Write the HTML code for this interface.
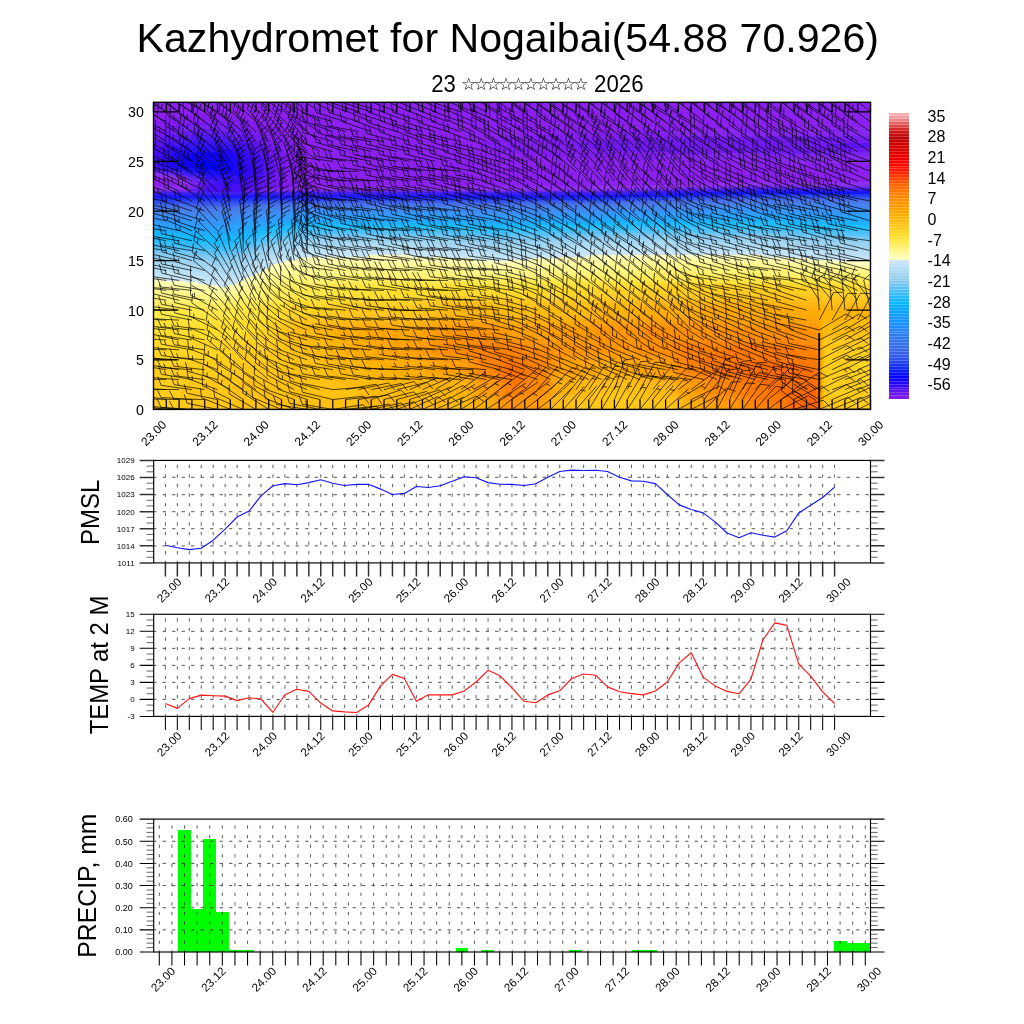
<!DOCTYPE html>
<html lang="en"><head><meta charset="utf-8"><title>Kazhydromet for Nogaibai(54.88 70.926)</title>
<style>html,body{margin:0;padding:0;background:#fff;overflow:hidden}svg{display:block}text{font-family:"Liberation Sans", "DejaVu Sans", sans-serif;fill:#000}</style>
</head><body>
<svg width="1024" height="1024" viewBox="0 0 1024 1024">
<rect width="1024" height="1024" fill="#fff"/>
<text x="136.6" y="52.4" font-size="41" textLength="742.4" lengthAdjust="spacingAndGlyphs">Kazhydromet for Nogaibai(54.88 70.926)</text>
<text x="431.3" y="91.8" font-size="23" textLength="24.6" lengthAdjust="spacingAndGlyphs">23</text>
<text x="460.9" y="89.9" font-size="17.2" textLength="127.8" lengthAdjust="spacing" style="font-family:'Liberation Sans','DejaVu Sans',sans-serif">☆☆☆☆☆☆☆☆☆☆</text>
<text x="594.1" y="91.8" font-size="23" textLength="49.5" lengthAdjust="spacingAndGlyphs">2026</text>
<clipPath id="mc"><rect x="153.5" y="102.3" width="717.0" height="307.1"/></clipPath>
<g clip-path="url(#mc)">
<rect x="153.5" y="102.3" width="717.0" height="307.1" fill="#9121f0"/>
<!--FIELD-->
<g shape-rendering="crispEdges">
<path fill="#8c20f0" d="M153.5 102.3h717v1.8h-717zM153.5 103.8h717v1.8h-717zM153.5 105.3h717v1.8h-717zM153.5 106.8h717v1.8h-717zM153.5 108.3h717v1.8h-717zM153.5 109.8h717v1.8h-717zM153.5 111.3h717v1.8h-717zM153.5 112.8h717v1.8h-717zM153.5 114.3h42v1.8h-42zM215.5 114.3h655v1.8h-655zM153.5 115.8h28v1.8h-28zM229.5 115.8h641v1.8h-641zM153.5 117.3h18v1.8h-18zM237.5 117.3h633v1.8h-633zM153.5 118.8h12v1.8h-12zM245.5 118.8h625v1.8h-625zM153.5 120.3h6v1.8h-6zM249.5 120.3h621v1.8h-621zM153.5 121.8h2v1.8h-2zM255.5 121.8h615v1.8h-615zM259.5 123.3h611v1.8h-611zM263.5 124.8h607v1.8h-607zM267.5 126.3h603v1.8h-603zM269.5 127.8h506v1.8h-506zM273.5 129.3h426v1.8h-426zM275.5 130.8h344v1.8h-344zM279.5 132.3h290v1.8h-290zM281.5 133.8h260v1.8h-260zM283.5 135.3h238v1.8h-238zM285.5 136.8h222v1.8h-222zM287.5 138.3h210v1.8h-210zM289.5 139.8h202v1.8h-202zM291.5 141.3h194v1.8h-194zM291.5 142.8h192v1.8h-192zM293.5 144.3h188v1.8h-188zM295.5 145.8h188v1.8h-188zM295.5 147.3h190v1.8h-190zM297.5 148.8h194v1.8h-194zM297.5 150.3h200v1.8h-200zM299.5 151.8h210v1.8h-210zM299.5 153.3h224v1.8h-224zM299.5 154.8h244v1.8h-244zM299.5 156.3h272v1.8h-272zM301.5 157.8h322v1.8h-322zM301.5 159.3h402v1.8h-402zM301.5 160.8h480v1.8h-480zM301.5 162.3h569v1.8h-569zM301.5 163.8h569v1.8h-569zM301.5 165.3h569v1.8h-569zM301.5 166.8h569v1.8h-569zM301.5 168.3h569v1.8h-569zM301.5 169.8h569v1.8h-569zM301.5 171.3h569v1.8h-569zM299.5 172.8h571v1.8h-571zM299.5 174.3h571v1.8h-571zM153.5 175.8h2v1.8h-2zM299.5 175.8h571v1.8h-571zM153.5 177.3h12v1.8h-12zM299.5 177.3h571v1.8h-571zM153.5 178.8h20v1.8h-20zM297.5 178.8h573v1.8h-573zM153.5 180.3h24v1.8h-24zM297.5 180.3h573v1.8h-573zM153.5 181.8h28v1.8h-28zM297.5 181.8h452v1.8h-452zM153.5 183.3h34v1.8h-34zM295.5 183.3h394v1.8h-394zM153.5 184.8h28v1.8h-28zM295.5 184.8h334v1.8h-334zM293.5 186.3h14v1.8h-14z"/>
<path fill="#811df0" d="M195.5 114.3h20v1.8h-20zM181.5 115.8h48v1.8h-48zM171.5 117.3h66v1.8h-66zM165.5 118.8h80v1.8h-80zM159.5 120.3h90v1.8h-90zM155.5 121.8h100v1.8h-100zM153.5 123.3h34v1.8h-34zM221.5 123.3h38v1.8h-38zM153.5 124.8h26v1.8h-26zM231.5 124.8h32v1.8h-32zM153.5 126.3h18v1.8h-18zM237.5 126.3h30v1.8h-30zM153.5 127.8h12v1.8h-12zM243.5 127.8h26v1.8h-26zM153.5 129.3h8v1.8h-8zM249.5 129.3h24v1.8h-24zM153.5 130.8h4v1.8h-4zM253.5 130.8h22v1.8h-22zM619.5 130.8h46v1.8h-46zM255.5 132.3h24v1.8h-24zM569.5 132.3h86v1.8h-86zM259.5 133.8h22v1.8h-22zM541.5 133.8h126v1.8h-126zM263.5 135.3h20v1.8h-20zM521.5 135.3h196v1.8h-196zM265.5 136.8h20v1.8h-20zM507.5 136.8h160v1.8h-160zM267.5 138.3h20v1.8h-20zM497.5 138.3h126v1.8h-126zM269.5 139.8h20v1.8h-20zM491.5 139.8h108v1.8h-108zM271.5 141.3h20v1.8h-20zM485.5 141.3h100v1.8h-100zM273.5 142.8h18v1.8h-18zM483.5 142.8h94v1.8h-94zM275.5 144.3h18v1.8h-18zM481.5 144.3h94v1.8h-94zM277.5 145.8h18v1.8h-18zM483.5 145.8h94v1.8h-94zM279.5 147.3h16v1.8h-16zM485.5 147.3h100v1.8h-100zM279.5 148.8h18v1.8h-18zM491.5 148.8h108v1.8h-108zM281.5 150.3h16v1.8h-16zM497.5 150.3h128v1.8h-128zM281.5 151.8h18v1.8h-18zM509.5 151.8h162v1.8h-162zM283.5 153.3h16v1.8h-16zM523.5 153.3h188v1.8h-188zM283.5 154.8h16v1.8h-16zM543.5 154.8h122v1.8h-122zM283.5 156.3h16v1.8h-16zM571.5 156.3h84v1.8h-84zM285.5 157.8h16v1.8h-16zM623.5 157.8h42v1.8h-42zM285.5 159.3h16v1.8h-16zM285.5 160.8h16v1.8h-16zM285.5 162.3h16v1.8h-16zM285.5 163.8h16v1.8h-16zM285.5 165.3h16v1.8h-16zM285.5 166.8h16v1.8h-16zM285.5 168.3h16v1.8h-16zM285.5 169.8h16v1.8h-16zM285.5 171.3h16v1.8h-16zM285.5 172.8h14v1.8h-14zM285.5 174.3h14v1.8h-14zM283.5 175.8h16v1.8h-16zM283.5 177.3h16v1.8h-16zM283.5 178.8h14v1.8h-14zM281.5 180.3h16v1.8h-16zM281.5 181.8h16v1.8h-16zM187.5 183.3h6v1.8h-6zM279.5 183.3h16v1.8h-16zM189.5 184.8h4v1.8h-4zM279.5 184.8h16v1.8h-16zM277.5 186.3h16v1.8h-16zM275.5 187.8h6v1.8h-6z"/>
<path fill="#7119f0" d="M187.5 123.3h34v1.8h-34zM179.5 124.8h16v1.8h-16zM213.5 124.8h18v1.8h-18zM171.5 126.3h16v1.8h-16zM223.5 126.3h14v1.8h-14zM165.5 127.8h18v1.8h-18zM227.5 127.8h16v1.8h-16zM161.5 129.3h18v1.8h-18zM231.5 129.3h18v1.8h-18zM157.5 130.8h18v1.8h-18zM233.5 130.8h20v1.8h-20zM153.5 132.3h20v1.8h-20zM237.5 132.3h18v1.8h-18zM153.5 133.8h18v1.8h-18zM239.5 133.8h20v1.8h-20zM153.5 135.3h12v1.8h-12zM243.5 135.3h20v1.8h-20zM153.5 136.8h10v1.8h-10zM247.5 136.8h18v1.8h-18zM667.5 136.8h178v1.8h-178zM153.5 138.3h6v1.8h-6zM251.5 138.3h16v1.8h-16zM623.5 138.3h247v1.8h-247zM153.5 139.8h2v1.8h-2zM253.5 139.8h16v1.8h-16zM599.5 139.8h271v1.8h-271zM257.5 141.3h14v1.8h-14zM585.5 141.3h285v1.8h-285zM259.5 142.8h14v1.8h-14zM577.5 142.8h262v1.8h-262zM261.5 144.3h14v1.8h-14zM575.5 144.3h254v1.8h-254zM263.5 145.8h14v1.8h-14zM577.5 145.8h264v1.8h-264zM265.5 147.3h14v1.8h-14zM585.5 147.3h285v1.8h-285zM265.5 148.8h14v1.8h-14zM599.5 148.8h271v1.8h-271zM267.5 150.3h14v1.8h-14zM625.5 150.3h245v1.8h-245zM269.5 151.8h12v1.8h-12zM671.5 151.8h162v1.8h-162zM269.5 153.3h14v1.8h-14zM271.5 154.8h12v1.8h-12zM271.5 156.3h12v1.8h-12zM271.5 157.8h14v1.8h-14zM273.5 159.3h12v1.8h-12zM273.5 160.8h12v1.8h-12zM273.5 162.3h12v1.8h-12zM273.5 163.8h12v1.8h-12zM273.5 165.3h12v1.8h-12zM273.5 166.8h12v1.8h-12zM273.5 168.3h12v1.8h-12zM273.5 169.8h12v1.8h-12zM273.5 171.3h12v1.8h-12zM273.5 172.8h12v1.8h-12zM273.5 174.3h12v1.8h-12zM271.5 175.8h12v1.8h-12zM271.5 177.3h12v1.8h-12zM269.5 178.8h14v1.8h-14zM269.5 180.3h12v1.8h-12zM267.5 181.8h14v1.8h-14zM193.5 183.3h6v1.8h-6zM267.5 183.3h12v1.8h-12zM193.5 184.8h6v1.8h-6zM265.5 184.8h14v1.8h-14zM263.5 186.3h14v1.8h-14zM261.5 187.8h14v1.8h-14zM259.5 189.3h2v1.8h-2z"/>
<path fill="#7722f1" d="M195.5 124.8h18v1.8h-18zM187.5 126.3h36v1.8h-36zM183.5 127.8h44v1.8h-44zM179.5 129.3h14v1.8h-14zM217.5 129.3h14v1.8h-14zM175.5 130.8h8v1.8h-8zM227.5 130.8h6v1.8h-6zM173.5 132.3h2v1.8h-2zM233.5 132.3h4v1.8h-4zM749.5 135.3h121v1.8h-121zM845.5 136.8h25v1.8h-25zM833.5 151.8h37v1.8h-37zM757.5 153.3h113v1.8h-113zM189.5 180.3h6v1.8h-6zM191.5 181.8h6v1.8h-6zM191.5 186.3h6v1.8h-6zM187.5 187.8h8v1.8h-8zM189.5 189.3h2v1.8h-2zM261.5 189.3h8v1.8h-8z"/>
<path fill="#9029f1" d="M775.5 127.8h95v1.8h-95zM699.5 129.3h34v1.8h-34zM703.5 159.3h42v1.8h-42zM781.5 160.8h89v1.8h-89zM155.5 175.8h4v1.8h-4zM165.5 177.3h4v1.8h-4zM173.5 178.8h2v1.8h-2zM177.5 180.3h4v1.8h-4zM181.5 181.8h6v1.8h-6zM749.5 181.8h121v1.8h-121zM689.5 183.3h22v1.8h-22zM181.5 184.8h6v1.8h-6zM629.5 184.8h22v1.8h-22zM153.5 186.3h30v1.8h-30zM307.5 186.3h284v1.8h-284z"/>
<path fill="#621cf1" d="M193.5 129.3h24v1.8h-24zM183.5 130.8h44v1.8h-44zM175.5 132.3h58v1.8h-58zM173.5 133.8h64v1.8h-64zM171.5 135.3h20v1.8h-20zM219.5 135.3h20v1.8h-20zM171.5 136.8h12v1.8h-12zM227.5 136.8h12v1.8h-12zM169.5 138.3h8v1.8h-8zM233.5 138.3h6v1.8h-6zM169.5 139.8h4v1.8h-4zM237.5 139.8h2v1.8h-2zM195.5 180.3h8v1.8h-8zM197.5 181.8h8v1.8h-8zM197.5 186.3h2v1.8h-2zM195.5 187.8h8v1.8h-8zM191.5 189.3h10v1.8h-10zM197.5 190.8h2v1.8h-2zM243.5 190.8h4v1.8h-4z"/>
<path fill="#8626f1" d="M733.5 129.3h137v1.8h-137zM665.5 130.8h205v1.8h-205zM655.5 132.3h215v1.8h-215zM667.5 133.8h203v1.8h-203zM717.5 135.3h32v1.8h-32zM711.5 153.3h46v1.8h-46zM665.5 154.8h205v1.8h-205zM655.5 156.3h215v1.8h-215zM665.5 157.8h205v1.8h-205zM745.5 159.3h125v1.8h-125zM183.5 180.3h6v1.8h-6zM187.5 181.8h4v1.8h-4zM187.5 184.8h2v1.8h-2zM183.5 186.3h8v1.8h-8zM185.5 187.8h2v1.8h-2zM281.5 187.8h8v1.8h-8z"/>
<path fill="#5b13f0" d="M171.5 133.8h2v1.8h-2zM237.5 133.8h2v1.8h-2zM165.5 135.3h6v1.8h-6zM239.5 135.3h4v1.8h-4zM163.5 136.8h8v1.8h-8zM239.5 136.8h8v1.8h-8zM159.5 138.3h10v1.8h-10zM239.5 138.3h12v1.8h-12zM155.5 139.8h14v1.8h-14zM239.5 139.8h14v1.8h-14zM153.5 141.3h16v1.8h-16zM241.5 141.3h16v1.8h-16zM153.5 142.8h12v1.8h-12zM245.5 142.8h14v1.8h-14zM839.5 142.8h31v1.8h-31zM153.5 144.3h10v1.8h-10zM247.5 144.3h14v1.8h-14zM829.5 144.3h41v1.8h-41zM153.5 145.8h6v1.8h-6zM249.5 145.8h14v1.8h-14zM841.5 145.8h29v1.8h-29zM153.5 147.3h4v1.8h-4zM251.5 147.3h14v1.8h-14zM153.5 148.8h2v1.8h-2zM253.5 148.8h12v1.8h-12zM255.5 150.3h12v1.8h-12zM257.5 151.8h12v1.8h-12zM259.5 153.3h10v1.8h-10zM259.5 154.8h12v1.8h-12zM261.5 156.3h10v1.8h-10zM261.5 157.8h10v1.8h-10zM263.5 159.3h10v1.8h-10zM263.5 160.8h10v1.8h-10zM263.5 162.3h10v1.8h-10zM263.5 163.8h10v1.8h-10zM263.5 165.3h10v1.8h-10zM263.5 166.8h10v1.8h-10zM263.5 168.3h10v1.8h-10zM263.5 169.8h10v1.8h-10zM263.5 171.3h10v1.8h-10zM263.5 172.8h10v1.8h-10zM261.5 174.3h12v1.8h-12zM261.5 175.8h10v1.8h-10zM259.5 177.3h12v1.8h-12zM259.5 178.8h10v1.8h-10zM257.5 180.3h12v1.8h-12zM255.5 181.8h12v1.8h-12zM199.5 183.3h8v1.8h-8zM253.5 183.3h14v1.8h-14zM199.5 184.8h8v1.8h-8zM251.5 184.8h14v1.8h-14zM199.5 186.3h8v1.8h-8zM249.5 186.3h14v1.8h-14zM203.5 187.8h2v1.8h-2zM247.5 187.8h14v1.8h-14zM245.5 189.3h14v1.8h-14z"/>
<path fill="#4d18f3" d="M191.5 135.3h28v1.8h-28zM183.5 136.8h44v1.8h-44zM177.5 138.3h56v1.8h-56zM173.5 139.8h28v1.8h-28zM209.5 139.8h28v1.8h-28zM171.5 141.3h18v1.8h-18zM221.5 141.3h18v1.8h-18zM171.5 142.8h10v1.8h-10zM227.5 142.8h10v1.8h-10zM173.5 144.3h4v1.8h-4zM233.5 144.3h2v1.8h-2zM153.5 166.8h6v1.8h-6zM153.5 168.3h10v1.8h-10zM165.5 169.8h2v1.8h-2zM199.5 178.8h8v1.8h-8zM203.5 180.3h10v1.8h-10zM205.5 181.8h12v1.8h-12zM201.5 189.3h2v1.8h-2zM199.5 190.8h6v1.8h-6zM239.5 190.8h4v1.8h-4z"/>
<path fill="#3a14f6" d="M201.5 139.8h8v1.8h-8zM189.5 141.3h32v1.8h-32zM181.5 142.8h46v1.8h-46zM177.5 144.3h56v1.8h-56zM175.5 145.8h20v1.8h-20zM215.5 145.8h18v1.8h-18zM179.5 147.3h8v1.8h-8zM223.5 147.3h8v1.8h-8zM159.5 166.8h10v1.8h-10zM163.5 168.3h10v1.8h-10zM167.5 169.8h10v1.8h-10zM205.5 177.3h10v1.8h-10zM231.5 177.3h6v1.8h-6zM207.5 178.8h30v1.8h-30zM213.5 180.3h20v1.8h-20zM217.5 181.8h4v1.8h-4z"/>
<path fill="#460ef2" d="M169.5 141.3h2v1.8h-2zM239.5 141.3h2v1.8h-2zM165.5 142.8h6v1.8h-6zM237.5 142.8h8v1.8h-8zM163.5 144.3h10v1.8h-10zM235.5 144.3h12v1.8h-12zM159.5 145.8h14v1.8h-14zM235.5 145.8h14v1.8h-14zM157.5 147.3h14v1.8h-14zM239.5 147.3h12v1.8h-12zM155.5 148.8h12v1.8h-12zM241.5 148.8h12v1.8h-12zM153.5 150.3h12v1.8h-12zM243.5 150.3h12v1.8h-12zM153.5 151.8h10v1.8h-10zM245.5 151.8h12v1.8h-12zM153.5 153.3h8v1.8h-8zM247.5 153.3h12v1.8h-12zM153.5 154.8h8v1.8h-8zM249.5 154.8h10v1.8h-10zM153.5 156.3h6v1.8h-6zM251.5 156.3h10v1.8h-10zM153.5 157.8h6v1.8h-6zM251.5 157.8h10v1.8h-10zM153.5 159.3h4v1.8h-4zM251.5 159.3h12v1.8h-12zM153.5 160.8h4v1.8h-4zM253.5 160.8h10v1.8h-10zM153.5 162.3h4v1.8h-4zM253.5 162.3h10v1.8h-10zM153.5 163.8h4v1.8h-4zM253.5 163.8h10v1.8h-10zM153.5 165.3h4v1.8h-4zM253.5 165.3h10v1.8h-10zM253.5 166.8h10v1.8h-10zM253.5 168.3h10v1.8h-10zM253.5 169.8h10v1.8h-10zM253.5 171.3h10v1.8h-10zM251.5 172.8h12v1.8h-12zM251.5 174.3h10v1.8h-10zM249.5 175.8h12v1.8h-12zM247.5 177.3h12v1.8h-12zM245.5 178.8h14v1.8h-14zM243.5 180.3h14v1.8h-14zM239.5 181.8h16v1.8h-16zM207.5 183.3h16v1.8h-16zM233.5 183.3h20v1.8h-20zM207.5 184.8h44v1.8h-44zM207.5 186.3h42v1.8h-42zM205.5 187.8h42v1.8h-42zM203.5 189.3h42v1.8h-42zM205.5 190.8h34v1.8h-34z"/>
<path fill="#320af6" d="M173.5 145.8h2v1.8h-2zM233.5 145.8h2v1.8h-2zM171.5 147.3h8v1.8h-8zM231.5 147.3h8v1.8h-8zM167.5 148.8h16v1.8h-16zM227.5 148.8h14v1.8h-14zM165.5 150.3h14v1.8h-14zM231.5 150.3h12v1.8h-12zM163.5 151.8h14v1.8h-14zM233.5 151.8h12v1.8h-12zM161.5 153.3h12v1.8h-12zM235.5 153.3h12v1.8h-12zM161.5 154.8h10v1.8h-10zM237.5 154.8h12v1.8h-12zM159.5 156.3h12v1.8h-12zM239.5 156.3h12v1.8h-12zM159.5 157.8h10v1.8h-10zM241.5 157.8h10v1.8h-10zM157.5 159.3h10v1.8h-10zM241.5 159.3h10v1.8h-10zM157.5 160.8h10v1.8h-10zM243.5 160.8h10v1.8h-10zM157.5 162.3h10v1.8h-10zM243.5 162.3h10v1.8h-10zM157.5 163.8h10v1.8h-10zM243.5 163.8h10v1.8h-10zM157.5 165.3h10v1.8h-10zM243.5 165.3h10v1.8h-10zM243.5 166.8h10v1.8h-10zM243.5 168.3h10v1.8h-10zM243.5 169.8h10v1.8h-10zM243.5 171.3h10v1.8h-10zM241.5 172.8h10v1.8h-10zM239.5 174.3h12v1.8h-12zM235.5 175.8h14v1.8h-14zM237.5 177.3h10v1.8h-10zM237.5 178.8h8v1.8h-8zM233.5 180.3h10v1.8h-10zM221.5 181.8h18v1.8h-18zM223.5 183.3h10v1.8h-10z"/>
<path fill="#2910fa" d="M195.5 145.8h20v1.8h-20zM187.5 147.3h36v1.8h-36zM183.5 148.8h42v1.8h-42zM191.5 150.3h26v1.8h-26zM169.5 166.8h4v1.8h-4zM173.5 168.3h10v1.8h-10zM177.5 169.8h10v1.8h-10zM185.5 171.3h10v1.8h-10zM195.5 172.8h8v1.8h-8zM225.5 172.8h2v1.8h-2zM201.5 174.3h32v1.8h-32zM205.5 175.8h30v1.8h-30zM215.5 177.3h16v1.8h-16z"/>
<path fill="#2006f9" d="M225.5 148.8h2v1.8h-2zM179.5 150.3h12v1.8h-12zM217.5 150.3h14v1.8h-14zM177.5 151.8h20v1.8h-20zM213.5 151.8h20v1.8h-20zM173.5 153.3h18v1.8h-18zM219.5 153.3h16v1.8h-16zM171.5 154.8h16v1.8h-16zM223.5 154.8h14v1.8h-14zM171.5 156.3h12v1.8h-12zM225.5 156.3h14v1.8h-14zM169.5 157.8h12v1.8h-12zM229.5 157.8h12v1.8h-12zM167.5 159.3h12v1.8h-12zM229.5 159.3h12v1.8h-12zM167.5 160.8h12v1.8h-12zM231.5 160.8h12v1.8h-12zM167.5 162.3h10v1.8h-10zM231.5 162.3h12v1.8h-12zM167.5 163.8h10v1.8h-10zM233.5 163.8h10v1.8h-10zM167.5 165.3h12v1.8h-12zM233.5 165.3h10v1.8h-10zM173.5 166.8h8v1.8h-8zM233.5 166.8h10v1.8h-10zM233.5 168.3h10v1.8h-10zM231.5 169.8h12v1.8h-12zM229.5 171.3h14v1.8h-14zM227.5 172.8h14v1.8h-14zM233.5 174.3h6v1.8h-6z"/>
<path fill="#1003fc" d="M197.5 151.8h16v1.8h-16zM191.5 153.3h28v1.8h-28zM187.5 154.8h36v1.8h-36zM183.5 156.3h42v1.8h-42zM181.5 157.8h48v1.8h-48zM179.5 159.3h50v1.8h-50zM179.5 160.8h20v1.8h-20zM211.5 160.8h20v1.8h-20zM177.5 162.3h18v1.8h-18zM215.5 162.3h16v1.8h-16zM177.5 163.8h18v1.8h-18zM215.5 163.8h18v1.8h-18zM179.5 165.3h16v1.8h-16zM217.5 165.3h16v1.8h-16zM181.5 166.8h16v1.8h-16zM215.5 166.8h18v1.8h-18zM197.5 168.3h8v1.8h-8zM211.5 168.3h22v1.8h-22zM211.5 169.8h20v1.8h-20zM219.5 171.3h10v1.8h-10z"/>
<path fill="#0000ff" d="M199.5 160.8h12v1.8h-12zM195.5 162.3h20v1.8h-20zM195.5 163.8h20v1.8h-20zM195.5 165.3h22v1.8h-22zM197.5 166.8h18v1.8h-18zM205.5 168.3h6v1.8h-6z"/>
<path fill="#1a0dfc" d="M183.5 168.3h14v1.8h-14zM187.5 169.8h24v1.8h-24zM195.5 171.3h24v1.8h-24zM203.5 172.8h22v1.8h-22z"/>
<path fill="#6927f1" d="M153.5 169.8h6v1.8h-6zM155.5 171.3h10v1.8h-10zM163.5 172.8h8v1.8h-8zM173.5 174.3h6v1.8h-6zM179.5 175.8h8v1.8h-8zM187.5 177.3h6v1.8h-6zM191.5 178.8h8v1.8h-8zM735.5 186.3h135v1.8h-135zM675.5 187.8h46v1.8h-46zM615.5 189.3h46v1.8h-46zM153.5 190.8h44v1.8h-44zM247.5 190.8h354v1.8h-354z"/>
<path fill="#5622f3" d="M159.5 169.8h6v1.8h-6zM165.5 171.3h8v1.8h-8zM171.5 172.8h10v1.8h-10zM179.5 174.3h8v1.8h-8zM187.5 175.8h8v1.8h-8zM193.5 177.3h8v1.8h-8zM721.5 187.8h149v1.8h-149zM661.5 189.3h46v1.8h-46zM601.5 190.8h46v1.8h-46z"/>
<path fill="#7d2df1" d="M153.5 171.3h2v1.8h-2zM155.5 172.8h8v1.8h-8zM165.5 174.3h8v1.8h-8zM173.5 175.8h6v1.8h-6zM181.5 177.3h6v1.8h-6zM185.5 178.8h6v1.8h-6zM747.5 184.8h123v1.8h-123zM687.5 186.3h48v1.8h-48zM627.5 187.8h48v1.8h-48zM153.5 189.3h36v1.8h-36zM269.5 189.3h346v1.8h-346z"/>
<path fill="#431ff7" d="M173.5 171.3h10v1.8h-10zM181.5 172.8h8v1.8h-8zM187.5 174.3h10v1.8h-10zM195.5 175.8h10v1.8h-10zM201.5 177.3h4v1.8h-4zM707.5 189.3h48v1.8h-48zM647.5 190.8h48v1.8h-48zM153.5 192.3h482v1.8h-482z"/>
<path fill="#331cfa" d="M183.5 171.3h2v1.8h-2zM189.5 172.8h6v1.8h-6zM197.5 174.3h4v1.8h-4zM755.5 189.3h115v1.8h-115zM695.5 190.8h46v1.8h-46zM635.5 192.3h46v1.8h-46zM153.5 193.8h468v1.8h-468z"/>
<path fill="#8c30f1" d="M153.5 172.8h2v1.8h-2zM157.5 174.3h8v1.8h-8zM167.5 175.8h6v1.8h-6zM175.5 177.3h6v1.8h-6zM181.5 178.8h4v1.8h-4zM761.5 183.3h109v1.8h-109zM701.5 184.8h46v1.8h-46zM641.5 186.3h46v1.8h-46zM153.5 187.8h32v1.8h-32zM289.5 187.8h338v1.8h-338z"/>
<path fill="#9633f1" d="M153.5 174.3h4v1.8h-4zM159.5 175.8h8v1.8h-8zM169.5 177.3h6v1.8h-6zM175.5 178.8h6v1.8h-6zM181.5 180.3h2v1.8h-2zM711.5 183.3h50v1.8h-50zM651.5 184.8h50v1.8h-50zM591.5 186.3h50v1.8h-50z"/>
<path fill="#2419fc" d="M741.5 190.8h129v1.8h-129zM681.5 192.3h46v1.8h-46zM621.5 193.8h46v1.8h-46zM153.5 195.3h454v1.8h-454z"/>
<path fill="#1616ff" d="M727.5 192.3h143v1.8h-143zM667.5 193.8h42v1.8h-42zM607.5 195.3h42v1.8h-42zM153.5 196.8h150v1.8h-150zM453.5 196.8h98v1.8h-98z"/>
<path fill="#1b24fb" d="M709.5 193.8h36v1.8h-36zM649.5 195.3h34v1.8h-34zM303.5 196.8h150v1.8h-150zM551.5 196.8h70v1.8h-70z"/>
<path fill="#2132f7" d="M745.5 193.8h125v1.8h-125zM683.5 195.3h36v1.8h-36zM621.5 196.8h36v1.8h-36zM153.5 198.3h442v1.8h-442z"/>
<path fill="#283ef5" d="M719.5 195.3h40v1.8h-40zM827.5 195.3h43v1.8h-43zM657.5 196.8h36v1.8h-36zM595.5 198.3h34v1.8h-34zM153.5 199.8h118v1.8h-118z"/>
<path fill="#2f4af2" d="M759.5 195.3h68v1.8h-68zM693.5 196.8h38v1.8h-38zM629.5 198.3h38v1.8h-38zM271.5 199.8h332v1.8h-332zM153.5 201.3h104v1.8h-104z"/>
<path fill="#3755f0" d="M731.5 196.8h139v1.8h-139zM667.5 198.3h38v1.8h-38zM603.5 199.8h34v1.8h-34zM257.5 201.3h36v1.8h-36zM477.5 201.3h44v1.8h-44zM153.5 202.8h94v1.8h-94z"/>
<path fill="#3e5fee" d="M705.5 198.3h40v1.8h-40zM847.5 198.3h23v1.8h-23zM637.5 199.8h40v1.8h-40zM293.5 201.3h184v1.8h-184zM521.5 201.3h88v1.8h-88zM247.5 202.8h22v1.8h-22zM189.5 204.3h50v1.8h-50z"/>
<path fill="#4569eb" d="M745.5 198.3h102v1.8h-102zM677.5 199.8h40v1.8h-40zM609.5 201.3h38v1.8h-38zM269.5 202.8h54v1.8h-54zM433.5 202.8h142v1.8h-142zM153.5 204.3h36v1.8h-36zM239.5 204.3h22v1.8h-22zM207.5 205.8h26v1.8h-26z"/>
<path fill="#4970ea" d="M717.5 199.8h44v1.8h-44zM781.5 199.8h89v1.8h-89zM647.5 201.3h40v1.8h-40zM323.5 202.8h110v1.8h-110zM575.5 202.8h42v1.8h-42zM261.5 204.3h22v1.8h-22zM153.5 205.8h54v1.8h-54zM233.5 205.8h22v1.8h-22z"/>
<path fill="#4975ea" d="M761.5 199.8h20v1.8h-20zM687.5 201.3h42v1.8h-42zM855.5 201.3h15v1.8h-15zM617.5 202.8h40v1.8h-40zM283.5 204.3h310v1.8h-310zM255.5 205.8h14v1.8h-14zM153.5 207.3h96v1.8h-96z"/>
<path fill="#497aea" d="M729.5 201.3h126v1.8h-126zM657.5 202.8h42v1.8h-42zM593.5 204.3h32v1.8h-32zM269.5 205.8h24v1.8h-24zM479.5 205.8h40v1.8h-40zM249.5 207.3h14v1.8h-14zM153.5 208.8h92v1.8h-92z"/>
<path fill="#487eeb" d="M699.5 202.8h46v1.8h-46zM801.5 202.8h69v1.8h-69zM625.5 204.3h42v1.8h-42zM293.5 205.8h186v1.8h-186zM519.5 205.8h80v1.8h-80zM263.5 207.3h14v1.8h-14zM245.5 208.8h14v1.8h-14zM183.5 210.3h58v1.8h-58z"/>
<path fill="#4582ed" d="M745.5 202.8h56v1.8h-56zM667.5 204.3h46v1.8h-46zM859.5 204.3h11v1.8h-11zM599.5 205.8h36v1.8h-36zM277.5 207.3h26v1.8h-26zM453.5 207.3h98v1.8h-98zM259.5 208.8h10v1.8h-10zM153.5 210.3h30v1.8h-30zM241.5 210.3h14v1.8h-14zM195.5 211.8h42v1.8h-42z"/>
<path fill="#4385ef" d="M713.5 204.3h146v1.8h-146zM635.5 205.8h76v1.8h-76zM841.5 205.8h29v1.8h-29zM303.5 207.3h150v1.8h-150zM551.5 207.3h80v1.8h-80zM269.5 208.8h34v1.8h-34zM455.5 208.8h94v1.8h-94zM255.5 210.3h16v1.8h-16zM153.5 211.8h42v1.8h-42zM237.5 211.8h20v1.8h-20zM163.5 213.3h80v1.8h-80z"/>
<path fill="#4189f0" d="M711.5 205.8h130v1.8h-130zM631.5 207.3h80v1.8h-80zM827.5 207.3h43v1.8h-43zM303.5 208.8h152v1.8h-152zM549.5 208.8h76v1.8h-76zM271.5 210.3h30v1.8h-30zM457.5 210.3h90v1.8h-90zM257.5 211.8h16v1.8h-16zM153.5 213.3h10v1.8h-10zM243.5 213.3h18v1.8h-18zM153.5 214.8h94v1.8h-94zM205.5 216.3h28v1.8h-28z"/>
<path fill="#3d8df4" d="M711.5 207.3h116v1.8h-116zM625.5 208.8h84v1.8h-84zM817.5 208.8h53v1.8h-53zM301.5 210.3h156v1.8h-156zM547.5 210.3h74v1.8h-74zM273.5 211.8h28v1.8h-28zM459.5 211.8h86v1.8h-86zM261.5 213.3h12v1.8h-12zM247.5 214.8h16v1.8h-16zM153.5 216.3h52v1.8h-52zM233.5 216.3h18v1.8h-18zM189.5 217.8h50v1.8h-50z"/>
<path fill="#3892f8" d="M709.5 208.8h108v1.8h-108zM621.5 210.3h88v1.8h-88zM811.5 210.3h59v1.8h-59zM301.5 211.8h158v1.8h-158zM545.5 211.8h70v1.8h-70zM273.5 213.3h28v1.8h-28zM461.5 213.3h82v1.8h-82zM263.5 214.8h12v1.8h-12zM251.5 216.3h14v1.8h-14zM153.5 217.8h36v1.8h-36zM239.5 217.8h16v1.8h-16zM163.5 219.3h80v1.8h-80zM213.5 220.8h18v1.8h-18z"/>
<path fill="#3497fd" d="M709.5 210.3h102v1.8h-102zM615.5 211.8h92v1.8h-92zM805.5 211.8h65v1.8h-65zM301.5 213.3h160v1.8h-160zM543.5 213.3h70v1.8h-70zM275.5 214.8h24v1.8h-24zM461.5 214.8h80v1.8h-80zM265.5 216.3h12v1.8h-12zM255.5 217.8h10v1.8h-10zM153.5 219.3h10v1.8h-10zM243.5 219.3h14v1.8h-14zM153.5 220.8h60v1.8h-60zM231.5 220.8h16v1.8h-16zM199.5 222.3h36v1.8h-36z"/>
<path fill="#2f9bff" d="M707.5 211.8h98v1.8h-98zM613.5 213.3h92v1.8h-92zM801.5 213.3h69v1.8h-69zM299.5 214.8h162v1.8h-162zM541.5 214.8h68v1.8h-68zM277.5 216.3h22v1.8h-22zM463.5 216.3h78v1.8h-78zM265.5 217.8h14v1.8h-14zM257.5 219.3h10v1.8h-10zM247.5 220.8h12v1.8h-12zM153.5 222.3h46v1.8h-46zM235.5 222.3h14v1.8h-14zM185.5 223.8h54v1.8h-54zM217.5 225.3h8v1.8h-8z"/>
<path fill="#2c9fff" d="M705.5 213.3h96v1.8h-96zM609.5 214.8h94v1.8h-94zM797.5 214.8h73v1.8h-73zM299.5 216.3h164v1.8h-164zM541.5 216.3h66v1.8h-66zM279.5 217.8h20v1.8h-20zM463.5 217.8h76v1.8h-76zM267.5 219.3h12v1.8h-12zM259.5 220.8h8v1.8h-8zM249.5 222.3h12v1.8h-12zM153.5 223.8h32v1.8h-32zM239.5 223.8h12v1.8h-12zM161.5 225.3h56v1.8h-56zM225.5 225.3h18v1.8h-18zM205.5 226.8h28v1.8h-28z"/>
<path fill="#28a3ff" d="M703.5 214.8h94v1.8h-94zM607.5 216.3h94v1.8h-94zM793.5 216.3h77v1.8h-77zM299.5 217.8h164v1.8h-164zM539.5 217.8h66v1.8h-66zM869.5 217.8h1v1.8h-1zM279.5 219.3h20v1.8h-20zM465.5 219.3h74v1.8h-74zM267.5 220.8h14v1.8h-14zM261.5 222.3h8v1.8h-8zM251.5 223.8h10v1.8h-10zM153.5 225.3h8v1.8h-8zM243.5 225.3h12v1.8h-12zM153.5 226.8h52v1.8h-52zM233.5 226.8h12v1.8h-12zM193.5 228.3h44v1.8h-44z"/>
<path fill="#24a6ff" d="M701.5 216.3h92v1.8h-92zM605.5 217.8h94v1.8h-94zM789.5 217.8h80v1.8h-80zM299.5 219.3h166v1.8h-166zM539.5 219.3h62v1.8h-62zM859.5 219.3h11v1.8h-11zM281.5 220.8h18v1.8h-18zM465.5 220.8h72v1.8h-72zM269.5 222.3h12v1.8h-12zM261.5 223.8h8v1.8h-8zM255.5 225.3h8v1.8h-8zM245.5 226.8h10v1.8h-10zM153.5 228.3h40v1.8h-40zM237.5 228.3h12v1.8h-12zM181.5 229.8h60v1.8h-60zM209.5 231.3h24v1.8h-24z"/>
<path fill="#20abff" d="M699.5 217.8h90v1.8h-90zM601.5 219.3h96v1.8h-96zM787.5 219.3h72v1.8h-72zM299.5 220.8h166v1.8h-166zM537.5 220.8h62v1.8h-62zM851.5 220.8h19v1.8h-19zM281.5 222.3h18v1.8h-18zM465.5 222.3h72v1.8h-72zM269.5 223.8h12v1.8h-12zM263.5 225.3h8v1.8h-8zM255.5 226.8h8v1.8h-8zM249.5 228.3h8v1.8h-8zM153.5 229.8h28v1.8h-28zM241.5 229.8h10v1.8h-10zM161.5 231.3h48v1.8h-48zM233.5 231.3h10v1.8h-10zM199.5 232.8h36v1.8h-36z"/>
<path fill="#1cb1ff" d="M697.5 219.3h90v1.8h-90zM599.5 220.8h96v1.8h-96zM785.5 220.8h66v1.8h-66zM299.5 222.3h166v1.8h-166zM537.5 222.3h60v1.8h-60zM843.5 222.3h27v1.8h-27zM281.5 223.8h18v1.8h-18zM465.5 223.8h72v1.8h-72zM271.5 225.3h12v1.8h-12zM263.5 226.8h8v1.8h-8zM257.5 228.3h8v1.8h-8zM251.5 229.8h8v1.8h-8zM153.5 231.3h8v1.8h-8zM243.5 231.3h10v1.8h-10zM153.5 232.8h46v1.8h-46zM235.5 232.8h10v1.8h-10zM191.5 234.3h48v1.8h-48zM213.5 235.8h18v1.8h-18z"/>
<path fill="#18b7ff" d="M695.5 220.8h90v1.8h-90zM597.5 222.3h94v1.8h-94zM783.5 222.3h60v1.8h-60zM299.5 223.8h166v1.8h-166zM537.5 223.8h58v1.8h-58zM835.5 223.8h35v1.8h-35zM283.5 225.3h16v1.8h-16zM467.5 225.3h68v1.8h-68zM271.5 226.8h12v1.8h-12zM265.5 228.3h6v1.8h-6zM259.5 229.8h6v1.8h-6zM253.5 231.3h6v1.8h-6zM245.5 232.8h10v1.8h-10zM153.5 234.3h38v1.8h-38zM239.5 234.3h8v1.8h-8zM179.5 235.8h34v1.8h-34zM231.5 235.8h10v1.8h-10zM205.5 237.3h28v1.8h-28z"/>
<path fill="#1cbcff" d="M691.5 222.3h92v1.8h-92zM595.5 223.8h140v1.8h-140zM765.5 223.8h70v1.8h-70zM299.5 225.3h168v1.8h-168zM535.5 225.3h68v1.8h-68zM813.5 225.3h57v1.8h-57zM283.5 226.8h20v1.8h-20zM453.5 226.8h98v1.8h-98zM271.5 228.3h16v1.8h-16zM497.5 228.3h6v1.8h-6zM265.5 229.8h10v1.8h-10zM259.5 231.3h10v1.8h-10zM255.5 232.8h8v1.8h-8zM247.5 234.3h10v1.8h-10zM153.5 235.8h26v1.8h-26zM241.5 235.8h4v1.8h-4zM249.5 235.8h2v1.8h-2zM197.5 237.3h8v1.8h-8zM233.5 237.3h4v1.8h-4z"/>
<path fill="#2abffe" d="M735.5 223.8h30v1.8h-30zM603.5 225.3h210v1.8h-210zM303.5 226.8h150v1.8h-150zM551.5 226.8h60v1.8h-60zM797.5 226.8h73v1.8h-73zM287.5 228.3h20v1.8h-20zM439.5 228.3h58v1.8h-58zM503.5 228.3h64v1.8h-64zM847.5 228.3h23v1.8h-23zM275.5 229.8h16v1.8h-16zM485.5 229.8h26v1.8h-26zM269.5 231.3h10v1.8h-10zM263.5 232.8h8v1.8h-8zM257.5 234.3h8v1.8h-8zM251.5 235.8h10v1.8h-10zM249.5 237.3h6v1.8h-6z"/>
<path fill="#39c0fc" d="M611.5 226.8h186v1.8h-186zM307.5 228.3h132v1.8h-132zM567.5 228.3h74v1.8h-74zM781.5 228.3h66v1.8h-66zM291.5 229.8h46v1.8h-46zM425.5 229.8h60v1.8h-60zM511.5 229.8h68v1.8h-68zM823.5 229.8h47v1.8h-47zM279.5 231.3h16v1.8h-16zM473.5 231.3h54v1.8h-54zM271.5 232.8h12v1.8h-12zM265.5 234.3h8v1.8h-8zM261.5 235.8h6v1.8h-6zM255.5 237.3h8v1.8h-8zM249.5 238.8h10v1.8h-10zM249.5 240.3h4v1.8h-4z"/>
<path fill="#49c1fa" d="M641.5 228.3h140v1.8h-140zM337.5 229.8h88v1.8h-88zM579.5 229.8h120v1.8h-120zM767.5 229.8h56v1.8h-56zM295.5 231.3h84v1.8h-84zM405.5 231.3h68v1.8h-68zM527.5 231.3h64v1.8h-64zM807.5 231.3h63v1.8h-63zM283.5 232.8h16v1.8h-16zM461.5 232.8h80v1.8h-80zM855.5 232.8h15v1.8h-15zM273.5 234.3h14v1.8h-14zM499.5 234.3h4v1.8h-4zM267.5 235.8h10v1.8h-10zM263.5 237.3h6v1.8h-6zM259.5 238.8h6v1.8h-6zM253.5 240.3h8v1.8h-8zM249.5 241.8h8v1.8h-8zM249.5 243.3h2v1.8h-2z"/>
<path fill="#59c3f7" d="M699.5 229.8h68v1.8h-68zM379.5 231.3h26v1.8h-26zM591.5 231.3h216v1.8h-216zM299.5 232.8h162v1.8h-162zM541.5 232.8h58v1.8h-58zM793.5 232.8h62v1.8h-62zM287.5 234.3h16v1.8h-16zM451.5 234.3h48v1.8h-48zM503.5 234.3h50v1.8h-50zM833.5 234.3h37v1.8h-37zM277.5 235.8h12v1.8h-12zM487.5 235.8h22v1.8h-22zM269.5 237.3h12v1.8h-12zM265.5 238.8h6v1.8h-6zM261.5 240.3h6v1.8h-6zM257.5 241.8h6v1.8h-6zM251.5 243.3h8v1.8h-8zM249.5 244.8h6v1.8h-6z"/>
<path fill="#6cc6f5" d="M599.5 232.8h194v1.8h-194zM303.5 234.3h148v1.8h-148zM553.5 234.3h52v1.8h-52zM781.5 234.3h52v1.8h-52zM289.5 235.8h18v1.8h-18zM441.5 235.8h46v1.8h-46zM509.5 235.8h56v1.8h-56zM817.5 235.8h53v1.8h-53zM281.5 237.3h12v1.8h-12zM477.5 237.3h44v1.8h-44zM863.5 237.3h7v1.8h-7zM271.5 238.8h12v1.8h-12zM267.5 240.3h8v1.8h-8zM263.5 241.8h6v1.8h-6zM259.5 243.3h6v1.8h-6zM255.5 244.8h6v1.8h-6zM249.5 246.3h8v1.8h-8zM249.5 247.8h4v1.8h-4z"/>
<path fill="#7ec9f2" d="M605.5 234.3h176v1.8h-176zM307.5 235.8h134v1.8h-134zM565.5 235.8h48v1.8h-48zM769.5 235.8h48v1.8h-48zM293.5 237.3h32v1.8h-32zM431.5 237.3h46v1.8h-46zM521.5 237.3h54v1.8h-54zM803.5 237.3h60v1.8h-60zM283.5 238.8h14v1.8h-14zM469.5 238.8h64v1.8h-64zM843.5 238.8h27v1.8h-27zM275.5 240.3h12v1.8h-12zM499.5 240.3h4v1.8h-4zM269.5 241.8h8v1.8h-8zM265.5 243.3h6v1.8h-6zM261.5 244.8h6v1.8h-6zM257.5 246.3h6v1.8h-6zM253.5 247.8h6v1.8h-6zM249.5 249.3h6v1.8h-6zM249.5 250.8h2v1.8h-2z"/>
<path fill="#11b9ff" d="M245.5 235.8h4v1.8h-4zM153.5 237.3h44v1.8h-44zM237.5 237.3h8v1.8h-8zM187.5 238.8h52v1.8h-52zM209.5 240.3h24v1.8h-24z"/>
<path fill="#8dcdf1" d="M613.5 235.8h156v1.8h-156zM325.5 237.3h106v1.8h-106zM575.5 237.3h162v1.8h-162zM757.5 237.3h46v1.8h-46zM297.5 238.8h62v1.8h-62zM413.5 238.8h56v1.8h-56zM533.5 238.8h52v1.8h-52zM791.5 238.8h52v1.8h-52zM287.5 240.3h14v1.8h-14zM459.5 240.3h40v1.8h-40zM503.5 240.3h42v1.8h-42zM823.5 240.3h47v1.8h-47zM277.5 241.8h12v1.8h-12zM491.5 241.8h16v1.8h-16zM869.5 241.8h1v1.8h-1zM271.5 243.3h10v1.8h-10zM267.5 244.8h6v1.8h-6zM263.5 246.3h6v1.8h-6zM259.5 247.8h6v1.8h-6zM255.5 249.3h6v1.8h-6zM251.5 250.8h6v1.8h-6zM249.5 252.3h4v1.8h-4z"/>
<path fill="#20bbfe" d="M245.5 237.3h4v1.8h-4zM153.5 238.8h34v1.8h-34zM239.5 238.8h10v1.8h-10zM157.5 240.3h52v1.8h-52zM233.5 240.3h10v1.8h-10zM193.5 241.8h44v1.8h-44zM211.5 243.3h20v1.8h-20z"/>
<path fill="#99d2f1" d="M737.5 237.3h20v1.8h-20zM359.5 238.8h54v1.8h-54zM585.5 238.8h206v1.8h-206zM301.5 240.3h90v1.8h-90zM397.5 240.3h62v1.8h-62zM545.5 240.3h48v1.8h-48zM779.5 240.3h44v1.8h-44zM289.5 241.8h16v1.8h-16zM449.5 241.8h42v1.8h-42zM507.5 241.8h48v1.8h-48zM811.5 241.8h58v1.8h-58zM281.5 243.3h12v1.8h-12zM481.5 243.3h34v1.8h-34zM849.5 243.3h21v1.8h-21zM273.5 244.8h10v1.8h-10zM269.5 246.3h6v1.8h-6zM265.5 247.8h6v1.8h-6zM261.5 249.3h6v1.8h-6zM257.5 250.8h6v1.8h-6zM253.5 252.3h6v1.8h-6zM249.5 253.8h6v1.8h-6z"/>
<path fill="#30bdfc" d="M153.5 240.3h4v1.8h-4zM243.5 240.3h6v1.8h-6zM153.5 241.8h40v1.8h-40zM237.5 241.8h10v1.8h-10zM169.5 243.3h42v1.8h-42zM231.5 243.3h10v1.8h-10zM197.5 244.8h40v1.8h-40zM215.5 246.3h16v1.8h-16z"/>
<path fill="#a3d6f2" d="M391.5 240.3h6v1.8h-6zM593.5 240.3h78v1.8h-78zM767.5 240.3h12v1.8h-12zM305.5 241.8h144v1.8h-144zM555.5 241.8h60v1.8h-60zM803.5 241.8h8v1.8h-8zM293.5 243.3h6v1.8h-6zM309.5 243.3h32v1.8h-32zM423.5 243.3h16v1.8h-16zM465.5 243.3h16v1.8h-16zM515.5 243.3h24v1.8h-24zM567.5 243.3h14v1.8h-14zM845.5 243.3h4v1.8h-4zM283.5 244.8h4v1.8h-4zM497.5 244.8h6v1.8h-6zM275.5 246.3h2v1.8h-2z"/>
<path fill="#9fd4f1" d="M671.5 240.3h96v1.8h-96zM685.5 241.8h118v1.8h-118zM299.5 243.3h10v1.8h-10zM439.5 243.3h26v1.8h-26zM539.5 243.3h28v1.8h-28zM787.5 243.3h58v1.8h-58zM287.5 244.8h14v1.8h-14zM459.5 244.8h38v1.8h-38zM503.5 244.8h40v1.8h-40zM815.5 244.8h55v1.8h-55zM277.5 246.3h12v1.8h-12zM489.5 246.3h20v1.8h-20zM855.5 246.3h15v1.8h-15zM271.5 247.8h12v1.8h-12zM267.5 249.3h8v1.8h-8zM263.5 250.8h6v1.8h-6zM259.5 252.3h8v1.8h-8zM255.5 253.8h8v1.8h-8zM251.5 255.3h8v1.8h-8zM247.5 256.8h10v1.8h-10zM153.5 258.3h4v1.8h-4zM243.5 258.3h10v1.8h-10zM153.5 259.8h34v1.8h-34zM239.5 259.8h10v1.8h-10zM153.5 261.3h48v1.8h-48zM235.5 261.3h10v1.8h-10zM179.5 262.8h36v1.8h-36zM231.5 262.8h10v1.8h-10zM195.5 264.3h42v1.8h-42zM209.5 265.8h24v1.8h-24z"/>
<path fill="#40bef9" d="M247.5 241.8h2v1.8h-2zM153.5 243.3h16v1.8h-16zM241.5 243.3h8v1.8h-8zM153.5 244.8h44v1.8h-44zM237.5 244.8h8v1.8h-8zM179.5 246.3h36v1.8h-36zM231.5 246.3h10v1.8h-10zM201.5 247.8h34v1.8h-34zM217.5 249.3h8v1.8h-8z"/>
<path fill="#acdaf3" d="M615.5 241.8h56v1.8h-56zM341.5 243.3h82v1.8h-82zM581.5 243.3h90v1.8h-90zM309.5 244.8h130v1.8h-130zM567.5 244.8h36v1.8h-36zM309.5 246.3h2v1.8h-2zM437.5 246.3h2v1.8h-2zM567.5 246.3h2v1.8h-2z"/>
<path fill="#a8d8f3" d="M671.5 241.8h14v1.8h-14zM671.5 243.3h116v1.8h-116zM301.5 244.8h8v1.8h-8zM439.5 244.8h20v1.8h-20zM543.5 244.8h24v1.8h-24zM763.5 244.8h52v1.8h-52zM289.5 246.3h20v1.8h-20zM439.5 246.3h50v1.8h-50zM509.5 246.3h58v1.8h-58zM791.5 246.3h64v1.8h-64zM283.5 247.8h14v1.8h-14zM469.5 247.8h64v1.8h-64zM819.5 247.8h51v1.8h-51zM275.5 249.3h12v1.8h-12zM495.5 249.3h10v1.8h-10zM857.5 249.3h13v1.8h-13zM269.5 250.8h12v1.8h-12zM267.5 252.3h6v1.8h-6zM263.5 253.8h6v1.8h-6zM259.5 255.3h8v1.8h-8zM257.5 256.8h6v1.8h-6zM253.5 258.3h8v1.8h-8zM249.5 259.8h8v1.8h-8zM245.5 261.3h8v1.8h-8zM153.5 262.8h26v1.8h-26zM241.5 262.8h8v1.8h-8zM153.5 264.3h42v1.8h-42zM237.5 264.3h8v1.8h-8zM169.5 265.8h40v1.8h-40zM233.5 265.8h8v1.8h-8zM191.5 267.3h48v1.8h-48zM203.5 268.8h32v1.8h-32zM215.5 270.3h16v1.8h-16z"/>
<path fill="#51c0f7" d="M245.5 244.8h4v1.8h-4zM153.5 246.3h26v1.8h-26zM241.5 246.3h8v1.8h-8zM153.5 247.8h48v1.8h-48zM235.5 247.8h10v1.8h-10zM187.5 249.3h30v1.8h-30zM225.5 249.3h14v1.8h-14zM203.5 250.8h32v1.8h-32z"/>
<path fill="#b4def4" d="M603.5 244.8h68v1.8h-68zM311.5 246.3h126v1.8h-126zM569.5 246.3h102v1.8h-102zM309.5 247.8h68v1.8h-68zM405.5 247.8h34v1.8h-34zM567.5 247.8h24v1.8h-24z"/>
<path fill="#b1dcf4" d="M671.5 244.8h92v1.8h-92zM671.5 246.3h120v1.8h-120zM297.5 247.8h12v1.8h-12zM439.5 247.8h30v1.8h-30zM533.5 247.8h34v1.8h-34zM769.5 247.8h50v1.8h-50zM287.5 249.3h18v1.8h-18zM447.5 249.3h48v1.8h-48zM505.5 249.3h52v1.8h-52zM797.5 249.3h60v1.8h-60zM281.5 250.8h14v1.8h-14zM475.5 250.8h48v1.8h-48zM823.5 250.8h47v1.8h-47zM273.5 252.3h14v1.8h-14zM861.5 252.3h9v1.8h-9zM269.5 253.8h10v1.8h-10zM267.5 255.3h6v1.8h-6zM263.5 256.8h6v1.8h-6zM261.5 258.3h6v1.8h-6zM257.5 259.8h6v1.8h-6zM253.5 261.3h8v1.8h-8zM249.5 262.8h8v1.8h-8zM245.5 264.3h8v1.8h-8zM153.5 265.8h16v1.8h-16zM241.5 265.8h10v1.8h-10zM153.5 267.3h38v1.8h-38zM239.5 267.3h8v1.8h-8zM161.5 268.8h42v1.8h-42zM235.5 268.8h8v1.8h-8zM187.5 270.3h28v1.8h-28zM231.5 270.3h8v1.8h-8zM199.5 271.8h36v1.8h-36zM211.5 273.3h22v1.8h-22z"/>
<path fill="#64c3f4" d="M245.5 247.8h4v1.8h-4zM153.5 249.3h34v1.8h-34zM239.5 249.3h8v1.8h-8zM163.5 250.8h40v1.8h-40zM235.5 250.8h8v1.8h-8zM191.5 252.3h46v1.8h-46zM207.5 253.8h26v1.8h-26z"/>
<path fill="#bde2f6" d="M377.5 247.8h28v1.8h-28zM591.5 247.8h80v1.8h-80zM309.5 249.3h130v1.8h-130zM567.5 249.3h42v1.8h-42zM309.5 250.8h26v1.8h-26zM425.5 250.8h14v1.8h-14zM567.5 250.8h12v1.8h-12z"/>
<path fill="#b9e0f5" d="M671.5 247.8h98v1.8h-98zM305.5 249.3h4v1.8h-4zM439.5 249.3h8v1.8h-8zM557.5 249.3h10v1.8h-10zM673.5 249.3h124v1.8h-124zM295.5 250.8h14v1.8h-14zM439.5 250.8h36v1.8h-36zM523.5 250.8h44v1.8h-44zM775.5 250.8h48v1.8h-48zM287.5 252.3h14v1.8h-14zM457.5 252.3h90v1.8h-90zM801.5 252.3h60v1.8h-60zM279.5 253.8h12v1.8h-12zM483.5 253.8h32v1.8h-32zM827.5 253.8h43v1.8h-43zM273.5 255.3h12v1.8h-12zM863.5 255.3h7v1.8h-7zM269.5 256.8h10v1.8h-10zM267.5 258.3h6v1.8h-6zM263.5 259.8h6v1.8h-6zM261.5 261.3h6v1.8h-6zM257.5 262.8h6v1.8h-6zM253.5 264.3h8v1.8h-8zM251.5 265.8h6v1.8h-6zM247.5 267.3h8v1.8h-8zM153.5 268.8h8v1.8h-8zM243.5 268.8h8v1.8h-8zM153.5 270.3h34v1.8h-34zM239.5 270.3h8v1.8h-8zM153.5 271.8h46v1.8h-46zM235.5 271.8h10v1.8h-10zM179.5 273.3h32v1.8h-32zM233.5 273.3h8v1.8h-8zM193.5 274.8h44v1.8h-44zM205.5 276.3h28v1.8h-28zM217.5 277.8h12v1.8h-12z"/>
<path fill="#78c7f2" d="M247.5 249.3h2v1.8h-2zM153.5 250.8h10v1.8h-10zM243.5 250.8h6v1.8h-6zM153.5 252.3h38v1.8h-38zM237.5 252.3h10v1.8h-10zM171.5 253.8h36v1.8h-36zM233.5 253.8h8v1.8h-8zM195.5 255.3h42v1.8h-42zM209.5 256.8h24v1.8h-24z"/>
<path fill="#c4e5f7" d="M609.5 249.3h62v1.8h-62zM335.5 250.8h90v1.8h-90zM579.5 250.8h92v1.8h-92zM309.5 252.3h130v1.8h-130zM567.5 252.3h32v1.8h-32zM309.5 253.8h2v1.8h-2zM437.5 253.8h2v1.8h-2z"/>
<path fill="#c2e4f6" d="M671.5 249.3h2v1.8h-2zM671.5 250.8h104v1.8h-104zM301.5 252.3h8v1.8h-8zM439.5 252.3h18v1.8h-18zM547.5 252.3h20v1.8h-20zM757.5 252.3h44v1.8h-44zM291.5 253.8h18v1.8h-18zM439.5 253.8h44v1.8h-44zM515.5 253.8h52v1.8h-52zM781.5 253.8h46v1.8h-46zM285.5 255.3h14v1.8h-14zM465.5 255.3h72v1.8h-72zM805.5 255.3h58v1.8h-58zM279.5 256.8h10v1.8h-10zM487.5 256.8h22v1.8h-22zM833.5 256.8h37v1.8h-37zM273.5 258.3h10v1.8h-10zM867.5 258.3h3v1.8h-3zM269.5 259.8h8v1.8h-8zM267.5 261.3h4v1.8h-4zM263.5 262.8h6v1.8h-6zM261.5 264.3h6v1.8h-6zM257.5 265.8h6v1.8h-6zM255.5 267.3h6v1.8h-6zM251.5 268.8h6v1.8h-6zM247.5 270.3h8v1.8h-8zM245.5 271.8h6v1.8h-6zM153.5 273.3h26v1.8h-26zM241.5 273.3h8v1.8h-8zM153.5 274.8h40v1.8h-40zM237.5 274.8h8v1.8h-8zM171.5 276.3h34v1.8h-34zM233.5 276.3h8v1.8h-8zM189.5 277.8h28v1.8h-28zM229.5 277.8h10v1.8h-10zM201.5 279.3h34v1.8h-34zM211.5 280.8h20v1.8h-20z"/>
<path fill="#87cbf1" d="M247.5 252.3h2v1.8h-2zM153.5 253.8h18v1.8h-18zM241.5 253.8h8v1.8h-8zM153.5 255.3h42v1.8h-42zM237.5 255.3h8v1.8h-8zM181.5 256.8h28v1.8h-28zM233.5 256.8h8v1.8h-8zM197.5 258.3h38v1.8h-38zM213.5 259.8h18v1.8h-18z"/>
<path fill="#cce8f8" d="M599.5 252.3h72v1.8h-72zM311.5 253.8h126v1.8h-126zM567.5 253.8h36v1.8h-36zM309.5 255.3h2v1.8h-2zM437.5 255.3h2v1.8h-2zM567.5 255.3h2v1.8h-2z"/>
<path fill="#cae7f8" d="M671.5 252.3h86v1.8h-86zM603.5 253.8h178v1.8h-178zM299.5 255.3h10v1.8h-10zM311.5 255.3h56v1.8h-56zM411.5 255.3h26v1.8h-26zM439.5 255.3h26v1.8h-26zM537.5 255.3h30v1.8h-30zM569.5 255.3h18v1.8h-18zM763.5 255.3h42v1.8h-42zM289.5 256.8h16v1.8h-16zM447.5 256.8h40v1.8h-40zM509.5 256.8h48v1.8h-48zM785.5 256.8h48v1.8h-48zM283.5 258.3h14v1.8h-14zM471.5 258.3h58v1.8h-58zM809.5 258.3h58v1.8h-58zM277.5 259.8h12v1.8h-12zM493.5 259.8h12v1.8h-12zM835.5 259.8h35v1.8h-35zM271.5 261.3h12v1.8h-12zM869.5 261.3h1v1.8h-1zM269.5 262.8h8v1.8h-8zM267.5 264.3h4v1.8h-4zM263.5 265.8h6v1.8h-6zM261.5 267.3h6v1.8h-6zM257.5 268.8h6v1.8h-6zM255.5 270.3h6v1.8h-6zM251.5 271.8h8v1.8h-8zM249.5 273.3h6v1.8h-6zM245.5 274.8h8v1.8h-8zM153.5 276.3h18v1.8h-18zM241.5 276.3h8v1.8h-8zM153.5 277.8h36v1.8h-36zM239.5 277.8h6v1.8h-6zM163.5 279.3h38v1.8h-38zM235.5 279.3h8v1.8h-8zM185.5 280.8h26v1.8h-26zM231.5 280.8h8v1.8h-8zM197.5 282.3h40v1.8h-40zM207.5 283.8h26v1.8h-26zM217.5 285.3h10v1.8h-10z"/>
<path fill="#94cff1" d="M245.5 255.3h6v1.8h-6zM153.5 256.8h28v1.8h-28zM241.5 256.8h6v1.8h-6zM157.5 258.3h40v1.8h-40zM235.5 258.3h8v1.8h-8zM187.5 259.8h26v1.8h-26zM231.5 259.8h8v1.8h-8zM201.5 261.3h34v1.8h-34zM215.5 262.8h16v1.8h-16z"/>
<path fill="#fffebe" d="M367.5 255.3h44v1.8h-44zM587.5 255.3h176v1.8h-176zM305.5 256.8h142v1.8h-142zM557.5 256.8h228v1.8h-228zM297.5 258.3h76v1.8h-76zM407.5 258.3h64v1.8h-64zM529.5 258.3h60v1.8h-60zM765.5 258.3h44v1.8h-44zM289.5 259.8h18v1.8h-18zM447.5 259.8h46v1.8h-46zM505.5 259.8h52v1.8h-52zM791.5 259.8h44v1.8h-44zM283.5 261.3h16v1.8h-16zM473.5 261.3h54v1.8h-54zM817.5 261.3h16v1.8h-16zM861.5 261.3h8v1.8h-8zM277.5 262.8h12v1.8h-12zM495.5 262.8h10v1.8h-10zM849.5 262.8h2v1.8h-2zM271.5 264.3h12v1.8h-12zM269.5 265.8h8v1.8h-8zM267.5 267.3h6v1.8h-6zM263.5 268.8h6v1.8h-6zM261.5 270.3h6v1.8h-6zM259.5 271.8h6v1.8h-6zM255.5 273.3h6v1.8h-6zM253.5 274.8h6v1.8h-6zM249.5 276.3h6v1.8h-6zM245.5 277.8h8v1.8h-8zM153.5 279.3h10v1.8h-10zM243.5 279.3h6v1.8h-6zM153.5 280.8h32v1.8h-32zM239.5 280.8h6v1.8h-6zM165.5 282.3h32v1.8h-32zM237.5 282.3h6v1.8h-6zM187.5 283.8h20v1.8h-20zM233.5 283.8h6v1.8h-6zM199.5 285.3h18v1.8h-18zM227.5 285.3h8v1.8h-8zM209.5 286.8h24v1.8h-24z"/>
<path fill="#fffcac" d="M373.5 258.3h34v1.8h-34zM589.5 258.3h176v1.8h-176zM307.5 259.8h140v1.8h-140zM557.5 259.8h234v1.8h-234zM299.5 261.3h174v1.8h-174zM527.5 261.3h76v1.8h-76zM767.5 261.3h50v1.8h-50zM289.5 262.8h48v1.8h-48zM437.5 262.8h58v1.8h-58zM505.5 262.8h64v1.8h-64zM793.5 262.8h56v1.8h-56zM283.5 264.3h32v1.8h-32zM467.5 264.3h70v1.8h-70zM821.5 264.3h49v1.8h-49zM277.5 265.8h24v1.8h-24zM489.5 265.8h18v1.8h-18zM857.5 265.8h13v1.8h-13zM273.5 267.3h18v1.8h-18zM269.5 268.8h16v1.8h-16zM267.5 270.3h12v1.8h-12zM265.5 271.8h8v1.8h-8zM261.5 273.3h8v1.8h-8zM259.5 274.8h8v1.8h-8zM255.5 276.3h8v1.8h-8zM253.5 277.8h8v1.8h-8zM249.5 279.3h8v1.8h-8zM245.5 280.8h8v1.8h-8zM153.5 282.3h12v1.8h-12zM243.5 282.3h8v1.8h-8zM153.5 283.8h34v1.8h-34zM239.5 283.8h8v1.8h-8zM159.5 285.3h40v1.8h-40zM235.5 285.3h8v1.8h-8zM183.5 286.8h26v1.8h-26zM233.5 286.8h6v1.8h-6zM195.5 288.3h42v1.8h-42zM207.5 289.8h26v1.8h-26zM217.5 291.3h10v1.8h-10z"/>
<path fill="#fff99a" d="M603.5 261.3h164v1.8h-164zM337.5 262.8h100v1.8h-100zM569.5 262.8h224v1.8h-224zM315.5 264.3h152v1.8h-152zM537.5 264.3h102v1.8h-102zM761.5 264.3h60v1.8h-60zM301.5 265.8h188v1.8h-188zM507.5 265.8h96v1.8h-96zM791.5 265.8h66v1.8h-66zM291.5 267.3h8v1.8h-8zM329.5 267.3h16v1.8h-16zM437.5 267.3h132v1.8h-132zM817.5 267.3h53v1.8h-53zM285.5 268.8h6v1.8h-6zM465.5 268.8h72v1.8h-72zM851.5 268.8h19v1.8h-19zM279.5 270.3h10v1.8h-10zM487.5 270.3h22v1.8h-22zM273.5 271.8h28v1.8h-28zM269.5 273.3h26v1.8h-26zM267.5 274.8h18v1.8h-18zM263.5 276.3h14v1.8h-14zM261.5 277.8h10v1.8h-10zM257.5 279.3h10v1.8h-10zM253.5 280.8h12v1.8h-12zM251.5 282.3h10v1.8h-10zM247.5 283.8h10v1.8h-10zM153.5 285.3h6v1.8h-6zM243.5 285.3h10v1.8h-10zM153.5 286.8h30v1.8h-30zM239.5 286.8h12v1.8h-12zM153.5 288.3h42v1.8h-42zM237.5 288.3h10v1.8h-10zM157.5 289.8h50v1.8h-50zM233.5 289.8h10v1.8h-10zM183.5 291.3h34v1.8h-34zM227.5 291.3h12v1.8h-12zM197.5 292.8h40v1.8h-40zM211.5 294.3h20v1.8h-20z"/>
<path fill="#fffec1" d="M833.5 261.3h28v1.8h-28zM851.5 262.8h19v1.8h-19z"/>
<path fill="#fff687" d="M639.5 264.3h122v1.8h-122zM603.5 265.8h188v1.8h-188zM345.5 267.3h92v1.8h-92zM569.5 267.3h248v1.8h-248zM429.5 268.8h36v1.8h-36zM537.5 268.8h40v1.8h-40zM641.5 268.8h4v1.8h-4zM767.5 268.8h84v1.8h-84zM431.5 270.3h56v1.8h-56zM509.5 270.3h78v1.8h-78zM793.5 270.3h77v1.8h-77zM325.5 271.8h290v1.8h-290zM825.5 271.8h45v1.8h-45zM295.5 273.3h54v1.8h-54zM451.5 273.3h102v1.8h-102zM285.5 274.8h50v1.8h-50zM501.5 274.8h2v1.8h-2zM277.5 276.3h46v1.8h-46zM271.5 277.8h30v1.8h-30zM267.5 279.3h22v1.8h-22zM265.5 280.8h16v1.8h-16zM261.5 282.3h14v1.8h-14zM257.5 283.8h14v1.8h-14zM253.5 285.3h10v1.8h-10zM251.5 286.8h6v1.8h-6zM247.5 288.3h4v1.8h-4zM153.5 289.8h4v1.8h-4zM243.5 289.8h6v1.8h-6zM153.5 291.3h30v1.8h-30zM239.5 291.3h14v1.8h-14zM153.5 292.8h44v1.8h-44zM237.5 292.8h14v1.8h-14zM153.5 294.3h58v1.8h-58zM231.5 294.3h14v1.8h-14zM165.5 295.8h74v1.8h-74zM199.5 297.3h36v1.8h-36zM219.5 298.8h4v1.8h-4z"/>
<path fill="#fff995" d="M299.5 267.3h30v1.8h-30zM291.5 268.8h42v1.8h-42zM289.5 270.3h36v1.8h-36zM301.5 271.8h12v1.8h-12z"/>
<path fill="#fff682" d="M333.5 268.8h96v1.8h-96zM577.5 268.8h64v1.8h-64zM325.5 270.3h106v1.8h-106zM587.5 270.3h48v1.8h-48zM313.5 271.8h12v1.8h-12zM263.5 285.3h4v1.8h-4zM257.5 286.8h8v1.8h-8zM251.5 288.3h10v1.8h-10zM249.5 289.8h10v1.8h-10zM253.5 291.3h4v1.8h-4z"/>
<path fill="#fff274" d="M645.5 268.8h122v1.8h-122zM637.5 270.3h156v1.8h-156zM615.5 271.8h210v1.8h-210zM349.5 273.3h102v1.8h-102zM553.5 273.3h98v1.8h-98zM767.5 273.3h103v1.8h-103zM335.5 274.8h166v1.8h-166zM503.5 274.8h128v1.8h-128zM821.5 274.8h49v1.8h-49zM323.5 276.3h244v1.8h-244zM301.5 277.8h44v1.8h-44zM289.5 279.3h44v1.8h-44zM281.5 280.8h40v1.8h-40zM275.5 282.3h26v1.8h-26zM271.5 283.8h20v1.8h-20zM251.5 292.8h12v1.8h-12zM245.5 294.3h22v1.8h-22zM153.5 295.8h12v1.8h-12zM239.5 295.8h22v1.8h-22zM153.5 297.3h46v1.8h-46zM235.5 297.3h18v1.8h-18zM153.5 298.8h66v1.8h-66zM223.5 298.8h22v1.8h-22zM153.5 300.3h84v1.8h-84zM203.5 301.8h28v1.8h-28z"/>
<path fill="#fff16e" d="M635.5 270.3h2v1.8h-2zM267.5 285.3h18v1.8h-18zM265.5 286.8h16v1.8h-16zM261.5 288.3h18v1.8h-18zM259.5 289.8h18v1.8h-18zM257.5 291.3h18v1.8h-18zM263.5 292.8h8v1.8h-8z"/>
<path fill="#ffed61" d="M651.5 273.3h116v1.8h-116zM631.5 274.8h190v1.8h-190zM567.5 276.3h86v1.8h-86zM823.5 276.3h47v1.8h-47zM345.5 277.8h282v1.8h-282zM847.5 277.8h23v1.8h-23zM333.5 279.3h216v1.8h-216zM321.5 280.8h50v1.8h-50zM301.5 282.3h40v1.8h-40zM291.5 283.8h40v1.8h-40zM289.5 285.3h34v1.8h-34zM281.5 292.8h10v1.8h-10zM267.5 294.3h18v1.8h-18zM261.5 295.8h18v1.8h-18zM253.5 297.3h20v1.8h-20zM245.5 298.8h24v1.8h-24zM237.5 300.3h26v1.8h-26zM153.5 301.8h50v1.8h-50zM231.5 301.8h22v1.8h-22zM153.5 303.3h90v1.8h-90zM177.5 304.8h60v1.8h-60zM201.5 306.3h32v1.8h-32z"/>
<path fill="#ffe84e" d="M653.5 276.3h56v1.8h-56zM627.5 277.8h22v1.8h-22zM549.5 279.3h50v1.8h-50zM851.5 279.3h19v1.8h-19zM371.5 280.8h230v1.8h-230zM851.5 280.8h19v1.8h-19zM341.5 282.3h100v1.8h-100zM477.5 282.3h54v1.8h-54zM331.5 283.8h62v1.8h-62zM323.5 285.3h32v1.8h-32zM291.5 292.8h38v1.8h-38zM285.5 294.3h36v1.8h-36zM279.5 295.8h24v1.8h-24zM273.5 297.3h18v1.8h-18zM269.5 298.8h16v1.8h-16zM263.5 300.3h16v1.8h-16zM253.5 301.8h20v1.8h-20zM243.5 303.3h26v1.8h-26zM237.5 304.8h28v1.8h-28zM233.5 306.3h10v1.8h-10z"/>
<path fill="#ffe957" d="M709.5 276.3h72v1.8h-72zM649.5 277.8h190v1.8h-190zM599.5 279.3h44v1.8h-44zM817.5 279.3h34v1.8h-34z"/>
<path fill="#ffee68" d="M781.5 276.3h42v1.8h-42zM839.5 277.8h8v1.8h-8z"/>
<path fill="#ffe546" d="M643.5 279.3h174v1.8h-174zM603.5 280.8h96v1.8h-96zM783.5 280.8h66v1.8h-66zM833.5 282.3h8v1.8h-8z"/>
<path fill="#ffe43d" d="M601.5 280.8h2v1.8h-2zM849.5 280.8h2v1.8h-2zM441.5 282.3h36v1.8h-36zM531.5 282.3h104v1.8h-104zM841.5 282.3h29v1.8h-29zM393.5 283.8h198v1.8h-198zM857.5 283.8h13v1.8h-13zM355.5 285.3h92v1.8h-92zM477.5 285.3h54v1.8h-54zM367.5 286.8h62v1.8h-62zM501.5 286.8h16v1.8h-16zM329.5 292.8h46v1.8h-46zM321.5 294.3h26v1.8h-26zM303.5 295.8h34v1.8h-34zM291.5 297.3h38v1.8h-38zM285.5 298.8h32v1.8h-32zM279.5 300.3h18v1.8h-18zM273.5 301.8h16v1.8h-16zM269.5 303.3h14v1.8h-14zM265.5 304.8h14v1.8h-14z"/>
<path fill="#ffdf3b" d="M699.5 280.8h84v1.8h-84zM697.5 282.3h136v1.8h-136zM817.5 283.8h2v1.8h-2z"/>
<path fill="#ffdd31" d="M635.5 282.3h62v1.8h-62zM591.5 283.8h62v1.8h-62zM819.5 283.8h38v1.8h-38zM447.5 285.3h30v1.8h-30zM531.5 285.3h102v1.8h-102zM839.5 285.3h31v1.8h-31zM429.5 286.8h72v1.8h-72zM517.5 286.8h84v1.8h-84zM853.5 286.8h17v1.8h-17zM863.5 288.3h7v1.8h-7zM449.5 291.3h4v1.8h-4zM473.5 291.3h36v1.8h-36zM375.5 292.8h20v1.8h-20zM413.5 292.8h26v1.8h-26zM497.5 292.8h26v1.8h-26zM347.5 294.3h82v1.8h-82zM337.5 295.8h82v1.8h-82zM329.5 297.3h48v1.8h-48zM317.5 298.8h26v1.8h-26zM297.5 300.3h36v1.8h-36zM289.5 301.8h34v1.8h-34zM283.5 303.3h22v1.8h-22zM279.5 304.8h16v1.8h-16zM275.5 315.3h4v1.8h-4zM271.5 316.8h4v1.8h-4zM269.5 318.3h4v1.8h-4zM269.5 319.8h2v1.8h-2z"/>
<path fill="#ffd62a" d="M653.5 283.8h142v1.8h-142zM633.5 285.3h80v1.8h-80zM739.5 285.3h100v1.8h-100zM601.5 286.8h58v1.8h-58zM819.5 286.8h34v1.8h-34zM823.5 288.3h40v1.8h-40zM453.5 291.3h20v1.8h-20zM841.5 291.3h29v1.8h-29zM439.5 292.8h58v1.8h-58zM523.5 292.8h98v1.8h-98zM851.5 292.8h19v1.8h-19zM429.5 294.3h160v1.8h-160zM419.5 295.8h28v1.8h-28zM493.5 295.8h46v1.8h-46zM377.5 297.3h58v1.8h-58zM343.5 298.8h82v1.8h-82zM333.5 300.3h82v1.8h-82zM323.5 301.8h26v1.8h-26zM305.5 303.3h32v1.8h-32zM295.5 304.8h36v1.8h-36zM301.5 306.3h22v1.8h-22zM299.5 312.3h2v1.8h-2zM281.5 313.8h14v1.8h-14zM279.5 315.3h12v1.8h-12zM275.5 316.8h12v1.8h-12zM273.5 318.3h10v1.8h-10zM271.5 319.8h8v1.8h-8zM269.5 321.3h8v1.8h-8zM273.5 322.8h2v1.8h-2z"/>
<path fill="#ffd834" d="M795.5 283.8h22v1.8h-22z"/>
<path fill="#ffec5a" d="M285.5 285.3h4v1.8h-4zM281.5 286.8h36v1.8h-36zM279.5 288.3h26v1.8h-26zM277.5 289.8h22v1.8h-22zM275.5 291.3h20v1.8h-20zM271.5 292.8h10v1.8h-10zM153.5 304.8h24v1.8h-24zM153.5 306.3h48v1.8h-48zM153.5 307.8h20v1.8h-20zM211.5 307.8h10v1.8h-10zM155.5 309.3h2v1.8h-2z"/>
<path fill="#ffcf25" d="M713.5 285.3h26v1.8h-26zM659.5 286.8h160v1.8h-160zM711.5 288.3h112v1.8h-112zM635.5 291.3h76v1.8h-76zM775.5 291.3h66v1.8h-66zM621.5 292.8h78v1.8h-78zM819.5 292.8h32v1.8h-32zM589.5 294.3h56v1.8h-56zM823.5 294.3h47v1.8h-47zM447.5 295.8h46v1.8h-46zM539.5 295.8h88v1.8h-88zM845.5 295.8h25v1.8h-25zM435.5 297.3h156v1.8h-156zM425.5 298.8h20v1.8h-20zM497.5 298.8h72v1.8h-72zM415.5 300.3h20v1.8h-20zM349.5 301.8h80v1.8h-80zM337.5 303.3h84v1.8h-84zM331.5 304.8h84v1.8h-84zM323.5 306.3h26v1.8h-26zM301.5 312.3h34v1.8h-34zM295.5 313.8h34v1.8h-34zM291.5 315.3h28v1.8h-28zM287.5 316.8h12v1.8h-12zM283.5 318.3h10v1.8h-10zM279.5 319.8h10v1.8h-10zM277.5 321.3h8v1.8h-8zM275.5 322.8h8v1.8h-8zM279.5 324.3h2v1.8h-2z"/>
<path fill="#ffe847" d="M317.5 286.8h26v1.8h-26zM305.5 288.3h34v1.8h-34zM299.5 289.8h38v1.8h-38zM295.5 291.3h38v1.8h-38zM243.5 306.3h16v1.8h-16zM173.5 307.8h38v1.8h-38zM221.5 307.8h32v1.8h-32zM153.5 309.3h2v1.8h-2zM157.5 309.3h92v1.8h-92zM153.5 310.8h92v1.8h-92zM153.5 312.3h88v1.8h-88zM153.5 313.8h84v1.8h-84zM153.5 315.3h78v1.8h-78zM153.5 316.8h38v1.8h-38zM207.5 316.8h8v1.8h-8zM153.5 318.3h20v1.8h-20z"/>
<path fill="#ffe235" d="M343.5 286.8h24v1.8h-24zM339.5 288.3h80v1.8h-80zM337.5 289.8h62v1.8h-62zM333.5 291.3h56v1.8h-56zM259.5 306.3h18v1.8h-18zM253.5 307.8h22v1.8h-22zM249.5 309.3h24v1.8h-24zM245.5 310.8h28v1.8h-28zM241.5 312.3h30v1.8h-30zM237.5 313.8h32v1.8h-32zM231.5 315.3h34v1.8h-34zM191.5 316.8h16v1.8h-16zM215.5 316.8h48v1.8h-48zM173.5 318.3h86v1.8h-86zM153.5 319.8h92v1.8h-92zM153.5 321.3h84v1.8h-84zM153.5 322.8h76v1.8h-76zM153.5 324.3h48v1.8h-48zM203.5 324.3h10v1.8h-10zM153.5 325.8h30v1.8h-30zM153.5 327.3h22v1.8h-22zM153.5 328.8h18v1.8h-18zM153.5 330.3h16v1.8h-16zM153.5 331.8h10v1.8h-10z"/>
<path fill="#ffdc28" d="M419.5 288.3h164v1.8h-164zM399.5 289.8h174v1.8h-174zM389.5 291.3h60v1.8h-60zM509.5 291.3h28v1.8h-28zM395.5 292.8h18v1.8h-18zM277.5 306.3h14v1.8h-14zM275.5 307.8h12v1.8h-12zM273.5 309.3h14v1.8h-14zM273.5 310.8h12v1.8h-12zM271.5 312.3h12v1.8h-12zM269.5 313.8h12v1.8h-12zM265.5 315.3h10v1.8h-10zM263.5 316.8h8v1.8h-8zM259.5 318.3h10v1.8h-10zM245.5 319.8h24v1.8h-24zM237.5 321.3h32v1.8h-32zM229.5 322.8h36v1.8h-36zM201.5 324.3h2v1.8h-2zM213.5 324.3h50v1.8h-50zM183.5 325.8h78v1.8h-78zM175.5 327.3h86v1.8h-86zM171.5 328.8h88v1.8h-88zM169.5 330.3h90v1.8h-90zM163.5 331.8h92v1.8h-92zM153.5 333.3h92v1.8h-92zM153.5 334.8h84v1.8h-84zM153.5 336.3h78v1.8h-78zM153.5 337.8h70v1.8h-70zM153.5 339.3h62v1.8h-62zM153.5 340.8h40v1.8h-40zM153.5 342.3h30v1.8h-30zM153.5 343.8h24v1.8h-24zM153.5 345.3h18v1.8h-18zM153.5 346.8h12v1.8h-12zM153.5 348.3h8v1.8h-8zM153.5 349.8h6v1.8h-6z"/>
<path fill="#ffd422" d="M583.5 288.3h62v1.8h-62zM573.5 289.8h68v1.8h-68zM835.5 289.8h35v1.8h-35zM537.5 291.3h98v1.8h-98zM291.5 306.3h10v1.8h-10zM287.5 307.8h32v1.8h-32zM287.5 309.3h28v1.8h-28zM285.5 310.8h28v1.8h-28zM283.5 312.3h16v1.8h-16zM265.5 322.8h8v1.8h-8zM263.5 324.3h10v1.8h-10zM261.5 325.8h10v1.8h-10zM261.5 327.3h10v1.8h-10zM259.5 328.8h12v1.8h-12zM259.5 330.3h12v1.8h-12zM255.5 331.8h16v1.8h-16zM245.5 333.3h24v1.8h-24zM237.5 334.8h32v1.8h-32zM231.5 336.3h36v1.8h-36zM223.5 337.8h42v1.8h-42zM215.5 339.3h48v1.8h-48zM193.5 340.8h68v1.8h-68zM183.5 342.3h66v1.8h-66zM177.5 343.8h64v1.8h-64zM171.5 345.3h66v1.8h-66zM165.5 346.8h68v1.8h-68zM161.5 348.3h70v1.8h-70zM159.5 349.8h72v1.8h-72zM153.5 351.3h78v1.8h-78zM153.5 352.8h74v1.8h-74zM153.5 354.3h72v1.8h-72zM153.5 355.8h68v1.8h-68zM153.5 357.3h64v1.8h-64zM153.5 358.8h58v1.8h-58zM153.5 360.3h38v1.8h-38zM861.5 360.3h9v1.8h-9zM153.5 361.8h30v1.8h-30zM855.5 361.8h15v1.8h-15zM153.5 363.3h22v1.8h-22zM853.5 363.3h17v1.8h-17zM153.5 364.8h16v1.8h-16zM851.5 364.8h19v1.8h-19zM153.5 366.3h10v1.8h-10zM849.5 366.3h21v1.8h-21zM153.5 367.8h6v1.8h-6zM847.5 367.8h23v1.8h-23zM153.5 369.3h2v1.8h-2zM847.5 369.3h23v1.8h-23zM847.5 370.8h23v1.8h-23zM849.5 372.3h21v1.8h-21zM849.5 373.8h21v1.8h-21zM851.5 375.3h19v1.8h-19zM853.5 376.8h17v1.8h-17zM855.5 378.3h15v1.8h-15zM857.5 379.8h13v1.8h-13zM859.5 381.3h11v1.8h-11zM861.5 382.8h9v1.8h-9zM863.5 384.3h7v1.8h-7zM865.5 385.8h5v1.8h-5zM867.5 387.3h3v1.8h-3zM869.5 388.8h1v1.8h-1z"/>
<path fill="#ffcd1c" d="M645.5 288.3h66v1.8h-66zM641.5 289.8h194v1.8h-194zM319.5 307.8h24v1.8h-24zM315.5 309.3h26v1.8h-26zM313.5 310.8h26v1.8h-26zM273.5 324.3h6v1.8h-6zM271.5 325.8h8v1.8h-8zM271.5 327.3h8v1.8h-8zM271.5 328.8h6v1.8h-6zM271.5 330.3h6v1.8h-6zM271.5 331.8h6v1.8h-6zM269.5 333.3h8v1.8h-8zM269.5 334.8h8v1.8h-8zM267.5 336.3h10v1.8h-10zM265.5 337.8h12v1.8h-12zM263.5 339.3h12v1.8h-12zM261.5 340.8h14v1.8h-14zM249.5 342.3h24v1.8h-24zM241.5 343.8h32v1.8h-32zM859.5 343.8h11v1.8h-11zM237.5 345.3h34v1.8h-34zM847.5 345.3h23v1.8h-23zM233.5 346.8h38v1.8h-38zM837.5 346.8h33v1.8h-33zM231.5 348.3h40v1.8h-40zM827.5 348.3h43v1.8h-43zM231.5 349.8h40v1.8h-40zM825.5 349.8h45v1.8h-45zM231.5 351.3h38v1.8h-38zM825.5 351.3h45v1.8h-45zM227.5 352.8h42v1.8h-42zM825.5 352.8h45v1.8h-45zM225.5 354.3h42v1.8h-42zM825.5 354.3h45v1.8h-45zM221.5 355.8h46v1.8h-46zM825.5 355.8h45v1.8h-45zM217.5 357.3h46v1.8h-46zM825.5 357.3h45v1.8h-45zM211.5 358.8h48v1.8h-48zM825.5 358.8h45v1.8h-45zM191.5 360.3h56v1.8h-56zM823.5 360.3h38v1.8h-38zM183.5 361.8h58v1.8h-58zM823.5 361.8h32v1.8h-32zM175.5 363.3h62v1.8h-62zM823.5 363.3h30v1.8h-30zM169.5 364.8h66v1.8h-66zM823.5 364.8h28v1.8h-28zM163.5 366.3h68v1.8h-68zM823.5 366.3h26v1.8h-26zM159.5 367.8h72v1.8h-72zM823.5 367.8h24v1.8h-24zM155.5 369.3h76v1.8h-76zM823.5 369.3h24v1.8h-24zM153.5 370.8h76v1.8h-76zM823.5 370.8h24v1.8h-24zM153.5 372.3h74v1.8h-74zM823.5 372.3h26v1.8h-26zM153.5 373.8h72v1.8h-72zM823.5 373.8h26v1.8h-26zM153.5 375.3h68v1.8h-68zM823.5 375.3h28v1.8h-28zM153.5 376.8h64v1.8h-64zM823.5 376.8h30v1.8h-30zM153.5 378.3h58v1.8h-58zM825.5 378.3h30v1.8h-30zM153.5 379.8h42v1.8h-42zM825.5 379.8h32v1.8h-32zM153.5 381.3h36v1.8h-36zM825.5 381.3h34v1.8h-34zM153.5 382.8h32v1.8h-32zM825.5 382.8h36v1.8h-36zM153.5 384.3h30v1.8h-30zM825.5 384.3h38v1.8h-38zM153.5 385.8h28v1.8h-28zM825.5 385.8h40v1.8h-40zM153.5 387.3h26v1.8h-26zM825.5 387.3h42v1.8h-42zM153.5 388.8h26v1.8h-26zM825.5 388.8h44v1.8h-44zM153.5 390.3h26v1.8h-26zM827.5 390.3h43v1.8h-43zM153.5 391.8h26v1.8h-26zM829.5 391.8h41v1.8h-41zM153.5 393.3h26v1.8h-26zM831.5 393.3h39v1.8h-39zM153.5 394.8h26v1.8h-26zM835.5 394.8h35v1.8h-35zM153.5 396.3h26v1.8h-26zM837.5 396.3h33v1.8h-33zM153.5 397.8h26v1.8h-26zM839.5 397.8h31v1.8h-31zM153.5 399.3h26v1.8h-26zM841.5 399.3h29v1.8h-29zM153.5 400.8h26v1.8h-26zM843.5 400.8h27v1.8h-27zM153.5 402.3h26v1.8h-26zM843.5 402.3h27v1.8h-27zM153.5 403.8h26v1.8h-26zM845.5 403.8h25v1.8h-25zM153.5 405.3h26v1.8h-26zM847.5 405.3h23v1.8h-23zM153.5 406.8h26v1.8h-26zM847.5 406.8h23v1.8h-23zM153.5 408.3h26v1.4h-26zM847.5 408.3h23v1.4h-23z"/>
<path fill="#ffc920" d="M711.5 291.3h64v1.8h-64zM699.5 292.8h120v1.8h-120zM645.5 294.3h178v1.8h-178zM627.5 295.8h76v1.8h-76zM811.5 295.8h34v1.8h-34zM591.5 297.3h54v1.8h-54zM821.5 297.3h49v1.8h-49zM445.5 298.8h52v1.8h-52zM569.5 298.8h52v1.8h-52zM847.5 298.8h18v1.8h-18zM435.5 300.3h154v1.8h-154zM429.5 301.8h14v1.8h-14zM499.5 301.8h72v1.8h-72zM421.5 303.3h16v1.8h-16zM415.5 304.8h16v1.8h-16zM349.5 306.3h18v1.8h-18zM425.5 306.3h2v1.8h-2zM335.5 312.3h84v1.8h-84zM329.5 313.8h56v1.8h-56zM319.5 315.3h24v1.8h-24zM299.5 316.8h34v1.8h-34zM293.5 318.3h30v1.8h-30zM289.5 319.8h14v1.8h-14zM285.5 321.3h10v1.8h-10zM283.5 322.8h8v1.8h-8zM281.5 324.3h8v1.8h-8zM867.5 337.8h3v1.8h-3zM845.5 339.3h25v1.8h-25zM825.5 340.8h45v1.8h-45zM823.5 342.3h47v1.8h-47z"/>
<path fill="#ffc31c" d="M703.5 295.8h108v1.8h-108zM645.5 297.3h176v1.8h-176zM621.5 298.8h76v1.8h-76zM817.5 298.8h30v1.8h-30zM589.5 300.3h50v1.8h-50zM821.5 300.3h46v1.8h-46zM443.5 301.8h56v1.8h-56zM571.5 301.8h34v1.8h-34zM855.5 301.8h15v1.8h-15zM437.5 303.3h18v1.8h-18zM489.5 303.3h100v1.8h-100zM431.5 304.8h14v1.8h-14zM499.5 304.8h78v1.8h-78zM427.5 306.3h14v1.8h-14zM507.5 306.3h28v1.8h-28zM419.5 312.3h14v1.8h-14zM385.5 313.8h44v1.8h-44zM343.5 315.3h80v1.8h-80zM333.5 316.8h78v1.8h-78zM323.5 318.3h20v1.8h-20zM303.5 319.8h30v1.8h-30zM295.5 321.3h28v1.8h-28zM291.5 322.8h20v1.8h-20zM289.5 324.3h10v1.8h-10zM289.5 325.8h6v1.8h-6zM823.5 336.3h47v1.8h-47zM823.5 337.8h44v1.8h-44zM823.5 339.3h22v1.8h-22zM823.5 340.8h2v1.8h-2zM605.5 382.8h20v1.8h-20zM599.5 384.3h34v1.8h-34zM635.5 385.8h4v1.8h-4zM579.5 397.8h4v1.8h-4zM667.5 397.8h2v1.8h-2zM571.5 399.3h12v1.8h-12zM663.5 399.3h8v1.8h-8zM561.5 400.8h20v1.8h-20zM669.5 400.8h4v1.8h-4zM559.5 402.3h16v1.8h-16z"/>
<path fill="#ffbd17" d="M697.5 298.8h120v1.8h-120zM639.5 300.3h182v1.8h-182zM605.5 301.8h52v1.8h-52zM817.5 301.8h38v1.8h-38zM455.5 303.3h34v1.8h-34zM589.5 303.3h46v1.8h-46zM821.5 303.3h49v1.8h-49zM445.5 304.8h54v1.8h-54zM577.5 304.8h28v1.8h-28zM853.5 304.8h17v1.8h-17zM441.5 306.3h66v1.8h-66zM535.5 306.3h60v1.8h-60zM433.5 312.3h12v1.8h-12zM501.5 312.3h78v1.8h-78zM429.5 313.8h12v1.8h-12zM507.5 313.8h62v1.8h-62zM423.5 315.3h12v1.8h-12zM411.5 316.8h18v1.8h-18zM343.5 318.3h78v1.8h-78zM333.5 319.8h54v1.8h-54zM323.5 321.3h20v1.8h-20zM311.5 322.8h24v1.8h-24zM299.5 324.3h28v1.8h-28zM295.5 325.8h26v1.8h-26zM607.5 378.3h14v1.8h-14zM599.5 379.8h32v1.8h-32zM593.5 381.3h46v1.8h-46zM587.5 382.8h18v1.8h-18zM625.5 382.8h22v1.8h-22zM583.5 384.3h16v1.8h-16zM633.5 384.3h24v1.8h-24zM639.5 385.8h30v1.8h-30zM561.5 394.8h12v1.8h-12zM559.5 396.3h20v1.8h-20zM671.5 396.3h2v1.8h-2zM557.5 397.8h22v1.8h-22zM669.5 397.8h6v1.8h-6zM557.5 399.3h14v1.8h-14zM671.5 399.3h6v1.8h-6zM555.5 400.8h6v1.8h-6zM673.5 400.8h4v1.8h-4zM555.5 402.3h4v1.8h-4zM675.5 402.3h4v1.8h-4z"/>
<path fill="#ffcc2b" d="M865.5 298.8h5v1.8h-5z"/>
<path fill="#ffc626" d="M867.5 300.3h3v1.8h-3z"/>
<path fill="#ffb712" d="M657.5 301.8h160v1.8h-160zM635.5 303.3h74v1.8h-74zM779.5 303.3h42v1.8h-42zM605.5 304.8h50v1.8h-50zM817.5 304.8h36v1.8h-36zM595.5 306.3h46v1.8h-46zM819.5 306.3h51v1.8h-51zM445.5 312.3h56v1.8h-56zM579.5 312.3h26v1.8h-26zM441.5 313.8h32v1.8h-32zM487.5 313.8h20v1.8h-20zM569.5 313.8h26v1.8h-26zM435.5 315.3h12v1.8h-12zM497.5 315.3h90v1.8h-90zM429.5 316.8h12v1.8h-12zM505.5 316.8h70v1.8h-70zM421.5 318.3h14v1.8h-14zM387.5 319.8h40v1.8h-40zM343.5 321.3h76v1.8h-76zM335.5 322.8h48v1.8h-48zM327.5 324.3h20v1.8h-20zM321.5 325.8h18v1.8h-18zM611.5 373.8h6v1.8h-6zM601.5 375.3h26v1.8h-26zM417.5 376.8h2v1.8h-2zM595.5 376.8h38v1.8h-38zM407.5 378.3h18v1.8h-18zM589.5 378.3h18v1.8h-18zM621.5 378.3h20v1.8h-20zM411.5 379.8h20v1.8h-20zM583.5 379.8h16v1.8h-16zM631.5 379.8h18v1.8h-18zM417.5 381.3h20v1.8h-20zM577.5 381.3h16v1.8h-16zM639.5 381.3h28v1.8h-28zM425.5 382.8h20v1.8h-20zM571.5 382.8h16v1.8h-16zM647.5 382.8h24v1.8h-24zM437.5 384.3h24v1.8h-24zM561.5 384.3h22v1.8h-22zM657.5 384.3h16v1.8h-16zM669.5 385.8h4v1.8h-4zM557.5 394.8h4v1.8h-4zM675.5 394.8h2v1.8h-2zM555.5 396.3h4v1.8h-4zM673.5 396.3h6v1.8h-6zM555.5 397.8h2v1.8h-2zM675.5 397.8h4v1.8h-4zM553.5 399.3h4v1.8h-4zM677.5 399.3h4v1.8h-4zM553.5 400.8h2v1.8h-2zM677.5 400.8h6v1.8h-6zM551.5 402.3h4v1.8h-4zM679.5 402.3h4v1.8h-4zM681.5 403.8h4v1.8h-4z"/>
<path fill="#ffb10d" d="M709.5 303.3h70v1.8h-70zM655.5 304.8h162v1.8h-162zM641.5 306.3h178v1.8h-178zM605.5 312.3h48v1.8h-48zM815.5 312.3h2v1.8h-2zM473.5 313.8h14v1.8h-14zM595.5 313.8h46v1.8h-46zM447.5 315.3h50v1.8h-50zM587.5 315.3h40v1.8h-40zM441.5 316.8h32v1.8h-32zM489.5 316.8h16v1.8h-16zM575.5 316.8h24v1.8h-24zM435.5 318.3h12v1.8h-12zM499.5 318.3h88v1.8h-88zM427.5 319.8h12v1.8h-12zM505.5 319.8h68v1.8h-68zM419.5 321.3h14v1.8h-14zM535.5 321.3h4v1.8h-4zM383.5 322.8h44v1.8h-44zM347.5 324.3h72v1.8h-72zM339.5 325.8h60v1.8h-60zM383.5 358.8h4v1.8h-4zM385.5 360.3h6v1.8h-6zM389.5 361.8h8v1.8h-8zM401.5 363.3h10v1.8h-10zM607.5 364.8h14v1.8h-14zM623.5 372.3h10v1.8h-10zM589.5 373.8h22v1.8h-22zM617.5 373.8h20v1.8h-20zM423.5 375.3h10v1.8h-10zM583.5 375.3h18v1.8h-18zM627.5 375.3h16v1.8h-16zM419.5 376.8h20v1.8h-20zM579.5 376.8h16v1.8h-16zM633.5 376.8h18v1.8h-18zM425.5 378.3h20v1.8h-20zM571.5 378.3h18v1.8h-18zM641.5 378.3h26v1.8h-26zM431.5 379.8h28v1.8h-28zM559.5 379.8h24v1.8h-24zM649.5 379.8h22v1.8h-22zM437.5 381.3h28v1.8h-28zM559.5 381.3h18v1.8h-18zM667.5 381.3h6v1.8h-6zM445.5 382.8h22v1.8h-22zM557.5 382.8h14v1.8h-14zM671.5 382.8h4v1.8h-4zM461.5 384.3h8v1.8h-8zM557.5 384.3h4v1.8h-4zM673.5 384.3h4v1.8h-4zM673.5 385.8h4v1.8h-4zM553.5 394.8h4v1.8h-4zM677.5 394.8h4v1.8h-4zM553.5 396.3h2v1.8h-2zM679.5 396.3h4v1.8h-4zM473.5 397.8h4v1.8h-4zM551.5 397.8h4v1.8h-4zM679.5 397.8h4v1.8h-4zM473.5 399.3h6v1.8h-6zM551.5 399.3h2v1.8h-2zM681.5 399.3h4v1.8h-4zM475.5 400.8h6v1.8h-6zM549.5 400.8h4v1.8h-4zM683.5 400.8h6v1.8h-6zM479.5 402.3h4v1.8h-4zM549.5 402.3h2v1.8h-2zM683.5 402.3h12v1.8h-12zM549.5 403.8h2v1.8h-2zM685.5 403.8h12v1.8h-12z"/>
<path fill="#ffc717" d="M367.5 306.3h58v1.8h-58zM343.5 307.8h82v1.8h-82zM341.5 309.3h84v1.8h-84zM339.5 310.8h84v1.8h-84zM279.5 325.8h8v1.8h-8zM279.5 327.3h6v1.8h-6zM277.5 328.8h8v1.8h-8zM277.5 330.3h8v1.8h-8zM277.5 331.8h8v1.8h-8zM277.5 333.3h8v1.8h-8zM277.5 334.8h8v1.8h-8zM277.5 336.3h8v1.8h-8zM277.5 337.8h8v1.8h-8zM275.5 339.3h10v1.8h-10zM275.5 340.8h10v1.8h-10zM273.5 342.3h12v1.8h-12zM273.5 343.8h12v1.8h-12zM823.5 343.8h36v1.8h-36zM271.5 345.3h14v1.8h-14zM823.5 345.3h24v1.8h-24zM271.5 346.8h14v1.8h-14zM823.5 346.8h14v1.8h-14zM271.5 348.3h14v1.8h-14zM823.5 348.3h4v1.8h-4zM271.5 349.8h14v1.8h-14zM823.5 349.8h2v1.8h-2zM269.5 351.3h16v1.8h-16zM823.5 351.3h2v1.8h-2zM269.5 352.8h16v1.8h-16zM823.5 352.8h2v1.8h-2zM267.5 354.3h18v1.8h-18zM823.5 354.3h2v1.8h-2zM267.5 355.8h18v1.8h-18zM823.5 355.8h2v1.8h-2zM263.5 357.3h20v1.8h-20zM823.5 357.3h2v1.8h-2zM259.5 358.8h24v1.8h-24zM823.5 358.8h2v1.8h-2zM247.5 360.3h36v1.8h-36zM241.5 361.8h42v1.8h-42zM237.5 363.3h46v1.8h-46zM235.5 364.8h46v1.8h-46zM231.5 366.3h50v1.8h-50zM231.5 367.8h50v1.8h-50zM231.5 369.3h50v1.8h-50zM229.5 370.8h52v1.8h-52zM227.5 372.3h52v1.8h-52zM225.5 373.8h54v1.8h-54zM221.5 375.3h54v1.8h-54zM217.5 376.8h54v1.8h-54zM211.5 378.3h54v1.8h-54zM823.5 378.3h2v1.8h-2zM195.5 379.8h52v1.8h-52zM823.5 379.8h2v1.8h-2zM189.5 381.3h52v1.8h-52zM823.5 381.3h2v1.8h-2zM185.5 382.8h52v1.8h-52zM823.5 382.8h2v1.8h-2zM183.5 384.3h52v1.8h-52zM823.5 384.3h2v1.8h-2zM181.5 385.8h52v1.8h-52zM823.5 385.8h2v1.8h-2zM179.5 387.3h52v1.8h-52zM823.5 387.3h2v1.8h-2zM179.5 388.8h50v1.8h-50zM613.5 388.8h2v1.8h-2zM823.5 388.8h2v1.8h-2zM179.5 390.3h50v1.8h-50zM611.5 390.3h6v1.8h-6zM823.5 390.3h4v1.8h-4zM179.5 391.8h50v1.8h-50zM609.5 391.8h12v1.8h-12zM823.5 391.8h6v1.8h-6zM179.5 393.3h50v1.8h-50zM607.5 393.3h16v1.8h-16zM823.5 393.3h8v1.8h-8zM179.5 394.8h50v1.8h-50zM603.5 394.8h24v1.8h-24zM823.5 394.8h12v1.8h-12zM179.5 396.3h48v1.8h-48zM601.5 396.3h30v1.8h-30zM823.5 396.3h14v1.8h-14zM179.5 397.8h48v1.8h-48zM597.5 397.8h40v1.8h-40zM823.5 397.8h16v1.8h-16zM179.5 399.3h48v1.8h-48zM595.5 399.3h46v1.8h-46zM823.5 399.3h18v1.8h-18zM179.5 400.8h46v1.8h-46zM591.5 400.8h58v1.8h-58zM823.5 400.8h20v1.8h-20zM179.5 402.3h46v1.8h-46zM587.5 402.3h80v1.8h-80zM823.5 402.3h20v1.8h-20zM179.5 403.8h46v1.8h-46zM581.5 403.8h88v1.8h-88zM823.5 403.8h22v1.8h-22zM179.5 405.3h46v1.8h-46zM577.5 405.3h94v1.8h-94zM823.5 405.3h24v1.8h-24zM179.5 406.8h46v1.8h-46zM571.5 406.8h100v1.8h-100zM823.5 406.8h24v1.8h-24zM179.5 408.3h46v1.4h-46zM565.5 408.3h106v1.4h-106zM823.5 408.3h24v1.4h-24z"/>
<path fill="#ffc112" d="M425.5 307.8h12v1.8h-12zM425.5 309.3h12v1.8h-12zM423.5 310.8h12v1.8h-12zM287.5 325.8h2v1.8h-2zM285.5 327.3h8v1.8h-8zM285.5 328.8h8v1.8h-8zM863.5 328.8h7v1.8h-7zM285.5 330.3h8v1.8h-8zM861.5 330.3h9v1.8h-9zM285.5 331.8h8v1.8h-8zM855.5 331.8h15v1.8h-15zM285.5 333.3h8v1.8h-8zM845.5 333.3h25v1.8h-25zM285.5 334.8h8v1.8h-8zM827.5 334.8h43v1.8h-43zM285.5 336.3h8v1.8h-8zM285.5 337.8h10v1.8h-10zM285.5 339.3h10v1.8h-10zM285.5 340.8h12v1.8h-12zM285.5 342.3h12v1.8h-12zM285.5 343.8h14v1.8h-14zM285.5 345.3h16v1.8h-16zM285.5 346.8h18v1.8h-18zM285.5 348.3h22v1.8h-22zM285.5 349.8h24v1.8h-24zM285.5 351.3h24v1.8h-24zM285.5 352.8h26v1.8h-26zM285.5 354.3h28v1.8h-28zM285.5 355.8h30v1.8h-30zM283.5 357.3h32v1.8h-32zM283.5 358.8h34v1.8h-34zM283.5 360.3h36v1.8h-36zM283.5 361.8h38v1.8h-38zM283.5 363.3h40v1.8h-40zM281.5 364.8h44v1.8h-44zM281.5 366.3h44v1.8h-44zM281.5 367.8h46v1.8h-46zM281.5 369.3h46v1.8h-46zM281.5 370.8h46v1.8h-46zM279.5 372.3h48v1.8h-48zM279.5 373.8h48v1.8h-48zM275.5 375.3h54v1.8h-54zM271.5 376.8h58v1.8h-58zM265.5 378.3h66v1.8h-66zM247.5 379.8h86v1.8h-86zM241.5 381.3h96v1.8h-96zM237.5 382.8h102v1.8h-102zM235.5 384.3h108v1.8h-108zM233.5 385.8h114v1.8h-114zM595.5 385.8h40v1.8h-40zM231.5 387.3h122v1.8h-122zM593.5 387.3h50v1.8h-50zM229.5 388.8h130v1.8h-130zM591.5 388.8h22v1.8h-22zM615.5 388.8h30v1.8h-30zM229.5 390.3h130v1.8h-130zM591.5 390.3h20v1.8h-20zM617.5 390.3h28v1.8h-28zM229.5 391.8h130v1.8h-130zM591.5 391.8h18v1.8h-18zM621.5 391.8h26v1.8h-26zM229.5 393.3h130v1.8h-130zM589.5 393.3h18v1.8h-18zM623.5 393.3h28v1.8h-28zM229.5 394.8h130v1.8h-130zM587.5 394.8h16v1.8h-16zM627.5 394.8h32v1.8h-32zM227.5 396.3h132v1.8h-132zM583.5 396.3h18v1.8h-18zM631.5 396.3h36v1.8h-36zM227.5 397.8h132v1.8h-132zM583.5 397.8h14v1.8h-14zM637.5 397.8h30v1.8h-30zM227.5 399.3h132v1.8h-132zM583.5 399.3h12v1.8h-12zM641.5 399.3h22v1.8h-22zM225.5 400.8h134v1.8h-134zM581.5 400.8h10v1.8h-10zM649.5 400.8h20v1.8h-20zM225.5 402.3h134v1.8h-134zM575.5 402.3h12v1.8h-12zM667.5 402.3h6v1.8h-6zM225.5 403.8h134v1.8h-134zM557.5 403.8h24v1.8h-24zM669.5 403.8h6v1.8h-6zM225.5 405.3h134v1.8h-134zM557.5 405.3h20v1.8h-20zM671.5 405.3h4v1.8h-4zM225.5 406.8h134v1.8h-134zM557.5 406.8h14v1.8h-14zM671.5 406.8h6v1.8h-6zM225.5 408.3h138v1.4h-138zM557.5 408.3h8v1.4h-8zM671.5 408.3h6v1.4h-6z"/>
<path fill="#ffbb0d" d="M437.5 307.8h16v1.8h-16zM493.5 307.8h96v1.8h-96zM437.5 309.3h12v1.8h-12zM495.5 309.3h92v1.8h-92zM435.5 310.8h14v1.8h-14zM497.5 310.8h88v1.8h-88zM845.5 319.8h25v1.8h-25zM825.5 321.3h45v1.8h-45zM823.5 322.8h47v1.8h-47zM823.5 324.3h47v1.8h-47zM823.5 325.8h47v1.8h-47zM293.5 327.3h22v1.8h-22zM823.5 327.3h47v1.8h-47zM293.5 328.8h18v1.8h-18zM823.5 328.8h40v1.8h-40zM293.5 330.3h18v1.8h-18zM823.5 330.3h38v1.8h-38zM293.5 331.8h20v1.8h-20zM823.5 331.8h32v1.8h-32zM293.5 333.3h22v1.8h-22zM823.5 333.3h22v1.8h-22zM293.5 334.8h24v1.8h-24zM823.5 334.8h4v1.8h-4zM293.5 336.3h26v1.8h-26zM295.5 337.8h26v1.8h-26zM295.5 339.3h28v1.8h-28zM297.5 340.8h28v1.8h-28zM821.5 340.8h2v1.8h-2zM297.5 342.3h28v1.8h-28zM821.5 342.3h2v1.8h-2zM299.5 343.8h28v1.8h-28zM821.5 343.8h2v1.8h-2zM301.5 345.3h26v1.8h-26zM821.5 345.3h2v1.8h-2zM303.5 346.8h26v1.8h-26zM821.5 346.8h2v1.8h-2zM307.5 348.3h22v1.8h-22zM821.5 348.3h2v1.8h-2zM309.5 349.8h20v1.8h-20zM821.5 349.8h2v1.8h-2zM309.5 351.3h20v1.8h-20zM821.5 351.3h2v1.8h-2zM311.5 352.8h20v1.8h-20zM821.5 352.8h2v1.8h-2zM313.5 354.3h18v1.8h-18zM821.5 354.3h2v1.8h-2zM315.5 355.8h18v1.8h-18zM821.5 355.8h2v1.8h-2zM315.5 357.3h20v1.8h-20zM821.5 357.3h2v1.8h-2zM317.5 358.8h20v1.8h-20zM821.5 358.8h2v1.8h-2zM319.5 360.3h20v1.8h-20zM821.5 360.3h2v1.8h-2zM321.5 361.8h20v1.8h-20zM821.5 361.8h2v1.8h-2zM323.5 363.3h22v1.8h-22zM821.5 363.3h2v1.8h-2zM325.5 364.8h22v1.8h-22zM821.5 364.8h2v1.8h-2zM325.5 366.3h26v1.8h-26zM821.5 366.3h2v1.8h-2zM327.5 367.8h28v1.8h-28zM821.5 367.8h2v1.8h-2zM327.5 369.3h32v1.8h-32zM821.5 369.3h2v1.8h-2zM327.5 370.8h34v1.8h-34zM821.5 370.8h2v1.8h-2zM327.5 372.3h38v1.8h-38zM821.5 372.3h2v1.8h-2zM327.5 373.8h42v1.8h-42zM821.5 373.8h2v1.8h-2zM329.5 375.3h44v1.8h-44zM821.5 375.3h2v1.8h-2zM329.5 376.8h48v1.8h-48zM821.5 376.8h2v1.8h-2zM331.5 378.3h50v1.8h-50zM821.5 378.3h2v1.8h-2zM333.5 379.8h54v1.8h-54zM821.5 379.8h2v1.8h-2zM337.5 381.3h58v1.8h-58zM821.5 381.3h2v1.8h-2zM339.5 382.8h76v1.8h-76zM821.5 382.8h2v1.8h-2zM343.5 384.3h80v1.8h-80zM821.5 384.3h2v1.8h-2zM347.5 385.8h82v1.8h-82zM581.5 385.8h14v1.8h-14zM821.5 385.8h2v1.8h-2zM353.5 387.3h80v1.8h-80zM579.5 387.3h14v1.8h-14zM643.5 387.3h28v1.8h-28zM821.5 387.3h2v1.8h-2zM359.5 388.8h76v1.8h-76zM577.5 388.8h14v1.8h-14zM645.5 388.8h26v1.8h-26zM821.5 388.8h2v1.8h-2zM359.5 390.3h76v1.8h-76zM577.5 390.3h14v1.8h-14zM645.5 390.3h26v1.8h-26zM821.5 390.3h2v1.8h-2zM359.5 391.8h78v1.8h-78zM575.5 391.8h16v1.8h-16zM647.5 391.8h24v1.8h-24zM821.5 391.8h2v1.8h-2zM359.5 393.3h80v1.8h-80zM571.5 393.3h18v1.8h-18zM651.5 393.3h20v1.8h-20zM821.5 393.3h2v1.8h-2zM359.5 394.8h86v1.8h-86zM573.5 394.8h14v1.8h-14zM659.5 394.8h14v1.8h-14zM821.5 394.8h2v1.8h-2zM359.5 396.3h96v1.8h-96zM579.5 396.3h4v1.8h-4zM667.5 396.3h4v1.8h-4zM821.5 396.3h2v1.8h-2zM359.5 397.8h104v1.8h-104zM359.5 399.3h106v1.8h-106zM359.5 400.8h108v1.8h-108zM359.5 402.3h110v1.8h-110zM673.5 402.3h2v1.8h-2zM359.5 403.8h110v1.8h-110zM555.5 403.8h2v1.8h-2zM675.5 403.8h4v1.8h-4zM359.5 405.3h112v1.8h-112zM553.5 405.3h4v1.8h-4zM675.5 405.3h6v1.8h-6zM359.5 406.8h112v1.8h-112zM553.5 406.8h4v1.8h-4zM677.5 406.8h4v1.8h-4zM363.5 408.3h108v1.4h-108zM553.5 408.3h4v1.4h-4zM677.5 408.3h4v1.4h-4z"/>
<path fill="#ffb408" d="M453.5 307.8h40v1.8h-40zM589.5 307.8h42v1.8h-42zM821.5 307.8h49v1.8h-49zM449.5 309.3h46v1.8h-46zM587.5 309.3h40v1.8h-40zM821.5 309.3h49v1.8h-49zM449.5 310.8h48v1.8h-48zM585.5 310.8h38v1.8h-38zM821.5 310.8h49v1.8h-49zM823.5 312.3h47v1.8h-47zM821.5 313.8h49v1.8h-49zM821.5 315.3h49v1.8h-49zM821.5 316.8h49v1.8h-49zM821.5 318.3h49v1.8h-49zM821.5 319.8h24v1.8h-24zM821.5 321.3h4v1.8h-4zM821.5 322.8h2v1.8h-2zM821.5 324.3h2v1.8h-2zM821.5 325.8h2v1.8h-2zM315.5 327.3h20v1.8h-20zM821.5 327.3h2v1.8h-2zM311.5 328.8h22v1.8h-22zM821.5 328.8h2v1.8h-2zM311.5 330.3h22v1.8h-22zM821.5 330.3h2v1.8h-2zM313.5 331.8h20v1.8h-20zM821.5 331.8h2v1.8h-2zM315.5 333.3h18v1.8h-18zM821.5 333.3h2v1.8h-2zM317.5 334.8h18v1.8h-18zM821.5 334.8h2v1.8h-2zM319.5 336.3h16v1.8h-16zM821.5 336.3h2v1.8h-2zM321.5 337.8h16v1.8h-16zM821.5 337.8h2v1.8h-2zM323.5 339.3h16v1.8h-16zM821.5 339.3h2v1.8h-2zM325.5 340.8h14v1.8h-14zM325.5 342.3h16v1.8h-16zM327.5 343.8h14v1.8h-14zM327.5 345.3h16v1.8h-16zM329.5 346.8h14v1.8h-14zM329.5 348.3h14v1.8h-14zM329.5 349.8h14v1.8h-14zM329.5 351.3h14v1.8h-14zM331.5 352.8h14v1.8h-14zM331.5 354.3h16v1.8h-16zM333.5 355.8h18v1.8h-18zM335.5 357.3h28v1.8h-28zM337.5 358.8h32v1.8h-32zM339.5 360.3h34v1.8h-34zM341.5 361.8h36v1.8h-36zM345.5 363.3h36v1.8h-36zM347.5 364.8h36v1.8h-36zM351.5 366.3h36v1.8h-36zM355.5 367.8h34v1.8h-34zM359.5 369.3h30v1.8h-30zM361.5 370.8h30v1.8h-30zM365.5 372.3h28v1.8h-28zM369.5 373.8h28v1.8h-28zM373.5 375.3h32v1.8h-32zM377.5 376.8h40v1.8h-40zM381.5 378.3h26v1.8h-26zM387.5 379.8h24v1.8h-24zM395.5 381.3h22v1.8h-22zM415.5 382.8h10v1.8h-10zM423.5 384.3h14v1.8h-14zM429.5 385.8h36v1.8h-36zM559.5 385.8h22v1.8h-22zM433.5 387.3h32v1.8h-32zM559.5 387.3h20v1.8h-20zM671.5 387.3h4v1.8h-4zM435.5 388.8h32v1.8h-32zM559.5 388.8h18v1.8h-18zM671.5 388.8h4v1.8h-4zM435.5 390.3h32v1.8h-32zM559.5 390.3h18v1.8h-18zM671.5 390.3h4v1.8h-4zM437.5 391.8h30v1.8h-30zM557.5 391.8h18v1.8h-18zM671.5 391.8h4v1.8h-4zM439.5 393.3h28v1.8h-28zM557.5 393.3h14v1.8h-14zM671.5 393.3h6v1.8h-6zM445.5 394.8h24v1.8h-24zM673.5 394.8h2v1.8h-2zM455.5 396.3h14v1.8h-14zM463.5 397.8h8v1.8h-8zM821.5 397.8h2v1.8h-2zM465.5 399.3h8v1.8h-8zM821.5 399.3h2v1.8h-2zM467.5 400.8h6v1.8h-6zM821.5 400.8h2v1.8h-2zM469.5 402.3h6v1.8h-6zM821.5 402.3h2v1.8h-2zM469.5 403.8h8v1.8h-8zM551.5 403.8h4v1.8h-4zM679.5 403.8h2v1.8h-2zM821.5 403.8h2v1.8h-2zM471.5 405.3h6v1.8h-6zM551.5 405.3h2v1.8h-2zM681.5 405.3h6v1.8h-6zM821.5 405.3h2v1.8h-2zM471.5 406.8h8v1.8h-8zM551.5 406.8h2v1.8h-2zM681.5 406.8h8v1.8h-8zM821.5 406.8h2v1.8h-2zM471.5 408.3h8v1.4h-8zM549.5 408.3h4v1.4h-4zM681.5 408.3h10v1.4h-10zM821.5 408.3h2v1.4h-2z"/>
<path fill="#ffad03" d="M631.5 307.8h74v1.8h-74zM787.5 307.8h34v1.8h-34zM627.5 309.3h74v1.8h-74zM793.5 309.3h28v1.8h-28zM623.5 310.8h74v1.8h-74zM799.5 310.8h22v1.8h-22zM817.5 312.3h6v1.8h-6zM817.5 313.8h4v1.8h-4zM819.5 315.3h2v1.8h-2zM819.5 316.8h2v1.8h-2zM819.5 318.3h2v1.8h-2zM819.5 319.8h2v1.8h-2zM335.5 327.3h42v1.8h-42zM333.5 328.8h34v1.8h-34zM333.5 330.3h32v1.8h-32zM333.5 331.8h34v1.8h-34zM333.5 333.3h36v1.8h-36zM335.5 334.8h34v1.8h-34zM335.5 336.3h36v1.8h-36zM337.5 337.8h34v1.8h-34zM339.5 339.3h32v1.8h-32zM339.5 340.8h32v1.8h-32zM341.5 342.3h32v1.8h-32zM341.5 343.8h32v1.8h-32zM343.5 345.3h30v1.8h-30zM343.5 346.8h30v1.8h-30zM343.5 348.3h30v1.8h-30zM343.5 349.8h30v1.8h-30zM343.5 351.3h30v1.8h-30zM345.5 352.8h30v1.8h-30zM347.5 354.3h30v1.8h-30zM351.5 355.8h30v1.8h-30zM363.5 357.3h20v1.8h-20zM369.5 358.8h14v1.8h-14zM373.5 360.3h12v1.8h-12zM377.5 361.8h12v1.8h-12zM381.5 363.3h20v1.8h-20zM383.5 364.8h36v1.8h-36zM387.5 366.3h34v1.8h-34zM601.5 366.3h24v1.8h-24zM389.5 367.8h34v1.8h-34zM597.5 367.8h32v1.8h-32zM389.5 369.3h34v1.8h-34zM597.5 369.3h32v1.8h-32zM391.5 370.8h34v1.8h-34zM595.5 370.8h36v1.8h-36zM393.5 372.3h34v1.8h-34zM593.5 372.3h30v1.8h-30zM397.5 373.8h32v1.8h-32zM405.5 375.3h18v1.8h-18zM555.5 384.3h2v1.8h-2zM465.5 385.8h6v1.8h-6zM555.5 385.8h4v1.8h-4zM465.5 387.3h6v1.8h-6zM555.5 387.3h4v1.8h-4zM675.5 387.3h4v1.8h-4zM467.5 388.8h4v1.8h-4zM555.5 388.8h4v1.8h-4zM675.5 388.8h4v1.8h-4zM467.5 390.3h6v1.8h-6zM555.5 390.3h4v1.8h-4zM675.5 390.3h4v1.8h-4zM467.5 391.8h6v1.8h-6zM555.5 391.8h2v1.8h-2zM675.5 391.8h4v1.8h-4zM467.5 393.3h6v1.8h-6zM553.5 393.3h4v1.8h-4zM677.5 393.3h4v1.8h-4zM469.5 394.8h6v1.8h-6zM469.5 396.3h6v1.8h-6zM471.5 397.8h2v1.8h-2zM473.5 400.8h2v1.8h-2zM475.5 402.3h4v1.8h-4zM477.5 403.8h12v1.8h-12zM477.5 405.3h12v1.8h-12zM547.5 405.3h4v1.8h-4zM687.5 405.3h12v1.8h-12zM479.5 406.8h12v1.8h-12zM547.5 406.8h4v1.8h-4zM689.5 406.8h12v1.8h-12zM479.5 408.3h12v1.4h-12zM547.5 408.3h2v1.4h-2zM691.5 408.3h10v1.4h-10z"/>
<path fill="#ffa700" d="M705.5 307.8h82v1.8h-82zM701.5 309.3h92v1.8h-92zM697.5 310.8h102v1.8h-102zM701.5 312.3h44v1.8h-44zM819.5 321.3h2v1.8h-2zM819.5 322.8h2v1.8h-2zM819.5 324.3h2v1.8h-2zM819.5 325.8h2v1.8h-2zM377.5 327.3h48v1.8h-48zM819.5 327.3h2v1.8h-2zM367.5 328.8h56v1.8h-56zM819.5 328.8h2v1.8h-2zM365.5 330.3h58v1.8h-58zM819.5 330.3h2v1.8h-2zM367.5 331.8h54v1.8h-54zM819.5 331.8h2v1.8h-2zM369.5 333.3h52v1.8h-52zM819.5 333.3h2v1.8h-2zM369.5 334.8h48v1.8h-48zM819.5 334.8h2v1.8h-2zM371.5 336.3h44v1.8h-44zM819.5 336.3h2v1.8h-2zM371.5 337.8h30v1.8h-30zM819.5 337.8h2v1.8h-2zM371.5 339.3h24v1.8h-24zM819.5 339.3h2v1.8h-2zM371.5 340.8h22v1.8h-22zM819.5 340.8h2v1.8h-2zM373.5 342.3h18v1.8h-18zM819.5 342.3h2v1.8h-2zM373.5 343.8h16v1.8h-16zM819.5 343.8h2v1.8h-2zM373.5 345.3h16v1.8h-16zM819.5 345.3h2v1.8h-2zM373.5 346.8h14v1.8h-14zM819.5 346.8h2v1.8h-2zM373.5 348.3h14v1.8h-14zM819.5 348.3h2v1.8h-2zM373.5 349.8h14v1.8h-14zM819.5 349.8h2v1.8h-2zM373.5 351.3h14v1.8h-14zM819.5 351.3h2v1.8h-2zM375.5 352.8h14v1.8h-14zM819.5 352.8h2v1.8h-2zM377.5 354.3h16v1.8h-16zM819.5 354.3h2v1.8h-2zM381.5 355.8h10v1.8h-10zM819.5 355.8h2v1.8h-2zM383.5 357.3h2v1.8h-2zM819.5 357.3h2v1.8h-2zM819.5 358.8h2v1.8h-2zM819.5 360.3h2v1.8h-2zM819.5 361.8h2v1.8h-2zM819.5 363.3h2v1.8h-2zM419.5 364.8h14v1.8h-14zM585.5 364.8h10v1.8h-10zM819.5 364.8h2v1.8h-2zM421.5 366.3h16v1.8h-16zM581.5 366.3h20v1.8h-20zM625.5 366.3h16v1.8h-16zM819.5 366.3h2v1.8h-2zM423.5 367.8h14v1.8h-14zM579.5 367.8h18v1.8h-18zM629.5 367.8h14v1.8h-14zM819.5 367.8h2v1.8h-2zM423.5 369.3h16v1.8h-16zM579.5 369.3h18v1.8h-18zM629.5 369.3h14v1.8h-14zM819.5 369.3h2v1.8h-2zM425.5 370.8h14v1.8h-14zM577.5 370.8h18v1.8h-18zM631.5 370.8h14v1.8h-14zM819.5 370.8h2v1.8h-2zM427.5 372.3h14v1.8h-14zM575.5 372.3h18v1.8h-18zM819.5 372.3h2v1.8h-2zM429.5 373.8h4v1.8h-4zM819.5 373.8h2v1.8h-2zM553.5 384.3h2v1.8h-2zM471.5 385.8h4v1.8h-4zM553.5 385.8h2v1.8h-2zM471.5 387.3h6v1.8h-6zM553.5 387.3h2v1.8h-2zM679.5 387.3h4v1.8h-4zM471.5 388.8h6v1.8h-6zM551.5 388.8h4v1.8h-4zM679.5 388.8h4v1.8h-4zM473.5 390.3h4v1.8h-4zM551.5 390.3h4v1.8h-4zM679.5 390.3h4v1.8h-4zM473.5 391.8h4v1.8h-4zM551.5 391.8h4v1.8h-4zM679.5 391.8h4v1.8h-4zM473.5 393.3h6v1.8h-6zM551.5 393.3h2v1.8h-2zM681.5 393.3h4v1.8h-4zM475.5 394.8h4v1.8h-4zM489.5 403.8h6v1.8h-6zM489.5 405.3h6v1.8h-6zM545.5 405.3h2v1.8h-2zM699.5 405.3h6v1.8h-6zM491.5 406.8h4v1.8h-4zM545.5 406.8h2v1.8h-2zM701.5 406.8h4v1.8h-4zM491.5 408.3h4v1.4h-4zM543.5 408.3h4v1.4h-4zM701.5 408.3h6v1.4h-6z"/>
<path fill="#ffab0a" d="M653.5 312.3h48v1.8h-48zM745.5 312.3h70v1.8h-70zM641.5 313.8h176v1.8h-176zM627.5 315.3h80v1.8h-80zM789.5 315.3h30v1.8h-30zM473.5 316.8h16v1.8h-16zM599.5 316.8h48v1.8h-48zM815.5 316.8h4v1.8h-4zM447.5 318.3h28v1.8h-28zM493.5 318.3h6v1.8h-6zM587.5 318.3h42v1.8h-42zM817.5 318.3h2v1.8h-2zM439.5 319.8h16v1.8h-16zM495.5 319.8h10v1.8h-10zM573.5 319.8h26v1.8h-26zM433.5 321.3h12v1.8h-12zM499.5 321.3h36v1.8h-36zM539.5 321.3h48v1.8h-48zM427.5 322.8h12v1.8h-12zM505.5 322.8h70v1.8h-70zM419.5 324.3h14v1.8h-14zM525.5 324.3h24v1.8h-24zM399.5 325.8h30v1.8h-30zM391.5 355.8h6v1.8h-6zM385.5 357.3h18v1.8h-18zM387.5 358.8h30v1.8h-30zM391.5 360.3h32v1.8h-32zM607.5 360.3h12v1.8h-12zM397.5 361.8h30v1.8h-30zM595.5 361.8h34v1.8h-34zM411.5 363.3h20v1.8h-20zM589.5 363.3h44v1.8h-44zM595.5 364.8h12v1.8h-12zM621.5 364.8h16v1.8h-16zM633.5 372.3h14v1.8h-14zM433.5 373.8h12v1.8h-12zM567.5 373.8h22v1.8h-22zM637.5 373.8h16v1.8h-16zM433.5 375.3h18v1.8h-18zM559.5 375.3h24v1.8h-24zM643.5 375.3h24v1.8h-24zM439.5 376.8h26v1.8h-26zM557.5 376.8h22v1.8h-22zM651.5 376.8h20v1.8h-20zM445.5 378.3h22v1.8h-22zM557.5 378.3h14v1.8h-14zM667.5 378.3h6v1.8h-6zM459.5 379.8h10v1.8h-10zM555.5 379.8h4v1.8h-4zM671.5 379.8h4v1.8h-4zM465.5 381.3h6v1.8h-6zM555.5 381.3h4v1.8h-4zM673.5 381.3h4v1.8h-4zM467.5 382.8h6v1.8h-6zM553.5 382.8h4v1.8h-4zM675.5 382.8h4v1.8h-4zM469.5 384.3h6v1.8h-6zM677.5 384.3h4v1.8h-4zM677.5 385.8h4v1.8h-4zM551.5 394.8h2v1.8h-2zM681.5 394.8h6v1.8h-6zM475.5 396.3h6v1.8h-6zM549.5 396.3h4v1.8h-4zM683.5 396.3h6v1.8h-6zM477.5 397.8h10v1.8h-10zM549.5 397.8h2v1.8h-2zM683.5 397.8h12v1.8h-12zM479.5 399.3h12v1.8h-12zM547.5 399.3h4v1.8h-4zM685.5 399.3h12v1.8h-12zM481.5 400.8h10v1.8h-10zM547.5 400.8h2v1.8h-2zM689.5 400.8h12v1.8h-12zM483.5 402.3h10v1.8h-10zM547.5 402.3h2v1.8h-2zM695.5 402.3h6v1.8h-6zM545.5 403.8h4v1.8h-4zM697.5 403.8h6v1.8h-6z"/>
<path fill="#ffa50a" d="M707.5 315.3h82v1.8h-82zM647.5 316.8h168v1.8h-168zM629.5 318.3h116v1.8h-116zM779.5 318.3h38v1.8h-38zM455.5 319.8h18v1.8h-18zM599.5 319.8h46v1.8h-46zM815.5 319.8h4v1.8h-4zM445.5 321.3h36v1.8h-36zM489.5 321.3h10v1.8h-10zM587.5 321.3h40v1.8h-40zM817.5 321.3h2v1.8h-2zM439.5 322.8h14v1.8h-14zM495.5 322.8h10v1.8h-10zM575.5 322.8h24v1.8h-24zM817.5 322.8h2v1.8h-2zM433.5 324.3h12v1.8h-12zM499.5 324.3h26v1.8h-26zM549.5 324.3h40v1.8h-40zM817.5 324.3h2v1.8h-2zM429.5 325.8h12v1.8h-12zM503.5 325.8h78v1.8h-78zM529.5 333.3h16v1.8h-16zM397.5 355.8h28v1.8h-28zM403.5 357.3h26v1.8h-26zM597.5 357.3h28v1.8h-28zM417.5 358.8h16v1.8h-16zM587.5 358.8h46v1.8h-46zM423.5 360.3h14v1.8h-14zM579.5 360.3h28v1.8h-28zM619.5 360.3h20v1.8h-20zM427.5 361.8h14v1.8h-14zM573.5 361.8h22v1.8h-22zM629.5 361.8h14v1.8h-14zM431.5 363.3h14v1.8h-14zM581.5 363.3h8v1.8h-8zM633.5 363.3h16v1.8h-16zM637.5 364.8h16v1.8h-16zM647.5 372.3h22v1.8h-22zM445.5 373.8h22v1.8h-22zM555.5 373.8h12v1.8h-12zM653.5 373.8h18v1.8h-18zM451.5 375.3h18v1.8h-18zM555.5 375.3h4v1.8h-4zM667.5 375.3h6v1.8h-6zM465.5 376.8h6v1.8h-6zM553.5 376.8h4v1.8h-4zM671.5 376.8h4v1.8h-4zM467.5 378.3h6v1.8h-6zM553.5 378.3h4v1.8h-4zM673.5 378.3h4v1.8h-4zM469.5 379.8h6v1.8h-6zM553.5 379.8h2v1.8h-2zM675.5 379.8h4v1.8h-4zM471.5 381.3h6v1.8h-6zM551.5 381.3h4v1.8h-4zM677.5 381.3h4v1.8h-4zM473.5 382.8h6v1.8h-6zM551.5 382.8h2v1.8h-2zM679.5 382.8h4v1.8h-4zM475.5 384.3h6v1.8h-6zM681.5 384.3h4v1.8h-4zM681.5 385.8h6v1.8h-6zM685.5 393.3h12v1.8h-12zM479.5 394.8h12v1.8h-12zM547.5 394.8h4v1.8h-4zM687.5 394.8h10v1.8h-10zM481.5 396.3h12v1.8h-12zM547.5 396.3h2v1.8h-2zM689.5 396.3h10v1.8h-10zM487.5 397.8h6v1.8h-6zM545.5 397.8h4v1.8h-4zM695.5 397.8h6v1.8h-6zM491.5 399.3h4v1.8h-4zM545.5 399.3h2v1.8h-2zM697.5 399.3h6v1.8h-6zM491.5 400.8h6v1.8h-6zM543.5 400.8h4v1.8h-4zM701.5 400.8h4v1.8h-4zM493.5 402.3h4v1.8h-4zM543.5 402.3h4v1.8h-4zM701.5 402.3h6v1.8h-6zM497.5 403.8h2v1.8h-2zM541.5 403.8h4v1.8h-4zM703.5 403.8h6v1.8h-6z"/>
<path fill="#ffae16" d="M475.5 318.3h18v1.8h-18zM493.5 319.8h2v1.8h-2z"/>
<path fill="#ff9f0a" d="M745.5 318.3h34v1.8h-34zM645.5 319.8h170v1.8h-170zM627.5 321.3h190v1.8h-190zM453.5 322.8h42v1.8h-42zM599.5 322.8h48v1.8h-48zM683.5 322.8h20v1.8h-20zM803.5 322.8h14v1.8h-14zM445.5 324.3h36v1.8h-36zM489.5 324.3h10v1.8h-10zM589.5 324.3h42v1.8h-42zM441.5 325.8h16v1.8h-16zM495.5 325.8h8v1.8h-8zM581.5 325.8h26v1.8h-26zM509.5 331.8h6v1.8h-6zM503.5 333.3h26v1.8h-26zM507.5 334.8h44v1.8h-44zM521.5 336.3h32v1.8h-32zM531.5 337.8h24v1.8h-24zM549.5 339.3h6v1.8h-6zM603.5 352.8h24v1.8h-24zM423.5 354.3h12v1.8h-12zM585.5 354.3h46v1.8h-46zM425.5 355.8h12v1.8h-12zM575.5 355.8h62v1.8h-62zM429.5 357.3h12v1.8h-12zM569.5 357.3h28v1.8h-28zM625.5 357.3h18v1.8h-18zM433.5 358.8h12v1.8h-12zM563.5 358.8h24v1.8h-24zM633.5 358.8h16v1.8h-16zM437.5 360.3h14v1.8h-14zM567.5 360.3h12v1.8h-12zM639.5 360.3h16v1.8h-16zM441.5 361.8h22v1.8h-22zM643.5 361.8h24v1.8h-24zM445.5 363.3h22v1.8h-22zM649.5 363.3h22v1.8h-22zM653.5 364.8h8v1.8h-8zM669.5 372.3h6v1.8h-6zM467.5 373.8h4v1.8h-4zM671.5 373.8h4v1.8h-4zM469.5 375.3h4v1.8h-4zM551.5 375.3h4v1.8h-4zM673.5 375.3h4v1.8h-4zM471.5 376.8h4v1.8h-4zM551.5 376.8h2v1.8h-2zM675.5 376.8h4v1.8h-4zM473.5 378.3h4v1.8h-4zM549.5 378.3h4v1.8h-4zM677.5 378.3h4v1.8h-4zM475.5 379.8h4v1.8h-4zM549.5 379.8h4v1.8h-4zM679.5 379.8h4v1.8h-4zM477.5 381.3h6v1.8h-6zM549.5 381.3h2v1.8h-2zM681.5 381.3h4v1.8h-4zM479.5 382.8h10v1.8h-10zM683.5 382.8h8v1.8h-8zM481.5 384.3h10v1.8h-10zM685.5 384.3h12v1.8h-12zM687.5 385.8h12v1.8h-12zM545.5 393.3h2v1.8h-2zM697.5 393.3h4v1.8h-4zM491.5 394.8h4v1.8h-4zM545.5 394.8h2v1.8h-2zM697.5 394.8h6v1.8h-6zM493.5 396.3h4v1.8h-4zM543.5 396.3h4v1.8h-4zM699.5 396.3h6v1.8h-6zM493.5 397.8h4v1.8h-4zM543.5 397.8h2v1.8h-2zM701.5 397.8h6v1.8h-6zM495.5 399.3h4v1.8h-4zM541.5 399.3h4v1.8h-4zM703.5 399.3h6v1.8h-6zM497.5 400.8h2v1.8h-2zM539.5 400.8h4v1.8h-4zM705.5 400.8h8v1.8h-8zM497.5 402.3h4v1.8h-4zM531.5 402.3h12v1.8h-12zM707.5 402.3h16v1.8h-16zM499.5 403.8h2v1.8h-2zM529.5 403.8h12v1.8h-12zM709.5 403.8h18v1.8h-18z"/>
<path fill="#ffa916" d="M473.5 319.8h20v1.8h-20zM481.5 321.3h8v1.8h-8z"/>
<path fill="#ff990a" d="M647.5 322.8h36v1.8h-36zM703.5 322.8h100v1.8h-100zM481.5 324.3h8v1.8h-8zM631.5 324.3h186v1.8h-186zM457.5 325.8h38v1.8h-38zM607.5 325.8h50v1.8h-50zM673.5 325.8h78v1.8h-78zM783.5 325.8h34v1.8h-34zM477.5 327.3h14v1.8h-14zM493.5 333.3h10v1.8h-10zM495.5 334.8h12v1.8h-12zM499.5 336.3h22v1.8h-22zM505.5 337.8h26v1.8h-26zM519.5 339.3h30v1.8h-30zM527.5 340.8h28v1.8h-28zM539.5 342.3h14v1.8h-14zM547.5 343.8h2v1.8h-2zM627.5 352.8h8v1.8h-8zM435.5 354.3h12v1.8h-12zM631.5 354.3h18v1.8h-18zM437.5 355.8h14v1.8h-14zM637.5 355.8h18v1.8h-18zM441.5 357.3h22v1.8h-22zM643.5 357.3h26v1.8h-26zM445.5 358.8h22v1.8h-22zM649.5 358.8h22v1.8h-22zM451.5 360.3h18v1.8h-18zM655.5 360.3h18v1.8h-18zM463.5 361.8h8v1.8h-8zM667.5 361.8h8v1.8h-8zM467.5 363.3h4v1.8h-4zM671.5 363.3h2v1.8h-2zM675.5 372.3h4v1.8h-4zM471.5 373.8h6v1.8h-6zM675.5 373.8h4v1.8h-4zM473.5 375.3h6v1.8h-6zM677.5 375.3h4v1.8h-4zM475.5 376.8h6v1.8h-6zM549.5 376.8h2v1.8h-2zM679.5 376.8h4v1.8h-4zM477.5 378.3h12v1.8h-12zM547.5 378.3h2v1.8h-2zM681.5 378.3h4v1.8h-4zM479.5 379.8h12v1.8h-12zM547.5 379.8h2v1.8h-2zM683.5 379.8h10v1.8h-10zM483.5 381.3h10v1.8h-10zM685.5 381.3h12v1.8h-12zM489.5 382.8h6v1.8h-6zM691.5 382.8h10v1.8h-10zM491.5 384.3h4v1.8h-4zM697.5 384.3h6v1.8h-6zM699.5 385.8h2v1.8h-2zM541.5 393.3h4v1.8h-4zM701.5 393.3h6v1.8h-6zM495.5 394.8h4v1.8h-4zM541.5 394.8h4v1.8h-4zM703.5 394.8h6v1.8h-6zM497.5 396.3h4v1.8h-4zM539.5 396.3h4v1.8h-4zM705.5 396.3h6v1.8h-6zM497.5 397.8h4v1.8h-4zM531.5 397.8h12v1.8h-12zM707.5 397.8h10v1.8h-10zM499.5 399.3h4v1.8h-4zM527.5 399.3h14v1.8h-14zM709.5 399.3h18v1.8h-18zM499.5 400.8h4v1.8h-4zM525.5 400.8h14v1.8h-14zM713.5 400.8h18v1.8h-18zM501.5 402.3h4v1.8h-4zM521.5 402.3h10v1.8h-10zM723.5 402.3h12v1.8h-12zM501.5 403.8h6v1.8h-6zM519.5 403.8h10v1.8h-10zM727.5 403.8h10v1.8h-10z"/>
<path fill="#ff930a" d="M657.5 325.8h16v1.8h-16zM751.5 325.8h32v1.8h-32zM487.5 333.3h6v1.8h-6zM475.5 334.8h20v1.8h-20zM689.5 334.8h70v1.8h-70zM775.5 334.8h40v1.8h-40zM471.5 336.3h28v1.8h-28zM683.5 336.3h52v1.8h-52zM791.5 336.3h26v1.8h-26zM471.5 337.8h8v1.8h-8zM491.5 337.8h14v1.8h-14zM683.5 337.8h14v1.8h-14zM807.5 337.8h10v1.8h-10zM469.5 339.3h6v1.8h-6zM497.5 339.3h22v1.8h-22zM815.5 339.3h2v1.8h-2zM503.5 340.8h24v1.8h-24zM519.5 342.3h20v1.8h-20zM525.5 343.8h22v1.8h-22zM529.5 345.3h14v1.8h-14zM447.5 354.3h22v1.8h-22zM649.5 354.3h22v1.8h-22zM451.5 355.8h20v1.8h-20zM655.5 355.8h18v1.8h-18zM463.5 357.3h8v1.8h-8zM669.5 357.3h6v1.8h-6zM467.5 358.8h6v1.8h-6zM671.5 358.8h4v1.8h-4zM469.5 360.3h6v1.8h-6zM673.5 360.3h2v1.8h-2zM471.5 361.8h4v1.8h-4zM679.5 372.3h4v1.8h-4zM477.5 373.8h10v1.8h-10zM679.5 373.8h4v1.8h-4zM479.5 375.3h12v1.8h-12zM681.5 375.3h4v1.8h-4zM481.5 376.8h12v1.8h-12zM683.5 376.8h10v1.8h-10zM489.5 378.3h6v1.8h-6zM685.5 378.3h14v1.8h-14zM491.5 379.8h6v1.8h-6zM693.5 379.8h8v1.8h-8zM493.5 381.3h4v1.8h-4zM697.5 381.3h8v1.8h-8zM495.5 382.8h4v1.8h-4zM701.5 382.8h6v1.8h-6zM703.5 384.3h4v1.8h-4zM529.5 393.3h12v1.8h-12zM707.5 393.3h8v1.8h-8zM499.5 394.8h4v1.8h-4zM527.5 394.8h14v1.8h-14zM709.5 394.8h16v1.8h-16zM501.5 396.3h2v1.8h-2zM525.5 396.3h14v1.8h-14zM711.5 396.3h20v1.8h-20zM501.5 397.8h4v1.8h-4zM521.5 397.8h10v1.8h-10zM717.5 397.8h18v1.8h-18zM503.5 399.3h4v1.8h-4zM519.5 399.3h8v1.8h-8zM727.5 399.3h12v1.8h-12zM503.5 400.8h8v1.8h-8zM513.5 400.8h12v1.8h-12zM731.5 400.8h10v1.8h-10zM505.5 402.3h16v1.8h-16zM735.5 402.3h8v1.8h-8zM507.5 403.8h12v1.8h-12zM737.5 403.8h2v1.8h-2z"/>
<path fill="#ff9b00" d="M817.5 325.8h2v1.8h-2zM437.5 327.3h14v1.8h-14zM497.5 327.3h10v1.8h-10zM573.5 327.3h26v1.8h-26zM817.5 327.3h2v1.8h-2zM435.5 328.8h12v1.8h-12zM499.5 328.8h10v1.8h-10zM569.5 328.8h26v1.8h-26zM817.5 328.8h2v1.8h-2zM435.5 330.3h12v1.8h-12zM499.5 330.3h12v1.8h-12zM567.5 330.3h28v1.8h-28zM817.5 330.3h2v1.8h-2zM435.5 331.8h12v1.8h-12zM499.5 331.8h10v1.8h-10zM515.5 331.8h6v1.8h-6zM559.5 331.8h36v1.8h-36zM817.5 331.8h2v1.8h-2zM433.5 333.3h12v1.8h-12zM551.5 333.3h44v1.8h-44zM817.5 333.3h2v1.8h-2zM431.5 334.8h12v1.8h-12zM551.5 334.8h42v1.8h-42zM817.5 334.8h2v1.8h-2zM429.5 336.3h12v1.8h-12zM553.5 336.3h40v1.8h-40zM817.5 336.3h2v1.8h-2zM429.5 337.8h10v1.8h-10zM555.5 337.8h36v1.8h-36zM817.5 337.8h2v1.8h-2zM425.5 339.3h12v1.8h-12zM555.5 339.3h34v1.8h-34zM423.5 340.8h12v1.8h-12zM557.5 340.8h26v1.8h-26zM421.5 342.3h12v1.8h-12zM419.5 343.8h14v1.8h-14zM417.5 345.3h14v1.8h-14zM413.5 346.8h16v1.8h-16zM411.5 348.3h18v1.8h-18zM611.5 348.3h4v1.8h-4zM411.5 349.8h18v1.8h-18zM609.5 349.8h8v1.8h-8zM415.5 351.3h16v1.8h-16zM599.5 351.3h22v1.8h-22zM417.5 352.8h14v1.8h-14zM589.5 352.8h14v1.8h-14zM421.5 354.3h2v1.8h-2zM577.5 354.3h8v1.8h-8zM561.5 355.8h14v1.8h-14zM559.5 357.3h10v1.8h-10zM557.5 358.8h6v1.8h-6zM555.5 360.3h12v1.8h-12zM555.5 361.8h16v1.8h-16zM555.5 363.3h6v1.8h-6zM449.5 364.8h18v1.8h-18zM553.5 364.8h6v1.8h-6zM661.5 364.8h10v1.8h-10zM453.5 366.3h16v1.8h-16zM553.5 366.3h6v1.8h-6zM657.5 366.3h16v1.8h-16zM457.5 367.8h12v1.8h-12zM553.5 367.8h4v1.8h-4zM661.5 367.8h12v1.8h-12zM461.5 369.3h8v1.8h-8zM553.5 369.3h4v1.8h-4zM665.5 369.3h8v1.8h-8zM463.5 370.8h6v1.8h-6zM553.5 370.8h4v1.8h-4zM667.5 370.8h6v1.8h-6zM465.5 372.3h6v1.8h-6zM553.5 372.3h4v1.8h-4zM553.5 373.8h2v1.8h-2zM547.5 382.8h4v1.8h-4zM547.5 384.3h4v1.8h-4zM483.5 385.8h10v1.8h-10zM547.5 385.8h2v1.8h-2zM483.5 387.3h10v1.8h-10zM547.5 387.3h2v1.8h-2zM689.5 387.3h10v1.8h-10zM487.5 388.8h6v1.8h-6zM547.5 388.8h2v1.8h-2zM691.5 388.8h8v1.8h-8zM487.5 390.3h6v1.8h-6zM547.5 390.3h2v1.8h-2zM693.5 390.3h8v1.8h-8zM489.5 391.8h4v1.8h-4zM547.5 391.8h2v1.8h-2zM695.5 391.8h6v1.8h-6zM489.5 393.3h6v1.8h-6zM547.5 393.3h2v1.8h-2zM819.5 399.3h2v1.8h-2zM819.5 400.8h2v1.8h-2zM819.5 402.3h2v1.8h-2zM819.5 403.8h2v1.8h-2zM499.5 405.3h4v1.8h-4zM527.5 405.3h14v1.8h-14zM711.5 405.3h18v1.8h-18zM819.5 405.3h2v1.8h-2zM499.5 406.8h4v1.8h-4zM525.5 406.8h14v1.8h-14zM713.5 406.8h18v1.8h-18zM819.5 406.8h2v1.8h-2zM499.5 408.3h4v1.4h-4zM525.5 408.3h12v1.4h-12zM715.5 408.3h16v1.4h-16zM819.5 408.3h2v1.4h-2z"/>
<path fill="#ffa100" d="M425.5 327.3h12v1.8h-12zM507.5 327.3h66v1.8h-66zM423.5 328.8h12v1.8h-12zM509.5 328.8h60v1.8h-60zM423.5 330.3h12v1.8h-12zM511.5 330.3h56v1.8h-56zM421.5 331.8h14v1.8h-14zM521.5 331.8h38v1.8h-38zM421.5 333.3h12v1.8h-12zM545.5 333.3h6v1.8h-6zM417.5 334.8h14v1.8h-14zM415.5 336.3h14v1.8h-14zM401.5 337.8h28v1.8h-28zM395.5 339.3h30v1.8h-30zM393.5 340.8h30v1.8h-30zM391.5 342.3h30v1.8h-30zM389.5 343.8h30v1.8h-30zM389.5 345.3h28v1.8h-28zM387.5 346.8h26v1.8h-26zM387.5 348.3h24v1.8h-24zM387.5 349.8h24v1.8h-24zM387.5 351.3h28v1.8h-28zM389.5 352.8h28v1.8h-28zM393.5 354.3h28v1.8h-28zM571.5 361.8h2v1.8h-2zM561.5 363.3h20v1.8h-20zM433.5 364.8h16v1.8h-16zM559.5 364.8h26v1.8h-26zM437.5 366.3h16v1.8h-16zM559.5 366.3h22v1.8h-22zM641.5 366.3h16v1.8h-16zM437.5 367.8h20v1.8h-20zM557.5 367.8h22v1.8h-22zM643.5 367.8h18v1.8h-18zM439.5 369.3h22v1.8h-22zM557.5 369.3h22v1.8h-22zM643.5 369.3h22v1.8h-22zM439.5 370.8h24v1.8h-24zM557.5 370.8h20v1.8h-20zM645.5 370.8h22v1.8h-22zM441.5 372.3h24v1.8h-24zM557.5 372.3h18v1.8h-18zM819.5 375.3h2v1.8h-2zM819.5 376.8h2v1.8h-2zM819.5 378.3h2v1.8h-2zM819.5 379.8h2v1.8h-2zM819.5 381.3h2v1.8h-2zM819.5 382.8h2v1.8h-2zM551.5 384.3h2v1.8h-2zM819.5 384.3h2v1.8h-2zM475.5 385.8h8v1.8h-8zM549.5 385.8h4v1.8h-4zM819.5 385.8h2v1.8h-2zM477.5 387.3h6v1.8h-6zM549.5 387.3h4v1.8h-4zM683.5 387.3h6v1.8h-6zM819.5 387.3h2v1.8h-2zM477.5 388.8h10v1.8h-10zM549.5 388.8h2v1.8h-2zM683.5 388.8h8v1.8h-8zM819.5 388.8h2v1.8h-2zM477.5 390.3h10v1.8h-10zM549.5 390.3h2v1.8h-2zM683.5 390.3h10v1.8h-10zM819.5 390.3h2v1.8h-2zM477.5 391.8h12v1.8h-12zM549.5 391.8h2v1.8h-2zM683.5 391.8h12v1.8h-12zM819.5 391.8h2v1.8h-2zM479.5 393.3h10v1.8h-10zM549.5 393.3h2v1.8h-2zM819.5 393.3h2v1.8h-2zM819.5 394.8h2v1.8h-2zM819.5 396.3h2v1.8h-2zM819.5 397.8h2v1.8h-2zM495.5 403.8h2v1.8h-2zM495.5 405.3h4v1.8h-4zM541.5 405.3h4v1.8h-4zM705.5 405.3h6v1.8h-6zM495.5 406.8h4v1.8h-4zM539.5 406.8h6v1.8h-6zM705.5 406.8h8v1.8h-8zM495.5 408.3h4v1.4h-4zM537.5 408.3h6v1.4h-6zM707.5 408.3h8v1.4h-8z"/>
<path fill="#ff9500" d="M451.5 327.3h26v1.8h-26zM491.5 327.3h6v1.8h-6zM599.5 327.3h46v1.8h-46zM681.5 327.3h54v1.8h-54zM797.5 327.3h20v1.8h-20zM447.5 328.8h52v1.8h-52zM595.5 328.8h46v1.8h-46zM685.5 328.8h40v1.8h-40zM805.5 328.8h12v1.8h-12zM447.5 330.3h52v1.8h-52zM595.5 330.3h46v1.8h-46zM689.5 330.3h32v1.8h-32zM807.5 330.3h10v1.8h-10zM447.5 331.8h32v1.8h-32zM489.5 331.8h10v1.8h-10zM595.5 331.8h46v1.8h-46zM815.5 331.8h2v1.8h-2zM445.5 333.3h30v1.8h-30zM595.5 333.3h46v1.8h-46zM815.5 333.3h2v1.8h-2zM443.5 334.8h26v1.8h-26zM593.5 334.8h48v1.8h-48zM441.5 336.3h24v1.8h-24zM593.5 336.3h48v1.8h-48zM439.5 337.8h16v1.8h-16zM591.5 337.8h48v1.8h-48zM437.5 339.3h14v1.8h-14zM589.5 339.3h50v1.8h-50zM817.5 339.3h2v1.8h-2zM435.5 340.8h14v1.8h-14zM555.5 340.8h2v1.8h-2zM583.5 340.8h56v1.8h-56zM817.5 340.8h2v1.8h-2zM433.5 342.3h12v1.8h-12zM553.5 342.3h86v1.8h-86zM817.5 342.3h2v1.8h-2zM433.5 343.8h10v1.8h-10zM549.5 343.8h90v1.8h-90zM817.5 343.8h2v1.8h-2zM431.5 345.3h12v1.8h-12zM549.5 345.3h90v1.8h-90zM817.5 345.3h2v1.8h-2zM429.5 346.8h12v1.8h-12zM551.5 346.8h88v1.8h-88zM817.5 346.8h2v1.8h-2zM429.5 348.3h12v1.8h-12zM553.5 348.3h58v1.8h-58zM615.5 348.3h24v1.8h-24zM817.5 348.3h2v1.8h-2zM429.5 349.8h12v1.8h-12zM553.5 349.8h56v1.8h-56zM617.5 349.8h22v1.8h-22zM817.5 349.8h2v1.8h-2zM431.5 351.3h10v1.8h-10zM553.5 351.3h46v1.8h-46zM621.5 351.3h20v1.8h-20zM817.5 351.3h2v1.8h-2zM431.5 352.8h12v1.8h-12zM553.5 352.8h36v1.8h-36zM635.5 352.8h10v1.8h-10zM817.5 352.8h2v1.8h-2zM551.5 354.3h26v1.8h-26zM817.5 354.3h2v1.8h-2zM551.5 355.8h10v1.8h-10zM817.5 355.8h2v1.8h-2zM551.5 357.3h8v1.8h-8zM551.5 358.8h6v1.8h-6zM551.5 360.3h4v1.8h-4zM551.5 361.8h4v1.8h-4zM471.5 363.3h2v1.8h-2zM551.5 363.3h4v1.8h-4zM673.5 363.3h2v1.8h-2zM467.5 364.8h6v1.8h-6zM551.5 364.8h2v1.8h-2zM671.5 364.8h6v1.8h-6zM469.5 366.3h4v1.8h-4zM549.5 366.3h4v1.8h-4zM673.5 366.3h4v1.8h-4zM469.5 367.8h6v1.8h-6zM549.5 367.8h4v1.8h-4zM673.5 367.8h4v1.8h-4zM469.5 369.3h6v1.8h-6zM549.5 369.3h4v1.8h-4zM673.5 369.3h4v1.8h-4zM469.5 370.8h6v1.8h-6zM549.5 370.8h4v1.8h-4zM673.5 370.8h4v1.8h-4zM471.5 372.3h4v1.8h-4zM549.5 372.3h4v1.8h-4zM549.5 373.8h4v1.8h-4zM549.5 375.3h2v1.8h-2zM547.5 376.8h2v1.8h-2zM545.5 381.3h4v1.8h-4zM545.5 382.8h2v1.8h-2zM545.5 384.3h2v1.8h-2zM493.5 385.8h4v1.8h-4zM543.5 385.8h4v1.8h-4zM701.5 385.8h2v1.8h-2zM493.5 387.3h4v1.8h-4zM543.5 387.3h4v1.8h-4zM699.5 387.3h6v1.8h-6zM493.5 388.8h4v1.8h-4zM543.5 388.8h4v1.8h-4zM699.5 388.8h6v1.8h-6zM493.5 390.3h4v1.8h-4zM543.5 390.3h4v1.8h-4zM701.5 390.3h4v1.8h-4zM493.5 391.8h4v1.8h-4zM543.5 391.8h4v1.8h-4zM701.5 391.8h4v1.8h-4zM495.5 393.3h4v1.8h-4zM503.5 405.3h6v1.8h-6zM517.5 405.3h10v1.8h-10zM729.5 405.3h10v1.8h-10zM503.5 406.8h6v1.8h-6zM515.5 406.8h10v1.8h-10zM731.5 406.8h8v1.8h-8zM503.5 408.3h8v1.4h-8zM513.5 408.3h12v1.4h-12zM731.5 408.3h10v1.4h-10z"/>
<path fill="#ff8f00" d="M645.5 327.3h36v1.8h-36zM735.5 327.3h62v1.8h-62zM641.5 328.8h44v1.8h-44zM725.5 328.8h80v1.8h-80zM641.5 330.3h48v1.8h-48zM721.5 330.3h86v1.8h-86zM479.5 331.8h10v1.8h-10zM641.5 331.8h174v1.8h-174zM475.5 333.3h12v1.8h-12zM641.5 333.3h174v1.8h-174zM469.5 334.8h6v1.8h-6zM641.5 334.8h48v1.8h-48zM815.5 334.8h2v1.8h-2zM465.5 336.3h6v1.8h-6zM641.5 336.3h42v1.8h-42zM455.5 337.8h16v1.8h-16zM639.5 337.8h44v1.8h-44zM451.5 339.3h18v1.8h-18zM639.5 339.3h40v1.8h-40zM449.5 340.8h22v1.8h-22zM639.5 340.8h36v1.8h-36zM445.5 342.3h24v1.8h-24zM639.5 342.3h32v1.8h-32zM443.5 343.8h24v1.8h-24zM639.5 343.8h30v1.8h-30zM443.5 345.3h22v1.8h-22zM543.5 345.3h6v1.8h-6zM639.5 345.3h30v1.8h-30zM441.5 346.8h22v1.8h-22zM533.5 346.8h18v1.8h-18zM639.5 346.8h28v1.8h-28zM441.5 348.3h20v1.8h-20zM535.5 348.3h18v1.8h-18zM639.5 348.3h28v1.8h-28zM441.5 349.8h20v1.8h-20zM537.5 349.8h16v1.8h-16zM639.5 349.8h28v1.8h-28zM441.5 351.3h22v1.8h-22zM539.5 351.3h14v1.8h-14zM641.5 351.3h28v1.8h-28zM443.5 352.8h24v1.8h-24zM541.5 352.8h12v1.8h-12zM645.5 352.8h26v1.8h-26zM543.5 354.3h8v1.8h-8zM671.5 354.3h2v1.8h-2zM543.5 355.8h8v1.8h-8zM673.5 355.8h2v1.8h-2zM545.5 357.3h6v1.8h-6zM675.5 357.3h2v1.8h-2zM817.5 357.3h2v1.8h-2zM545.5 358.8h6v1.8h-6zM675.5 358.8h2v1.8h-2zM817.5 358.8h2v1.8h-2zM545.5 360.3h6v1.8h-6zM675.5 360.3h4v1.8h-4zM817.5 360.3h2v1.8h-2zM475.5 361.8h2v1.8h-2zM545.5 361.8h6v1.8h-6zM675.5 361.8h4v1.8h-4zM817.5 361.8h2v1.8h-2zM473.5 363.3h4v1.8h-4zM547.5 363.3h4v1.8h-4zM675.5 363.3h4v1.8h-4zM817.5 363.3h2v1.8h-2zM473.5 364.8h6v1.8h-6zM547.5 364.8h4v1.8h-4zM677.5 364.8h4v1.8h-4zM817.5 364.8h2v1.8h-2zM473.5 366.3h6v1.8h-6zM547.5 366.3h2v1.8h-2zM677.5 366.3h4v1.8h-4zM817.5 366.3h2v1.8h-2zM475.5 367.8h4v1.8h-4zM547.5 367.8h2v1.8h-2zM677.5 367.8h4v1.8h-4zM817.5 367.8h2v1.8h-2zM475.5 369.3h4v1.8h-4zM547.5 369.3h2v1.8h-2zM677.5 369.3h4v1.8h-4zM817.5 369.3h2v1.8h-2zM475.5 370.8h6v1.8h-6zM547.5 370.8h2v1.8h-2zM677.5 370.8h4v1.8h-4zM817.5 370.8h2v1.8h-2zM475.5 372.3h6v1.8h-6zM545.5 372.3h4v1.8h-4zM817.5 372.3h2v1.8h-2zM545.5 373.8h4v1.8h-4zM817.5 373.8h2v1.8h-2zM545.5 375.3h4v1.8h-4zM817.5 375.3h2v1.8h-2zM543.5 376.8h4v1.8h-4zM817.5 376.8h2v1.8h-2zM543.5 378.3h4v1.8h-4zM543.5 379.8h4v1.8h-4zM541.5 381.3h4v1.8h-4zM541.5 382.8h4v1.8h-4zM495.5 384.3h4v1.8h-4zM539.5 384.3h6v1.8h-6zM497.5 385.8h2v1.8h-2zM539.5 385.8h4v1.8h-4zM703.5 385.8h6v1.8h-6zM497.5 387.3h4v1.8h-4zM539.5 387.3h4v1.8h-4zM705.5 387.3h4v1.8h-4zM497.5 388.8h4v1.8h-4zM537.5 388.8h6v1.8h-6zM705.5 388.8h6v1.8h-6zM497.5 390.3h4v1.8h-4zM535.5 390.3h8v1.8h-8zM705.5 390.3h6v1.8h-6zM497.5 391.8h4v1.8h-4zM533.5 391.8h10v1.8h-10zM705.5 391.8h6v1.8h-6zM499.5 393.3h2v1.8h-2zM739.5 403.8h6v1.8h-6zM509.5 405.3h8v1.8h-8zM739.5 405.3h8v1.8h-8zM509.5 406.8h6v1.8h-6zM739.5 406.8h8v1.8h-8zM511.5 408.3h2v1.4h-2zM741.5 408.3h6v1.4h-6z"/>
<path fill="#ff8d0a" d="M759.5 334.8h16v1.8h-16zM735.5 336.3h56v1.8h-56zM479.5 337.8h12v1.8h-12zM697.5 337.8h110v1.8h-110zM475.5 339.3h22v1.8h-22zM683.5 339.3h84v1.8h-84zM769.5 339.3h46v1.8h-46zM471.5 340.8h32v1.8h-32zM683.5 340.8h52v1.8h-52zM789.5 340.8h28v1.8h-28zM473.5 342.3h8v1.8h-8zM493.5 342.3h26v1.8h-26zM685.5 342.3h20v1.8h-20zM799.5 342.3h18v1.8h-18zM501.5 343.8h24v1.8h-24zM515.5 345.3h14v1.8h-14zM471.5 355.8h2v1.8h-2zM471.5 357.3h4v1.8h-4zM473.5 358.8h4v1.8h-4zM683.5 372.3h4v1.8h-4zM487.5 373.8h8v1.8h-8zM683.5 373.8h12v1.8h-12zM491.5 375.3h6v1.8h-6zM685.5 375.3h14v1.8h-14zM493.5 376.8h6v1.8h-6zM693.5 376.8h10v1.8h-10zM495.5 378.3h4v1.8h-4zM699.5 378.3h8v1.8h-8zM497.5 379.8h4v1.8h-4zM701.5 379.8h8v1.8h-8zM497.5 381.3h4v1.8h-4zM705.5 381.3h6v1.8h-6zM707.5 382.8h8v1.8h-8zM707.5 384.3h2v1.8h-2zM503.5 393.3h2v1.8h-2zM521.5 393.3h8v1.8h-8zM715.5 393.3h20v1.8h-20zM503.5 394.8h4v1.8h-4zM519.5 394.8h8v1.8h-8zM725.5 394.8h14v1.8h-14zM503.5 396.3h8v1.8h-8zM513.5 396.3h12v1.8h-12zM731.5 396.3h12v1.8h-12zM505.5 397.8h16v1.8h-16zM735.5 397.8h10v1.8h-10zM507.5 399.3h12v1.8h-12zM739.5 399.3h8v1.8h-8zM511.5 400.8h2v1.8h-2zM741.5 400.8h8v1.8h-8zM743.5 402.3h2v1.8h-2z"/>
<path fill="#ff8800" d="M679.5 339.3h4v1.8h-4zM675.5 340.8h8v1.8h-8zM469.5 342.3h4v1.8h-4zM671.5 342.3h14v1.8h-14zM467.5 343.8h10v1.8h-10zM669.5 343.8h18v1.8h-18zM815.5 343.8h2v1.8h-2zM465.5 345.3h10v1.8h-10zM669.5 345.3h14v1.8h-14zM815.5 345.3h2v1.8h-2zM463.5 346.8h10v1.8h-10zM519.5 346.8h14v1.8h-14zM667.5 346.8h14v1.8h-14zM815.5 346.8h2v1.8h-2zM461.5 348.3h12v1.8h-12zM521.5 348.3h14v1.8h-14zM667.5 348.3h14v1.8h-14zM815.5 348.3h2v1.8h-2zM461.5 349.8h12v1.8h-12zM521.5 349.8h16v1.8h-16zM667.5 349.8h14v1.8h-14zM815.5 349.8h2v1.8h-2zM463.5 351.3h10v1.8h-10zM523.5 351.3h16v1.8h-16zM669.5 351.3h12v1.8h-12zM467.5 352.8h8v1.8h-8zM523.5 352.8h18v1.8h-18zM671.5 352.8h10v1.8h-10zM469.5 354.3h8v1.8h-8zM525.5 354.3h18v1.8h-18zM673.5 354.3h10v1.8h-10zM473.5 355.8h4v1.8h-4zM527.5 355.8h16v1.8h-16zM675.5 355.8h8v1.8h-8zM475.5 357.3h4v1.8h-4zM529.5 357.3h16v1.8h-16zM677.5 357.3h6v1.8h-6zM477.5 358.8h4v1.8h-4zM531.5 358.8h14v1.8h-14zM677.5 358.8h8v1.8h-8zM475.5 360.3h8v1.8h-8zM533.5 360.3h12v1.8h-12zM679.5 360.3h6v1.8h-6zM477.5 361.8h12v1.8h-12zM539.5 361.8h6v1.8h-6zM679.5 361.8h6v1.8h-6zM477.5 363.3h14v1.8h-14zM541.5 363.3h6v1.8h-6zM679.5 363.3h6v1.8h-6zM479.5 364.8h12v1.8h-12zM541.5 364.8h6v1.8h-6zM681.5 364.8h4v1.8h-4zM479.5 366.3h14v1.8h-14zM541.5 366.3h6v1.8h-6zM681.5 366.3h4v1.8h-4zM479.5 367.8h14v1.8h-14zM543.5 367.8h4v1.8h-4zM681.5 367.8h4v1.8h-4zM479.5 369.3h14v1.8h-14zM543.5 369.3h4v1.8h-4zM681.5 369.3h4v1.8h-4zM481.5 370.8h12v1.8h-12zM541.5 370.8h6v1.8h-6zM681.5 370.8h6v1.8h-6zM481.5 372.3h14v1.8h-14zM541.5 372.3h4v1.8h-4zM541.5 373.8h4v1.8h-4zM539.5 375.3h6v1.8h-6zM535.5 376.8h8v1.8h-8zM533.5 378.3h10v1.8h-10zM817.5 378.3h2v1.8h-2zM531.5 379.8h12v1.8h-12zM817.5 379.8h2v1.8h-2zM529.5 381.3h12v1.8h-12zM817.5 381.3h2v1.8h-2zM499.5 382.8h4v1.8h-4zM527.5 382.8h14v1.8h-14zM817.5 382.8h2v1.8h-2zM499.5 384.3h4v1.8h-4zM525.5 384.3h14v1.8h-14zM709.5 384.3h16v1.8h-16zM817.5 384.3h2v1.8h-2zM499.5 385.8h4v1.8h-4zM525.5 385.8h14v1.8h-14zM709.5 385.8h20v1.8h-20zM817.5 385.8h2v1.8h-2zM501.5 387.3h4v1.8h-4zM525.5 387.3h14v1.8h-14zM709.5 387.3h22v1.8h-22zM817.5 387.3h2v1.8h-2zM501.5 388.8h4v1.8h-4zM525.5 388.8h12v1.8h-12zM711.5 388.8h20v1.8h-20zM817.5 388.8h2v1.8h-2zM501.5 390.3h4v1.8h-4zM523.5 390.3h12v1.8h-12zM711.5 390.3h20v1.8h-20zM817.5 390.3h2v1.8h-2zM501.5 391.8h4v1.8h-4zM523.5 391.8h10v1.8h-10zM711.5 391.8h22v1.8h-22zM817.5 391.8h2v1.8h-2zM501.5 393.3h2v1.8h-2zM735.5 393.3h2v1.8h-2zM817.5 393.3h2v1.8h-2zM817.5 394.8h2v1.8h-2zM817.5 396.3h2v1.8h-2zM817.5 397.8h2v1.8h-2zM749.5 400.8h2v1.8h-2zM745.5 402.3h8v1.8h-8zM745.5 403.8h10v1.8h-10zM747.5 405.3h8v1.8h-8zM747.5 406.8h10v1.8h-10zM747.5 408.3h10v1.4h-10z"/>
<path fill="#ff860a" d="M767.5 339.3h2v1.8h-2zM735.5 340.8h54v1.8h-54zM481.5 342.3h12v1.8h-12zM705.5 342.3h94v1.8h-94zM477.5 343.8h24v1.8h-24zM693.5 343.8h118v1.8h-118zM491.5 345.3h24v1.8h-24zM687.5 372.3h16v1.8h-16zM495.5 373.8h2v1.8h-2zM695.5 373.8h12v1.8h-12zM497.5 375.3h4v1.8h-4zM699.5 375.3h10v1.8h-10zM499.5 376.8h4v1.8h-4zM703.5 376.8h10v1.8h-10zM499.5 378.3h4v1.8h-4zM707.5 378.3h20v1.8h-20zM501.5 379.8h2v1.8h-2zM709.5 379.8h24v1.8h-24zM501.5 381.3h2v1.8h-2zM711.5 381.3h20v1.8h-20zM715.5 382.8h10v1.8h-10zM505.5 393.3h16v1.8h-16zM507.5 394.8h12v1.8h-12zM739.5 394.8h6v1.8h-6zM511.5 396.3h2v1.8h-2zM743.5 396.3h6v1.8h-6zM745.5 397.8h6v1.8h-6zM747.5 399.3h4v1.8h-4z"/>
<path fill="#ff8100" d="M687.5 343.8h6v1.8h-6zM811.5 343.8h4v1.8h-4zM475.5 345.3h16v1.8h-16zM683.5 345.3h62v1.8h-62zM781.5 345.3h34v1.8h-34zM473.5 346.8h46v1.8h-46zM681.5 346.8h52v1.8h-52zM787.5 346.8h28v1.8h-28zM473.5 348.3h48v1.8h-48zM681.5 348.3h42v1.8h-42zM791.5 348.3h24v1.8h-24zM473.5 349.8h48v1.8h-48zM681.5 349.8h38v1.8h-38zM791.5 349.8h24v1.8h-24zM473.5 351.3h50v1.8h-50zM681.5 351.3h32v1.8h-32zM793.5 351.3h24v1.8h-24zM475.5 352.8h48v1.8h-48zM681.5 352.8h30v1.8h-30zM795.5 352.8h22v1.8h-22zM477.5 354.3h48v1.8h-48zM683.5 354.3h26v1.8h-26zM799.5 354.3h18v1.8h-18zM477.5 355.8h32v1.8h-32zM513.5 355.8h14v1.8h-14zM683.5 355.8h24v1.8h-24zM805.5 355.8h12v1.8h-12zM479.5 357.3h24v1.8h-24zM517.5 357.3h12v1.8h-12zM683.5 357.3h22v1.8h-22zM815.5 357.3h2v1.8h-2zM481.5 358.8h20v1.8h-20zM521.5 358.8h10v1.8h-10zM685.5 358.8h18v1.8h-18zM815.5 358.8h2v1.8h-2zM483.5 360.3h16v1.8h-16zM523.5 360.3h10v1.8h-10zM685.5 360.3h18v1.8h-18zM815.5 360.3h2v1.8h-2zM489.5 361.8h10v1.8h-10zM525.5 361.8h14v1.8h-14zM685.5 361.8h18v1.8h-18zM815.5 361.8h2v1.8h-2zM491.5 363.3h8v1.8h-8zM525.5 363.3h16v1.8h-16zM685.5 363.3h16v1.8h-16zM491.5 364.8h8v1.8h-8zM527.5 364.8h14v1.8h-14zM685.5 364.8h16v1.8h-16zM493.5 366.3h6v1.8h-6zM527.5 366.3h14v1.8h-14zM685.5 366.3h16v1.8h-16zM493.5 367.8h6v1.8h-6zM529.5 367.8h14v1.8h-14zM685.5 367.8h16v1.8h-16zM493.5 369.3h6v1.8h-6zM529.5 369.3h14v1.8h-14zM685.5 369.3h16v1.8h-16zM493.5 370.8h6v1.8h-6zM529.5 370.8h12v1.8h-12zM687.5 370.8h14v1.8h-14zM495.5 372.3h4v1.8h-4zM527.5 372.3h14v1.8h-14zM497.5 373.8h4v1.8h-4zM527.5 373.8h14v1.8h-14zM525.5 375.3h14v1.8h-14zM525.5 376.8h10v1.8h-10zM523.5 378.3h10v1.8h-10zM503.5 379.8h2v1.8h-2zM521.5 379.8h10v1.8h-10zM503.5 381.3h4v1.8h-4zM519.5 381.3h10v1.8h-10zM731.5 381.3h6v1.8h-6zM503.5 382.8h4v1.8h-4zM519.5 382.8h8v1.8h-8zM725.5 382.8h16v1.8h-16zM503.5 384.3h6v1.8h-6zM517.5 384.3h8v1.8h-8zM725.5 384.3h18v1.8h-18zM503.5 385.8h6v1.8h-6zM515.5 385.8h10v1.8h-10zM729.5 385.8h16v1.8h-16zM505.5 387.3h6v1.8h-6zM513.5 387.3h12v1.8h-12zM731.5 387.3h14v1.8h-14zM505.5 388.8h20v1.8h-20zM731.5 388.8h14v1.8h-14zM505.5 390.3h18v1.8h-18zM731.5 390.3h14v1.8h-14zM505.5 391.8h18v1.8h-18zM733.5 391.8h14v1.8h-14zM737.5 393.3h12v1.8h-12zM745.5 394.8h6v1.8h-6zM749.5 396.3h6v1.8h-6zM751.5 397.8h6v1.8h-6zM751.5 399.3h10v1.8h-10zM817.5 399.3h2v1.8h-2zM751.5 400.8h14v1.8h-14zM817.5 400.8h2v1.8h-2zM753.5 402.3h20v1.8h-20zM817.5 402.3h2v1.8h-2zM755.5 403.8h22v1.8h-22zM817.5 403.8h2v1.8h-2zM755.5 405.3h22v1.8h-22zM817.5 405.3h2v1.8h-2zM757.5 406.8h22v1.8h-22zM817.5 406.8h2v1.8h-2zM757.5 408.3h22v1.4h-22zM817.5 408.3h2v1.4h-2z"/>
<path fill="#ff7900" d="M745.5 345.3h36v1.8h-36zM733.5 346.8h54v1.8h-54zM723.5 348.3h68v1.8h-68zM719.5 349.8h72v1.8h-72zM713.5 351.3h80v1.8h-80zM711.5 352.8h84v1.8h-84zM709.5 354.3h90v1.8h-90zM509.5 355.8h4v1.8h-4zM707.5 355.8h98v1.8h-98zM503.5 357.3h14v1.8h-14zM705.5 357.3h110v1.8h-110zM501.5 358.8h10v1.8h-10zM515.5 358.8h6v1.8h-6zM703.5 358.8h112v1.8h-112zM499.5 360.3h24v1.8h-24zM703.5 360.3h50v1.8h-50zM779.5 360.3h36v1.8h-36zM499.5 361.8h26v1.8h-26zM703.5 361.8h42v1.8h-42zM785.5 361.8h30v1.8h-30zM499.5 363.3h10v1.8h-10zM515.5 363.3h10v1.8h-10zM701.5 363.3h38v1.8h-38zM791.5 363.3h26v1.8h-26zM499.5 364.8h8v1.8h-8zM517.5 364.8h10v1.8h-10zM701.5 364.8h32v1.8h-32zM797.5 364.8h20v1.8h-20zM499.5 366.3h6v1.8h-6zM519.5 366.3h8v1.8h-8zM701.5 366.3h26v1.8h-26zM803.5 366.3h14v1.8h-14zM499.5 367.8h6v1.8h-6zM519.5 367.8h10v1.8h-10zM701.5 367.8h20v1.8h-20zM809.5 367.8h8v1.8h-8zM499.5 369.3h6v1.8h-6zM519.5 369.3h10v1.8h-10zM701.5 369.3h18v1.8h-18zM813.5 369.3h4v1.8h-4zM499.5 370.8h6v1.8h-6zM519.5 370.8h10v1.8h-10zM701.5 370.8h26v1.8h-26zM815.5 370.8h2v1.8h-2zM499.5 372.3h6v1.8h-6zM519.5 372.3h8v1.8h-8zM703.5 372.3h32v1.8h-32zM815.5 372.3h2v1.8h-2zM501.5 373.8h6v1.8h-6zM517.5 373.8h10v1.8h-10zM711.5 373.8h30v1.8h-30zM815.5 373.8h2v1.8h-2zM501.5 375.3h8v1.8h-8zM515.5 375.3h10v1.8h-10zM727.5 375.3h18v1.8h-18zM815.5 375.3h2v1.8h-2zM503.5 376.8h22v1.8h-22zM731.5 376.8h18v1.8h-18zM815.5 376.8h2v1.8h-2zM503.5 378.3h20v1.8h-20zM733.5 378.3h20v1.8h-20zM815.5 378.3h2v1.8h-2zM505.5 379.8h16v1.8h-16zM733.5 379.8h22v1.8h-22zM815.5 379.8h2v1.8h-2zM507.5 381.3h12v1.8h-12zM737.5 381.3h22v1.8h-22zM507.5 382.8h12v1.8h-12zM741.5 382.8h20v1.8h-20zM509.5 384.3h8v1.8h-8zM743.5 384.3h20v1.8h-20zM509.5 385.8h6v1.8h-6zM745.5 385.8h20v1.8h-20zM511.5 387.3h2v1.8h-2zM745.5 387.3h20v1.8h-20zM745.5 388.8h24v1.8h-24zM745.5 390.3h26v1.8h-26zM747.5 391.8h28v1.8h-28zM749.5 393.3h30v1.8h-30zM751.5 394.8h30v1.8h-30zM755.5 396.3h28v1.8h-28zM757.5 397.8h28v1.8h-28zM761.5 399.3h26v1.8h-26zM765.5 400.8h22v1.8h-22zM773.5 402.3h14v1.8h-14zM777.5 403.8h12v1.8h-12zM777.5 405.3h12v1.8h-12zM779.5 406.8h10v1.8h-10zM779.5 408.3h10v1.4h-10z"/>
<path fill="#ff7e0a" d="M511.5 358.8h4v1.8h-4zM707.5 373.8h4v1.8h-4zM709.5 375.3h18v1.8h-18zM713.5 376.8h18v1.8h-18zM727.5 378.3h6v1.8h-6z"/>
<path fill="#ff6f00" d="M753.5 360.3h26v1.8h-26zM745.5 361.8h40v1.8h-40zM509.5 363.3h6v1.8h-6zM739.5 363.3h52v1.8h-52zM507.5 364.8h10v1.8h-10zM733.5 364.8h64v1.8h-64zM505.5 366.3h14v1.8h-14zM727.5 366.3h76v1.8h-76zM505.5 367.8h14v1.8h-14zM721.5 367.8h88v1.8h-88zM505.5 369.3h14v1.8h-14zM719.5 369.3h94v1.8h-94zM505.5 370.8h14v1.8h-14zM727.5 370.8h88v1.8h-88zM505.5 372.3h14v1.8h-14zM735.5 372.3h80v1.8h-80zM507.5 373.8h10v1.8h-10zM741.5 373.8h74v1.8h-74zM509.5 375.3h6v1.8h-6zM745.5 375.3h70v1.8h-70zM749.5 376.8h66v1.8h-66zM753.5 378.3h62v1.8h-62zM755.5 379.8h60v1.8h-60zM759.5 381.3h58v1.8h-58zM761.5 382.8h56v1.8h-56zM763.5 384.3h54v1.8h-54zM765.5 385.8h52v1.8h-52zM765.5 387.3h52v1.8h-52zM769.5 388.8h48v1.8h-48zM771.5 390.3h40v1.8h-40zM815.5 390.3h2v1.8h-2zM775.5 391.8h34v1.8h-34zM815.5 391.8h2v1.8h-2zM779.5 393.3h26v1.8h-26zM815.5 393.3h2v1.8h-2zM781.5 394.8h22v1.8h-22zM815.5 394.8h2v1.8h-2zM783.5 396.3h20v1.8h-20zM815.5 396.3h2v1.8h-2zM785.5 397.8h16v1.8h-16zM815.5 397.8h2v1.8h-2zM787.5 399.3h14v1.8h-14zM815.5 399.3h2v1.8h-2zM787.5 400.8h12v1.8h-12zM787.5 402.3h12v1.8h-12zM789.5 403.8h10v1.8h-10zM789.5 405.3h10v1.8h-10zM789.5 406.8h10v1.8h-10zM789.5 408.3h10v1.4h-10z"/>
<path fill="#ff6500" d="M811.5 390.3h4v1.8h-4zM809.5 391.8h6v1.8h-6zM805.5 393.3h10v1.8h-10zM803.5 394.8h12v1.8h-12zM803.5 396.3h12v1.8h-12zM801.5 397.8h14v1.8h-14zM801.5 399.3h14v1.8h-14zM799.5 400.8h18v1.8h-18zM799.5 402.3h18v1.8h-18zM799.5 403.8h18v1.8h-18zM799.5 405.3h18v1.8h-18zM799.5 406.8h18v1.8h-18zM799.5 408.3h18v1.4h-18z"/>
</g>
<!--BARBS-->
<path d="M153.5 409.4L122.6 407.4M127.2 407.7l-2.0 -4.2M153.5 399.5L122.8 394.9M122.8 394.9l-3.3 -8.7M153.5 389.6L122.6 387.1M122.6 387.1l-3.8 -8.5M153.5 379.6L122.5 379.9M122.5 379.9l-4.6 -8.1M153.5 369.7L122.5 368.1M122.5 368.1l-4.1 -8.4M127.1 368.3l-2.0 -4.2M153.5 359.8L122.6 357.6M122.6 357.6l-3.9 -8.4M127.2 358.0l-2.0 -4.2M153.5 349.9L122.5 348.4M122.5 348.4l-4.1 -8.3M127.1 348.6l-2.1 -4.2M153.5 340.0L122.5 339.5M122.5 339.5l-4.4 -8.2M127.1 339.6l-2.2 -4.1M153.5 330.0L122.8 325.7M122.8 325.7l-3.3 -8.7M127.4 326.3l-1.7 -4.3M153.5 320.1L122.8 316.2M122.8 316.2l-3.4 -8.6M127.3 316.8l-1.7 -4.3M153.5 310.2L122.8 306.2M122.8 306.2l-3.4 -8.6M153.5 300.3L122.9 295.2M122.9 295.2l-3.1 -8.8M127.5 296.0l-1.6 -4.4M153.5 290.4L122.8 286.0M122.8 286.0l-3.3 -8.7M153.5 280.4L122.7 277.0M122.7 277.0l-3.6 -8.6M127.3 277.5l-1.8 -4.3M153.5 270.5L122.6 268.7M122.6 268.7l-4.0 -8.4M127.1 269.0l-2.0 -4.2M153.5 260.6L123.0 255.3M123.0 255.3l-3.0 -8.8M153.5 250.7L123.0 245.0M123.0 245.0l-2.9 -8.8M153.5 240.8L122.6 238.9M122.6 238.9l-4.0 -8.4M127.1 239.2l-2.0 -4.2M153.5 230.8L122.8 226.8M122.8 226.8l-3.4 -8.6M127.3 227.4l-1.7 -4.3M153.5 220.9L122.9 216.3M122.9 216.3l-3.2 -8.7M127.4 217.0l-1.6 -4.4M153.5 211.0L122.9 206.2M122.9 206.2l-3.2 -8.7M127.4 206.9l-3.2 -8.7M153.5 201.1L122.9 195.9M122.9 195.9l-3.1 -8.8M127.5 196.7l-3.1 -8.8M153.5 191.2L122.9 186.3M122.9 186.3l-3.2 -8.7M127.4 187.0l-3.2 -8.7M153.5 181.2L123.7 172.8M123.7 172.8l-2.1 -9.1M128.1 174.0l-2.1 -9.1M132.5 175.3l-1.1 -4.5M153.5 171.3L123.8 162.4M123.8 162.4l-2.0 -9.1M128.2 163.7l-2.0 -9.1M153.5 161.4L124.3 151.0M124.3 151.0l-1.5 -9.2M128.6 152.5l-1.5 -9.2M153.5 151.5L124.9 139.6M124.9 139.6l-1.1 -9.2M129.1 141.4l-1.1 -9.2M153.5 141.6L125.7 127.9M125.7 127.9l-0.5 -9.3M129.8 129.9l-0.5 -9.3M153.5 131.6L125.5 118.2M125.5 118.2l-0.5 -9.3M129.7 120.2l-0.5 -9.3M153.5 121.7L126.6 106.3M126.6 106.3l0.1 -9.3M130.6 108.6l0.1 -9.3M153.5 111.8L127.9 94.3M127.9 94.3l0.9 -9.3M131.7 96.9l0.9 -9.3M153.5 101.9L127.5 85.0M127.5 85.0l0.6 -9.3M131.4 87.5l0.6 -9.3M166.3 409.4L135.6 405.3M135.6 405.3l-3.4 -8.7M166.3 399.5L135.7 394.7M135.7 394.7l-3.2 -8.7M166.3 389.6L135.3 388.1M135.3 388.1l-4.1 -8.3M166.3 379.6L135.3 378.7M135.3 378.7l-4.3 -8.3M139.9 378.8l-2.1 -4.1M166.3 369.7L135.7 364.7M135.7 364.7l-3.1 -8.8M140.2 365.5l-1.6 -4.4M166.3 359.8L135.6 355.4M135.6 355.4l-3.3 -8.7M140.2 356.0l-1.7 -4.3M166.3 349.9L135.3 348.4M135.3 348.4l-4.1 -8.3M139.9 348.6l-2.1 -4.2M166.3 340.0L135.4 338.1M135.4 338.1l-4.0 -8.4M139.9 338.4l-2.0 -4.2M166.3 330.0L135.5 326.7M135.5 326.7l-3.6 -8.6M140.1 327.2l-1.8 -4.3M166.3 320.1L135.3 318.7M135.3 318.7l-4.1 -8.3M139.9 318.9l-2.1 -4.2M166.3 310.2L135.3 308.6M135.3 308.6l-4.1 -8.4M166.3 300.3L135.7 295.3M135.7 295.3l-3.1 -8.8M140.2 296.0l-1.6 -4.4M166.3 290.4L135.6 286.2M135.6 286.2l-3.4 -8.7M166.3 280.4L135.6 276.4M135.6 276.4l-3.4 -8.6M140.1 277.0l-1.7 -4.3M166.3 270.5L135.8 264.8M135.8 264.8l-2.9 -8.8M140.4 265.7l-1.5 -4.4M166.3 260.6L135.8 255.0M135.8 255.0l-3.0 -8.8M166.3 250.7L135.7 245.7M135.7 245.7l-3.2 -8.7M140.2 246.5l-1.6 -4.4M166.3 240.8L135.9 234.8M135.9 234.8l-2.9 -8.8M140.4 235.7l-1.4 -4.4M166.3 230.8L135.7 226.0M135.7 226.0l-3.2 -8.7M140.2 226.7l-1.6 -4.4M166.3 220.9L136.0 214.4M136.0 214.4l-2.7 -8.9M140.5 215.3l-1.3 -4.5M166.3 211.0L136.0 204.5M136.0 204.5l-2.7 -8.9M140.5 205.5l-2.7 -8.9M166.3 201.1L135.6 196.5M135.6 196.5l-3.3 -8.7M140.2 197.2l-3.3 -8.7M166.3 191.2L136.6 182.3M136.6 182.3l-2.0 -9.1M141.0 183.6l-2.0 -9.1M145.4 184.9l-1.0 -4.5M166.3 181.2L137.8 169.1M137.8 169.1l-1.0 -9.3M142.0 170.9l-1.0 -9.3M146.3 172.7l-0.5 -4.6M166.3 171.3L136.9 161.6M136.9 161.6l-1.7 -9.1M141.2 163.1l-1.7 -9.1M145.6 164.5l-0.9 -4.6M166.3 161.4L137.7 149.5M137.7 149.5l-1.0 -9.2M141.9 151.2l-1.0 -9.2M166.3 151.5L139.6 135.7M139.6 135.7l0.3 -9.3M143.6 138.0l0.3 -9.3M147.6 140.4l0.1 -4.6M166.3 141.6L140.0 125.2M140.0 125.2l0.5 -9.3M143.9 127.6l0.5 -9.3M166.3 131.6L138.9 117.1M138.9 117.1l-0.2 -9.3M143.0 119.2l-0.2 -9.3M166.3 121.7L138.9 107.1M138.9 107.1l-0.2 -9.3M143.0 109.3l-0.2 -9.3M166.3 111.8L139.5 96.2M139.5 96.2l0.2 -9.3M143.5 98.5l0.2 -9.3M166.3 101.9L138.9 87.3M138.9 87.3l-0.2 -9.3M143.0 89.5l-0.2 -9.3M179.1 409.4L148.3 406.0M152.9 406.5l-1.8 -4.3M179.1 399.5L148.1 399.0M148.1 399.0l-4.4 -8.2M179.1 389.6L148.1 389.3M148.1 389.3l-4.4 -8.2M179.1 379.6L148.2 377.4M148.2 377.4l-3.9 -8.4M152.8 377.7l-2.0 -4.2M179.1 369.7L148.5 364.8M148.5 364.8l-3.2 -8.7M179.1 359.8L148.2 358.1M148.2 358.1l-4.1 -8.4M152.7 358.4l-2.0 -4.2M179.1 349.9L148.2 347.3M148.2 347.3l-3.8 -8.5M152.8 347.7l-1.9 -4.2M179.1 340.0L148.8 333.5M148.8 333.5l-2.7 -8.9M153.3 334.5l-1.4 -4.4M179.1 330.0L148.4 325.7M148.4 325.7l-3.3 -8.7M153.0 326.4l-1.7 -4.3M179.1 320.1L148.1 318.6M148.1 318.6l-4.1 -8.3M179.1 310.2L148.4 306.1M148.4 306.1l-3.4 -8.7M179.1 300.3L149.1 292.7M149.1 292.7l-2.4 -9.0M179.1 290.4L148.3 287.0M148.3 287.0l-3.6 -8.6M152.9 287.5l-1.8 -4.3M179.1 280.4L148.4 276.0M148.4 276.0l-3.3 -8.7M179.1 270.5L148.8 264.0M148.8 264.0l-2.7 -8.9M179.1 260.6L148.9 253.4M148.9 253.4l-2.5 -9.0M153.4 254.5l-1.3 -4.5M179.1 250.7L148.8 244.0M148.8 244.0l-2.7 -8.9M153.3 245.0l-1.3 -4.5M179.1 240.8L148.5 235.7M148.5 235.7l-3.1 -8.8M153.1 236.4l-1.6 -4.4M179.1 230.8L149.0 223.5M149.0 223.5l-2.4 -9.0M153.5 224.6l-1.2 -4.5M179.1 220.9L149.4 212.1M149.4 212.1l-2.0 -9.1M153.8 213.4l-2.0 -9.1M179.1 211.0L148.9 204.1M148.9 204.1l-2.6 -8.9M153.4 205.1l-2.6 -8.9M179.1 201.1L150.0 190.3M150.0 190.3l-1.4 -9.2M154.3 191.9l-1.4 -9.2M158.7 193.5l-0.7 -4.6M179.1 191.2L151.2 177.7M151.2 177.7l-0.5 -9.3M155.3 179.7l-0.5 -9.3M159.5 181.7l-0.3 -4.6M179.1 181.2L151.0 168.2M151.0 168.2l-0.7 -9.3M155.2 170.1l-0.7 -9.3M159.3 172.0l-0.3 -4.6M179.1 171.3L150.1 160.4M150.1 160.4l-1.4 -9.2M154.4 162.0l-1.4 -9.2M158.7 163.6l-0.7 -4.6M179.1 161.4L151.4 147.5M151.4 147.5l-0.4 -9.3M155.5 149.6l-0.4 -9.3M179.1 151.5L151.7 137.1M151.7 137.1l-0.2 -9.3M155.7 139.2l-0.2 -9.3M179.1 141.6L151.6 127.2M151.6 127.2l-0.2 -9.3M155.7 129.3l-0.2 -9.3M159.8 131.5l-0.1 -4.6M179.1 131.6L153.3 114.4M153.3 114.4l0.8 -9.3M157.2 117.0l0.8 -9.3M179.1 121.7L154.3 103.1M154.3 103.1l1.3 -9.2M158.0 105.9l1.3 -9.2M161.7 108.6l0.6 -4.6M179.1 111.8L154.1 93.5M154.1 93.5l1.2 -9.2M157.8 96.2l1.2 -9.2M179.1 101.9L151.4 87.9M151.4 87.9l-0.4 -9.3M155.5 90.0l-0.4 -9.3M191.9 409.4L161.0 407.3M161.0 407.3l-3.9 -8.4M191.9 399.5L161.0 397.4M161.0 397.4l-4.0 -8.4M191.9 389.6L161.2 385.4M161.2 385.4l-3.4 -8.7M191.9 379.6L161.4 374.2M161.4 374.2l-3.0 -8.8M165.9 375.0l-1.5 -4.4M191.9 369.7L161.0 367.5M161.0 367.5l-3.9 -8.4M165.6 367.8l-2.0 -4.2M191.9 359.8L161.2 355.5M161.2 355.5l-3.3 -8.7M165.8 356.1l-1.7 -4.3M191.9 349.9L161.4 344.2M161.4 344.2l-2.9 -8.8M166.0 345.0l-1.5 -4.4M191.9 340.0L161.2 335.5M161.2 335.5l-3.3 -8.7M165.8 336.1l-1.6 -4.4M191.9 330.0L161.1 326.7M161.1 326.7l-3.6 -8.6M165.7 327.2l-1.8 -4.3M191.9 320.1L161.5 314.3M161.5 314.3l-2.9 -8.8M191.9 310.2L161.5 304.3M161.5 304.3l-2.9 -8.8M166.0 305.1l-1.4 -4.4M191.9 300.3L161.8 293.1M161.8 293.1l-2.5 -9.0M191.9 290.4L161.1 287.0M161.1 287.0l-3.6 -8.6M191.9 280.4L161.8 273.2M161.8 273.2l-2.5 -9.0M166.2 274.2l-1.2 -4.5M191.9 270.5L161.6 264.0M161.6 264.0l-2.7 -8.9M166.1 265.0l-1.4 -4.4M191.9 260.6L162.1 251.9M162.1 251.9l-2.1 -9.1M166.6 253.2l-1.0 -4.5M191.9 250.7L161.4 245.5M161.4 245.5l-3.1 -8.8M165.9 246.2l-1.5 -4.4M191.9 240.8L161.7 233.8M161.7 233.8l-2.6 -8.9M166.2 234.8l-1.3 -4.5M191.9 230.8L163.3 218.9M163.3 218.9l-1.0 -9.2M167.6 220.7l-0.5 -4.6M191.9 220.9L162.4 211.3M162.4 211.3l-1.8 -9.1M166.8 212.8l-1.8 -9.1M191.9 211.0L162.5 201.3M162.5 201.3l-1.7 -9.1M166.8 202.8l-1.7 -9.1M191.9 201.1L164.3 187.0M164.3 187.0l-0.3 -9.3M168.4 189.1l-0.3 -9.3M191.9 191.2L163.9 177.9M163.9 177.9l-0.6 -9.3M168.0 179.9l-0.6 -9.3M172.2 181.8l-0.3 -4.6M191.9 181.2L163.6 168.7M163.6 168.7l-0.8 -9.3M167.8 170.6l-0.8 -9.3M172.0 172.4l-0.4 -4.6M191.9 171.3L164.3 157.2M164.3 157.2l-0.3 -9.3M168.4 159.3l-0.3 -9.3M172.5 161.4l-0.1 -4.6M191.9 161.4L165.3 145.6M165.3 145.6l0.3 -9.3M169.2 147.9l0.3 -9.3M173.2 150.3l0.1 -4.6M191.9 151.5L165.5 135.3M165.5 135.3l0.4 -9.3M169.4 137.7l0.4 -9.3M173.3 140.1l0.2 -4.6M191.9 141.6L165.3 125.6M165.3 125.6l0.3 -9.3M169.3 128.0l0.3 -9.3M173.2 130.4l0.2 -4.6M191.9 131.6L166.0 114.6M166.0 114.6l0.7 -9.3M169.8 117.2l0.7 -9.3M173.7 119.7l0.3 -4.6M191.9 121.7L166.7 103.7M166.7 103.7l1.0 -9.2M170.4 106.4l1.0 -9.2M191.9 111.8L165.5 95.5M165.5 95.5l0.4 -9.3M169.4 97.9l0.4 -9.3M191.9 101.9L164.7 86.9M164.7 86.9l-0.0 -9.3M168.8 89.2l-0.0 -9.3M204.7 409.4L173.7 409.2M173.7 409.2l-4.4 -8.2M204.7 399.5L173.7 398.9M173.7 398.9l-4.3 -8.2M204.7 389.6L174.1 384.6M174.1 384.6l-3.1 -8.8M178.7 385.3l-1.6 -4.4M204.7 379.6L174.0 375.6M174.0 375.6l-3.4 -8.6M178.5 376.2l-1.7 -4.3M204.7 369.7L173.9 366.3M173.9 366.3l-3.6 -8.6M178.5 366.8l-1.8 -4.3M204.7 359.8L173.8 357.3M173.8 357.3l-3.8 -8.5M178.4 357.7l-1.9 -4.2M204.7 349.9L174.1 344.7M174.1 344.7l-3.1 -8.8M178.7 345.5l-1.5 -4.4M204.7 340.0L174.4 333.6M174.4 333.6l-2.7 -8.9M178.9 334.5l-1.4 -4.4M204.7 330.0L174.0 325.8M174.0 325.8l-3.3 -8.7M178.6 326.4l-1.7 -4.3M204.7 320.1L174.6 312.9M174.6 312.9l-2.5 -9.0M204.7 310.2L174.7 302.6M174.7 302.6l-2.4 -9.0M204.7 300.3L174.3 294.5M174.3 294.5l-2.9 -8.8M204.7 290.4L174.1 285.3M174.1 285.3l-3.1 -8.8M204.7 280.4L174.6 273.0M174.6 273.0l-2.4 -9.0M179.1 274.1l-1.2 -4.5M204.7 270.5L175.0 261.6M175.0 261.6l-2.0 -9.1M179.4 262.9l-1.0 -4.5M204.7 260.6L174.8 252.3M174.8 252.3l-2.2 -9.0M204.7 250.7L174.6 243.2M174.6 243.2l-2.4 -9.0M179.1 244.3l-1.2 -4.5M204.7 240.8L176.0 229.1M176.0 229.1l-1.1 -9.2M180.3 230.8l-0.6 -4.6M204.7 230.8L175.3 221.1M175.3 221.1l-1.7 -9.1M179.6 222.6l-0.9 -4.6M204.7 220.9L175.1 211.8M175.1 211.8l-1.9 -9.1M179.5 213.2l-1.9 -9.1M204.7 211.0L175.9 199.5M175.9 199.5l-1.2 -9.2M180.2 201.2l-1.2 -9.2M204.7 201.1L178.4 184.7M178.4 184.7l0.5 -9.3M182.3 187.1l0.5 -9.3M186.2 189.5l0.2 -4.6M204.7 191.2L177.1 177.0M177.1 177.0l-0.3 -9.3M181.2 179.1l-0.3 -9.3M185.3 181.2l-0.1 -4.6M204.7 181.2L178.2 165.2M178.2 165.2l0.4 -9.3M182.1 167.6l0.4 -9.3M186.1 169.9l0.2 -4.6M204.7 171.3L180.5 151.9M180.5 151.9l1.6 -9.2M184.1 154.8l1.6 -9.2M187.7 157.7l0.8 -4.6M204.7 161.4L179.4 143.5M179.4 143.5l1.0 -9.2M183.1 146.2l1.0 -9.2M186.9 148.8l0.5 -4.6M204.7 151.5L178.6 134.7M178.6 134.7l0.6 -9.3M182.5 137.2l0.6 -9.3M186.4 139.7l0.3 -4.6M204.7 141.6L179.9 123.0M179.9 123.0l1.2 -9.2M183.5 125.8l1.2 -9.2M187.2 128.5l0.6 -4.6M204.7 131.6L179.2 114.0M179.2 114.0l0.9 -9.3M183.0 116.6l0.9 -9.3M186.8 119.2l0.5 -4.6M204.7 121.7L179.4 103.8M179.4 103.8l1.0 -9.2M183.2 106.5l1.0 -9.2M204.7 111.8L177.5 97.0M177.5 97.0l-0.1 -9.3M181.5 99.2l-0.1 -9.3M204.7 101.9L178.7 85.0M178.7 85.0l0.6 -9.3M182.6 87.5l0.6 -9.3M217.5 409.4L187.1 403.3M187.1 403.3l-2.8 -8.9M217.5 399.5L187.1 393.3M187.1 393.3l-2.8 -8.9M217.5 389.6L188.4 378.9M188.4 378.9l-1.4 -9.2M192.7 380.4l-0.7 -4.6M217.5 379.6L187.7 371.3M187.7 371.3l-2.2 -9.0M192.1 372.5l-1.1 -4.5M217.5 369.7L188.6 358.6M188.6 358.6l-1.3 -9.2M192.9 360.3l-0.6 -4.6M217.5 359.8L188.7 348.5M188.7 348.5l-1.2 -9.2M193.0 350.1l-0.6 -4.6M217.5 349.9L189.2 337.3M189.2 337.3l-0.8 -9.3M193.4 339.2l-0.4 -4.6M217.5 340.0L189.1 327.5M189.1 327.5l-0.9 -9.3M217.5 330.0L189.8 316.2M189.8 316.2l-0.4 -9.3M193.9 318.3l-0.2 -4.6M217.5 320.1L191.8 302.8M191.8 302.8l0.8 -9.3M217.5 310.2L190.5 294.9M190.5 294.9l0.1 -9.3M194.5 297.2l0.0 -4.6M217.5 300.3L190.7 284.8M190.7 284.8l0.2 -9.3M217.5 290.4L190.5 275.2M190.5 275.2l0.1 -9.3M217.5 280.4L193.6 260.7M193.6 260.7l1.7 -9.1M217.5 270.5L192.3 252.5M192.3 252.5l1.1 -9.2M196.1 255.1l0.5 -4.6M217.5 260.6L193.8 240.6M193.8 240.6l1.8 -9.1M197.3 243.6l0.9 -4.6M217.5 250.7L194.6 229.8M194.6 229.8l2.2 -9.0M198.0 232.9l1.1 -4.5M217.5 240.8L195.9 218.6M195.9 218.6l2.7 -8.9M199.1 221.9l1.3 -4.5M217.5 230.8L196.3 208.3M196.3 208.3l2.8 -8.9M199.4 211.6l1.4 -4.4M217.5 220.9L197.0 197.7M197.0 197.7l3.1 -8.8M200.1 201.1l3.1 -8.8M217.5 211.0L198.5 186.5M198.5 186.5l3.7 -8.5M201.4 190.1l3.7 -8.5M217.5 201.1L198.8 176.3M198.8 176.3l3.8 -8.5M201.6 180.0l3.8 -8.5M217.5 191.2L195.8 169.0M195.8 169.0l2.6 -8.9M199.0 172.3l2.6 -8.9M202.2 175.6l1.3 -4.5M217.5 181.2L195.8 159.1M195.8 159.1l2.6 -8.9M199.0 162.4l2.6 -8.9M202.2 165.7l1.3 -4.5M217.5 171.3L197.5 147.6M197.5 147.6l3.3 -8.7M200.5 151.1l3.3 -8.7M203.5 154.7l1.7 -4.3M217.5 161.4L196.8 138.4M196.8 138.4l3.0 -8.8M199.8 141.8l3.0 -8.8M202.9 145.2l1.5 -4.4M217.5 151.5L193.9 131.4M193.9 131.4l1.8 -9.1M197.4 134.4l1.8 -9.1M200.9 137.3l0.9 -4.6M217.5 141.6L193.5 121.9M193.5 121.9l1.7 -9.2M197.1 124.9l1.7 -9.2M217.5 131.6L193.0 112.7M193.0 112.7l1.4 -9.2M196.6 115.5l1.4 -9.2M217.5 121.7L192.5 103.4M192.5 103.4l1.2 -9.2M196.2 106.1l1.2 -9.2M199.9 108.8l0.6 -4.6M217.5 111.8L190.6 96.5M190.6 96.5l0.1 -9.3M194.6 98.7l0.1 -9.3M198.6 101.0l0.1 -4.6M217.5 101.9L192.8 83.2M192.8 83.2l1.3 -9.2M196.4 86.0l1.3 -9.2M230.3 409.4L201.6 397.8M201.6 397.8l-1.1 -9.2M230.3 399.5L202.6 385.7M202.6 385.7l-0.4 -9.3M206.7 387.7l-0.2 -4.6M230.3 389.6L203.0 374.8M203.0 374.8l-0.1 -9.3M207.1 377.0l-0.1 -4.6M230.3 379.6L203.6 364.0M203.6 364.0l0.2 -9.3M207.5 366.3l0.1 -4.6M230.3 369.7L204.2 353.0M204.2 353.0l0.6 -9.3M208.1 355.5l0.3 -4.6M230.3 359.8L207.2 339.2M207.2 339.2l2.1 -9.1M210.6 342.2l1.0 -4.5M230.3 349.9L206.8 329.7M206.8 329.7l1.9 -9.1M230.3 340.0L206.1 320.6M206.1 320.6l1.6 -9.2M230.3 330.0L208.4 308.2M208.4 308.2l2.5 -8.9M211.6 311.4l1.3 -4.5M230.3 320.1L210.3 296.5M210.3 296.5l3.3 -8.7M230.3 310.2L209.1 287.6M209.1 287.6l2.8 -8.9M230.3 300.3L211.5 275.7M211.5 275.7l3.7 -8.5M230.3 290.4L212.0 265.4M212.0 265.4l3.9 -8.4M230.3 280.4L214.4 253.8M214.4 253.8l4.7 -8.0M230.3 270.5L214.6 243.8M214.6 243.8l4.7 -8.0M230.3 260.6L217.8 232.2M217.8 232.2l5.6 -7.4M219.6 236.5l2.8 -3.7M230.3 250.7L224.8 220.2M224.8 220.2l7.2 -5.9M225.6 224.7l3.6 -2.9M230.3 240.8L221.9 210.9M221.9 210.9l6.6 -6.5M223.2 215.3l6.6 -6.5M230.3 230.8L221.2 201.2M221.2 201.2l6.4 -6.7M222.5 205.6l6.4 -6.7M230.3 220.9L222.0 191.1M222.0 191.1l6.6 -6.5M223.2 195.5l6.6 -6.5M230.3 211.0L225.7 180.3M225.7 180.3l7.4 -5.7M226.4 184.9l7.4 -5.7M230.3 201.1L220.9 171.6M220.9 171.6l6.4 -6.8M222.3 175.9l6.4 -6.8M223.7 180.3l3.2 -3.4M230.3 191.2L217.2 163.1M217.2 163.1l5.5 -7.5M219.2 167.2l5.5 -7.5M221.1 171.4l2.7 -3.8M230.3 181.2L217.2 153.1M217.2 153.1l5.5 -7.5M219.2 157.3l5.5 -7.5M221.1 161.5l2.7 -3.8M230.3 171.3L215.4 144.1M215.4 144.1l5.0 -7.9M217.6 148.2l5.0 -7.9M219.8 152.2l2.5 -3.9M230.3 161.4L211.9 136.5M211.9 136.5l3.9 -8.5M214.6 140.2l3.9 -8.5M217.4 143.9l1.9 -4.2M230.3 151.5L210.3 127.8M210.3 127.8l3.3 -8.7M213.3 131.3l3.3 -8.7M216.3 134.8l1.7 -4.3M230.3 141.6L209.9 118.2M209.9 118.2l3.2 -8.7M213.0 121.7l3.2 -8.7M216.0 125.1l1.6 -4.4M230.3 131.6L207.2 111.0M207.2 111.0l2.0 -9.1M210.6 114.1l2.0 -9.1M214.0 117.1l1.0 -4.5M230.3 121.7L204.6 104.4M204.6 104.4l0.8 -9.3M208.4 107.0l0.8 -9.3M212.2 109.6l0.4 -4.6M230.3 111.8L205.9 92.7M205.9 92.7l1.4 -9.2M209.5 95.6l1.4 -9.2M230.3 101.9L205.5 83.3M205.5 83.3l1.3 -9.2M209.2 86.0l1.3 -9.2M212.9 88.8l0.6 -4.6M243.1 409.4L214.6 397.2M214.6 397.2l-1.0 -9.3M243.1 399.5L217.6 381.8M217.6 381.8l0.9 -9.3M221.4 384.4l0.5 -4.6M243.1 389.6L217.3 372.4M217.3 372.4l0.8 -9.3M221.2 374.9l0.4 -4.6M243.1 379.6L216.7 363.4M216.7 363.4l0.4 -9.3M220.7 365.8l0.2 -4.6M243.1 369.7L219.8 349.3M219.8 349.3l2.0 -9.1M223.3 352.3l1.0 -4.5M243.1 359.8L222.2 336.9M222.2 336.9l3.0 -8.8M225.3 340.3l1.5 -4.4M243.1 349.9L221.5 327.7M221.5 327.7l2.7 -8.9M224.7 331.0l1.3 -4.5M243.1 340.0L223.2 316.2M223.2 316.2l3.3 -8.7M243.1 330.0L224.9 305.0M224.9 305.0l3.9 -8.4M243.1 320.1L225.0 295.0M225.0 295.0l4.0 -8.4M243.1 310.2L224.3 285.5M224.3 285.5l3.7 -8.5M243.1 300.3L227.6 273.4M227.6 273.4l4.8 -8.0M243.1 290.4L230.2 262.2M230.2 262.2l5.5 -7.5M243.1 280.4L231.4 251.7M231.4 251.7l5.8 -7.2M243.1 270.5L234.7 240.7M234.7 240.7l6.6 -6.6M235.9 245.1l3.3 -3.3M243.1 260.6L238.7 229.9M238.7 229.9l7.4 -5.6M239.3 234.5l3.7 -2.8M243.1 250.7L243.3 219.7M243.3 219.7l8.2 -4.5M243.3 224.3l4.1 -2.2M243.1 240.8L242.0 209.8M242.0 209.8l8.0 -4.8M242.2 214.4l4.0 -2.4M243.1 230.8L239.7 200.0M239.7 200.0l7.6 -5.4M240.2 204.6l7.6 -5.4M243.1 220.9L244.6 190.0M244.6 190.0l8.3 -4.1M244.4 194.6l8.3 -4.1M243.1 211.0L244.7 180.0M244.7 180.0l8.4 -4.1M244.5 184.6l8.4 -4.1M244.3 189.2l4.2 -2.0M243.1 201.1L239.3 170.3M239.3 170.3l7.5 -5.5M239.9 174.9l7.5 -5.5M240.4 179.4l3.8 -2.7M243.1 191.2L237.6 160.7M237.6 160.7l7.2 -5.9M238.4 165.2l7.2 -5.9M239.2 169.7l3.6 -2.9M243.1 181.2L237.8 150.7M237.8 150.7l7.2 -5.8M238.6 155.2l7.2 -5.8M239.4 159.8l3.6 -2.9M243.1 171.3L233.6 141.8M233.6 141.8l6.3 -6.8M235.0 146.2l6.3 -6.8M236.4 150.6l3.2 -3.4M243.1 161.4L227.1 134.8M227.1 134.8l4.6 -8.1M229.5 138.8l4.6 -8.1M231.9 142.7l2.3 -4.0M243.1 151.5L227.2 124.9M227.2 124.9l4.7 -8.1M229.5 128.8l4.7 -8.1M231.9 132.8l2.3 -4.0M243.1 141.6L224.2 117.0M224.2 117.0l3.7 -8.5M227.0 120.6l3.7 -8.5M243.1 131.6L218.8 112.5M218.8 112.5l1.5 -9.2M222.4 115.3l1.5 -9.2M226.0 118.1l0.7 -4.6M243.1 121.7L219.0 102.2M219.0 102.2l1.6 -9.2M222.6 105.1l1.6 -9.2M226.2 108.0l0.8 -4.6M243.1 111.8L219.4 91.9M219.4 91.9l1.8 -9.1M222.9 94.9l1.8 -9.1M243.1 101.9L218.0 83.7M218.0 83.7l1.1 -9.2M221.8 86.4l1.1 -9.2M255.9 409.4L229.1 393.9M229.1 393.9l0.2 -9.3M255.9 399.5L230.6 381.6M230.6 381.6l1.0 -9.2M255.9 389.6L230.5 371.8M230.5 371.8l1.0 -9.2M234.3 374.4l0.5 -4.6M255.9 379.6L230.0 362.6M230.0 362.6l0.7 -9.3M233.9 365.1l0.3 -4.6M255.9 369.7L233.9 347.9M233.9 347.9l2.5 -9.0M237.2 351.1l1.3 -4.5M255.9 359.8L233.1 338.8M233.1 338.8l2.2 -9.0M255.9 349.9L232.6 329.4M232.6 329.4l2.0 -9.1M236.1 332.4l1.0 -4.5M255.9 340.0L234.9 317.2M234.9 317.2l2.9 -8.8M255.9 330.0L236.6 305.8M236.6 305.8l3.6 -8.6M255.9 320.1L238.7 294.4M238.7 294.4l4.3 -8.3M255.9 310.2L239.1 284.2M239.1 284.2l4.4 -8.2M255.9 300.3L242.3 272.5M242.3 272.5l5.3 -7.6M255.9 290.4L241.2 263.1M241.2 263.1l5.0 -7.8M255.9 280.4L243.5 252.0M243.5 252.0l5.7 -7.4M255.9 270.5L245.8 241.2M245.8 241.2l6.2 -6.9M247.3 245.6l3.1 -3.5M255.9 260.6L252.7 229.8M252.7 229.8l7.6 -5.3M253.2 234.3l3.8 -2.7M255.9 250.7L254.1 219.7M254.1 219.7l7.8 -5.0M254.3 224.3l3.9 -2.5M255.9 240.8L253.3 209.9M253.3 209.9l7.7 -5.2M253.7 214.5l7.7 -5.2M255.9 230.8L253.8 199.9M253.8 199.9l7.8 -5.1M254.1 204.5l7.8 -5.1M255.9 220.9L258.3 190.0M258.3 190.0l8.5 -3.9M258.0 194.6l8.5 -3.9M255.9 211.0L257.1 180.0M257.1 180.0l8.3 -4.2M256.9 184.6l8.3 -4.2M256.7 189.2l4.1 -2.1M255.9 201.1L254.4 170.1M254.4 170.1l7.9 -4.9M254.6 174.7l7.9 -4.9M254.8 179.3l3.9 -2.5M255.9 191.2L252.4 160.4M252.4 160.4l7.6 -5.4M253.0 164.9l7.6 -5.4M253.5 169.5l3.8 -2.7M255.9 181.2L253.1 150.4M253.1 150.4l7.7 -5.2M253.5 154.9l7.7 -5.2M254.0 159.5l3.8 -2.6M255.9 171.3L246.9 141.7M246.9 141.7l6.5 -6.7M248.3 146.1l6.5 -6.7M249.6 150.5l3.2 -3.3M255.9 161.4L243.2 133.1M243.2 133.1l5.6 -7.5M245.1 137.3l5.6 -7.5M247.0 141.5l2.8 -3.7M255.9 151.5L240.8 124.4M240.8 124.4l4.9 -7.9M243.1 128.4l4.9 -7.9M245.3 132.4l2.5 -4.0M255.9 141.6L237.4 116.7M237.4 116.7l3.8 -8.5M240.1 120.4l3.8 -8.5M242.9 124.1l1.9 -4.2M255.9 131.6L233.1 110.7M233.1 110.7l2.2 -9.0M236.4 113.8l2.2 -9.0M255.9 121.7L233.3 100.5M233.3 100.5l2.3 -9.0M236.7 103.7l2.3 -9.0M255.9 111.8L232.7 91.3M232.7 91.3l2.0 -9.1M236.1 94.3l2.0 -9.1M239.6 97.4l1.0 -4.5M255.9 101.9L231.7 82.6M231.7 82.6l1.5 -9.2M235.3 85.4l1.5 -9.2M238.9 88.3l0.8 -4.6M268.7 409.4L242.6 392.8M242.6 392.8l0.6 -9.3M246.4 395.3l0.3 -4.6M268.7 399.5L242.9 382.3M242.9 382.3l0.8 -9.3M268.7 389.6L242.8 372.5M242.8 372.5l0.7 -9.3M268.7 379.6L245.0 359.7M245.0 359.7l1.8 -9.1M268.7 369.7L245.8 348.8M245.8 348.8l2.1 -9.0M249.2 351.9l1.1 -4.5M268.7 359.8L244.2 340.9M244.2 340.9l1.4 -9.2M268.7 349.9L246.9 327.9M246.9 327.9l2.6 -8.9M268.7 340.0L248.0 316.9M248.0 316.9l3.0 -8.8M268.7 330.0L247.8 307.2M247.8 307.2l3.0 -8.8M268.7 320.1L249.7 295.7M249.7 295.7l3.6 -8.6M268.7 310.2L251.0 284.7M251.0 284.7l4.1 -8.3M268.7 300.3L253.3 273.4M253.3 273.4l4.8 -8.0M268.7 290.4L252.0 264.3M252.0 264.3l4.4 -8.2M268.7 280.4L254.7 252.8M254.7 252.8l5.2 -7.7M256.8 256.9l2.6 -3.8M268.7 270.5L261.3 240.4M261.3 240.4l6.8 -6.3M268.7 260.6L267.3 229.6M267.3 229.6l7.9 -4.9M267.5 234.2l4.0 -2.4M268.7 250.7L267.6 219.7M267.6 219.7l8.0 -4.8M267.7 224.3l4.0 -2.4M268.7 240.8L266.6 209.8M266.6 209.8l7.8 -5.0M267.0 214.4l3.9 -2.5M268.7 230.8L269.2 199.8M269.2 199.8l8.2 -4.4M269.2 204.4l8.2 -4.4M268.7 220.9L268.3 189.9M268.3 189.9l8.1 -4.6M268.4 194.5l8.1 -4.6M268.7 211.0L267.7 180.0M267.7 180.0l8.0 -4.8M267.9 184.6l8.0 -4.8M268.0 189.2l4.0 -2.4M268.7 201.1L268.0 170.1M268.0 170.1l8.0 -4.7M268.1 174.7l8.0 -4.7M268.2 179.3l4.0 -2.4M268.7 191.2L266.8 160.2M266.8 160.2l7.8 -5.0M267.1 164.8l7.8 -5.0M267.4 169.4l3.9 -2.5M268.7 181.2L263.7 150.6M263.7 150.6l7.3 -5.8M264.5 155.2l7.3 -5.8M265.2 159.7l3.7 -2.9M268.7 171.3L260.0 141.6M260.0 141.6l6.5 -6.6M261.3 146.0l6.5 -6.6M262.6 150.4l3.3 -3.3M268.7 161.4L261.1 131.3M261.1 131.3l6.8 -6.4M262.3 135.8l6.8 -6.4M263.4 140.3l3.4 -3.2M268.7 151.5L256.4 123.0M256.4 123.0l5.7 -7.4M258.3 127.2l5.7 -7.4M260.1 131.5l2.8 -3.7M268.7 141.6L252.4 115.2M252.4 115.2l4.5 -8.1M254.8 119.1l4.5 -8.1M268.7 131.6L247.3 109.3M247.3 109.3l2.8 -8.9M250.5 112.6l2.8 -8.9M268.7 121.7L247.6 99.1M247.6 99.1l2.9 -8.8M250.7 102.4l2.9 -8.8M268.7 111.8L247.4 89.3M247.4 89.3l2.8 -8.9M250.5 92.7l2.8 -8.9M253.7 96.0l1.4 -4.4M268.7 101.9L244.4 82.6M244.4 82.6l1.5 -9.2M248.0 85.5l1.5 -9.2M281.5 409.4L252.8 397.7M252.8 397.7l-1.1 -9.2M281.5 399.5L253.9 385.5M253.9 385.5l-0.3 -9.3M281.5 389.6L254.4 374.6M254.4 374.6l-0.0 -9.3M281.5 379.6L255.4 362.9M255.4 362.9l0.6 -9.3M259.3 365.4l0.3 -4.6M281.5 369.7L256.0 352.1M256.0 352.1l0.9 -9.3M259.8 354.7l0.4 -4.6M281.5 359.8L256.2 342.0M256.2 342.0l1.0 -9.2M281.5 349.9L255.9 332.5M255.9 332.5l0.8 -9.3M281.5 340.0L257.8 320.0M257.8 320.0l1.8 -9.1M281.5 330.0L258.2 309.6M258.2 309.6l2.0 -9.1M281.5 320.1L258.3 299.6M258.3 299.6l2.0 -9.1M281.5 310.2L260.3 287.6M260.3 287.6l2.8 -8.9M281.5 300.3L260.0 278.0M260.0 278.0l2.7 -8.9M281.5 290.4L260.2 267.8M260.2 267.8l2.8 -8.9M263.4 271.2l1.4 -4.4M281.5 280.4L266.3 253.4M266.3 253.4l4.9 -7.9M281.5 270.5L270.9 241.4M270.9 241.4l6.1 -7.0M272.4 245.7l3.0 -3.5M281.5 260.6L276.5 230.0M276.5 230.0l7.3 -5.8M277.3 234.5l3.7 -2.9M281.5 250.7L278.3 219.8M278.3 219.8l7.6 -5.3M278.8 224.4l3.8 -2.7M281.5 240.8L281.6 209.8M281.6 209.8l8.1 -4.5M281.6 214.4l8.1 -4.5M281.5 230.8L282.2 199.8M282.2 199.8l8.2 -4.3M282.1 204.4l8.2 -4.3M281.5 220.9L281.2 189.9M281.2 189.9l8.1 -4.6M281.3 194.5l8.1 -4.6M281.5 211.0L279.7 180.1M279.7 180.1l7.8 -5.0M279.9 184.6l7.8 -5.0M280.2 189.2l3.9 -2.5M281.5 201.1L282.0 170.1M282.0 170.1l8.2 -4.4M282.0 174.7l8.2 -4.4M281.9 179.3l4.1 -2.2M281.5 191.2L279.7 160.2M279.7 160.2l7.8 -5.0M279.9 164.8l7.8 -5.0M280.2 169.4l3.9 -2.5M281.5 181.2L273.2 151.4M273.2 151.4l6.6 -6.5M274.4 155.8l6.6 -6.5M275.7 160.2l3.3 -3.3M281.5 171.3L274.3 141.2M274.3 141.2l6.9 -6.3M275.4 145.7l6.9 -6.3M276.4 150.1l3.4 -3.1M281.5 161.4L270.3 132.5M270.3 132.5l6.0 -7.1M272.0 136.8l6.0 -7.1M281.5 151.5L266.9 124.2M266.9 124.2l5.0 -7.8M269.0 128.2l5.0 -7.8M271.2 132.3l2.5 -3.9M281.5 141.6L262.3 117.3M262.3 117.3l3.6 -8.6M265.2 120.9l3.6 -8.6M281.5 131.6L261.4 108.1M261.4 108.1l3.2 -8.7M264.4 111.6l3.2 -8.7M267.4 115.1l1.6 -4.4M281.5 121.7L259.7 99.7M259.7 99.7l2.6 -8.9M263.0 103.0l2.6 -8.9M281.5 111.8L257.6 92.1M257.6 92.1l1.7 -9.1M261.2 95.0l1.7 -9.1M281.5 101.9L256.8 83.2M256.8 83.2l1.3 -9.2M260.5 86.0l1.3 -9.2M294.3 409.4L265.3 398.5M265.3 398.5l-1.4 -9.2M294.3 399.5L265.1 389.1M265.1 389.1l-1.5 -9.2M294.3 389.6L267.0 374.9M267.0 374.9l-0.1 -9.3M294.3 379.6L267.2 364.7M267.2 364.7l-0.0 -9.3M294.3 369.7L265.6 358.0M265.6 358.0l-1.1 -9.2M294.3 359.8L266.2 346.8M266.2 346.8l-0.7 -9.3M294.3 349.9L267.7 334.0M267.7 334.0l0.3 -9.3M294.3 340.0L267.0 325.3M267.0 325.3l-0.1 -9.3M294.3 330.0L267.3 314.8M267.3 314.8l0.1 -9.3M294.3 320.1L267.8 304.1M267.8 304.1l0.3 -9.3M294.3 310.2L269.4 291.8M269.4 291.8l1.2 -9.2M294.3 300.3L269.1 282.3M269.1 282.3l1.0 -9.2M294.3 290.4L269.3 272.1M269.3 272.1l1.1 -9.2M294.3 280.4L277.6 254.3M277.6 254.3l4.4 -8.2M280.1 258.2l2.2 -4.1M294.3 270.5L283.0 241.7M283.0 241.7l5.9 -7.2M284.7 246.0l3.0 -3.6M294.3 260.6L287.9 230.3M287.9 230.3l7.0 -6.1M288.8 234.8l3.5 -3.1M294.3 250.7L291.6 219.8M291.6 219.8l7.7 -5.2M292.0 224.4l7.7 -5.2M294.3 240.8L295.9 209.8M295.9 209.8l8.4 -4.1M295.7 214.4l8.4 -4.1M294.3 230.8L295.0 199.8M295.0 199.8l8.2 -4.3M294.9 204.4l8.2 -4.3M294.3 220.9L292.4 190.0M292.4 190.0l7.8 -5.0M292.6 194.6l7.8 -5.0M294.3 211.0L293.0 180.0M293.0 180.0l7.9 -4.9M293.2 184.6l7.9 -4.9M294.3 201.1L292.1 170.2M292.1 170.2l7.8 -5.1M292.4 174.7l7.8 -5.1M292.8 179.3l3.9 -2.5M294.3 191.2L290.3 160.4M290.3 160.4l7.5 -5.5M290.9 165.0l7.5 -5.5M294.3 181.2L286.6 151.2M286.6 151.2l6.8 -6.4M287.8 155.7l6.8 -6.4M294.3 171.3L283.6 142.2M283.6 142.2l6.1 -7.0M285.2 146.6l6.1 -7.0M286.8 150.9l3.0 -3.5M294.3 161.4L282.9 132.6M282.9 132.6l5.9 -7.2M284.6 136.9l5.9 -7.2M294.3 151.5L275.8 126.6M275.8 126.6l3.8 -8.5M278.6 130.3l3.8 -8.5M294.3 141.6L274.3 117.9M274.3 117.9l3.3 -8.7M277.3 121.4l3.3 -8.7M280.3 124.9l1.6 -4.3M294.3 131.6L273.0 109.2M273.0 109.2l2.8 -8.9M276.1 112.5l2.8 -8.9M294.3 121.7L273.5 98.8M273.5 98.8l3.0 -8.8M276.6 102.2l3.0 -8.8M294.3 111.8L269.9 92.8M269.9 92.8l1.4 -9.2M273.5 95.6l1.4 -9.2M294.3 101.9L270.3 82.2M270.3 82.2l1.7 -9.2M273.9 85.2l1.7 -9.2M307.1 409.4L276.5 404.4M276.5 404.4l-3.1 -8.8M307.1 399.5L277.9 389.2M277.9 389.2l-1.6 -9.2M307.1 389.6L278.4 377.8M278.4 377.8l-1.1 -9.2M282.7 379.6l-0.5 -4.6M307.1 379.6L277.6 370.4M277.6 370.4l-1.9 -9.1M307.1 369.7L278.2 358.7M278.2 358.7l-1.3 -9.2M307.1 359.8L278.0 349.2M278.0 349.2l-1.5 -9.2M307.1 349.9L278.4 338.4M278.4 338.4l-1.2 -9.2M307.1 340.0L277.4 331.2M277.4 331.2l-2.0 -9.1M307.1 330.0L278.7 317.8M278.7 317.8l-0.9 -9.3M307.1 320.1L280.2 304.8M284.2 307.1l0.1 -4.6M307.1 310.2L279.3 296.5M279.3 296.5l-0.4 -9.3M307.1 300.3L280.4 284.6M280.4 284.6l0.2 -9.3M307.1 290.4L280.5 274.5M280.5 274.5l0.3 -9.3M307.1 280.4L286.4 257.4M286.4 257.4l3.0 -8.8M289.5 260.8l1.5 -4.4M307.1 270.5L293.0 242.9M293.0 242.9l5.2 -7.7M295.1 247.0l2.6 -3.9M307.1 260.6L298.4 230.9M298.4 230.9l6.5 -6.6M299.7 235.3l6.5 -6.6M307.1 250.7L307.7 219.7M307.7 219.7l8.2 -4.4M307.6 224.3l8.2 -4.4M307.1 240.8L308.0 209.8M308.0 209.8l8.3 -4.3M307.8 214.4l8.3 -4.3M307.1 230.8L305.2 199.9M305.2 199.9l7.8 -5.0M305.5 204.5l7.8 -5.0M307.1 220.9L306.9 189.9M306.9 189.9l8.1 -4.6M306.9 194.5l8.1 -4.6M307.1 211.0L307.0 180.0M307.0 180.0l8.1 -4.6M307.0 184.6l8.1 -4.6M307.0 189.2l4.1 -2.3M307.1 201.1L303.6 170.3M303.6 170.3l7.6 -5.4M304.1 174.9l7.6 -5.4M307.1 191.2L297.6 161.7M297.6 161.7l6.3 -6.8M299.0 166.0l6.3 -6.8M300.4 170.4l3.2 -3.4M307.1 181.2L296.1 152.3M296.1 152.3l6.0 -7.1M297.7 156.6l6.0 -7.1M299.4 160.9l3.0 -3.6M307.1 171.3L296.6 142.2M296.6 142.2l6.1 -7.0M298.2 146.5l6.1 -7.0M299.7 150.8l3.1 -3.5M307.1 161.4L291.0 134.9M291.0 134.9l4.6 -8.1M293.4 138.9l4.6 -8.1M307.1 151.5L287.1 127.8M287.1 127.8l3.3 -8.7M290.1 131.4l3.3 -8.7M307.1 141.6L288.0 117.2M288.0 117.2l3.6 -8.6M290.8 120.8l3.6 -8.6M307.1 131.6L285.4 109.5M285.4 109.5l2.6 -8.9M288.7 112.8l2.6 -8.9M307.1 121.7L284.3 100.8M284.3 100.8l2.2 -9.0M287.7 103.9l2.2 -9.0M307.1 111.8L283.4 91.9M283.4 91.9l1.8 -9.1M286.9 94.9l1.8 -9.1M307.1 101.9L283.6 81.7M283.6 81.7l1.9 -9.1M287.1 84.7l1.9 -9.1M319.9 409.4L289.5 403.3M289.5 403.3l-2.8 -8.9M319.9 399.5L289.9 391.9M289.9 391.9l-2.4 -9.0M319.9 389.6L290.2 381.0M290.2 381.0l-2.1 -9.1M319.9 379.6L289.5 373.8M289.5 373.8l-2.9 -8.8M319.9 369.7L289.8 362.5M289.8 362.5l-2.5 -9.0M319.9 359.8L290.8 349.3M290.8 349.3l-1.5 -9.2M319.9 349.9L290.2 341.2M290.2 341.2l-2.0 -9.1M319.9 340.0L289.9 332.2M294.4 333.4l-1.2 -4.5M319.9 330.0L290.7 319.7M290.7 319.7l-1.5 -9.2M319.9 320.1L291.6 307.7M295.8 309.5l-0.4 -4.6M319.9 310.2L290.4 300.9M290.4 300.9l-1.9 -9.1M319.9 300.3L290.8 289.8M290.8 289.8l-1.5 -9.2M319.9 290.4L290.6 280.4M290.6 280.4l-1.7 -9.2M319.9 280.4L291.8 267.5M291.8 267.5l-0.7 -9.3M319.9 270.5L293.7 254.0M293.7 254.0l0.5 -9.3M297.6 256.5l0.3 -4.6M319.9 260.6L295.5 241.6M295.5 241.6l1.4 -9.2M299.1 244.4l0.7 -4.6M319.9 250.7L298.5 228.3M298.5 228.3l2.8 -8.9M301.7 231.6l2.8 -8.9M319.9 240.8L296.5 220.4M296.5 220.4l1.9 -9.1M300.0 223.5l1.9 -9.1M319.9 230.8L297.4 209.5M297.4 209.5l2.3 -9.0M300.8 212.7l2.3 -9.0M319.9 220.9L297.7 199.3M297.7 199.3l2.4 -9.0M301.0 202.5l2.4 -9.0M304.3 205.7l1.2 -4.5M319.9 211.0L297.9 189.2M297.9 189.2l2.5 -9.0M301.2 192.4l2.5 -9.0M304.4 195.7l1.3 -4.5M319.9 201.1L295.7 181.8M295.7 181.8l1.5 -9.2M299.3 184.7l1.5 -9.2M302.9 187.5l0.8 -4.6M319.9 191.2L294.6 173.3M294.6 173.3l1.0 -9.2M298.4 176.0l1.0 -9.2M319.9 181.2L295.9 161.7M295.9 161.7l1.6 -9.2M299.4 164.6l1.6 -9.2M319.9 171.3L293.9 154.6M293.9 154.6l0.6 -9.3M297.7 157.1l0.6 -9.3M319.9 161.4L294.0 144.4M294.0 144.4l0.7 -9.3M297.9 146.9l0.7 -9.3M319.9 151.5L293.2 135.7M293.2 135.7l0.2 -9.3M297.2 138.1l0.2 -9.3M319.9 141.6L295.2 122.8M295.2 122.8l1.3 -9.2M298.9 125.6l1.3 -9.2M319.9 131.6L293.2 116.0M293.2 116.0l0.2 -9.3M297.2 118.3l0.2 -9.3M319.9 121.7L293.0 106.4M293.0 106.4l0.1 -9.3M297.0 108.7l0.1 -9.3M319.9 111.8L294.1 94.7M294.1 94.7l0.7 -9.3M297.9 97.2l0.4 -4.6M319.9 101.9L294.0 84.9M294.0 84.9l0.7 -9.3M297.8 87.4l0.7 -9.3M332.8 409.4L363.4 404.7M363.4 404.7l5.7 7.4M332.8 409.4L302.2 404.2M302.2 404.2l-3.1 -8.8M306.7 405.0l-1.5 -4.4M332.8 399.5L363.6 396.2M363.6 396.2l5.3 7.6M332.8 399.5L302.6 392.3M302.6 392.3l-2.5 -9.0M332.8 389.6L363.7 387.2M363.7 387.2l5.1 7.8M332.8 389.6L302.4 383.5M302.4 383.5l-2.8 -8.9M332.8 379.6L302.3 373.8M302.3 373.8l-2.9 -8.8M332.8 369.7L302.2 364.6M302.2 364.6l-3.1 -8.8M332.8 359.8L302.6 352.8M302.6 352.8l-2.6 -8.9M332.8 349.9L302.1 344.9M302.1 344.9l-3.2 -8.7M332.8 340.0L302.2 334.6M306.7 335.4l-1.5 -4.4M332.8 330.0L302.3 324.4M302.3 324.4l-3.0 -8.8M332.8 320.1L302.6 312.9M302.6 312.9l-2.5 -9.0M332.8 310.2L301.9 306.8M301.9 306.8l-3.6 -8.6M332.8 300.3L302.3 294.7M302.3 294.7l-3.0 -8.8M332.8 290.4L302.4 284.1M302.4 284.1l-2.8 -8.9M332.8 280.4L302.4 273.9M302.4 273.9l-2.7 -8.9M306.9 274.9l-1.3 -4.5M332.8 270.5L302.0 266.2M302.0 266.2l-3.3 -8.7M306.6 266.9l-1.7 -4.3M332.8 260.6L303.1 251.6M303.1 251.6l-1.9 -9.1M307.5 252.9l-1.9 -9.1M332.8 250.7L302.7 242.9M302.7 242.9l-2.3 -9.0M307.2 244.0l-2.3 -9.0M332.8 240.8L303.0 232.2M303.0 232.2l-2.1 -9.1M307.4 233.4l-2.1 -9.1M311.8 234.7l-1.0 -4.5M332.8 230.8L302.5 224.0M302.5 224.0l-2.6 -8.9M307.0 225.1l-2.6 -8.9M332.8 220.9L303.5 210.6M303.5 210.6l-1.5 -9.2M307.9 212.1l-1.5 -9.2M332.8 211.0L303.4 201.1M303.4 201.1l-1.7 -9.1M307.7 202.6l-1.7 -9.1M312.1 204.0l-0.8 -4.6M332.8 201.1L302.6 194.0M302.6 194.0l-2.5 -9.0M307.1 195.0l-2.5 -9.0M332.8 191.2L302.6 184.0M302.6 184.0l-2.5 -9.0M307.1 185.0l-2.5 -9.0M332.8 181.2L302.5 174.5M302.5 174.5l-2.6 -8.9M307.0 175.5l-2.6 -8.9M332.8 171.3L302.4 164.9M302.4 164.9l-2.7 -8.9M306.9 165.9l-2.7 -8.9M332.8 161.4L302.0 157.3M302.0 157.3l-3.4 -8.7M306.6 157.9l-3.4 -8.7M332.8 151.5L302.8 143.3M302.8 143.3l-2.2 -9.0M307.3 144.5l-2.2 -9.0M332.8 141.6L303.1 132.6M303.1 132.6l-2.0 -9.1M307.5 134.0l-2.0 -9.1M332.8 131.6L303.6 121.1M303.6 121.1l-1.5 -9.2M307.9 122.7l-1.5 -9.2M332.8 121.7L303.0 113.0M303.0 113.0l-2.0 -9.1M307.4 114.3l-2.0 -9.1M332.8 111.8L305.2 97.7M305.2 97.7l-0.3 -9.3M309.3 99.8l-0.2 -4.6M332.8 101.9L305.8 86.6M305.8 86.6l0.1 -9.3M309.8 88.9l0.0 -4.6M345.6 409.4L376.4 406.0M376.4 406.0l5.4 7.6M345.6 399.5L376.4 396.2M376.4 396.2l5.3 7.6M345.6 389.6L376.1 384.2M376.1 384.2l5.8 7.2M345.6 379.6L314.9 375.0M314.9 375.0l-3.2 -8.7M345.6 369.7L315.2 363.3M315.2 363.3l-2.7 -8.9M345.6 359.8L314.8 356.3M314.8 356.3l-3.6 -8.6M345.6 349.9L314.8 346.0M319.4 346.5l-1.7 -4.3M345.6 340.0L315.3 333.3M315.3 333.3l-2.7 -8.9M345.6 330.0L315.2 323.7M319.7 324.6l-1.4 -4.4M345.6 320.1L314.9 315.6M319.4 316.3l-1.6 -4.4M345.6 310.2L314.7 307.4M314.7 307.4l-3.7 -8.5M345.6 300.3L314.9 295.6M314.9 295.6l-3.2 -8.7M345.6 290.4L315.2 284.2M315.2 284.2l-2.8 -8.9M345.6 280.4L315.0 275.5M315.0 275.5l-3.1 -8.8M319.5 276.2l-1.6 -4.4M345.6 270.5L315.2 264.2M315.2 264.2l-2.8 -8.9M319.7 265.2l-2.8 -8.9M345.6 260.6L315.5 253.0M315.5 253.0l-2.4 -9.0M320.0 254.1l-1.2 -4.5M345.6 250.7L315.3 243.9M315.3 243.9l-2.6 -8.9M319.8 244.9l-2.6 -8.9M345.6 240.8L315.3 233.8M315.3 233.8l-2.6 -8.9M319.8 234.9l-2.6 -8.9M345.6 230.8L315.6 222.8M315.6 222.8l-2.2 -9.0M320.1 224.0l-2.2 -9.0M324.5 225.2l-1.1 -4.5M345.6 220.9L315.8 212.2M315.8 212.2l-2.0 -9.1M320.2 213.5l-2.0 -9.1M324.6 214.8l-1.0 -4.5M345.6 211.0L315.0 206.0M315.0 206.0l-3.1 -8.8M319.5 206.8l-3.1 -8.8M324.0 207.5l-1.6 -4.4M345.6 201.1L314.9 196.3M314.9 196.3l-3.2 -8.7M319.5 197.1l-3.2 -8.7M324.0 197.8l-1.6 -4.4M345.6 191.2L315.5 183.6M315.5 183.6l-2.4 -9.0M320.0 184.7l-2.4 -9.0M345.6 181.2L315.3 174.6M315.3 174.6l-2.7 -8.9M319.8 175.6l-2.7 -8.9M345.6 171.3L314.6 170.1M314.6 170.1l-4.2 -8.3M319.2 170.3l-4.2 -8.3M345.6 161.4L315.0 155.9M315.0 155.9l-3.0 -8.8M319.6 156.7l-1.5 -4.4M345.6 151.5L316.0 142.2M316.0 142.2l-1.9 -9.1M320.4 143.6l-0.9 -4.6M345.6 141.6L316.0 132.1M316.0 132.1l-1.8 -9.1M320.4 133.5l-0.9 -4.6M345.6 131.6L315.6 123.7M315.6 123.7l-2.3 -9.0M320.0 124.9l-2.3 -9.0M345.6 121.7L316.0 112.5M316.0 112.5l-1.9 -9.1M320.4 113.9l-0.9 -4.6M345.6 111.8L317.3 99.1M317.3 99.1l-0.8 -9.3M321.5 101.0l-0.4 -4.6M345.6 101.9L316.4 91.3M316.4 91.3l-1.5 -9.2M320.7 92.8l-0.7 -4.6M358.4 409.4L388.9 404.0M388.9 404.0l5.8 7.2M358.4 399.5L389.0 394.8M389.0 394.8l5.7 7.4M358.4 389.6L388.6 382.9M388.6 382.9l6.2 7.0M358.4 379.6L327.6 376.0M327.6 376.0l-3.5 -8.6M358.4 369.7L327.9 363.9M327.9 363.9l-2.9 -8.8M358.4 359.8L327.7 355.1M327.7 355.1l-3.2 -8.7M358.4 349.9L327.6 345.9M327.6 345.9l-3.4 -8.6M358.4 340.0L327.6 335.9M327.6 335.9l-3.4 -8.7M358.4 330.0L327.8 324.9M327.8 324.9l-3.1 -8.8M358.4 320.1L327.6 316.0M327.6 316.0l-3.4 -8.7M358.4 310.2L328.0 304.1M328.0 304.1l-2.8 -8.9M358.4 300.3L327.8 295.2M327.8 295.2l-3.1 -8.8M332.3 295.9l-1.6 -4.4M358.4 290.4L327.6 286.6M327.6 286.6l-3.5 -8.6M358.4 280.4L327.6 276.2M327.6 276.2l-3.4 -8.7M332.2 276.8l-1.7 -4.3M358.4 270.5L328.1 263.8M328.1 263.8l-2.7 -8.9M332.6 264.8l-1.3 -4.5M358.4 260.6L328.1 253.9M328.1 253.9l-2.6 -8.9M332.6 254.9l-2.6 -8.9M358.4 250.7L327.7 245.9M327.7 245.9l-3.2 -8.7M332.3 246.6l-3.2 -8.7M358.4 240.8L327.6 236.9M327.6 236.9l-3.5 -8.6M332.2 237.5l-3.5 -8.6M358.4 230.8L327.7 226.1M327.7 226.1l-3.2 -8.7M332.3 226.8l-3.2 -8.7M358.4 220.9L328.0 214.6M328.0 214.6l-2.7 -8.9M332.5 215.5l-2.7 -8.9M337.0 216.4l-1.4 -4.4M358.4 211.0L327.6 206.8M327.6 206.8l-3.4 -8.7M332.2 207.5l-3.4 -8.7M336.8 208.1l-1.7 -4.3M358.4 201.1L327.5 198.0M327.5 198.0l-3.7 -8.5M332.1 198.4l-3.7 -8.5M358.4 191.2L327.9 185.2M327.9 185.2l-2.9 -8.8M332.4 186.1l-1.4 -4.4M358.4 181.2L327.4 179.9M327.4 179.9l-4.1 -8.3M332.0 180.1l-4.1 -8.3M358.4 171.3L327.4 171.4M327.4 171.4l-4.5 -8.1M332.0 171.4l-4.5 -8.1M358.4 161.4L327.6 157.9M327.6 157.9l-3.6 -8.6M332.1 158.4l-3.6 -8.6M358.4 151.5L328.1 144.6M328.1 144.6l-2.6 -8.9M332.6 145.6l-1.3 -4.5M358.4 141.6L328.0 135.1M328.0 135.1l-2.7 -8.9M332.5 136.1l-1.4 -4.4M358.4 131.6L327.9 125.9M327.9 125.9l-2.9 -8.8M332.4 126.8l-2.9 -8.8M358.4 121.7L328.8 112.4M328.8 112.4l-1.9 -9.1M333.2 113.8l-0.9 -4.6M358.4 111.8L328.9 102.1M328.9 102.1l-1.7 -9.1M333.3 103.6l-0.9 -4.6M358.4 101.9L329.7 90.1M329.7 90.1l-1.1 -9.2M333.9 91.8l-0.5 -4.6M371.2 409.4L401.5 402.9M401.5 402.9l6.1 7.0M371.2 399.5L400.7 390.0M400.7 390.0l6.8 6.4M371.2 389.6L401.5 383.4M401.5 383.4l6.0 7.1M371.2 379.6L340.7 373.8M340.7 373.8l-2.9 -8.8M371.2 369.7L340.6 364.3M340.6 364.3l-3.0 -8.8M371.2 359.8L340.2 358.1M340.2 358.1l-4.1 -8.4M371.2 349.9L340.3 347.2M344.9 347.6l-1.9 -4.2M371.2 340.0L340.5 335.2M345.1 335.9l-1.6 -4.4M371.2 330.0L340.2 328.6M340.2 328.6l-4.1 -8.3M371.2 320.1L340.2 319.0M340.2 319.0l-4.2 -8.3M371.2 310.2L340.9 303.6M340.9 303.6l-2.7 -8.9M371.2 300.3L340.4 296.8M340.4 296.8l-3.6 -8.6M344.9 297.3l-1.8 -4.3M371.2 290.4L340.3 287.6M340.3 287.6l-3.8 -8.5M344.9 288.0l-1.9 -4.2M371.2 280.4L340.6 275.4M340.6 275.4l-3.1 -8.8M345.1 276.2l-1.6 -4.4M371.2 270.5L340.6 265.4M340.6 265.4l-3.1 -8.8M345.1 266.2l-1.6 -4.4M371.2 260.6L340.3 257.4M340.3 257.4l-3.7 -8.6M344.9 257.9l-3.7 -8.6M371.2 250.7L340.5 245.8M340.5 245.8l-3.2 -8.7M345.1 246.6l-3.2 -8.7M371.2 240.8L340.4 237.1M340.4 237.1l-3.5 -8.6M344.9 237.6l-3.5 -8.6M349.5 238.2l-1.8 -4.3M371.2 230.8L341.1 223.3M341.1 223.3l-2.4 -9.0M345.6 224.4l-2.4 -9.0M371.2 220.9L340.7 215.1M340.7 215.1l-2.9 -8.8M345.2 216.0l-2.9 -8.8M371.2 211.0L340.4 207.5M340.4 207.5l-3.6 -8.6M344.9 208.0l-3.6 -8.6M371.2 201.1L340.6 196.1M340.6 196.1l-3.1 -8.8M345.1 196.8l-3.1 -8.8M371.2 191.2L340.5 186.4M340.5 186.4l-3.2 -8.7M345.1 187.1l-3.2 -8.7M371.2 181.2L340.4 177.7M340.4 177.7l-3.5 -8.6M344.9 178.2l-3.5 -8.6M371.2 171.3L340.4 167.7M340.4 167.7l-3.5 -8.6M344.9 168.3l-1.8 -4.3M371.2 161.4L340.8 155.3M340.8 155.3l-2.8 -8.9M345.3 156.2l-1.4 -4.4M371.2 151.5L341.0 144.2M341.0 144.2l-2.5 -9.0M345.5 145.3l-1.2 -4.5M371.2 141.6L340.6 136.6M340.6 136.6l-3.1 -8.8M345.1 137.3l-1.6 -4.4M371.2 131.6L341.9 121.5M341.9 121.5l-1.6 -9.2M346.2 123.0l-0.8 -4.6M371.2 121.7L342.7 109.5M342.7 109.5l-0.9 -9.3M346.9 111.3l-0.5 -4.6M371.2 111.8L341.7 102.3M341.7 102.3l-1.8 -9.1M346.0 103.7l-0.9 -4.6M371.2 101.9L342.5 90.2M342.5 90.2l-1.1 -9.2M346.7 91.9l-0.5 -4.6M384.0 409.4L414.0 401.7M414.0 401.7l6.4 6.8M384.0 399.5L414.0 391.8M414.0 391.8l6.4 6.8M384.0 389.6L413.9 381.5M413.9 381.5l6.5 6.7M384.0 379.6L353.3 374.8M353.3 374.8l-3.2 -8.7M384.0 369.7L353.1 366.7M353.1 366.7l-3.7 -8.5M384.0 359.8L353.1 357.0M353.1 357.0l-3.7 -8.5M384.0 349.9L353.5 344.4M353.5 344.4l-3.0 -8.8M384.0 340.0L353.2 336.5M353.2 336.5l-3.6 -8.6M384.0 330.0L353.1 327.6M353.1 327.6l-3.9 -8.5M384.0 320.1L353.1 317.6M353.1 317.6l-3.8 -8.5M384.0 310.2L353.1 307.0M353.1 307.0l-3.6 -8.6M357.7 307.4l-1.8 -4.3M384.0 300.3L353.0 298.6M353.0 298.6l-4.1 -8.4M384.0 290.4L353.0 289.5M353.0 289.5l-4.3 -8.3M357.6 289.7l-2.1 -4.1M384.0 280.4L353.2 276.4M353.2 276.4l-3.4 -8.7M357.8 277.0l-1.7 -4.3M384.0 270.5L353.2 267.1M353.2 267.1l-3.6 -8.6M357.7 267.6l-1.8 -4.3M384.0 260.6L353.3 256.4M353.3 256.4l-3.4 -8.7M357.8 257.0l-3.4 -8.7M384.0 250.7L353.3 245.8M353.3 245.8l-3.2 -8.7M357.9 246.5l-3.2 -8.7M384.0 240.8L353.3 236.1M353.3 236.1l-3.2 -8.7M357.9 236.8l-3.2 -8.7M384.0 230.8L353.4 225.5M353.4 225.5l-3.1 -8.8M358.0 226.3l-3.1 -8.8M362.5 227.1l-1.5 -4.4M384.0 220.9L353.5 215.4M353.5 215.4l-3.0 -8.8M358.0 216.2l-3.0 -8.8M362.5 217.0l-1.5 -4.4M384.0 211.0L353.3 206.8M353.3 206.8l-3.4 -8.7M357.8 207.4l-3.4 -8.7M362.4 208.0l-1.7 -4.3M384.0 201.1L354.1 192.8M354.1 192.8l-2.2 -9.0M358.5 194.0l-2.2 -9.0M363.0 195.2l-1.1 -4.5M384.0 191.2L353.1 187.9M353.1 187.9l-3.6 -8.6M357.7 188.4l-1.8 -4.3M384.0 181.2L353.0 179.5M353.0 179.5l-4.0 -8.4M357.6 179.7l-2.0 -4.2M384.0 171.3L353.5 165.4M353.5 165.4l-2.9 -8.8M358.1 166.3l-2.9 -8.8M384.0 161.4L353.7 154.5M353.7 154.5l-2.6 -8.9M358.2 155.6l-2.6 -8.9M384.0 151.5L353.6 145.4M353.6 145.4l-2.8 -8.9M358.1 146.3l-1.4 -4.4M384.0 141.6L353.4 136.3M353.4 136.3l-3.1 -8.8M357.9 137.1l-1.5 -4.4M384.0 131.6L354.9 120.9M354.9 120.9l-1.4 -9.2M359.2 122.5l-0.7 -4.6M384.0 121.7L354.6 111.8M354.6 111.8l-1.7 -9.2M359.0 113.3l-0.8 -4.6M384.0 111.8L354.1 103.5M354.1 103.5l-2.2 -9.0M358.5 104.8l-1.1 -4.5M384.0 101.9L355.1 90.5M355.1 90.5l-1.2 -9.2M359.4 92.2l-0.6 -4.6M396.8 409.4L425.7 398.3M425.7 398.3l7.1 6.0M396.8 399.5L426.7 391.5M426.7 391.5l6.4 6.7M396.8 389.6L426.9 382.3M426.9 382.3l6.3 6.9M396.8 379.6L365.8 378.6M370.4 378.7l-2.1 -4.1M396.8 369.7L365.8 368.1M365.8 368.1l-4.1 -8.4M396.8 359.8L365.9 356.7M365.9 356.7l-3.7 -8.5M396.8 349.9L366.1 345.5M370.6 346.2l-1.7 -4.3M396.8 340.0L366.0 336.4M370.5 336.9l-1.8 -4.3M396.8 330.0L366.0 326.6M366.0 326.6l-3.6 -8.6M396.8 320.1L365.9 317.8M365.9 317.8l-3.9 -8.5M396.8 310.2L366.1 305.5M366.1 305.5l-3.2 -8.7M370.7 306.2l-1.6 -4.4M396.8 300.3L365.8 300.3M365.8 300.3l-4.5 -8.1M370.4 300.3l-2.3 -4.1M396.8 290.4L365.9 287.6M365.9 287.6l-3.8 -8.5M370.5 288.0l-1.9 -4.3M396.8 280.4L366.0 276.8M366.0 276.8l-3.5 -8.6M370.5 277.3l-1.8 -4.3M396.8 270.5L365.9 267.3M365.9 267.3l-3.6 -8.6M370.5 267.8l-3.6 -8.6M396.8 260.6L365.8 258.6M365.8 258.6l-4.0 -8.4M370.4 258.9l-4.0 -8.4M396.8 250.7L366.1 246.5M366.1 246.5l-3.4 -8.7M370.6 247.1l-3.4 -8.7M396.8 240.8L366.6 233.8M366.6 233.8l-2.6 -8.9M371.0 234.9l-2.6 -8.9M396.8 230.8L365.9 227.6M365.9 227.6l-3.6 -8.6M370.5 228.1l-3.6 -8.6M375.1 228.6l-1.8 -4.3M396.8 220.9L365.9 217.7M365.9 217.7l-3.6 -8.6M370.5 218.2l-3.6 -8.6M375.1 218.7l-1.8 -4.3M396.8 211.0L366.8 203.1M366.8 203.1l-2.3 -9.0M371.2 204.3l-2.3 -9.0M375.7 205.5l-1.1 -4.5M396.8 201.1L366.6 194.0M366.6 194.0l-2.5 -8.9M371.1 195.1l-2.5 -8.9M396.8 191.2L366.0 187.3M366.0 187.3l-3.5 -8.6M370.6 187.8l-3.5 -8.6M396.8 181.2L366.4 175.2M366.4 175.2l-2.8 -8.9M370.9 176.1l-1.4 -4.4M396.8 171.3L366.7 163.9M366.7 163.9l-2.4 -9.0M371.1 165.0l-1.2 -4.5M396.8 161.4L366.2 156.5M366.2 156.5l-3.2 -8.7M370.7 157.3l-1.6 -4.4M396.8 151.5L366.6 144.3M366.6 144.3l-2.5 -9.0M371.1 145.4l-1.3 -4.5M396.8 141.6L366.8 133.7M366.8 133.7l-2.3 -9.0M371.2 134.9l-2.3 -9.0M396.8 131.6L367.2 122.2M367.2 122.2l-1.8 -9.1M371.6 123.6l-0.9 -4.6M396.8 121.7L367.4 111.7M367.4 111.7l-1.7 -9.2M371.8 113.2l-0.8 -4.6M396.8 111.8L367.9 100.4M367.9 100.4l-1.2 -9.2M372.2 102.1l-0.6 -4.6M396.8 101.9L368.6 88.9M368.6 88.9l-0.7 -9.3M372.8 90.8l-0.3 -4.6M409.6 409.4L437.8 396.6M437.8 396.6l7.5 5.6M409.6 399.5L439.1 389.9M439.1 389.9l6.8 6.3M409.6 389.6L438.1 377.5M433.9 379.3l3.7 2.9M409.6 379.6L378.7 377.1M383.3 377.5l-1.9 -4.2M409.6 369.7L378.6 368.9M383.2 369.0l-2.1 -4.1M409.6 359.8L379.1 354.3M383.6 355.2l-1.5 -4.4M409.6 349.9L378.6 348.2M383.2 348.5l-2.0 -4.2M409.6 340.0L378.6 337.8M378.6 337.8l-3.9 -8.4M409.6 330.0L378.6 328.4M378.6 328.4l-4.1 -8.4M409.6 320.1L378.7 317.1M378.7 317.1l-3.7 -8.5M409.6 310.2L378.7 308.0M378.7 308.0l-3.9 -8.4M409.6 300.3L378.6 299.4M378.6 299.4l-4.3 -8.3M383.2 299.5l-2.1 -4.1M409.6 290.4L379.0 285.0M379.0 285.0l-3.0 -8.8M383.6 285.8l-1.5 -4.4M409.6 280.4L378.7 277.9M378.7 277.9l-3.8 -8.5M383.3 278.3l-3.8 -8.5M409.6 270.5L378.6 269.6M378.6 269.6l-4.3 -8.3M383.2 269.8l-4.3 -8.3M409.6 260.6L379.0 255.5M379.0 255.5l-3.1 -8.8M383.5 256.3l-3.1 -8.8M409.6 250.7L379.2 244.2M379.2 244.2l-2.7 -8.9M383.7 245.2l-2.7 -8.9M409.6 240.8L378.8 236.8M378.8 236.8l-3.4 -8.6M383.4 237.3l-3.4 -8.6M409.6 230.8L378.7 228.3M378.7 228.3l-3.8 -8.5M383.3 228.6l-3.8 -8.5M409.6 220.9L379.1 215.4M379.1 215.4l-3.0 -8.8M383.6 216.2l-3.0 -8.8M409.6 211.0L379.5 203.6M379.5 203.6l-2.4 -9.0M383.9 204.7l-2.4 -9.0M409.6 201.1L379.3 194.6M379.3 194.6l-2.7 -8.9M383.8 195.5l-2.7 -8.9M409.6 191.2L379.0 186.0M379.0 186.0l-3.1 -8.8M383.5 186.7l-3.1 -8.8M409.6 181.2L379.0 176.2M379.0 176.2l-3.1 -8.8M383.5 177.0l-3.1 -8.8M409.6 171.3L379.2 165.3M379.2 165.3l-2.8 -8.9M383.7 166.2l-2.8 -8.9M409.6 161.4L379.4 154.4M379.4 154.4l-2.6 -8.9M383.9 155.4l-1.3 -4.5M409.6 151.5L379.4 144.5M379.4 144.5l-2.6 -8.9M383.9 145.5l-2.6 -8.9M409.6 141.6L380.0 132.2M380.0 132.2l-1.8 -9.1M384.4 133.6l-0.9 -4.6M409.6 131.6L380.5 120.8M380.5 120.8l-1.4 -9.2M384.8 122.4l-0.7 -4.6M409.6 121.7L380.4 111.2M380.4 111.2l-1.5 -9.2M384.7 112.8l-0.7 -4.6M409.6 111.8L381.4 98.8M381.4 98.8l-0.7 -9.3M385.6 100.7l-0.3 -4.6M409.6 101.9L382.3 87.1M382.3 87.1l-0.1 -9.3M386.4 89.3l-0.0 -4.6M422.4 409.4L450.8 396.9M450.8 396.9l7.4 5.6M422.4 399.5L450.7 386.9M446.5 388.8l3.7 2.8M422.4 389.6L450.9 377.3M446.6 379.1l3.7 2.8M422.4 379.6L391.4 377.7M396.0 378.0l-2.0 -4.2M422.4 369.7L391.5 366.6M396.1 367.0l-1.8 -4.3M422.4 359.8L391.7 355.6M396.2 356.2l-1.7 -4.3M422.4 349.9L391.5 347.5M391.5 347.5l-3.9 -8.5M422.4 340.0L391.4 339.2M391.4 339.2l-4.3 -8.2M422.4 330.0L391.8 325.1M391.8 325.1l-3.2 -8.7M422.4 320.1L391.5 317.0M391.5 317.0l-3.7 -8.5M396.1 317.5l-1.8 -4.3M422.4 310.2L391.4 310.6M391.4 310.6l-4.6 -8.1M396.0 310.5l-2.3 -4.0M422.4 300.3L391.4 299.0M391.4 299.0l-4.2 -8.3M396.0 299.2l-2.1 -4.2M422.4 290.4L391.9 284.7M391.9 284.7l-2.9 -8.8M396.4 285.5l-1.5 -4.4M422.4 280.4L391.4 279.1M391.4 279.1l-4.1 -8.3M396.0 279.3l-4.1 -8.3M422.4 270.5L391.5 268.1M391.5 268.1l-3.9 -8.5M396.1 268.5l-3.9 -8.5M422.4 260.6L391.7 256.1M391.7 256.1l-3.3 -8.7M396.3 256.8l-3.3 -8.7M422.4 250.7L392.1 244.0M392.1 244.0l-2.7 -8.9M396.6 245.0l-2.7 -8.9M422.4 240.8L391.6 237.1M391.6 237.1l-3.5 -8.6M396.2 237.6l-3.5 -8.6M400.7 238.2l-1.8 -4.3M422.4 230.8L391.6 227.5M391.6 227.5l-3.6 -8.6M396.1 228.0l-3.6 -8.6M422.4 220.9L392.1 214.3M392.1 214.3l-2.7 -8.9M396.6 215.3l-2.7 -8.9M422.4 211.0L391.9 205.3M391.9 205.3l-2.9 -8.8M396.4 206.2l-2.9 -8.8M400.9 207.0l-1.5 -4.4M422.4 201.1L391.7 196.7M391.7 196.7l-3.3 -8.7M396.2 197.3l-3.3 -8.7M422.4 191.2L391.7 186.4M391.7 186.4l-3.2 -8.7M396.3 187.1l-3.2 -8.7M422.4 181.2L391.8 176.1M391.8 176.1l-3.1 -8.8M396.3 176.8l-3.1 -8.8M422.4 171.3L391.8 166.2M391.8 166.2l-3.1 -8.8M396.3 167.0l-3.1 -8.8M422.4 161.4L391.7 156.8M391.7 156.8l-3.3 -8.7M396.3 157.5l-1.6 -4.4M422.4 151.5L392.1 144.6M392.1 144.6l-2.6 -8.9M396.6 145.7l-2.6 -8.9M422.4 141.6L393.5 130.3M393.5 130.3l-1.2 -9.2M397.8 131.9l-0.6 -4.6M422.4 131.6L392.4 123.7M392.4 123.7l-2.3 -9.0M396.8 124.9l-1.1 -4.5M422.4 121.7L392.8 112.3M392.8 112.3l-1.8 -9.1M397.2 113.7l-0.9 -4.6M422.4 111.8L393.6 100.3M393.6 100.3l-1.2 -9.2M397.9 102.0l-0.6 -4.6M422.4 101.9L395.2 87.0M395.2 87.0l-0.0 -9.3M399.2 89.2l-0.0 -4.6M435.2 409.4L463.7 397.2M459.4 399.0l3.7 2.9M435.2 399.5L462.9 385.5M462.9 385.5l7.7 5.2M435.2 389.6L461.9 373.9M458.0 376.2l4.0 2.4M435.2 379.6L404.4 376.0M409.0 376.6l-1.8 -4.3M435.2 369.7L404.4 365.8M409.0 366.4l-1.7 -4.3M435.2 359.8L404.3 357.0M408.9 357.4l-1.9 -4.3M435.2 349.9L404.3 347.3M408.9 347.6l-1.9 -4.2M435.2 340.0L404.5 335.6M404.5 335.6l-3.3 -8.7M435.2 330.0L404.4 326.6M404.4 326.6l-3.6 -8.6M435.2 320.1L404.2 318.4M404.2 318.4l-4.0 -8.4M435.2 310.2L404.2 310.4M404.2 310.4l-4.6 -8.1M408.8 310.4l-2.3 -4.0M435.2 300.3L404.3 297.4M404.3 297.4l-3.7 -8.5M408.9 297.9l-1.9 -4.3M435.2 290.4L404.3 287.6M404.3 287.6l-3.8 -8.5M408.9 288.0l-1.9 -4.3M435.2 280.4L404.2 278.8M404.2 278.8l-4.1 -8.4M408.8 279.0l-4.1 -8.4M435.2 270.5L404.4 266.9M404.4 266.9l-3.5 -8.6M409.0 267.4l-3.5 -8.6M435.2 260.6L404.9 253.8M404.9 253.8l-2.6 -8.9M409.4 254.8l-2.6 -8.9M435.2 250.7L404.3 247.9M404.3 247.9l-3.8 -8.5M408.9 248.3l-3.8 -8.5M435.2 240.8L404.6 235.7M404.6 235.7l-3.1 -8.8M409.1 236.5l-3.1 -8.8M435.2 230.8L404.5 226.6M404.5 226.6l-3.4 -8.7M409.0 227.2l-3.4 -8.7M435.2 220.9L405.1 213.2M405.1 213.2l-2.4 -9.0M409.6 214.4l-2.4 -9.0M435.2 211.0L404.5 206.9M404.5 206.9l-3.4 -8.7M409.0 207.5l-3.4 -8.7M435.2 201.1L404.7 195.5M404.7 195.5l-3.0 -8.8M409.2 196.3l-3.0 -8.8M435.2 191.2L404.6 185.9M404.6 185.9l-3.1 -8.8M409.2 186.7l-3.1 -8.8M435.2 181.2L404.7 175.6M404.7 175.6l-3.0 -8.8M409.2 176.5l-3.0 -8.8M435.2 171.3L404.4 167.6M404.4 167.6l-3.5 -8.6M409.0 168.1l-1.7 -4.3M435.2 161.4L405.0 154.1M405.0 154.1l-2.5 -9.0M409.5 155.2l-2.5 -9.0M435.2 151.5L405.1 144.0M405.1 144.0l-2.4 -9.0M409.6 145.1l-2.4 -9.0M435.2 141.6L405.6 132.3M405.6 132.3l-1.9 -9.1M410.0 133.7l-1.9 -9.1M435.2 131.6L405.5 122.7M405.5 122.7l-2.0 -9.1M409.9 124.1l-2.0 -9.1M435.2 121.7L406.5 110.0M406.5 110.0l-1.1 -9.2M410.8 111.7l-1.1 -9.2M435.2 111.8L406.6 99.7M406.6 99.7l-1.0 -9.2M410.9 101.5l-0.5 -4.6M435.2 101.9L407.0 89.0M407.0 89.0l-0.7 -9.3M411.2 90.9l-0.4 -4.6M448.0 409.4L476.0 396.0M476.0 396.0l7.6 5.4M448.0 399.5L475.1 384.4M471.0 386.6l3.9 2.5M448.0 389.6L473.8 372.4M470.0 375.0l4.1 2.1M448.0 379.6L417.2 376.1M421.8 376.7l-1.8 -4.3M448.0 369.7L417.2 366.2M421.8 366.7l-1.8 -4.3M448.0 359.8L417.0 358.2M421.6 358.4l-2.0 -4.2M448.0 349.9L417.1 347.7M417.1 347.7l-3.9 -8.4M448.0 340.0L417.1 337.9M417.1 337.9l-4.0 -8.4M448.0 330.0L417.1 327.1M417.1 327.1l-3.7 -8.5M448.0 320.1L417.0 318.1M417.0 318.1l-4.0 -8.4M421.6 318.4l-2.0 -4.2M448.0 310.2L417.1 308.0M417.1 308.0l-3.9 -8.4M421.7 308.3l-2.0 -4.2M448.0 300.3L417.5 294.5M417.5 294.5l-2.9 -8.8M422.0 295.4l-1.5 -4.4M448.0 290.4L417.1 287.5M417.1 287.5l-3.7 -8.5M421.7 287.9l-3.7 -8.5M448.0 280.4L417.0 280.4M417.0 280.4l-4.5 -8.1M421.6 280.4l-4.5 -8.1M448.0 270.5L417.4 265.7M417.4 265.7l-3.2 -8.7M421.9 266.4l-3.2 -8.7M448.0 260.6L417.3 256.3M417.3 256.3l-3.3 -8.7M421.8 256.9l-3.3 -8.7M448.0 250.7L417.2 247.3M417.2 247.3l-3.6 -8.6M421.7 247.8l-3.6 -8.6M448.0 240.8L417.5 235.2M417.5 235.2l-3.0 -8.8M422.0 236.1l-3.0 -8.8M448.0 230.8L417.9 223.5M417.9 223.5l-2.5 -9.0M422.3 224.6l-2.5 -9.0M448.0 220.9L417.5 215.1M417.5 215.1l-2.9 -8.8M422.1 215.9l-2.9 -8.8M448.0 211.0L417.3 206.3M417.3 206.3l-3.2 -8.7M421.9 207.0l-3.2 -8.7M448.0 201.1L417.6 195.0M417.6 195.0l-2.8 -8.9M422.1 195.9l-2.8 -8.9M448.0 191.2L417.6 185.0M417.6 185.0l-2.8 -8.9M422.1 185.9l-2.8 -8.9M448.0 181.2L417.4 176.0M417.4 176.0l-3.1 -8.8M422.0 176.8l-3.1 -8.8M448.0 171.3L417.4 166.0M417.4 166.0l-3.0 -8.8M422.0 166.8l-3.0 -8.8M448.0 161.4L418.1 153.3M418.1 153.3l-2.2 -9.0M422.5 154.5l-2.2 -9.0M448.0 151.5L418.2 142.8M418.2 142.8l-2.1 -9.1M422.6 144.1l-2.1 -9.1M448.0 141.6L418.0 133.8M418.0 133.8l-2.3 -9.0M422.4 134.9l-2.3 -9.0M448.0 131.6L418.4 122.4M418.4 122.4l-1.9 -9.1M422.8 123.8l-1.9 -9.1M448.0 121.7L419.1 110.6M419.1 110.6l-1.3 -9.2M423.3 112.2l-0.6 -4.6M448.0 111.8L419.4 99.9M419.4 99.9l-1.0 -9.2M423.6 101.7l-0.5 -4.6M448.0 101.9L419.6 89.4M419.6 89.4l-0.9 -9.3M423.8 91.3l-0.9 -9.3M460.8 409.4L487.0 392.9M483.1 395.3l4.1 2.2M460.8 399.5L487.4 383.6M483.5 386.0l4.0 2.3M460.8 389.6L486.0 371.6M482.3 374.2l4.2 2.0M460.8 379.6L429.9 377.5M434.5 377.8l-2.0 -4.2M460.8 369.7L430.1 365.6M434.6 366.2l-1.7 -4.3M460.8 359.8L429.8 357.8M429.8 357.8l-4.0 -8.4M460.8 349.9L430.2 345.1M430.2 345.1l-3.2 -8.7M460.8 340.0L430.1 335.6M430.1 335.6l-3.3 -8.7M460.8 330.0L429.9 327.4M429.9 327.4l-3.8 -8.5M460.8 320.1L429.9 317.7M429.9 317.7l-3.9 -8.5M460.8 310.2L430.1 305.8M430.1 305.8l-3.3 -8.7M434.7 306.5l-1.7 -4.3M460.8 300.3L430.1 295.9M430.1 295.9l-3.3 -8.7M434.7 296.5l-1.7 -4.3M460.8 290.4L429.8 290.1M429.8 290.1l-4.4 -8.2M434.4 290.1l-2.2 -4.1M460.8 280.4L430.0 276.7M430.0 276.7l-3.5 -8.6M434.6 277.2l-3.5 -8.6M460.8 270.5L430.3 265.1M430.3 265.1l-3.0 -8.8M434.8 265.9l-3.0 -8.8M460.8 260.6L430.2 255.4M430.2 255.4l-3.1 -8.8M434.8 256.2l-3.1 -8.8M460.8 250.7L430.0 247.5M430.0 247.5l-3.6 -8.6M434.5 247.9l-3.6 -8.6M460.8 240.8L430.1 236.3M430.1 236.3l-3.3 -8.7M434.7 237.0l-3.3 -8.7M460.8 230.8L430.4 224.9M430.4 224.9l-2.9 -8.8M434.9 225.8l-2.9 -8.8M460.8 220.9L430.3 215.1M430.3 215.1l-2.9 -8.8M434.9 216.0l-2.9 -8.8M460.8 211.0L430.0 207.3M430.0 207.3l-3.5 -8.6M434.6 207.9l-3.5 -8.6M460.8 201.1L430.3 195.7M430.3 195.7l-3.0 -8.8M434.8 196.5l-1.5 -4.4M460.8 191.2L430.8 183.3M430.8 183.3l-2.3 -9.0M435.3 184.4l-2.3 -9.0M460.8 181.2L430.4 175.2M430.4 175.2l-2.8 -8.9M434.9 176.1l-2.8 -8.9M460.8 171.3L429.9 168.3M429.9 168.3l-3.7 -8.5M434.5 168.8l-3.7 -8.5M460.8 161.4L430.8 153.4M430.8 153.4l-2.2 -9.0M435.3 154.6l-2.2 -9.0M460.8 151.5L431.3 142.0M431.3 142.0l-1.8 -9.1M435.6 143.4l-1.8 -9.1M460.8 141.6L430.6 134.6M430.6 134.6l-2.6 -8.9M435.1 135.7l-1.3 -4.5M460.8 131.6L431.5 121.4M431.5 121.4l-1.6 -9.2M435.9 122.9l-0.8 -4.6M460.8 121.7L431.7 110.9M431.7 110.9l-1.4 -9.2M436.0 112.5l-0.7 -4.6M460.8 111.8L431.4 102.0M431.4 102.0l-1.7 -9.1M435.7 103.5l-1.7 -9.1M460.8 101.9L431.7 91.2M431.7 91.2l-1.4 -9.2M436.0 92.8l-1.4 -9.2M473.6 409.4L498.9 391.5M495.1 394.1l4.2 2.0M473.6 399.5L498.3 380.7M494.6 383.5l4.3 1.9M473.6 389.6L500.2 373.7M496.3 376.1l4.0 2.3M473.6 379.6L443.1 373.9M447.6 374.7l-1.5 -4.4M473.6 369.7L442.6 368.5M447.2 368.7l-2.1 -4.2M473.6 359.8L442.9 355.7M442.9 355.7l-3.4 -8.7M473.6 349.9L443.1 344.0M447.7 344.9l-1.4 -4.4M473.6 340.0L442.9 335.7M442.9 335.7l-3.4 -8.7M473.6 330.0L442.6 328.2M442.6 328.2l-4.0 -8.4M447.2 328.4l-2.0 -4.2M473.6 320.1L442.7 317.6M442.7 317.6l-3.8 -8.5M447.3 318.0l-1.9 -4.2M473.6 310.2L443.1 304.8M443.1 304.8l-3.0 -8.8M447.6 305.6l-1.5 -4.4M473.6 300.3L442.6 299.4M442.6 299.4l-4.3 -8.3M447.2 299.5l-2.1 -4.1M473.6 290.4L442.7 287.2M442.7 287.2l-3.7 -8.5M447.3 287.7l-1.8 -4.3M473.6 280.4L442.8 276.9M442.8 276.9l-3.5 -8.6M447.4 277.4l-3.5 -8.6M473.6 270.5L442.8 266.9M442.8 266.9l-3.5 -8.6M447.4 267.5l-3.5 -8.6M473.6 260.6L442.7 257.5M442.7 257.5l-3.7 -8.5M447.3 257.9l-3.7 -8.5M473.6 250.7L442.8 247.3M442.8 247.3l-3.6 -8.6M447.3 247.8l-3.6 -8.6M473.6 240.8L443.2 234.6M443.2 234.6l-2.8 -8.9M447.7 235.5l-2.8 -8.9M473.6 230.8L443.0 226.0M443.0 226.0l-3.2 -8.7M447.5 226.8l-3.2 -8.7M473.6 220.9L442.9 216.5M442.9 216.5l-3.3 -8.7M447.5 217.1l-3.3 -8.7M473.6 211.0L443.5 203.7M443.5 203.7l-2.5 -9.0M447.9 204.8l-2.5 -9.0M473.6 201.1L443.6 193.4M443.6 193.4l-2.3 -9.0M448.0 194.5l-2.3 -9.0M473.6 191.2L443.7 183.0M443.7 183.0l-2.2 -9.0M448.1 184.2l-2.2 -9.0M452.6 185.4l-1.1 -4.5M473.6 181.2L443.1 175.5M443.1 175.5l-2.9 -8.8M447.6 176.4l-2.9 -8.8M473.6 171.3L443.1 165.6M443.1 165.6l-2.9 -8.8M447.6 166.5l-2.9 -8.8M452.2 167.3l-1.5 -4.4M473.6 161.4L444.1 151.8M444.1 151.8l-1.8 -9.1M448.5 153.2l-1.8 -9.1M473.6 151.5L443.5 144.0M443.5 144.0l-2.4 -9.0M448.0 145.1l-2.4 -9.0M473.6 141.6L444.6 130.7M444.6 130.7l-1.4 -9.2M448.9 132.3l-1.4 -9.2M473.6 131.6L445.2 119.1M445.2 119.1l-0.8 -9.3M449.4 121.0l-0.8 -9.3M473.6 121.7L445.2 109.3M445.2 109.3l-0.9 -9.3M449.4 111.2l-0.9 -9.3M473.6 111.8L444.8 100.4M444.8 100.4l-1.2 -9.2M449.0 102.1l-1.2 -9.2M473.6 101.9L446.0 87.8M446.0 87.8l-0.3 -9.3M450.1 89.9l-0.3 -9.3M486.4 409.4L512.4 392.6M508.6 395.1l4.1 2.2M486.4 399.5L510.9 380.5M507.2 383.3l4.3 1.8M486.4 389.6L512.1 372.2M508.3 374.8l4.1 2.1M486.4 379.6L456.0 373.4M460.5 374.3l-1.4 -4.4M486.4 369.7L455.5 367.3M455.5 367.3l-3.9 -8.5M486.4 359.8L456.2 353.0M456.2 353.0l-2.6 -8.9M486.4 349.9L456.0 343.8M456.0 343.8l-2.8 -8.9M486.4 340.0L455.8 335.2M455.8 335.2l-3.2 -8.7M486.4 330.0L455.6 326.2M455.6 326.2l-3.5 -8.6M460.2 326.7l-1.7 -4.3M486.4 320.1L455.7 315.7M455.7 315.7l-3.3 -8.7M486.4 310.2L455.7 305.6M455.7 305.6l-3.3 -8.7M460.3 306.3l-1.6 -4.4M486.4 300.3L455.4 299.1M455.4 299.1l-4.2 -8.3M460.0 299.2l-4.2 -8.3M486.4 290.4L455.8 285.5M455.8 285.5l-3.2 -8.7M460.3 286.2l-1.6 -4.4M486.4 280.4L455.9 274.9M455.9 274.9l-3.0 -8.8M460.4 275.7l-3.0 -8.8M486.4 270.5L455.6 266.6M455.6 266.6l-3.4 -8.6M460.2 267.2l-3.4 -8.6M486.4 260.6L455.5 258.3M455.5 258.3l-3.9 -8.4M460.1 258.7l-3.9 -8.4M486.4 250.7L456.1 244.3M456.1 244.3l-2.7 -8.9M460.6 245.3l-2.7 -8.9M486.4 240.8L455.8 235.7M455.8 235.7l-3.1 -8.8M460.4 236.4l-3.1 -8.8M486.4 230.8L456.0 224.5M456.0 224.5l-2.8 -8.9M460.5 225.5l-2.8 -8.9M486.4 220.9L456.0 215.0M456.0 215.0l-2.9 -8.8M460.5 215.9l-2.9 -8.8M486.4 211.0L456.9 201.4M456.9 201.4l-1.8 -9.1M461.3 202.8l-1.8 -9.1M486.4 201.1L456.5 193.0M456.5 193.0l-2.2 -9.0M460.9 194.2l-2.2 -9.0M486.4 191.2L455.8 185.9M455.8 185.9l-3.1 -8.8M460.4 186.7l-3.1 -8.8M486.4 181.2L456.0 175.0M456.0 175.0l-2.8 -8.9M460.5 175.9l-2.8 -8.9M465.0 176.9l-1.4 -4.4M486.4 171.3L456.7 162.5M456.7 162.5l-2.0 -9.1M461.1 163.8l-2.0 -9.1M486.4 161.4L456.7 152.5M456.7 152.5l-2.0 -9.1M461.1 153.8l-2.0 -9.1M486.4 151.5L456.4 143.7M456.4 143.7l-2.3 -9.0M460.8 144.8l-2.3 -9.0M486.4 141.6L458.5 128.1M458.5 128.1l-0.5 -9.3M462.6 130.1l-0.5 -9.3M486.4 131.6L458.0 119.2M458.0 119.2l-0.9 -9.3M462.2 121.1l-0.9 -9.3M486.4 121.7L458.6 107.9M458.6 107.9l-0.4 -9.3M462.8 110.0l-0.4 -9.3M486.4 111.8L458.4 98.4M458.4 98.4l-0.6 -9.3M462.6 100.4l-0.6 -9.3M486.4 101.9L459.6 86.3M459.6 86.3l0.2 -9.3M463.6 88.6l0.1 -4.6M499.2 409.4L523.3 389.9M519.8 392.8l4.3 1.8M499.2 399.5L525.7 383.3M521.7 385.7l4.0 2.3M499.2 389.6L524.2 371.3M520.5 374.0l4.2 2.0M499.2 379.6L468.9 373.1M473.4 374.1l-1.3 -4.5M499.2 369.7L469.2 361.8M469.2 361.8l-2.3 -9.0M499.2 359.8L469.4 351.1M469.4 351.1l-2.1 -9.1M499.2 349.9L468.6 345.0M468.6 345.0l-3.2 -8.7M499.2 340.0L468.3 337.2M468.3 337.2l-3.8 -8.5M499.2 330.0L468.4 326.6M468.4 326.6l-3.6 -8.6M499.2 320.1L468.8 314.1M468.8 314.1l-2.9 -8.9M473.3 315.0l-1.4 -4.4M499.2 310.2L468.4 306.6M468.4 306.6l-3.5 -8.6M473.0 307.2l-3.5 -8.6M499.2 300.3L468.5 295.7M468.5 295.7l-3.3 -8.7M473.1 296.4l-1.6 -4.4M499.2 290.4L468.6 285.2M468.6 285.2l-3.1 -8.8M473.2 286.0l-3.1 -8.8M499.2 280.4L468.4 276.8M468.4 276.8l-3.5 -8.6M473.0 277.3l-3.5 -8.6M499.2 270.5L468.3 268.0M468.3 268.0l-3.8 -8.5M472.9 268.4l-3.8 -8.5M499.2 260.6L468.6 255.9M468.6 255.9l-3.2 -8.7M473.1 256.6l-3.2 -8.7M499.2 250.7L469.0 243.7M469.0 243.7l-2.6 -8.9M473.5 244.7l-2.6 -8.9M499.2 240.8L468.7 234.9M468.7 234.9l-2.9 -8.8M473.3 235.8l-1.4 -4.4M499.2 230.8L468.9 224.1M468.9 224.1l-2.6 -8.9M473.4 225.1l-2.6 -8.9M499.2 220.9L468.8 214.9M468.8 214.9l-2.8 -8.9M473.3 215.8l-1.4 -4.4M499.2 211.0L469.3 203.0M469.3 203.0l-2.2 -9.0M473.7 204.2l-1.1 -4.5M499.2 201.1L469.6 192.0M469.6 192.0l-1.9 -9.1M474.0 193.3l-1.9 -9.1M499.2 191.2L469.4 182.6M469.4 182.6l-2.1 -9.1M473.8 183.9l-2.1 -9.1M499.2 181.2L470.1 170.6M470.1 170.6l-1.4 -9.2M474.4 172.2l-1.4 -9.2M478.7 173.8l-0.7 -4.6M499.2 171.3L470.1 160.5M470.1 160.5l-1.4 -9.2M474.5 162.1l-1.4 -9.2M478.8 163.7l-0.7 -4.6M499.2 161.4L469.2 153.4M469.2 153.4l-2.3 -9.0M473.7 154.6l-2.3 -9.0M499.2 151.5L470.6 139.6M470.6 139.6l-1.0 -9.2M474.8 141.3l-1.0 -9.2M479.1 143.1l-0.5 -4.6M499.2 141.6L471.8 127.0M471.8 127.0l-0.2 -9.3M475.9 129.1l-0.2 -9.3M499.2 131.6L472.0 116.8M472.0 116.8l-0.1 -9.3M476.0 119.0l-0.1 -9.3M480.0 121.2l-0.0 -4.6M499.2 121.7L470.6 109.7M470.6 109.7l-1.0 -9.2M474.9 111.5l-1.0 -9.2M499.2 111.8L471.6 97.6M471.6 97.6l-0.3 -9.3M475.7 99.7l-0.3 -9.3M499.2 101.9L473.1 85.2M473.1 85.2l0.6 -9.3M477.0 87.6l0.6 -9.3M512.0 409.4L536.9 390.9M533.2 393.6l4.2 1.9M512.0 399.5L537.8 382.2M512.0 389.6L536.0 369.9M532.4 372.8l4.3 1.7M512.0 379.6L481.4 374.5M486.0 375.3l-1.6 -4.4M512.0 369.7L482.0 362.0M482.0 362.0l-2.3 -9.0M512.0 359.8L482.6 350.1M482.6 350.1l-1.7 -9.1M512.0 349.9L481.3 345.5M481.3 345.5l-3.3 -8.7M512.0 340.0L481.2 336.2M481.2 336.2l-3.5 -8.6M485.8 336.7l-1.7 -4.3M512.0 330.0L482.0 322.2M482.0 322.2l-2.3 -9.0M486.5 323.4l-1.2 -4.5M512.0 320.1L481.5 314.7M481.5 314.7l-3.0 -8.8M486.0 315.5l-1.5 -4.4M512.0 310.2L481.4 305.4M481.4 305.4l-3.2 -8.7M485.9 306.2l-1.6 -4.4M512.0 300.3L481.4 295.3M481.4 295.3l-3.2 -8.7M485.9 296.1l-1.6 -4.4M512.0 290.4L481.3 285.8M481.3 285.8l-3.2 -8.7M485.9 286.4l-1.6 -4.4M512.0 280.4L481.4 275.3M481.4 275.3l-3.1 -8.8M486.0 276.1l-3.1 -8.8M512.0 270.5L481.1 268.3M481.1 268.3l-3.9 -8.4M485.7 268.6l-3.9 -8.4M512.0 260.6L481.4 255.8M481.4 255.8l-3.2 -8.7M485.9 256.5l-3.2 -8.7M512.0 250.7L481.4 245.5M481.4 245.5l-3.1 -8.8M486.0 246.2l-3.1 -8.8M512.0 240.8L481.7 234.3M481.7 234.3l-2.7 -8.9M486.2 235.3l-2.7 -8.9M512.0 230.8L481.3 226.3M481.3 226.3l-3.3 -8.7M485.9 227.0l-3.3 -8.7M512.0 220.9L482.0 213.2M482.0 213.2l-2.3 -9.0M486.4 214.3l-2.3 -9.0M512.0 211.0L481.9 203.8M481.9 203.8l-2.5 -9.0M486.3 204.8l-2.5 -9.0M512.0 201.1L481.6 195.3M481.6 195.3l-2.9 -8.8M486.1 196.1l-2.9 -8.8M512.0 191.2L482.5 181.5M482.5 181.5l-1.8 -9.1M486.9 183.0l-1.8 -9.1M491.3 184.4l-0.9 -4.6M512.0 181.2L483.1 170.1M483.1 170.1l-1.3 -9.2M487.4 171.7l-1.3 -9.2M491.7 173.4l-0.6 -4.6M512.0 171.3L482.6 161.6M482.6 161.6l-1.7 -9.1M486.9 163.1l-1.7 -9.1M491.3 164.5l-0.9 -4.6M512.0 161.4L482.7 151.3M482.7 151.3l-1.6 -9.2M487.1 152.8l-1.6 -9.2M491.4 154.3l-0.8 -4.6M512.0 151.5L484.9 136.4M484.9 136.4l0.0 -9.3M489.0 138.6l0.0 -9.3M493.0 140.8l0.0 -4.6M512.0 141.6L484.4 127.5M484.4 127.5l-0.3 -9.3M488.5 129.6l-0.3 -9.3M512.0 131.6L485.6 115.5M485.6 115.5l0.4 -9.3M489.5 117.9l0.4 -9.3M512.0 121.7L485.2 106.1M485.2 106.1l0.2 -9.3M489.2 108.4l0.2 -9.3M512.0 111.8L487.1 93.4M487.1 93.4l1.2 -9.2M490.8 96.1l1.2 -9.2M512.0 101.9L486.8 83.8M486.8 83.8l1.1 -9.2M490.5 86.5l1.1 -9.2M524.8 409.4L549.2 390.3M524.8 399.5L549.7 381.0M546.0 383.8l4.2 1.9M524.8 389.6L545.9 366.9M542.8 370.2l4.5 1.1M524.8 379.6L495.6 369.1M500.0 370.7l-0.7 -4.6M524.8 369.7L495.8 358.9M500.1 360.5l-0.7 -4.6M524.8 359.8L494.8 352.0M494.8 352.0l-2.3 -9.0M524.8 349.9L494.9 341.7M494.9 341.7l-2.2 -9.0M524.8 340.0L494.7 332.8M494.7 332.8l-2.5 -9.0M524.8 330.0L495.3 320.4M495.3 320.4l-1.8 -9.1M499.7 321.9l-0.9 -4.6M524.8 320.1L494.4 313.8M494.4 313.8l-2.8 -8.9M499.0 314.8l-1.4 -4.4M524.8 310.2L494.6 303.2M494.6 303.2l-2.5 -8.9M499.1 304.2l-2.5 -8.9M524.8 300.3L495.3 290.8M495.3 290.8l-1.8 -9.1M499.7 292.2l-1.8 -9.1M524.8 290.4L494.6 283.5M494.6 283.5l-2.6 -8.9M499.1 284.5l-1.3 -4.5M524.8 280.4L494.6 273.5M494.6 273.5l-2.6 -8.9M499.1 274.5l-2.6 -8.9M524.8 270.5L494.8 262.9M494.8 262.9l-2.4 -9.0M499.2 264.0l-1.2 -4.5M524.8 260.6L495.4 250.9M495.4 250.9l-1.7 -9.1M499.7 252.3l-1.7 -9.1M524.8 250.7L495.1 241.9M495.1 241.9l-2.0 -9.1M499.5 243.2l-2.0 -9.1M524.8 240.8L494.5 234.1M494.5 234.1l-2.6 -8.9M499.0 235.1l-1.3 -4.5M524.8 230.8L495.6 220.5M495.6 220.5l-1.5 -9.2M499.9 222.0l-0.8 -4.6M524.8 220.9L496.2 209.1M496.2 209.1l-1.1 -9.2M500.4 210.8l-0.5 -4.6M524.8 211.0L494.9 202.7M494.9 202.7l-2.2 -9.0M499.4 203.9l-2.2 -9.0M524.8 201.1L495.1 192.1M495.1 192.1l-1.9 -9.1M499.5 193.4l-1.0 -4.5M524.8 191.2L496.0 179.6M496.0 179.6l-1.1 -9.2M500.3 181.3l-1.1 -9.2M504.6 183.0l-0.6 -4.6M524.8 181.2L495.8 170.2M495.8 170.2l-1.3 -9.2M500.1 171.9l-1.3 -9.2M504.4 173.5l-0.7 -4.6M524.8 171.3L495.9 160.0M495.9 160.0l-1.2 -9.2M500.2 161.7l-1.2 -9.2M504.5 163.4l-0.6 -4.6M524.8 161.4L496.0 150.0M496.0 150.0l-1.2 -9.2M500.2 151.7l-1.2 -9.2M504.5 153.4l-0.6 -4.6M524.8 151.5L498.4 135.2M498.4 135.2l0.4 -9.3M502.3 137.6l0.4 -9.3M506.2 140.0l0.2 -4.6M524.8 141.6L497.5 126.9M497.5 126.9l-0.1 -9.3M501.5 129.1l-0.1 -9.3M505.6 131.3l-0.1 -4.6M524.8 131.6L497.2 117.5M497.2 117.5l-0.3 -9.3M501.3 119.6l-0.3 -9.3M505.4 121.7l-0.1 -4.6M524.8 121.7L497.4 107.2M497.4 107.2l-0.2 -9.3M501.5 109.3l-0.2 -9.3M505.6 111.5l-0.1 -4.6M524.8 111.8L500.2 93.0M500.2 93.0l1.3 -9.2M503.8 95.8l1.3 -9.2M524.8 101.9L498.4 85.6M498.4 85.6l0.4 -9.3M502.3 88.0l0.4 -9.3M537.6 409.4L562.3 390.6M537.6 399.5L561.3 379.4M557.8 382.4l4.3 1.6M537.6 389.6L557.8 366.0M554.8 369.5l4.6 0.9M537.6 379.6L508.4 369.1M512.8 370.7l-0.7 -4.6M537.6 369.7L508.2 359.9M512.6 361.4l-0.9 -4.6M537.6 359.8L508.4 349.5M508.4 349.5l-1.6 -9.2M537.6 349.9L507.7 341.6M507.7 341.6l-2.2 -9.0M537.6 340.0L509.0 327.9M509.0 327.9l-1.0 -9.2M513.3 329.7l-0.5 -4.6M537.6 330.0L508.9 318.4M508.9 318.4l-1.1 -9.2M513.1 320.1l-0.6 -4.6M537.6 320.1L508.4 309.6M508.4 309.6l-1.5 -9.2M512.8 311.2l-0.7 -4.6M537.6 310.2L507.9 301.5M507.9 301.5l-2.0 -9.1M512.3 302.8l-1.0 -4.5M537.6 300.3L508.8 288.8M508.8 288.8l-1.2 -9.2M513.1 290.5l-1.2 -9.2M537.6 290.4L507.9 281.4M507.9 281.4l-2.0 -9.1M512.3 282.7l-1.0 -4.5M537.6 280.4L507.8 272.1M507.8 272.1l-2.1 -9.0M512.2 273.3l-1.1 -4.5M537.6 270.5L508.5 259.8M508.5 259.8l-1.4 -9.2M512.8 261.4l-1.4 -9.2M537.6 260.6L508.0 251.3M508.0 251.3l-1.9 -9.1M512.4 252.7l-1.9 -9.1M537.6 250.7L508.0 241.4M508.0 241.4l-1.9 -9.1M512.4 242.8l-0.9 -4.6M537.6 240.8L508.4 230.4M508.4 230.4l-1.5 -9.2M512.7 231.9l-1.5 -9.2M537.6 230.8L508.7 219.5M508.7 219.5l-1.2 -9.2M513.0 221.2l-0.6 -4.6M537.6 220.9L509.4 208.0M509.4 208.0l-0.7 -9.3M513.6 209.9l-0.4 -4.6M537.6 211.0L508.4 200.7M508.4 200.7l-1.6 -9.2M512.7 202.3l-1.6 -9.2M537.6 201.1L509.6 187.8M509.6 187.8l-0.6 -9.3M513.8 189.8l-0.3 -4.6M537.6 191.2L509.7 177.7M509.7 177.7l-0.5 -9.3M513.8 179.7l-0.5 -9.3M518.0 181.7l-0.3 -4.6M537.6 181.2L509.6 167.9M509.6 167.9l-0.6 -9.3M513.8 169.9l-0.6 -9.3M517.9 171.9l-0.3 -4.6M537.6 171.3L510.0 157.1M510.0 157.1l-0.3 -9.3M514.1 159.2l-0.3 -9.3M518.2 161.4l-0.1 -4.6M537.6 161.4L511.2 145.2M511.2 145.2l0.4 -9.3M515.1 147.6l0.4 -9.3M519.0 150.0l0.2 -4.6M537.6 151.5L510.3 136.8M510.3 136.8l-0.1 -9.3M514.4 139.0l-0.1 -9.3M518.4 141.1l-0.1 -4.6M537.6 141.6L511.3 125.2M511.3 125.2l0.5 -9.3M515.2 127.6l0.5 -9.3M519.1 130.1l0.2 -4.6M537.6 131.6L510.1 117.3M510.1 117.3l-0.3 -9.3M514.2 119.5l-0.3 -9.3M518.3 121.6l-0.1 -4.6M537.6 121.7L512.0 104.2M512.0 104.2l0.9 -9.3M515.8 106.8l0.9 -9.3M519.6 109.4l0.4 -4.6M537.6 111.8L511.8 94.7M511.8 94.7l0.7 -9.3M515.6 97.2l0.7 -9.3M537.6 101.9L510.7 86.5M510.7 86.5l0.1 -9.3M514.7 88.8l0.1 -9.3M550.4 409.4L572.4 387.5M550.4 399.5L572.7 377.9M569.4 381.1l4.5 1.3M550.4 389.6L572.4 367.7M569.2 371.0l4.5 1.3M550.4 379.6L522.8 365.5M522.8 365.5l-0.3 -9.3M550.4 369.7L522.3 356.7M526.5 358.6l-0.3 -4.6M550.4 359.8L521.6 348.3M521.6 348.3l-1.2 -9.2M550.4 349.9L522.5 336.3M522.5 336.3l-0.5 -9.3M550.4 340.0L522.7 326.0M522.7 326.0l-0.4 -9.3M526.9 328.0l-0.2 -4.6M550.4 330.0L522.2 317.3M522.2 317.3l-0.8 -9.3M526.4 319.2l-0.4 -4.6M550.4 320.1L521.9 307.9M521.9 307.9l-0.9 -9.3M526.2 309.7l-0.5 -4.6M550.4 310.2L523.5 294.8M523.5 294.8l0.1 -9.3M527.5 297.0l0.1 -4.6M550.4 300.3L522.2 287.4M522.2 287.4l-0.7 -9.3M526.4 289.3l-0.7 -9.3M550.4 290.4L521.2 280.0M521.2 280.0l-1.5 -9.2M525.5 281.5l-1.5 -9.2M550.4 280.4L522.6 266.7M522.6 266.7l-0.5 -9.3M526.7 268.8l-0.5 -9.3M550.4 270.5L522.0 258.0M522.0 258.0l-0.9 -9.3M526.2 259.9l-0.9 -9.3M550.4 260.6L521.7 248.8M521.7 248.8l-1.1 -9.2M526.0 250.6l-0.5 -4.6M550.4 250.7L520.6 242.1M520.6 242.1l-2.1 -9.1M525.1 243.3l-1.0 -4.5M550.4 240.8L521.6 229.3M521.6 229.3l-1.2 -9.2M525.9 231.0l-0.6 -4.6M550.4 230.8L522.2 217.9M522.2 217.9l-0.7 -9.3M526.4 219.9l-0.4 -4.6M550.4 220.9L521.4 209.9M521.4 209.9l-1.3 -9.2M525.7 211.5l-0.7 -4.6M550.4 211.0L522.7 197.1M522.7 197.1l-0.4 -9.3M526.8 199.2l-0.2 -4.6M550.4 201.1L523.5 185.7M523.5 185.7l0.1 -9.3M527.5 188.0l0.1 -4.6M550.4 191.2L523.1 176.5M523.1 176.5l-0.1 -9.3M527.1 178.7l-0.1 -9.3M531.2 180.9l-0.1 -4.6M550.4 181.2L522.9 166.9M522.9 166.9l-0.2 -9.3M527.0 169.0l-0.2 -9.3M531.1 171.1l-0.1 -4.6M550.4 171.3L523.8 155.3M523.8 155.3l0.3 -9.3M527.8 157.7l0.3 -9.3M531.7 160.1l0.2 -4.6M550.4 161.4L524.2 144.8M524.2 144.8l0.5 -9.3M528.1 147.3l0.5 -9.3M532.0 149.7l0.3 -4.6M550.4 151.5L523.5 136.1M523.5 136.1l0.1 -9.3M527.5 138.4l0.1 -9.3M531.5 140.6l0.1 -4.6M550.4 141.6L523.1 126.9M523.1 126.9l-0.1 -9.3M527.1 129.1l-0.1 -9.3M531.2 131.3l-0.1 -4.6M550.4 131.6L523.1 116.9M523.1 116.9l-0.1 -9.3M527.2 119.1l-0.1 -9.3M531.2 121.3l-0.1 -4.6M550.4 121.7L525.6 103.1M525.6 103.1l1.3 -9.2M529.3 105.9l1.3 -9.2M550.4 111.8L524.1 95.4M524.1 95.4l0.5 -9.3M528.0 97.9l0.5 -9.3M531.9 100.3l0.2 -4.6M550.4 101.9L523.3 86.8M523.3 86.8l0.0 -9.3M527.3 89.1l0.0 -9.3M531.4 91.3l0.0 -4.6M563.2 409.4L584.1 386.5M581.0 389.9l4.5 1.1M563.2 399.5L582.4 375.1M579.5 378.7l4.6 0.7M563.2 389.6L584.9 367.4M581.7 370.7l4.5 1.2M563.2 379.6L534.8 367.3M539.0 369.1l-0.4 -4.6M563.2 369.7L534.6 357.9M534.6 357.9l-1.1 -9.2M563.2 359.8L534.6 347.9M534.6 347.9l-1.0 -9.2M563.2 349.9L537.3 332.9M537.3 332.9l0.7 -9.3M541.1 335.5l0.3 -4.6M563.2 340.0L535.5 326.0M535.5 326.0l-0.4 -9.3M539.6 328.1l-0.2 -4.6M563.2 330.0L535.5 316.2M535.5 316.2l-0.4 -9.3M539.6 318.3l-0.2 -4.6M563.2 320.1L536.7 304.1M536.7 304.1l0.3 -9.3M540.6 306.5l0.3 -9.3M563.2 310.2L537.7 292.6M537.7 292.6l0.9 -9.3M541.5 295.2l0.9 -9.3M563.2 300.3L536.6 284.4M536.6 284.4l0.3 -9.3M540.5 286.8l0.3 -9.3M563.2 290.4L536.3 275.0M536.3 275.0l0.1 -9.3M540.3 277.3l0.1 -9.3M563.2 280.4L537.0 263.9M537.0 263.9l0.5 -9.3M540.9 266.4l0.5 -9.3M563.2 270.5L537.0 254.0M537.0 254.0l0.5 -9.3M540.9 256.4l0.3 -4.6M563.2 260.6L535.6 246.6M535.6 246.6l-0.3 -9.3M539.7 248.7l-0.2 -4.6M563.2 250.7L535.2 237.3M535.2 237.3l-0.6 -9.3M539.4 239.3l-0.3 -4.6M563.2 240.8L536.0 226.0M536.0 226.0l-0.1 -9.3M540.0 228.2l-0.1 -9.3M563.2 230.8L536.0 215.9M536.0 215.9l-0.0 -9.3M540.1 218.2l-0.0 -4.6M563.2 220.9L535.9 206.2M535.9 206.2l-0.1 -9.3M540.0 208.4l-0.1 -4.6M563.2 211.0L536.6 195.2M536.6 195.2l0.3 -9.3M540.5 197.5l0.1 -4.6M563.2 201.1L537.3 184.0M537.3 184.0l0.7 -9.3M541.2 186.5l0.4 -4.6M563.2 191.2L537.4 174.1M537.4 174.1l0.7 -9.3M541.2 176.6l0.7 -9.3M545.0 179.1l0.4 -4.6M563.2 181.2L536.5 165.4M536.5 165.4l0.3 -9.3M540.5 167.8l0.3 -9.3M544.5 170.1l0.1 -4.6M563.2 171.3L537.9 153.4M537.9 153.4l1.0 -9.2M541.7 156.0l1.0 -9.2M545.4 158.7l0.5 -4.6M563.2 161.4L538.9 142.2M538.9 142.2l1.5 -9.2M542.5 145.0l1.5 -9.2M546.1 147.9l0.8 -4.6M563.2 151.5L536.9 135.1M536.9 135.1l0.5 -9.3M540.8 137.6l0.5 -9.3M544.7 140.0l0.2 -4.6M563.2 141.6L536.1 126.6M536.1 126.6l-0.0 -9.3M540.1 128.8l-0.0 -9.3M544.1 131.0l-0.0 -4.6M563.2 131.6L536.8 115.4M536.8 115.4l0.4 -9.3M540.7 117.8l0.4 -9.3M544.7 120.2l0.2 -4.6M563.2 121.7L537.5 104.4M537.5 104.4l0.8 -9.3M541.3 107.0l0.8 -9.3M563.2 111.8L537.3 94.8M537.3 94.8l0.7 -9.3M541.1 97.3l0.7 -9.3M563.2 101.9L537.8 84.1M537.8 84.1l1.0 -9.2M541.6 86.8l1.0 -9.2M545.3 89.4l0.5 -4.6M576.0 409.4L596.6 386.2M576.0 399.5L594.9 374.9M592.1 378.6l4.6 0.7M576.0 389.6L593.6 364.0M591.0 367.8l4.6 0.5M576.0 379.6L547.9 366.6M547.9 366.6l-0.7 -9.3M576.0 369.7L548.1 356.3M548.1 356.3l-0.5 -9.3M576.0 359.8L548.7 345.1M548.7 345.1l-0.1 -9.3M552.8 347.3l-0.1 -4.6M576.0 349.9L549.3 334.1M549.3 334.1l0.3 -9.3M553.3 336.4l0.1 -4.6M576.0 340.0L549.1 324.5M549.1 324.5l0.1 -9.3M553.1 326.8l0.1 -4.6M576.0 330.0L549.0 314.8M549.0 314.8l0.1 -9.3M553.0 317.1l0.0 -4.6M576.0 320.1L550.0 303.2M550.0 303.2l0.7 -9.3M553.9 305.7l0.7 -9.3M576.0 310.2L550.4 292.7M550.4 292.7l0.9 -9.3M554.2 295.3l0.9 -9.3M576.0 300.3L548.3 286.3M548.3 286.3l-0.4 -9.3M552.5 288.4l-0.2 -4.6M576.0 290.4L549.4 274.4M549.4 274.4l0.3 -9.3M553.4 276.8l0.3 -9.3M576.0 280.4L550.3 263.1M550.3 263.1l0.8 -9.3M554.1 265.7l0.8 -9.3M576.0 270.5L550.0 253.7M550.0 253.7l0.6 -9.3M553.9 256.2l0.3 -4.6M576.0 260.6L548.1 247.0M548.1 247.0l-0.5 -9.3M552.3 249.0l-0.2 -4.6M576.0 250.7L549.8 234.2M549.8 234.2l0.5 -9.3M553.6 236.7l0.3 -4.6M576.0 240.8L549.6 224.6M549.6 224.6l0.4 -9.3M553.5 227.0l0.2 -4.6M576.0 230.8L548.3 216.9M548.3 216.9l-0.4 -9.3M552.4 219.0l-0.2 -4.6M576.0 220.9L550.1 204.0M550.1 204.0l0.7 -9.3M553.9 206.5l0.3 -4.6M576.0 211.0L550.6 193.2M550.6 193.2l1.0 -9.2M554.4 195.9l0.5 -4.6M576.0 201.1L551.8 181.7M551.8 181.7l1.6 -9.2M555.4 184.6l0.8 -4.6M576.0 191.2L551.0 172.9M551.0 172.9l1.2 -9.2M554.7 175.6l1.2 -9.2M558.4 178.3l1.2 -9.2M576.0 181.2L552.1 161.5M552.1 161.5l1.7 -9.1M555.7 164.4l1.7 -9.1M559.2 167.3l0.9 -4.6M576.0 171.3L552.0 151.7M552.0 151.7l1.7 -9.2M555.6 154.6l1.7 -9.2M559.1 157.5l0.8 -4.6M576.0 161.4L551.5 142.4M551.5 142.4l1.4 -9.2M555.2 145.2l1.4 -9.2M558.8 148.0l0.7 -4.6M576.0 151.5L549.5 135.4M549.5 135.4l0.4 -9.3M553.5 137.8l0.4 -9.3M557.4 140.1l0.2 -4.6M576.0 141.6L550.9 123.4M550.9 123.4l1.1 -9.2M554.6 126.1l1.1 -9.2M558.3 128.8l0.5 -4.6M576.0 131.6L550.3 114.3M550.3 114.3l0.8 -9.3M554.2 116.8l0.8 -9.3M558.0 119.4l0.4 -4.6M576.0 121.7L550.0 104.9M550.0 104.9l0.6 -9.3M553.8 107.4l0.6 -9.3M576.0 111.8L549.3 96.0M549.3 96.0l0.3 -9.3M553.3 98.4l0.3 -9.3M557.2 100.7l0.1 -4.6M576.0 101.9L550.3 84.6M550.3 84.6l0.8 -9.3M554.1 87.2l0.8 -9.3M557.9 89.8l0.4 -4.6M588.8 409.4L604.9 382.9M602.5 386.8l4.6 0.2M588.8 399.5L607.9 375.1M605.1 378.7l4.6 0.7M588.8 389.6L605.9 363.7M603.4 367.5l4.6 0.4M588.8 379.6L560.2 367.7M560.2 367.7l-1.0 -9.2M588.8 369.7L560.2 357.8M560.2 357.8l-1.0 -9.2M588.8 359.8L562.0 344.3M562.0 344.3l0.2 -9.3M565.9 346.6l0.1 -4.6M588.8 349.9L562.0 334.3M562.0 334.3l0.2 -9.3M566.0 336.6l0.1 -4.6M588.8 340.0L561.1 326.1M561.1 326.1l-0.4 -9.3M565.2 328.1l-0.2 -4.6M588.8 330.0L563.9 311.7M563.9 311.7l1.2 -9.2M567.6 314.4l0.6 -4.6M588.8 320.1L563.0 303.0M563.0 303.0l0.7 -9.3M566.8 305.5l0.4 -4.6M588.8 310.2L562.8 293.3M562.8 293.3l0.7 -9.3M566.7 295.8l0.7 -9.3M588.8 300.3L562.7 283.5M562.7 283.5l0.6 -9.3M566.6 286.0l0.6 -9.3M588.8 290.4L562.7 273.7M562.7 273.7l0.6 -9.3M566.6 276.1l0.3 -4.6M588.8 280.4L563.9 261.9M563.9 261.9l1.2 -9.2M567.6 264.7l0.6 -4.6M588.8 270.5L562.4 254.2M562.4 254.2l0.4 -9.3M566.4 256.7l0.2 -4.6M588.8 260.6L561.4 246.1M561.4 246.1l-0.2 -9.3M565.5 248.2l-0.1 -4.6M588.8 250.7L562.0 235.1M562.0 235.1l0.2 -9.3M566.0 237.5l0.1 -4.6M588.8 240.8L562.8 223.9M562.8 223.9l0.6 -9.3M566.7 226.4l0.3 -4.6M588.8 230.8L562.1 215.2M562.1 215.2l0.2 -9.3M566.1 217.5l0.1 -4.6M588.8 220.9L562.4 204.6M562.4 204.6l0.4 -9.3M566.4 207.1l0.2 -4.6M588.8 211.0L564.7 191.5M564.7 191.5l1.6 -9.2M568.3 194.4l0.8 -4.6M588.8 201.1L564.0 182.6M564.0 182.6l1.2 -9.2M567.6 185.3l0.6 -4.6M588.8 191.2L563.7 173.0M563.7 173.0l1.1 -9.2M567.4 175.7l1.1 -9.2M571.1 178.4l0.5 -4.6M588.8 181.2L567.3 158.9M567.3 158.9l2.7 -8.9M570.5 162.2l2.7 -8.9M573.7 165.6l1.4 -4.4M588.8 171.3L566.6 149.7M566.6 149.7l2.4 -9.0M569.9 153.0l2.4 -9.0M573.2 156.2l1.2 -4.5M588.8 161.4L565.5 140.9M565.5 140.9l2.0 -9.1M569.0 144.0l2.0 -9.1M572.5 147.0l1.0 -4.5M588.8 151.5L564.3 132.5M564.3 132.5l1.4 -9.2M568.0 135.3l1.4 -9.2M571.6 138.1l0.7 -4.6M588.8 141.6L564.5 122.4M564.5 122.4l1.5 -9.2M568.1 125.2l1.5 -9.2M571.7 128.1l0.7 -4.6M588.8 131.6L562.7 115.0M562.7 115.0l0.6 -9.3M566.6 117.4l0.6 -9.3M588.8 121.7L562.7 104.9M562.7 104.9l0.6 -9.3M566.6 107.4l0.6 -9.3M588.8 111.8L562.6 95.2M562.6 95.2l0.5 -9.3M566.5 97.7l0.5 -9.3M570.4 100.2l0.3 -4.6M588.8 101.9L563.9 83.5M563.9 83.5l1.2 -9.2M567.6 86.2l1.2 -9.2M571.3 88.9l0.6 -4.6M601.6 409.4L617.4 382.7M615.1 386.7l4.6 0.1M601.6 399.5L617.5 372.9M615.2 376.8l4.6 0.1M601.6 389.6L616.6 362.4M614.4 366.5l4.6 -0.0M601.6 379.6L573.1 367.4M577.4 369.2l-0.5 -4.6M601.6 369.7L573.9 355.8M573.9 355.8l-0.4 -9.3M601.6 359.8L574.5 344.8M574.5 344.8l-0.0 -9.3M601.6 349.9L573.8 336.3M573.8 336.3l-0.5 -9.3M577.9 338.3l-0.2 -4.6M601.6 340.0L575.0 324.1M575.0 324.1l0.3 -9.3M579.0 326.4l0.1 -4.6M601.6 330.0L576.6 311.8M576.6 311.8l1.1 -9.2M580.3 314.5l0.6 -4.6M601.6 320.1L576.2 302.4M576.2 302.4l1.0 -9.2M580.0 305.0l0.5 -4.6M601.6 310.2L576.1 292.6M576.1 292.6l0.9 -9.3M579.9 295.2l0.5 -4.6M601.6 300.3L575.8 283.2M575.8 283.2l0.7 -9.3M579.6 285.7l0.7 -9.3M601.6 290.4L576.4 272.3M576.4 272.3l1.1 -9.2M580.2 275.0l0.5 -4.6M601.6 280.4L576.9 261.7M576.9 261.7l1.3 -9.2M580.6 264.5l0.7 -4.6M601.6 270.5L575.3 254.2M575.3 254.2l0.5 -9.3M579.2 256.6l0.2 -4.6M601.6 260.6L576.9 241.9M576.9 241.9l1.3 -9.2M580.6 244.7l0.7 -4.6M601.6 250.7L576.0 233.2M576.0 233.2l0.9 -9.3M579.8 235.8l0.4 -4.6M601.6 240.8L575.4 224.2M575.4 224.2l0.5 -9.3M579.3 226.7l0.3 -4.6M601.6 230.8L575.5 214.2M575.5 214.2l0.6 -9.3M579.3 216.7l0.3 -4.6M601.6 220.9L577.8 201.1M577.8 201.1l1.7 -9.1M581.3 204.1l0.9 -4.6M601.6 211.0L577.8 191.2M577.8 191.2l1.7 -9.1M581.3 194.1l0.9 -4.6M601.6 201.1L578.0 181.0M578.0 181.0l1.8 -9.1M581.5 184.0l0.9 -4.6M601.6 191.2L580.0 169.0M580.0 169.0l2.7 -8.9M583.2 172.3l2.7 -8.9M586.4 175.6l1.3 -4.5M601.6 181.2L580.5 158.5M580.5 158.5l2.9 -8.8M583.7 161.9l2.9 -8.8M586.8 165.3l1.4 -4.4M601.6 171.3L581.0 148.1M581.0 148.1l3.1 -8.8M584.1 151.6l3.1 -8.8M587.2 155.0l1.5 -4.4M601.6 161.4L579.5 139.7M579.5 139.7l2.5 -9.0M582.8 142.9l2.5 -9.0M601.6 151.5L578.5 130.8M578.5 130.8l2.1 -9.1M582.0 133.9l2.1 -9.1M585.4 136.9l1.0 -4.5M601.6 141.6L577.3 122.4M577.3 122.4l1.5 -9.2M580.9 125.2l1.5 -9.2M584.5 128.1l0.8 -4.6M601.6 131.6L575.4 115.2M575.4 115.2l0.5 -9.3M579.3 117.6l0.5 -9.3M583.2 120.1l0.3 -4.6M601.6 121.7L575.6 104.9M575.6 104.9l0.6 -9.3M579.5 107.4l0.6 -9.3M601.6 111.8L576.4 93.8M576.4 93.8l1.0 -9.2M580.1 96.5l1.0 -9.2M601.6 101.9L575.8 84.7M575.8 84.7l0.8 -9.3M579.7 87.2l0.8 -9.3M614.4 409.4L629.4 382.2M627.2 386.3l4.6 -0.0M614.4 399.5L626.7 371.0M624.9 375.2l4.6 -0.5M614.4 389.6L624.3 360.2M624.3 360.2l9.1 -1.7M614.4 379.6L585.9 367.5M585.9 367.5l-1.0 -9.3M614.4 369.7L586.6 356.0M586.6 356.0l-0.5 -9.3M614.4 359.8L586.4 346.5M586.4 346.5l-0.6 -9.3M590.6 348.4l-0.3 -4.6M614.4 349.9L586.9 335.6M586.9 335.6l-0.2 -9.3M591.0 337.7l-0.1 -4.6M614.4 340.0L590.1 320.7M590.1 320.7l1.5 -9.2M593.7 323.6l0.8 -4.6M614.4 330.0L591.7 308.9M591.7 308.9l2.2 -9.0M595.1 312.1l2.2 -9.0M614.4 320.1L588.7 302.8M588.7 302.8l0.8 -9.3M592.6 305.3l0.4 -4.6M614.4 310.2L588.4 293.4M588.4 293.4l0.6 -9.3M592.2 295.9l0.6 -9.3M614.4 300.3L591.0 279.9M591.0 279.9l1.9 -9.1M594.5 283.0l1.0 -4.5M614.4 290.4L590.3 270.9M590.3 270.9l1.6 -9.2M593.9 273.8l0.8 -4.6M614.4 280.4L589.6 261.9M589.6 261.9l1.2 -9.2M593.3 264.7l0.6 -4.6M614.4 270.5L590.2 251.2M590.2 251.2l1.5 -9.2M593.8 254.1l0.8 -4.6M614.4 260.6L590.6 240.7M590.6 240.7l1.7 -9.1M594.2 243.7l0.9 -4.6M614.4 250.7L588.6 233.6M588.6 233.6l0.7 -9.3M592.4 236.1l0.4 -4.6M614.4 240.8L589.6 222.3M589.6 222.3l1.2 -9.2M593.2 225.0l0.6 -4.6M614.4 230.8L589.4 212.5M589.4 212.5l1.2 -9.2M593.1 215.2l0.6 -4.6M614.4 220.9L590.9 200.8M590.9 200.8l1.9 -9.1M594.4 203.8l0.9 -4.6M614.4 211.0L590.5 191.2M590.5 191.2l1.7 -9.1M594.1 194.2l0.9 -4.6M614.4 201.1L590.4 181.5M590.4 181.5l1.6 -9.2M594.0 184.4l0.8 -4.6M614.4 191.2L594.3 167.6M594.3 167.6l3.3 -8.7M597.3 171.1l3.3 -8.7M614.4 181.2L596.0 156.3M596.0 156.3l3.9 -8.5M598.8 160.0l3.9 -8.5M601.5 163.7l1.9 -4.2M614.4 171.3L595.1 147.1M595.1 147.1l3.6 -8.6M598.0 150.7l3.6 -8.6M614.4 161.4L592.9 139.1M592.9 139.1l2.7 -8.9M596.1 142.4l2.7 -8.9M599.3 145.7l1.4 -4.4M614.4 151.5L592.4 129.6M592.4 129.6l2.5 -8.9M595.7 132.9l2.5 -8.9M614.4 141.6L591.5 120.7M591.5 120.7l2.1 -9.1M594.9 123.8l2.1 -9.1M598.3 126.9l1.1 -4.5M614.4 131.6L587.9 115.7M587.9 115.7l0.3 -9.3M591.8 118.0l0.3 -9.3M614.4 121.7L589.8 102.8M589.8 102.8l1.4 -9.2M593.5 105.6l1.4 -9.2M614.4 111.8L588.8 94.3M588.8 94.3l0.9 -9.3M592.6 96.9l0.9 -9.3M614.4 101.9L588.0 85.6M588.0 85.6l0.4 -9.3M591.9 88.0l0.4 -9.3M627.2 409.4L644.5 383.7M641.9 387.5l4.6 0.4M627.2 399.5L643.0 372.8M640.7 376.8l4.6 0.1M627.2 389.6L640.7 361.6M640.7 361.6l9.3 -0.5M627.2 379.6L599.3 366.1M599.3 366.1l-0.5 -9.3M627.2 369.7L598.6 357.8M598.6 357.8l-1.0 -9.2M627.2 359.8L599.8 345.4M599.8 345.4l-0.2 -9.3M603.8 347.6l-0.1 -4.6M627.2 349.9L601.0 333.3M601.0 333.3l0.5 -9.3M604.9 335.8l0.3 -4.6M627.2 340.0L603.0 320.7M603.0 320.7l1.5 -9.2M606.6 323.5l0.8 -4.6M627.2 330.0L603.5 310.1M603.5 310.1l1.8 -9.1M607.0 313.1l0.9 -4.6M627.2 320.1L601.2 303.3M601.2 303.3l0.6 -9.3M605.0 305.8l0.3 -4.6M627.2 310.2L602.7 291.2M602.7 291.2l1.4 -9.2M606.4 294.0l0.7 -4.6M627.2 300.3L604.8 278.9M604.8 278.9l2.3 -9.0M608.1 282.1l1.2 -4.5M627.2 290.4L603.2 270.8M603.2 270.8l1.6 -9.2M606.7 273.7l0.8 -4.6M627.2 280.4L602.4 261.9M602.4 261.9l1.2 -9.2M606.0 264.7l0.6 -4.6M627.2 270.5L602.4 252.0M602.4 252.0l1.2 -9.2M606.0 254.8l0.6 -4.6M627.2 260.6L604.1 240.0M604.1 240.0l2.0 -9.1M607.5 243.0l1.0 -4.5M627.2 250.7L601.7 233.1M601.7 233.1l0.9 -9.3M605.5 235.7l0.4 -4.6M627.2 240.8L601.2 223.9M601.2 223.9l0.6 -9.3M605.1 226.4l0.3 -4.6M627.2 230.8L603.7 210.7M603.7 210.7l1.9 -9.1M607.2 213.7l0.9 -4.6M627.2 220.9L603.5 201.0M603.5 201.0l1.8 -9.1M607.0 203.9l0.9 -4.6M627.2 211.0L603.8 190.7M603.8 190.7l1.9 -9.1M607.3 193.7l1.0 -4.5M627.2 201.1L604.3 180.2M604.3 180.2l2.2 -9.0M607.7 183.3l1.1 -4.5M627.2 191.2L607.1 167.5M607.1 167.5l3.3 -8.7M610.1 171.1l3.3 -8.7M613.1 174.6l1.6 -4.4M627.2 181.2L608.2 156.7M608.2 156.7l3.7 -8.5M611.0 160.4l3.7 -8.5M627.2 171.3L606.6 148.2M606.6 148.2l3.1 -8.8M609.6 151.6l3.1 -8.8M612.7 155.1l1.5 -4.4M627.2 161.4L605.8 139.0M605.8 139.0l2.8 -8.9M609.0 142.3l2.8 -8.9M627.2 151.5L605.2 129.7M605.2 129.7l2.5 -9.0M608.4 132.9l2.5 -9.0M627.2 141.6L602.9 122.4M602.9 122.4l1.5 -9.2M606.5 125.2l1.5 -9.2M627.2 131.6L600.7 115.6M600.7 115.6l0.4 -9.3M604.6 118.0l0.4 -9.3M627.2 121.7L602.8 102.7M602.8 102.7l1.4 -9.2M606.4 105.5l1.4 -9.2M627.2 111.8L602.9 92.6M602.9 92.6l1.5 -9.2M606.5 95.5l1.5 -9.2M627.2 101.9L600.4 86.4M600.4 86.4l0.2 -9.3M604.4 88.7l0.2 -9.3M640.0 409.4L659.5 385.3M656.6 388.9l4.6 0.8M640.0 399.5L655.3 372.5M653.0 376.5l4.6 0.0M640.0 389.6L654.9 362.4M654.9 362.4l9.3 -0.1M640.0 379.6L611.3 368.0M611.3 368.0l-1.1 -9.2M640.0 369.7L610.6 359.9M610.6 359.9l-1.7 -9.1M640.0 359.8L611.2 348.5M611.2 348.5l-1.2 -9.2M640.0 349.9L612.5 335.6M612.5 335.6l-0.2 -9.3M616.6 337.7l-0.1 -4.6M640.0 340.0L616.2 320.1M616.2 320.1l1.7 -9.1M619.8 323.1l0.9 -4.6M640.0 330.0L614.5 312.5M614.5 312.5l0.9 -9.3M618.3 315.1l0.4 -4.6M640.0 320.1L616.4 300.0M616.4 300.0l1.8 -9.1M619.9 303.0l0.9 -4.6M640.0 310.2L615.5 291.2M615.5 291.2l1.4 -9.2M619.2 294.0l0.7 -4.6M640.0 300.3L615.9 280.8M615.9 280.8l1.6 -9.2M619.5 283.7l0.8 -4.6M640.0 290.4L614.9 272.1M614.9 272.1l1.1 -9.2M618.7 274.9l0.6 -4.6M640.0 280.4L616.2 260.6M616.2 260.6l1.7 -9.1M619.8 263.5l0.9 -4.6M640.0 270.5L616.4 250.4M616.4 250.4l1.8 -9.1M619.9 253.4l0.9 -4.6M640.0 260.6L615.5 241.7M615.5 241.7l1.4 -9.2M619.1 244.5l0.7 -4.6M640.0 250.7L613.7 234.4M613.7 234.4l0.4 -9.3M640.0 240.8L614.6 223.0M614.6 223.0l0.9 -9.3M618.4 225.7l0.5 -4.6M640.0 230.8L617.6 209.4M617.6 209.4l2.4 -9.0M620.9 212.6l1.2 -4.5M640.0 220.9L615.3 202.2M615.3 202.2l1.3 -9.2M619.0 205.0l0.7 -4.6M640.0 211.0L617.2 190.1M617.2 190.1l2.2 -9.0M620.6 193.2l2.2 -9.0M640.0 201.1L617.7 179.6M617.7 179.6l2.4 -9.0M621.0 182.8l2.4 -9.0M640.0 191.2L620.5 167.1M620.5 167.1l3.5 -8.6M623.4 170.7l3.5 -8.6M626.3 174.3l1.7 -4.3M640.0 181.2L618.6 158.9M618.6 158.9l2.7 -8.9M621.7 162.2l2.7 -8.9M640.0 171.3L621.5 146.5M621.5 146.5l3.8 -8.5M624.3 150.2l3.8 -8.5M640.0 161.4L619.8 137.9M619.8 137.9l3.2 -8.7M622.8 141.4l3.2 -8.7M640.0 151.5L617.4 130.3M617.4 130.3l2.3 -9.0M620.8 133.4l2.3 -9.0M640.0 141.6L614.7 123.6M614.7 123.6l1.0 -9.2M618.5 126.3l1.0 -9.2M640.0 131.6L615.0 113.3M615.0 113.3l1.2 -9.2M618.7 116.0l1.2 -9.2M640.0 121.7L616.3 101.8M616.3 101.8l1.8 -9.1M619.8 104.8l1.8 -9.1M640.0 111.8L615.3 93.1M615.3 93.1l1.3 -9.2M619.0 95.9l1.3 -9.2M640.0 101.9L614.0 85.1M614.0 85.1l0.6 -9.3M617.8 87.6l0.6 -9.3M652.8 409.4L673.1 385.9M670.1 389.4l4.6 1.0M652.8 399.5L672.2 375.3M669.3 378.9l4.6 0.8M652.8 389.6L672.2 365.3M672.2 365.3l9.2 1.6M652.8 379.6L623.5 369.8M623.5 369.8l-1.7 -9.1M627.8 371.2l-0.8 -4.6M652.8 369.7L622.6 363.0M622.6 363.0l-2.6 -8.9M652.8 359.8L624.0 348.4M624.0 348.4l-1.2 -9.2M628.3 350.1l-0.6 -4.6M652.8 349.9L626.7 333.2M626.7 333.2l0.6 -9.3M630.6 335.7l0.3 -4.6M652.8 340.0L628.0 321.4M628.0 321.4l1.2 -9.2M631.7 324.2l0.6 -4.6M652.8 330.0L628.8 310.5M628.8 310.5l1.6 -9.2M632.3 313.4l0.8 -4.6M652.8 320.1L628.4 301.1M628.4 301.1l1.4 -9.2M632.0 303.9l0.7 -4.6M652.8 310.2L629.5 289.8M629.5 289.8l2.0 -9.1M633.0 292.8l1.0 -4.5M652.8 300.3L627.9 281.9M627.9 281.9l1.2 -9.2M631.6 284.7l0.6 -4.6M652.8 290.4L628.1 271.7M628.1 271.7l1.3 -9.2M631.8 274.5l0.6 -4.6M652.8 280.4L629.7 259.8M629.7 259.8l2.1 -9.1M633.2 262.8l1.0 -4.5M652.8 270.5L628.2 251.7M628.2 251.7l1.3 -9.2M631.9 254.5l0.7 -4.6M652.8 260.6L627.4 242.8M627.4 242.8l1.0 -9.2M631.2 245.5l0.5 -4.6M652.8 250.7L626.7 234.0M626.7 234.0l0.6 -9.3M652.8 240.8L628.6 221.4M628.6 221.4l1.5 -9.2M632.2 224.3l0.8 -4.6M652.8 230.8L630.2 209.7M630.2 209.7l2.2 -9.0M633.5 212.8l1.1 -4.5M652.8 220.9L629.3 200.8M629.3 200.8l1.9 -9.1M632.8 203.7l0.9 -4.6M652.8 211.0L631.0 189.0M631.0 189.0l2.6 -8.9M634.2 192.3l1.3 -4.5M652.8 201.1L632.6 177.6M632.6 177.6l3.2 -8.7M635.6 181.1l1.6 -4.4M652.8 191.2L631.9 168.3M631.9 168.3l3.0 -8.8M635.0 171.7l3.0 -8.8M652.8 181.2L631.2 159.0M631.2 159.0l2.7 -8.9M634.4 162.3l2.7 -8.9M652.8 171.3L635.7 145.5M635.7 145.5l4.3 -8.3M638.2 149.3l4.3 -8.3M652.8 161.4L633.3 137.3M633.3 137.3l3.5 -8.6M636.2 140.9l3.5 -8.6M652.8 151.5L629.5 131.1M629.5 131.1l1.9 -9.1M632.9 134.1l1.9 -9.1M652.8 141.6L627.4 123.8M627.4 123.8l1.0 -9.3M631.2 126.4l1.0 -9.3M652.8 131.6L628.8 112.1M628.8 112.1l1.6 -9.2M632.4 115.0l1.6 -9.2M652.8 121.7L627.0 104.6M627.0 104.6l0.7 -9.3M630.9 107.1l0.7 -9.3M652.8 111.8L626.5 95.4M626.5 95.4l0.5 -9.3M630.4 97.8l0.5 -9.3M652.8 101.9L627.1 84.5M627.1 84.5l0.8 -9.3M631.0 87.1l0.4 -4.6M665.6 409.4L688.7 388.6M685.3 391.7l4.4 1.5M665.6 399.5L686.5 376.6M683.4 380.0l4.5 1.1M665.6 389.6L687.6 367.7M687.6 367.7l8.9 2.6M665.6 379.6L635.3 373.4M635.3 373.4l-2.8 -8.9M639.8 374.3l-1.4 -4.4M665.6 369.7L635.2 363.8M635.2 363.8l-2.9 -8.8M665.6 359.8L637.0 347.8M637.0 347.8l-1.0 -9.2M641.3 349.6l-0.5 -4.6M665.6 349.9L638.6 334.7M638.6 334.7l0.1 -9.3M642.6 336.9l0.0 -4.6M665.6 340.0L638.8 324.4M638.8 324.4l0.2 -9.3M642.8 326.7l0.1 -4.6M665.6 330.0L640.5 311.9M640.5 311.9l1.1 -9.2M644.2 314.6l0.5 -4.6M665.6 320.1L642.7 299.3M642.7 299.3l2.1 -9.1M646.1 302.4l1.1 -4.5M665.6 310.2L641.7 290.5M641.7 290.5l1.7 -9.1M645.2 293.5l0.8 -4.6M665.6 300.3L640.5 282.2M640.5 282.2l1.1 -9.2M644.2 284.9l0.5 -4.6M665.6 290.4L641.2 271.3M641.2 271.3l1.5 -9.2M644.8 274.1l0.7 -4.6M665.6 280.4L642.5 259.8M642.5 259.8l2.1 -9.1M665.6 270.5L642.0 250.5M642.0 250.5l1.8 -9.1M645.5 253.5l0.9 -4.6M665.6 260.6L639.2 244.5M639.2 244.5l0.4 -9.3M643.1 246.9l0.2 -4.6M665.6 250.7L640.6 232.4M640.6 232.4l1.2 -9.2M665.6 240.8L642.9 219.7M642.9 219.7l2.2 -9.0M646.3 222.8l1.1 -4.5M665.6 230.8L641.7 211.1M641.7 211.1l1.7 -9.1M645.3 214.1l0.8 -4.6M665.6 220.9L642.1 200.7M642.1 200.7l1.9 -9.1M645.6 203.7l0.9 -4.6M665.6 211.0L642.6 190.2M642.6 190.2l2.1 -9.1M646.1 193.3l1.1 -4.5M665.6 201.1L642.8 180.2M642.8 180.2l2.2 -9.0M646.2 183.3l2.2 -9.0M665.6 191.2L642.9 170.1M642.9 170.1l2.2 -9.0M646.2 173.3l2.2 -9.0M665.6 181.2L645.8 157.4M645.8 157.4l3.4 -8.7M648.8 161.0l3.4 -8.7M665.6 171.3L648.8 145.3M648.8 145.3l4.4 -8.2M651.3 149.1l4.4 -8.2M665.6 161.4L646.0 137.4M646.0 137.4l3.4 -8.6M648.9 141.0l3.4 -8.6M665.6 151.5L643.5 129.8M643.5 129.8l2.5 -9.0M646.8 133.0l2.5 -9.0M665.6 141.6L641.3 122.4M641.3 122.4l1.5 -9.2M644.9 125.2l1.5 -9.2M665.6 131.6L641.0 112.9M641.0 112.9l1.3 -9.2M644.6 115.7l1.3 -9.2M665.6 121.7L640.5 103.6M640.5 103.6l1.1 -9.2M644.2 106.3l1.1 -9.2M665.6 111.8L639.0 96.0M639.0 96.0l0.3 -9.3M642.9 98.3l0.1 -4.6M665.6 101.9L641.3 82.7M641.3 82.7l1.5 -9.2M644.9 85.5l1.5 -9.2M678.4 409.4L705.5 394.3M701.5 396.5l3.9 2.5M678.4 399.5L705.0 383.4M701.0 385.8l4.0 2.3M678.4 389.6L703.1 370.8M703.1 370.8l8.5 3.7M678.4 379.6L647.7 375.7M647.7 375.7l-3.5 -8.6M652.3 376.3l-1.7 -4.3M678.4 369.7L648.2 362.9M648.2 362.9l-2.6 -8.9M678.4 359.8L649.4 349.1M649.4 349.1l-1.4 -9.2M653.7 350.7l-0.7 -4.6M678.4 349.9L651.6 334.4M651.6 334.4l0.2 -9.3M655.6 336.7l0.1 -4.6M678.4 340.0L651.6 324.5M651.6 324.5l0.2 -9.3M655.6 326.8l0.1 -4.6M678.4 330.0L654.9 309.9M654.9 309.9l1.9 -9.1M658.4 312.8l0.9 -4.6M678.4 320.1L655.3 299.5M655.3 299.5l2.0 -9.1M658.7 302.6l1.0 -4.5M678.4 310.2L653.9 291.2M653.9 291.2l1.4 -9.2M657.6 294.0l0.7 -4.6M678.4 300.3L653.5 281.9M653.5 281.9l1.2 -9.2M657.2 284.6l0.6 -4.6M678.4 290.4L655.5 269.5M655.5 269.5l2.1 -9.0M658.9 272.6l1.1 -4.5M678.4 280.4L654.8 260.4M654.8 260.4l1.8 -9.1M658.3 263.4l0.9 -4.6M678.4 270.5L653.9 251.5M653.9 251.5l1.4 -9.2M678.4 260.6L652.7 243.3M652.7 243.3l0.8 -9.3M678.4 250.7L654.0 231.7M654.0 231.7l1.4 -9.2M657.6 234.5l0.7 -4.6M678.4 240.8L654.5 221.1M654.5 221.1l1.7 -9.1M678.4 230.8L652.6 213.8M652.6 213.8l0.7 -9.3M656.4 216.3l0.4 -4.6M678.4 220.9L655.0 200.6M655.0 200.6l1.9 -9.1M658.5 203.6l1.0 -4.5M678.4 211.0L655.8 189.8M655.8 189.8l2.3 -9.0M659.2 192.9l1.1 -4.5M678.4 201.1L656.5 179.2M656.5 179.2l2.6 -8.9M659.8 182.4l2.6 -8.9M678.4 191.2L657.0 168.8M657.0 168.8l2.8 -8.9M660.2 172.1l2.8 -8.9M678.4 181.2L657.2 158.6M657.2 158.6l2.8 -8.9M660.4 162.0l2.8 -8.9M678.4 171.3L658.8 147.3M658.8 147.3l3.4 -8.6M661.7 150.9l3.4 -8.6M678.4 161.4L656.9 139.1M656.9 139.1l2.7 -8.9M660.1 142.4l1.4 -4.4M678.4 151.5L654.6 131.7M654.6 131.7l1.7 -9.1M658.2 134.6l0.9 -4.6M678.4 141.6L655.3 120.9M655.3 120.9l2.1 -9.1M658.7 124.0l1.0 -4.5M678.4 131.6L653.4 113.4M653.4 113.4l1.1 -9.2M657.1 116.1l0.6 -4.6M678.4 121.7L651.5 106.3M651.5 106.3l0.1 -9.3M655.5 108.6l0.1 -4.6M678.4 111.8L652.7 94.5M652.7 94.5l0.8 -9.3M656.6 97.0l0.4 -4.6M678.4 101.9L653.8 83.1M653.8 83.1l1.3 -9.2M657.4 85.9l1.3 -9.2M691.2 409.4L718.9 395.3M714.8 397.4l3.9 2.6M691.2 399.5L719.2 386.2M719.2 386.2l7.6 5.4M691.2 389.6L716.2 371.1M716.2 371.1l8.5 3.8M691.2 379.6L660.5 375.8M660.5 375.8l-3.5 -8.6M665.0 376.4l-1.7 -4.3M691.2 369.7L661.0 363.0M661.0 363.0l-2.6 -8.9M665.5 364.0l-1.3 -4.5M691.2 359.8L663.0 347.0M663.0 347.0l-0.8 -9.3M667.2 348.9l-0.4 -4.6M691.2 349.9L663.3 336.4M663.3 336.4l-0.5 -9.3M667.5 338.4l-0.3 -4.6M691.2 340.0L666.4 321.5M666.4 321.5l1.2 -9.2M670.1 324.2l0.6 -4.6M691.2 330.0L670.0 307.5M670.0 307.5l2.8 -8.9M673.1 310.8l1.4 -4.4M691.2 320.1L668.0 299.6M668.0 299.6l2.0 -9.1M671.4 302.7l1.0 -4.5M691.2 310.2L667.3 290.6M667.3 290.6l1.7 -9.2M670.8 293.5l0.8 -4.6M691.2 300.3L667.8 280.0M667.8 280.0l1.9 -9.1M671.2 283.0l0.9 -4.6M691.2 290.4L666.5 271.7M666.5 271.7l1.3 -9.2M670.2 274.5l0.6 -4.6M691.2 280.4L666.3 262.1M666.3 262.1l1.2 -9.2M670.0 264.8l0.6 -4.6M691.2 270.5L665.3 253.6M665.3 253.6l0.7 -9.3M691.2 260.6L666.0 242.7M666.0 242.7l1.0 -9.2M691.2 250.7L665.0 234.2M665.0 234.2l0.5 -9.3M691.2 240.8L664.8 224.5M664.8 224.5l0.4 -9.3M668.7 227.0l0.2 -4.6M691.2 230.8L665.5 213.5M665.5 213.5l0.8 -9.3M669.3 216.1l0.4 -4.6M691.2 220.9L666.6 202.2M666.6 202.2l1.3 -9.2M670.2 205.0l0.7 -4.6M691.2 211.0L666.9 191.8M666.9 191.8l1.5 -9.2M670.5 194.7l0.7 -4.6M691.2 201.1L665.8 183.4M665.8 183.4l1.0 -9.3M669.6 186.0l1.0 -9.3M691.2 191.2L668.3 170.3M668.3 170.3l2.1 -9.0M671.7 173.4l2.1 -9.0M691.2 181.2L670.8 158.0M670.8 158.0l3.1 -8.8M673.8 161.4l1.6 -4.4M691.2 171.3L669.6 149.1M669.6 149.1l2.7 -8.9M672.8 152.4l1.3 -4.5M691.2 161.4L667.9 141.0M667.9 141.0l2.0 -9.1M671.4 144.0l1.0 -4.5M691.2 151.5L669.1 129.8M669.1 129.8l2.5 -9.0M672.4 133.0l1.2 -4.5M691.2 141.6L669.1 119.9M669.1 119.9l2.5 -9.0M672.4 123.1l1.2 -4.5M691.2 131.6L666.7 112.8M666.7 112.8l1.4 -9.2M670.3 115.6l0.7 -4.6M691.2 121.7L664.6 105.8M664.6 105.8l0.3 -9.3M668.6 108.2l0.1 -4.6M691.2 111.8L666.7 92.8M666.7 92.8l1.4 -9.2M670.4 95.6l0.7 -4.6M691.2 101.9L666.0 83.9M666.0 83.9l1.1 -9.2M669.8 86.5l0.5 -4.6M704.1 409.4L726.7 388.3M726.7 388.3l8.8 2.9M704.1 399.5L723.3 375.2M723.3 375.2l9.2 1.5M704.1 389.6L722.2 364.4M722.2 364.4l9.2 1.1M704.1 379.6L673.9 372.5M673.9 372.5l-2.5 -9.0M704.1 369.7L674.2 361.4M674.2 361.4l-2.2 -9.0M678.6 362.6l-1.1 -4.5M704.1 359.8L675.3 348.3M675.3 348.3l-1.2 -9.2M679.5 350.0l-0.6 -4.6M704.1 349.9L675.4 338.0M675.4 338.0l-1.1 -9.2M679.7 339.8l-0.5 -4.6M704.1 340.0L677.8 323.4M677.8 323.4l0.5 -9.3M681.7 325.9l0.3 -4.6M704.1 330.0L680.0 310.5M680.0 310.5l1.6 -9.2M683.5 313.4l0.8 -4.6M704.1 320.1L678.2 303.1M678.2 303.1l0.7 -9.3M682.0 305.6l0.4 -4.6M704.1 310.2L677.1 295.0M677.1 295.0l0.1 -9.3M704.1 300.3L677.8 283.8M677.8 283.8l0.5 -9.3M681.7 286.3l0.2 -4.6M704.1 290.4L676.1 276.9M676.1 276.9l-0.5 -9.3M704.1 280.4L675.1 269.5M675.1 269.5l-1.3 -9.2M704.1 270.5L676.3 256.6M676.3 256.6l-0.4 -9.3M680.4 258.7l-0.2 -4.6M704.1 260.6L677.2 245.2M677.2 245.2l0.1 -9.3M704.1 250.7L675.5 238.5M675.5 238.5l-1.0 -9.3M679.8 240.3l-0.5 -4.6M704.1 240.8L675.7 228.2M675.7 228.2l-0.8 -9.3M679.9 230.1l-0.4 -4.6M704.1 230.8L676.8 216.1M676.8 216.1l-0.1 -9.3M680.8 218.3l-0.1 -4.6M704.1 220.9L676.5 206.8M676.5 206.8l-0.3 -9.3M680.6 208.9l-0.2 -4.6M704.1 211.0L675.9 198.0M675.9 198.0l-0.7 -9.3M680.1 199.9l-0.7 -9.3M704.1 201.1L676.8 186.4M676.8 186.4l-0.1 -9.3M680.8 188.6l-0.1 -9.3M704.1 191.2L679.1 172.8M679.1 172.8l1.2 -9.2M682.8 175.5l0.6 -4.6M704.1 181.2L679.6 162.1M679.6 162.1l1.5 -9.2M683.3 165.0l0.7 -4.6M704.1 171.3L680.3 151.4M680.3 151.4l1.8 -9.1M683.8 154.3l1.8 -9.1M704.1 161.4L680.5 141.3M680.5 141.3l1.8 -9.1M684.0 144.3l0.9 -4.6M704.1 151.5L680.5 131.4M680.5 131.4l1.8 -9.1M684.0 134.4l1.8 -9.1M704.1 141.6L678.9 123.5M678.9 123.5l1.1 -9.2M682.6 126.1l0.5 -4.6M704.1 131.6L677.4 115.9M677.4 115.9l0.3 -9.3M681.3 118.2l0.1 -4.6M704.1 121.7L679.4 102.9M679.4 102.9l1.4 -9.2M683.1 105.7l0.7 -4.6M704.1 111.8L680.4 91.8M680.4 91.8l1.8 -9.1M683.9 94.8l0.9 -4.6M704.1 101.9L678.7 84.1M678.7 84.1l1.0 -9.2M682.5 86.7l0.5 -4.6M716.9 409.4L731.3 382.0M731.3 382.0l9.3 -0.2M716.9 399.5L727.3 370.3M727.3 370.3l9.2 -1.5M716.9 389.6L724.7 359.6M724.7 359.6l9.0 -2.3M716.9 379.6L688.3 367.5M688.3 367.5l-1.0 -9.3M692.6 369.3l-0.5 -4.6M716.9 369.7L688.4 357.3M688.4 357.3l-0.9 -9.3M692.7 359.2l-0.4 -4.6M716.9 359.8L688.1 348.3M688.1 348.3l-1.2 -9.2M692.4 350.0l-0.6 -4.6M716.9 349.9L688.2 338.0M688.2 338.0l-1.0 -9.2M692.5 339.8l-0.5 -4.6M716.9 340.0L689.6 325.2M689.6 325.2l-0.1 -9.3M693.7 327.4l-0.0 -4.6M716.9 330.0L689.0 316.5M689.0 316.5l-0.5 -9.3M716.9 320.1L688.1 308.5M688.1 308.5l-1.1 -9.2M692.4 310.2l-0.6 -4.6M716.9 310.2L688.4 297.8M688.4 297.8l-0.9 -9.3M716.9 300.3L688.6 287.6M688.6 287.6l-0.8 -9.3M716.9 290.4L687.1 281.8M687.1 281.8l-2.1 -9.1M716.9 280.4L686.3 275.4M686.3 275.4l-3.1 -8.8M716.9 270.5L686.7 263.4M686.7 263.4l-2.5 -9.0M716.9 260.6L687.3 251.4M687.3 251.4l-1.9 -9.1M716.9 250.7L687.1 242.0M687.1 242.0l-2.1 -9.1M691.5 243.3l-1.0 -4.5M716.9 240.8L686.6 234.1M686.6 234.1l-2.7 -8.9M691.1 235.1l-1.3 -4.5M716.9 230.8L688.0 219.5M688.0 219.5l-1.2 -9.2M692.3 221.2l-1.2 -9.2M716.9 220.9L687.3 211.7M687.3 211.7l-1.9 -9.1M691.6 213.1l-0.9 -4.6M716.9 211.0L687.6 200.6M687.6 200.6l-1.5 -9.2M692.0 202.2l-1.5 -9.2M716.9 201.1L688.9 187.7M688.9 187.7l-0.5 -9.3M693.1 189.7l-0.5 -9.3M716.9 191.2L689.6 176.4M689.6 176.4l-0.1 -9.3M693.6 178.6l-0.0 -4.6M716.9 181.2L689.8 166.1M689.8 166.1l0.0 -9.3M693.8 168.4l0.0 -9.3M716.9 171.3L689.1 157.6M689.1 157.6l-0.4 -9.3M693.2 159.6l-0.4 -9.3M716.9 161.4L689.9 146.1M689.9 146.1l0.1 -9.3M693.9 148.4l0.1 -9.3M716.9 151.5L690.5 135.2M690.5 135.2l0.4 -9.3M694.4 137.6l0.2 -4.6M716.9 141.6L690.4 125.4M690.4 125.4l0.4 -9.3M694.3 127.8l0.4 -9.3M716.9 131.6L690.1 116.1M690.1 116.1l0.2 -9.3M694.0 118.4l0.1 -4.6M716.9 121.7L692.0 103.2M692.0 103.2l1.2 -9.2M695.7 105.9l0.6 -4.6M716.9 111.8L693.1 91.9M693.1 91.9l1.8 -9.1M696.6 94.8l0.9 -4.6M716.9 101.9L690.5 85.6M690.5 85.6l0.4 -9.3M694.4 88.0l0.2 -4.6M729.7 409.4L745.9 383.0M745.9 383.0l9.3 0.4M729.7 399.5L741.9 371.0M741.9 371.0l9.3 -0.9M729.7 389.6L742.3 361.3M742.3 361.3l9.3 -0.8M740.4 365.5l4.6 -0.4M729.7 379.6L700.6 368.7M700.6 368.7l-1.4 -9.2M704.9 370.4l-0.7 -4.6M729.7 369.7L700.0 360.6M700.0 360.6l-1.9 -9.1M704.4 362.0l-1.0 -4.5M729.7 359.8L699.9 351.0M699.9 351.0l-2.0 -9.1M704.3 352.3l-1.0 -4.5M729.7 349.9L702.0 336.0M702.0 336.0l-0.4 -9.3M706.1 338.0l-0.2 -4.6M729.7 340.0L702.4 325.1M702.4 325.1l-0.1 -9.3M706.5 327.3l-0.0 -4.6M729.7 330.0L701.2 317.7M701.2 317.7l-0.9 -9.3M705.4 319.6l-0.5 -4.6M729.7 320.1L700.8 308.7M700.8 308.7l-1.2 -9.2M705.1 310.4l-0.6 -4.6M729.7 310.2L700.5 299.6M700.5 299.6l-1.4 -9.2M704.9 301.2l-0.7 -4.6M729.7 300.3L700.4 290.1M700.4 290.1l-1.6 -9.2M729.7 290.4L699.4 283.7M699.4 283.7l-2.6 -8.9M703.9 284.7l-1.3 -4.5M729.7 280.4L699.3 274.2M699.3 274.2l-2.8 -8.9M703.8 275.1l-1.4 -4.4M729.7 270.5L699.8 262.1M699.8 262.1l-2.1 -9.1M704.3 263.3l-1.1 -4.5M729.7 260.6L700.0 251.7M700.0 251.7l-2.0 -9.1M729.7 250.7L699.6 243.0M699.6 243.0l-2.4 -9.0M704.1 244.1l-1.2 -4.5M729.7 240.8L699.7 232.8M699.7 232.8l-2.3 -9.0M704.1 234.0l-1.1 -4.5M729.7 230.8L699.9 222.1M699.9 222.1l-2.0 -9.1M704.3 223.4l-2.0 -9.1M729.7 220.9L699.5 213.7M699.5 213.7l-2.5 -9.0M704.0 214.8l-2.5 -9.0M729.7 211.0L699.7 202.9M699.7 202.9l-2.2 -9.0M704.2 204.1l-2.2 -9.0M729.7 201.1L700.7 190.1M700.7 190.1l-1.3 -9.2M705.0 191.7l-1.3 -9.2M729.7 191.2L702.0 177.1M702.0 177.1l-0.3 -9.3M706.1 179.2l-0.2 -4.6M729.7 181.2L701.2 169.1M701.2 169.1l-1.0 -9.3M705.4 170.9l-1.0 -9.3M729.7 171.3L702.6 156.1M702.6 156.1l0.1 -9.3M706.6 158.4l0.1 -9.3M729.7 161.4L704.6 143.1M704.6 143.1l1.1 -9.2M708.3 145.8l0.6 -4.6M729.7 151.5L702.9 135.8M702.9 135.8l0.2 -9.3M706.9 138.2l0.2 -9.3M729.7 141.6L703.4 125.0M703.4 125.0l0.5 -9.3M707.3 127.5l0.3 -4.6M729.7 131.6L704.4 113.7M704.4 113.7l1.0 -9.2M708.1 116.4l0.5 -4.6M729.7 121.7L705.0 103.0M705.0 103.0l1.3 -9.2M708.6 105.7l0.7 -4.6M729.7 111.8L703.2 95.7M703.2 95.7l0.4 -9.3M707.1 98.1l0.2 -4.6M729.7 101.9L703.5 85.2M703.5 85.2l0.6 -9.3M707.4 87.7l0.3 -4.6M742.5 409.4L760.7 384.3M760.7 384.3l9.2 1.1M742.5 399.5L758.2 372.8M758.2 372.8l9.3 0.2M742.5 389.6L757.8 362.6M757.8 362.6l9.3 0.1M755.5 366.6l4.6 0.0M742.5 379.6L713.0 370.1M713.0 370.1l-1.8 -9.1M717.4 371.5l-0.9 -4.6M742.5 369.7L712.8 360.8M712.8 360.8l-2.0 -9.1M742.5 359.8L713.1 349.9M713.1 349.9l-1.7 -9.1M717.4 351.4l-0.8 -4.6M742.5 349.9L714.9 335.6M714.9 335.6l-0.3 -9.3M719.0 337.7l-0.1 -4.6M742.5 340.0L713.7 328.5M713.7 328.5l-1.2 -9.2M717.9 330.2l-0.6 -4.6M742.5 330.0L714.4 316.8M714.4 316.8l-0.6 -9.3M718.6 318.8l-0.3 -4.6M742.5 320.1L713.5 309.1M713.5 309.1l-1.3 -9.2M742.5 310.2L713.3 299.6M713.3 299.6l-1.5 -9.2M742.5 300.3L712.2 293.7M712.2 293.7l-2.7 -8.9M742.5 290.4L712.0 284.6M712.0 284.6l-2.9 -8.8M742.5 280.4L712.4 272.9M712.4 272.9l-2.4 -9.0M742.5 270.5L712.8 261.7M712.8 261.7l-2.0 -9.1M717.2 263.0l-1.0 -4.5M742.5 260.6L712.1 254.3M712.1 254.3l-2.7 -8.9M716.6 255.2l-1.4 -4.4M742.5 250.7L712.3 243.4M712.3 243.4l-2.5 -9.0M716.8 244.5l-1.2 -4.5M742.5 240.8L713.3 230.3M713.3 230.3l-1.5 -9.2M717.6 231.8l-0.7 -4.6M742.5 230.8L712.7 222.2M712.7 222.2l-2.1 -9.1M717.1 223.5l-1.0 -4.5M742.5 220.9L712.5 213.1M712.5 213.1l-2.3 -9.0M716.9 214.3l-2.3 -9.0M742.5 211.0L713.0 201.3M713.0 201.3l-1.7 -9.1M717.4 202.7l-1.7 -9.1M742.5 201.1L713.9 189.0M713.9 189.0l-1.0 -9.2M718.2 190.8l-1.0 -9.2M742.5 191.2L714.6 177.5M714.6 177.5l-0.5 -9.3M718.8 179.5l-0.2 -4.6M742.5 181.2L714.1 168.7M714.1 168.7l-0.8 -9.3M718.3 170.6l-0.8 -9.3M742.5 171.3L714.8 157.2M714.8 157.2l-0.3 -9.3M718.9 159.3l-0.3 -9.3M742.5 161.4L715.8 145.7M715.8 145.7l0.2 -9.3M719.7 148.0l0.1 -4.6M742.5 151.5L714.9 137.2M714.9 137.2l-0.3 -9.3M719.0 139.3l-0.1 -4.6M742.5 141.6L716.8 124.2M716.8 124.2l0.8 -9.3M720.6 126.8l0.8 -9.3M742.5 131.6L718.7 111.7M718.7 111.7l1.8 -9.1M722.2 114.7l0.9 -4.6M742.5 121.7L717.9 102.8M717.9 102.8l1.4 -9.2M721.6 105.6l0.7 -4.6M742.5 111.8L716.9 94.3M716.9 94.3l0.9 -9.3M720.7 96.9l0.4 -4.6M742.5 101.9L716.9 84.4M716.9 84.4l0.9 -9.3M720.7 87.0l0.4 -4.6M755.3 409.4L775.8 386.2M775.8 386.2l9.1 2.0M755.3 399.5L777.2 377.6M777.2 377.6l8.9 2.6M755.3 389.6L775.4 366.0M775.4 366.0l9.1 1.9M772.5 369.5l4.6 0.9M755.3 379.6L725.5 371.1M725.5 371.1l-2.1 -9.1M729.9 372.4l-1.0 -4.5M755.3 369.7L725.8 360.2M725.8 360.2l-1.8 -9.1M730.1 361.6l-0.9 -4.6M755.3 359.8L726.6 347.9M726.6 347.9l-1.1 -9.2M730.9 349.7l-0.5 -4.6M755.3 349.9L726.8 337.7M726.8 337.7l-0.9 -9.3M731.0 339.5l-0.5 -4.6M755.3 340.0L726.5 328.5M726.5 328.5l-1.2 -9.2M755.3 330.0L726.7 318.0M726.7 318.0l-1.0 -9.2M755.3 320.1L726.3 309.0M726.3 309.0l-1.3 -9.2M755.3 310.2L725.7 300.9M725.7 300.9l-1.9 -9.1M730.1 302.3l-0.9 -4.6M755.3 300.3L725.0 293.4M725.0 293.4l-2.6 -8.9M755.3 290.4L725.0 283.6M725.0 283.6l-2.6 -8.9M755.3 280.4L725.1 273.3M725.1 273.3l-2.5 -9.0M755.3 270.5L725.4 262.3M725.4 262.3l-2.2 -9.0M755.3 260.6L724.8 255.0M724.8 255.0l-3.0 -8.8M729.3 255.8l-1.5 -4.4M755.3 250.7L725.5 242.2M725.5 242.2l-2.1 -9.1M729.9 243.5l-1.1 -4.5M755.3 240.8L725.2 233.2M725.2 233.2l-2.4 -9.0M729.7 234.3l-1.2 -4.5M755.3 230.8L725.2 223.4M725.2 223.4l-2.4 -9.0M729.6 224.5l-2.4 -9.0M755.3 220.9L725.7 211.6M725.7 211.6l-1.8 -9.1M730.1 213.0l-1.8 -9.1M755.3 211.0L726.7 198.9M726.7 198.9l-1.0 -9.2M731.0 200.7l-1.0 -9.2M755.3 201.1L726.3 190.0M726.3 190.0l-1.3 -9.2M730.6 191.7l-1.3 -9.2M734.9 193.3l-0.7 -4.6M755.3 191.2L726.6 179.4M726.6 179.4l-1.1 -9.2M730.8 181.1l-1.1 -9.2M755.3 181.2L726.4 170.0M726.4 170.0l-1.3 -9.2M730.7 171.7l-1.3 -9.2M755.3 171.3L727.4 157.8M727.4 157.8l-0.5 -9.3M731.5 159.8l-0.5 -9.3M755.3 161.4L728.6 145.6M728.6 145.6l0.3 -9.3M732.5 148.0l0.3 -9.3M755.3 151.5L727.8 137.0M727.8 137.0l-0.2 -9.3M731.9 139.2l-0.1 -4.6M755.3 141.6L729.2 124.8M729.2 124.8l0.6 -9.3M733.0 127.3l0.6 -9.3M755.3 131.6L731.1 112.3M731.1 112.3l1.6 -9.2M734.7 115.1l0.8 -4.6M755.3 121.7L729.6 104.4M729.6 104.4l0.8 -9.3M733.4 107.0l0.8 -9.3M755.3 111.8L730.0 93.8M730.0 93.8l1.0 -9.2M733.8 96.5l0.5 -4.6M755.3 101.9L731.2 82.4M731.2 82.4l1.6 -9.2M734.7 85.3l0.8 -4.6M768.1 409.4L793.0 390.9M793.0 390.9l8.5 3.8M768.1 399.5L792.2 380.0M792.2 380.0l8.6 3.5M768.1 389.6L790.2 367.8M790.2 367.8l8.9 2.6M768.1 379.6L737.9 372.4M737.9 372.4l-2.5 -9.0M742.4 373.4l-1.2 -4.5M768.1 369.7L738.0 362.1M738.0 362.1l-2.4 -9.0M768.1 359.8L739.5 347.7M739.5 347.7l-1.0 -9.2M768.1 349.9L738.7 339.9M738.7 339.9l-1.6 -9.2M768.1 340.0L739.1 328.9M739.1 328.9l-1.3 -9.2M768.1 330.0L739.7 317.6M739.7 317.6l-0.9 -9.3M743.9 319.5l-0.4 -4.6M768.1 320.1L738.9 309.7M738.9 309.7l-1.5 -9.2M768.1 310.2L738.6 300.7M738.6 300.7l-1.8 -9.1M768.1 300.3L737.7 294.0M737.7 294.0l-2.8 -8.9M768.1 290.4L737.9 283.2M737.9 283.2l-2.5 -9.0M768.1 280.4L738.1 272.4M738.1 272.4l-2.2 -9.0M768.1 270.5L737.5 265.6M737.5 265.6l-3.1 -8.8M742.0 266.3l-1.6 -4.4M768.1 260.6L737.9 253.5M737.9 253.5l-2.5 -8.9M742.4 254.6l-1.3 -4.5M768.1 250.7L737.9 243.4M737.9 243.4l-2.5 -9.0M742.4 244.5l-1.2 -4.5M768.1 240.8L738.4 231.8M738.4 231.8l-2.0 -9.1M742.8 233.1l-1.0 -4.5M768.1 230.8L738.2 222.4M738.2 222.4l-2.1 -9.1M742.7 223.7l-2.1 -9.1M768.1 220.9L738.3 212.4M738.3 212.4l-2.1 -9.1M742.7 213.7l-2.1 -9.1M768.1 211.0L738.8 200.8M738.8 200.8l-1.6 -9.2M743.1 202.3l-1.6 -9.2M768.1 201.1L739.1 190.1M739.1 190.1l-1.3 -9.2M743.4 191.8l-1.3 -9.2M747.7 193.4l-0.7 -4.6M768.1 191.2L738.8 180.8M738.8 180.8l-1.5 -9.2M743.2 182.4l-1.5 -9.2M768.1 181.2L740.6 166.9M740.6 166.9l-0.2 -9.3M744.7 169.0l-0.2 -9.3M768.1 171.3L739.6 159.0M739.6 159.0l-0.9 -9.3M743.9 160.8l-0.9 -9.3M768.1 161.4L740.0 148.1M740.0 148.1l-0.6 -9.3M744.2 150.1l-0.6 -9.3M768.1 151.5L741.5 135.5M741.5 135.5l0.3 -9.3M745.5 137.9l0.3 -9.3M768.1 141.6L742.5 124.0M742.5 124.0l0.9 -9.3M746.3 126.6l0.9 -9.3M768.1 131.6L742.8 113.7M742.8 113.7l1.0 -9.2M746.5 116.4l1.0 -9.2M768.1 121.7L742.1 104.9M742.1 104.9l0.6 -9.3M745.9 107.4l0.6 -9.3M768.1 111.8L743.2 93.3M743.2 93.3l1.3 -9.2M746.9 96.0l1.3 -9.2M768.1 101.9L743.6 82.9M743.6 82.9l1.4 -9.2M747.2 85.7l0.7 -4.6M780.9 409.4L808.6 395.5M808.6 395.5l7.7 5.3M780.9 399.5L808.0 384.5M808.0 384.5l7.9 4.9M804.0 386.7l3.9 2.5M780.9 389.6L804.0 368.9M804.0 368.9l8.8 3.1M780.9 379.6L750.4 373.7M750.4 373.7l-2.9 -8.8M755.0 374.6l-1.4 -4.4M780.9 369.7L750.9 361.8M750.9 361.8l-2.3 -9.0M780.9 359.8L751.9 348.8M751.9 348.8l-1.3 -9.2M756.2 350.4l-0.7 -4.6M780.9 349.9L750.7 342.8M750.7 342.8l-2.5 -8.9M755.2 343.9l-1.3 -4.5M780.9 340.0L751.6 329.7M751.6 329.7l-1.6 -9.2M780.9 330.0L751.6 319.8M751.6 319.8l-1.6 -9.2M780.9 320.1L751.4 310.4M751.4 310.4l-1.7 -9.1M780.9 310.2L751.2 301.1M751.2 301.1l-1.9 -9.1M780.9 300.3L751.2 291.4M751.2 291.4l-2.0 -9.1M780.9 290.4L750.7 283.2M750.7 283.2l-2.5 -9.0M780.9 280.4L750.2 276.2M750.2 276.2l-3.4 -8.7M754.7 276.8l-1.7 -4.3M780.9 270.5L750.2 266.3M750.2 266.3l-3.4 -8.7M780.9 260.6L750.5 254.4M750.5 254.4l-2.8 -8.9M755.0 255.3l-1.4 -4.4M780.9 250.7L751.1 242.1M751.1 242.1l-2.1 -9.1M755.5 243.4l-1.0 -4.5M780.9 240.8L750.5 234.7M750.5 234.7l-2.8 -8.9M755.0 235.6l-1.4 -4.4M780.9 230.8L750.3 225.7M750.3 225.7l-3.1 -8.8M754.8 226.5l-3.1 -8.8M780.9 220.9L751.8 210.1M751.8 210.1l-1.4 -9.2M756.1 211.7l-1.4 -9.2M780.9 211.0L751.9 200.1M751.9 200.1l-1.4 -9.2M756.2 201.7l-1.4 -9.2M780.9 201.1L750.8 193.4M750.8 193.4l-2.3 -9.0M755.3 194.5l-2.3 -9.0M780.9 191.2L751.8 180.4M751.8 180.4l-1.4 -9.2M756.1 182.0l-1.4 -9.2M780.9 181.2L752.7 168.3M752.7 168.3l-0.7 -9.3M756.9 170.3l-0.7 -9.3M780.9 171.3L752.7 158.5M752.7 158.5l-0.7 -9.3M756.8 160.4l-0.7 -9.3M780.9 161.4L753.1 147.6M753.1 147.6l-0.4 -9.3M757.2 149.7l-0.4 -9.3M780.9 151.5L754.9 134.6M754.9 134.6l0.7 -9.3M758.8 137.1l0.7 -9.3M780.9 141.6L754.3 125.6M754.3 125.6l0.3 -9.3M758.3 128.0l0.3 -9.3M780.9 131.6L755.0 114.6M755.0 114.6l0.7 -9.3M758.8 117.1l0.7 -9.3M780.9 121.7L755.1 104.6M755.1 104.6l0.7 -9.3M758.9 107.1l0.4 -4.6M780.9 111.8L755.7 93.7M755.7 93.7l1.1 -9.2M759.5 96.4l1.1 -9.2M780.9 101.9L755.8 83.7M755.8 83.7l1.1 -9.2M759.5 86.4l1.1 -9.2M793.7 409.4L823.3 400.3M823.3 400.3l6.7 6.4M793.7 399.5L821.6 386.1M821.6 386.1l7.6 5.4M817.5 388.1l3.8 2.7M793.7 389.6L819.3 372.2M819.3 372.2l8.3 4.2M815.5 374.7l4.1 2.1M793.7 379.6L763.2 373.8M763.2 373.8l-2.9 -8.8M793.7 369.7L764.2 360.2M764.2 360.2l-1.8 -9.1M793.7 359.8L764.1 350.4M764.1 350.4l-1.8 -9.1M793.7 349.9L763.7 342.1M763.7 342.1l-2.3 -9.0M793.7 340.0L764.8 328.8M764.8 328.8l-1.3 -9.2M793.7 330.0L765.1 318.1M765.1 318.1l-1.0 -9.2M793.7 320.1L764.0 311.3M764.0 311.3l-2.0 -9.1M793.7 310.2L763.3 303.8M763.3 303.8l-2.7 -8.9M793.7 300.3L764.2 290.8M764.2 290.8l-1.8 -9.1M793.7 290.4L763.9 281.7M763.9 281.7l-2.0 -9.1M793.7 280.4L762.9 276.8M762.9 276.8l-3.5 -8.6M793.7 270.5L763.4 263.7M763.4 263.7l-2.6 -8.9M767.9 264.7l-1.3 -4.5M793.7 260.6L763.5 253.5M763.5 253.5l-2.5 -8.9M768.0 254.6l-1.3 -4.5M793.7 250.7L763.1 245.5M763.1 245.5l-3.1 -8.8M767.6 246.3l-3.1 -8.8M793.7 240.8L763.3 234.8M763.3 234.8l-2.8 -8.9M767.8 235.6l-1.4 -4.4M793.7 230.8L763.3 224.9M763.3 224.9l-2.9 -8.8M767.8 225.8l-2.9 -8.8M793.7 220.9L763.6 213.4M763.6 213.4l-2.4 -9.0M768.1 214.5l-2.4 -9.0M772.5 215.6l-1.2 -4.5M793.7 211.0L763.6 203.7M763.6 203.7l-2.5 -9.0M768.0 204.8l-2.5 -9.0M793.7 201.1L763.9 192.3M763.9 192.3l-2.0 -9.1M768.4 193.6l-2.0 -9.1M772.8 194.9l-1.0 -4.5M793.7 191.2L764.9 179.7M764.9 179.7l-1.2 -9.2M769.2 181.4l-1.2 -9.2M793.7 181.2L765.8 167.7M765.8 167.7l-0.5 -9.3M769.9 169.7l-0.5 -9.3M793.7 171.3L765.2 159.0M765.2 159.0l-0.9 -9.3M769.5 160.8l-0.9 -9.3M793.7 161.4L766.0 147.4M766.0 147.4l-0.3 -9.3M770.1 149.5l-0.3 -9.3M774.2 151.5l-0.2 -4.6M793.7 151.5L766.9 135.9M766.9 135.9l0.2 -9.3M770.9 138.2l0.2 -9.3M793.7 141.6L767.1 125.6M767.1 125.6l0.3 -9.3M771.1 127.9l0.3 -9.3M793.7 131.6L766.7 116.3M766.7 116.3l0.1 -9.3M770.7 118.6l0.1 -9.3M793.7 121.7L767.4 105.3M767.4 105.3l0.5 -9.3M771.3 107.7l0.5 -9.3M793.7 111.8L769.7 92.1M769.7 92.1l1.7 -9.1M773.3 95.0l1.7 -9.1M793.7 101.9L768.8 83.4M768.8 83.4l1.2 -9.2M772.5 86.2l0.6 -4.6M806.5 409.4L781.6 390.9M781.6 390.9l1.2 -9.2M806.5 399.5L781.2 381.6M781.2 381.6l1.0 -9.2M784.9 384.3l0.5 -4.6M806.5 389.6L781.3 371.4M781.3 371.4l1.1 -9.2M806.5 379.6L776.0 374.1M776.0 374.1l-3.0 -8.8M806.5 369.7L776.6 361.3M776.6 361.3l-2.1 -9.1M806.5 359.8L776.4 352.2M776.4 352.2l-2.4 -9.0M806.5 349.9L776.3 343.0M776.3 343.0l-2.6 -8.9M806.5 340.0L777.0 330.5M777.0 330.5l-1.8 -9.1M806.5 330.0L776.3 323.0M776.3 323.0l-2.5 -8.9M806.5 320.1L776.0 314.4M776.0 314.4l-2.9 -8.8M806.5 310.2L776.7 301.5M776.7 301.5l-2.0 -9.1M806.5 300.3L777.1 290.5M777.1 290.5l-1.7 -9.1M806.5 290.4L776.1 284.0M776.1 284.0l-2.7 -8.9M780.6 284.9l-1.4 -4.4M806.5 280.4L775.8 276.0M775.8 276.0l-3.3 -8.7M780.4 276.7l-1.7 -4.3M806.5 270.5L776.3 263.2M776.3 263.2l-2.5 -9.0M806.5 260.6L776.1 254.5M776.1 254.5l-2.8 -8.9M780.6 255.4l-1.4 -4.4M806.5 250.7L775.7 247.1M775.7 247.1l-3.5 -8.6M780.3 247.7l-3.5 -8.6M806.5 240.8L775.8 236.6M775.8 236.6l-3.4 -8.7M780.3 237.2l-3.4 -8.7M806.5 230.8L776.3 223.6M776.3 223.6l-2.5 -9.0M780.8 224.7l-2.5 -9.0M806.5 220.9L776.6 212.8M776.6 212.8l-2.2 -9.0M781.0 214.0l-2.2 -9.0M806.5 211.0L776.3 204.0M776.3 204.0l-2.5 -8.9M780.8 205.0l-2.5 -8.9M785.3 206.1l-1.3 -4.5M806.5 201.1L776.9 191.8M776.9 191.8l-1.9 -9.1M781.3 193.2l-1.9 -9.1M785.7 194.6l-0.9 -4.6M806.5 191.2L777.0 181.6M777.0 181.6l-1.8 -9.1M781.4 183.0l-1.8 -9.1M785.7 184.4l-0.9 -4.6M806.5 181.2L776.9 172.1M776.9 172.1l-1.9 -9.1M781.3 173.4l-1.9 -9.1M785.7 174.8l-1.0 -4.6M806.5 171.3L776.9 162.1M776.9 162.1l-1.9 -9.1M781.3 163.5l-1.9 -9.1M806.5 161.4L778.4 148.3M778.4 148.3l-0.7 -9.3M782.6 150.3l-0.7 -9.3M806.5 151.5L779.9 135.5M779.9 135.5l0.3 -9.3M783.8 137.9l0.3 -9.3M806.5 141.6L778.7 127.7M778.7 127.7l-0.4 -9.3M782.9 129.8l-0.4 -9.3M787.0 131.8l-0.2 -4.6M806.5 131.6L779.7 116.0M779.7 116.0l0.2 -9.3M783.7 118.3l0.2 -9.3M806.5 121.7L782.3 102.3M782.3 102.3l1.6 -9.2M785.9 105.2l1.6 -9.2M806.5 111.8L780.7 94.6M780.7 94.6l0.8 -9.3M784.5 97.1l0.8 -9.3M806.5 101.9L781.5 83.5M781.5 83.5l1.2 -9.2M785.2 86.2l1.2 -9.2M819.3 409.4L847.8 397.2M847.8 397.2l7.3 5.7M819.3 409.4L792.5 393.8M792.5 393.8l0.2 -9.3M819.3 399.5L846.5 384.6M846.5 384.6l7.9 5.0M819.3 399.5L792.7 383.5M792.7 383.5l0.3 -9.3M819.3 389.6L847.1 375.9M847.1 375.9l7.6 5.3M819.3 389.6L793.2 372.9M793.2 372.9l0.6 -9.3M819.3 379.6L847.8 367.4M847.8 367.4l7.4 5.7M843.5 369.2l3.7 2.8M819.3 379.6L789.0 372.9M789.0 372.9l-2.6 -8.9M793.5 373.9l-1.3 -4.5M819.3 369.7L846.7 355.2M846.7 355.2l7.8 5.1M842.6 357.4l3.9 2.5M819.3 369.7L788.9 363.4M788.9 363.4l-2.7 -8.9M793.4 364.3l-1.4 -4.4M819.3 359.8L846.8 345.5M846.8 345.5l7.7 5.1M819.3 359.8L788.7 355.0M788.7 355.0l-3.2 -8.7M819.3 349.9L846.6 335.1M846.6 335.1l7.8 5.0M819.3 349.9L788.9 343.5M788.9 343.5l-2.7 -8.9M819.3 340.0L847.1 326.2M847.1 326.2l7.7 5.3M819.3 340.0L790.1 329.5M790.1 329.5l-1.5 -9.2M819.3 330.0L845.8 314.0M845.8 314.0l8.1 4.6M819.3 330.0L789.3 322.2M789.3 322.2l-2.3 -9.0M819.3 320.1L833.5 292.5M833.5 292.5l9.3 -0.3M819.3 310.2L816.7 279.3M816.7 279.3l7.7 -5.2M819.3 300.3L802.4 274.3M802.4 274.3l4.4 -8.2M819.3 290.4L789.9 280.5M789.9 280.5l-1.7 -9.1M819.3 280.4L790.0 270.3M790.0 270.3l-1.6 -9.2M819.3 270.5L790.1 260.1M790.1 260.1l-1.5 -9.2M794.4 261.6l-0.8 -4.6M819.3 260.6L789.4 252.4M789.4 252.4l-2.2 -9.0M793.8 253.6l-1.1 -4.5M819.3 250.7L788.8 245.0M788.8 245.0l-2.9 -8.8M793.3 245.8l-1.5 -4.4M819.3 240.8L788.9 234.7M788.9 234.7l-2.8 -8.9M793.4 235.6l-1.4 -4.4M819.3 230.8L789.1 223.9M789.1 223.9l-2.6 -8.9M793.6 224.9l-2.6 -8.9M819.3 220.9L789.2 213.6M789.2 213.6l-2.5 -9.0M793.6 214.7l-2.5 -9.0M819.3 211.0L789.0 204.6M789.0 204.6l-2.7 -8.9M793.5 205.5l-2.7 -8.9M819.3 201.1L789.6 192.3M789.6 192.3l-2.0 -9.1M794.0 193.6l-2.0 -9.1M798.4 194.9l-1.0 -4.5M819.3 191.2L789.9 181.2M789.9 181.2l-1.7 -9.2M794.3 182.7l-1.7 -9.2M798.6 184.1l-0.8 -4.6M819.3 181.2L790.4 169.9M790.4 169.9l-1.2 -9.2M794.7 171.6l-1.2 -9.2M799.0 173.2l-0.6 -4.6M819.3 171.3L790.3 160.2M790.3 160.2l-1.3 -9.2M794.6 161.9l-1.3 -9.2M798.9 163.5l-0.6 -4.6M819.3 161.4L792.2 146.3M792.2 146.3l0.0 -9.3M796.2 148.5l0.0 -9.3M800.2 150.8l0.0 -4.6M819.3 151.5L792.3 136.2M792.3 136.2l0.1 -9.3M796.3 138.5l0.1 -9.3M800.3 140.7l0.0 -4.6M819.3 141.6L791.3 128.1M791.3 128.1l-0.5 -9.3M795.5 130.1l-0.5 -9.3M819.3 131.6L794.1 113.5M794.1 113.5l1.1 -9.2M797.9 116.2l1.1 -9.2M801.6 118.9l0.6 -4.6M819.3 121.7L793.4 104.6M793.4 104.6l0.7 -9.3M797.3 107.1l0.7 -9.3M819.3 111.8L793.3 94.9M793.3 94.9l0.6 -9.3M797.1 97.4l0.6 -9.3M819.3 101.9L794.6 83.2M794.6 83.2l1.3 -9.2M798.2 85.9l1.3 -9.2M832.1 409.4L860.7 397.5M860.7 397.5l7.3 5.8M832.1 399.5L860.7 387.5M860.7 387.5l7.3 5.8M856.4 389.3l3.7 2.9M832.1 389.6L861.4 379.6M861.4 379.6l6.9 6.3M857.1 381.1l3.4 3.1M832.1 379.6L861.2 369.1M861.2 369.1l7.0 6.1M856.9 370.6l3.5 3.1M832.1 369.7L860.0 356.3M860.0 356.3l7.6 5.4M832.1 359.8L860.3 347.0M860.3 347.0l7.5 5.5M832.1 349.9L860.7 337.9M860.7 337.9l7.3 5.8M832.1 340.0L859.9 326.3M859.9 326.3l7.6 5.3M832.1 330.0L858.7 314.2M858.7 314.2l8.0 4.7M832.1 320.1L847.7 293.3M847.7 293.3l9.3 0.2M832.1 310.2L829.4 279.3M829.4 279.3l7.7 -5.2M832.1 300.3L811.9 276.8M811.9 276.8l3.2 -8.7M832.1 290.4L802.5 281.0M802.5 281.0l-1.8 -9.1M832.1 280.4L802.8 270.3M802.8 270.3l-1.6 -9.2M807.1 271.8l-0.8 -4.6M832.1 270.5L802.6 260.9M802.6 260.9l-1.8 -9.1M807.0 262.4l-0.9 -4.6M832.1 260.6L801.5 255.4M801.5 255.4l-3.1 -8.8M806.1 256.1l-1.5 -4.4M832.1 250.7L801.6 244.8M801.6 244.8l-2.9 -8.8M806.2 245.7l-2.9 -8.8M832.1 240.8L802.4 231.9M802.4 231.9l-2.0 -9.1M806.8 233.2l-2.0 -9.1M832.1 230.8L801.8 224.2M801.8 224.2l-2.7 -8.9M806.3 225.2l-2.7 -8.9M832.1 220.9L801.8 214.3M801.8 214.3l-2.7 -8.9M806.3 215.3l-2.7 -8.9M810.8 216.3l-1.3 -4.5M832.1 211.0L802.0 203.5M802.0 203.5l-2.4 -9.0M806.5 204.6l-2.4 -9.0M810.9 205.8l-1.2 -4.5M832.1 201.1L803.3 189.7M803.3 189.7l-1.2 -9.2M807.5 191.4l-1.2 -9.2M811.8 193.1l-0.6 -4.6M832.1 191.2L802.1 183.5M802.1 183.5l-2.4 -9.0M806.5 184.6l-2.4 -9.0M811.0 185.8l-1.2 -4.5M832.1 181.2L802.1 173.4M802.1 173.4l-2.3 -9.0M806.5 174.6l-2.3 -9.0M811.0 175.8l-1.2 -4.5M832.1 171.3L804.1 158.0M804.1 158.0l-0.6 -9.3M808.3 160.0l-0.6 -9.3M812.4 161.9l-0.3 -4.6M832.1 161.4L804.6 147.1M804.6 147.1l-0.3 -9.3M808.7 149.2l-0.3 -9.3M812.7 151.4l-0.1 -4.6M832.1 151.5L803.9 138.6M803.9 138.6l-0.7 -9.3M808.1 140.5l-0.7 -9.3M832.1 141.6L804.6 127.1M804.6 127.1l-0.2 -9.3M808.7 129.3l-0.2 -9.3M812.8 131.4l-0.1 -4.6M832.1 131.6L807.0 113.4M807.0 113.4l1.1 -9.2M810.7 116.1l1.1 -9.2M832.1 121.7L805.8 105.3M805.8 105.3l0.5 -9.3M809.7 107.7l0.5 -9.3M832.1 111.8L806.4 94.5M806.4 94.5l0.8 -9.3M810.2 97.0l0.8 -9.3M832.1 101.9L807.3 83.3M807.3 83.3l1.3 -9.2M811.0 86.1l1.3 -9.2M844.9 409.4L872.5 395.3M872.5 395.3l7.7 5.2M844.9 399.5L872.9 386.1M872.9 386.1l7.6 5.4M868.7 388.1l3.8 2.7M844.9 389.6L873.5 377.6M873.5 377.6l7.3 5.8M844.9 379.6L873.8 368.5M873.8 368.5l7.1 6.0M844.9 369.7L872.2 355.1M872.2 355.1l7.8 5.0M844.9 359.8L873.2 347.2M873.2 347.2l7.4 5.6M844.9 349.9L872.5 335.8M872.5 335.8l7.7 5.2M844.9 340.0L872.0 324.9M872.0 324.9l7.9 4.9M844.9 330.0L871.6 314.2M871.6 314.2l8.0 4.7M844.9 320.1L860.4 293.3M860.4 293.3l9.3 0.2M844.9 310.2L842.1 279.3M842.1 279.3l7.7 -5.2M844.9 300.3L823.8 277.5M823.8 277.5l2.9 -8.8M844.9 290.4L815.7 280.1M815.7 280.1l-1.6 -9.2M820.0 281.6l-0.8 -4.6M844.9 280.4L815.5 270.7M815.5 270.7l-1.7 -9.1M819.8 272.2l-0.9 -4.6M844.9 270.5L814.6 264.2M814.6 264.2l-2.7 -8.9M819.1 265.1l-1.4 -4.4M844.9 260.6L814.6 253.8M814.6 253.8l-2.6 -8.9M819.1 254.8l-1.3 -4.5M844.9 250.7L814.4 245.2M814.4 245.2l-3.0 -8.8M818.9 246.0l-3.0 -8.8M844.9 240.8L815.1 232.1M815.1 232.1l-2.1 -9.1M819.5 233.4l-2.1 -9.1M844.9 230.8L814.2 226.5M814.2 226.5l-3.3 -8.7M818.7 227.2l-3.3 -8.7M844.9 220.9L814.5 214.7M814.5 214.7l-2.8 -8.9M819.0 215.6l-2.8 -8.9M823.5 216.5l-1.4 -4.4M844.9 211.0L815.1 202.4M815.1 202.4l-2.1 -9.1M819.5 203.7l-2.1 -9.1M823.9 205.0l-1.0 -4.5M844.9 201.1L815.6 191.0M815.6 191.0l-1.6 -9.2M819.9 192.5l-1.6 -9.2M824.3 194.0l-0.8 -4.6M844.9 191.2L815.1 182.4M815.1 182.4l-2.0 -9.1M819.6 183.7l-2.0 -9.1M824.0 185.0l-1.0 -4.5M844.9 181.2L816.2 169.4M816.2 169.4l-1.1 -9.2M820.5 171.2l-1.1 -9.2M824.7 172.9l-0.5 -4.6M844.9 171.3L816.5 158.9M816.5 158.9l-0.9 -9.3M820.7 160.8l-0.9 -9.3M824.9 162.6l-0.4 -4.6M844.9 161.4L816.1 150.0M816.1 150.0l-1.2 -9.2M820.4 151.7l-1.2 -9.2M824.6 153.4l-0.6 -4.6M844.9 151.5L817.1 137.7M817.1 137.7l-0.4 -9.3M821.2 139.8l-0.4 -9.3M825.4 141.8l-0.2 -4.6M844.9 141.6L818.2 125.8M818.2 125.8l0.2 -9.3M822.1 128.2l0.2 -9.3M826.1 130.5l0.1 -4.6M844.9 131.6L820.5 112.5M820.5 112.5l1.5 -9.2M824.1 115.4l1.5 -9.2M827.7 118.2l0.7 -4.6M844.9 121.7L819.4 104.1M819.4 104.1l0.9 -9.3M823.1 106.8l0.9 -9.3M844.9 111.8L818.5 95.5M818.5 95.5l0.4 -9.3M822.4 97.9l0.4 -9.3M844.9 101.9L821.5 81.6M821.5 81.6l1.9 -9.1M824.9 84.6l1.9 -9.1M828.4 87.6l1.0 -4.5M857.7 409.4L885.7 396.2M885.7 396.2l7.5 5.4M857.7 399.5L887.0 389.3M887.0 389.3l6.9 6.2M857.7 389.6L886.4 377.9M886.4 377.9l7.2 5.8M857.7 379.6L885.9 366.7M885.9 366.7l7.5 5.5M857.7 369.7L886.3 357.7M886.3 357.7l7.3 5.8M857.7 359.8L886.1 347.4M886.1 347.4l7.4 5.6M857.7 349.9L885.7 336.5M885.7 336.5l7.6 5.4M857.7 340.0L884.1 323.7M884.1 323.7l8.1 4.6M857.7 330.0L883.4 312.7M883.4 312.7l8.3 4.2M857.7 320.1L872.5 292.9M872.5 292.9l9.3 -0.1M857.7 310.2L852.5 279.6M852.5 279.6l7.3 -5.8M857.7 300.3L837.8 276.5M837.8 276.5l3.3 -8.7M857.7 290.4L829.3 277.8M829.3 277.8l-0.8 -9.3M857.7 280.4L828.0 271.6M828.0 271.6l-2.0 -9.1M832.4 272.9l-1.0 -4.5M857.7 270.5L827.8 262.2M827.8 262.2l-2.2 -9.0M832.3 263.5l-1.1 -4.5M857.7 260.6L827.5 253.5M827.5 253.5l-2.5 -8.9M832.0 254.6l-1.3 -4.5M857.7 250.7L827.3 244.7M827.3 244.7l-2.9 -8.8M831.8 245.6l-1.4 -4.4M857.7 240.8L827.2 235.3M827.2 235.3l-3.0 -8.8M831.7 236.1l-3.0 -8.8M857.7 230.8L827.5 223.7M827.5 223.7l-2.5 -9.0M832.0 224.8l-2.5 -9.0M836.5 225.8l-1.3 -4.5M857.7 220.9L827.4 214.6M827.4 214.6l-2.7 -8.9M831.9 215.5l-2.7 -8.9M857.7 211.0L828.7 200.1M828.7 200.1l-1.4 -9.2M833.0 201.7l-1.4 -9.2M857.7 201.1L827.7 193.3M827.7 193.3l-2.3 -9.0M832.1 194.4l-2.3 -9.0M836.6 195.6l-1.2 -4.5M857.7 191.2L827.6 183.9M827.6 183.9l-2.5 -9.0M832.0 185.0l-2.5 -9.0M836.5 186.0l-1.2 -4.5M857.7 181.2L828.8 170.1M828.8 170.1l-1.3 -9.2M833.0 171.8l-1.3 -9.2M837.3 173.4l-0.6 -4.6M857.7 171.3L830.1 157.2M830.1 157.2l-0.3 -9.3M834.2 159.3l-0.3 -9.3M838.3 161.4l-0.2 -4.6M857.7 161.4L828.7 150.4M828.7 150.4l-1.3 -9.2M833.0 152.1l-1.3 -9.2M837.3 153.7l-0.7 -4.6M857.7 151.5L829.8 138.0M829.8 138.0l-0.5 -9.3M833.9 140.0l-0.5 -9.3M838.1 142.0l-0.3 -4.6M857.7 141.6L831.8 124.5M831.8 124.5l0.7 -9.3M835.7 127.0l0.7 -9.3M839.5 129.5l0.4 -4.6M857.7 131.6L831.5 115.0M831.5 115.0l0.6 -9.3M835.4 117.5l0.6 -9.3M857.7 121.7L831.8 104.7M831.8 104.7l0.7 -9.3M835.6 107.2l0.7 -9.3M839.5 109.7l0.4 -4.6M857.7 111.8L832.4 93.9M832.4 93.9l1.0 -9.2M836.2 96.5l1.0 -9.2M839.9 99.2l0.5 -4.6M857.7 101.9L834.0 81.8M834.0 81.8l1.8 -9.1M837.5 84.8l1.8 -9.1M870.5 409.4L899.5 398.5M899.5 398.5l7.1 6.0M895.2 400.1l3.5 3.0M870.5 399.5L899.9 389.7M899.9 389.7l6.8 6.3M870.5 389.6L899.2 377.9M899.2 377.9l7.2 5.8M870.5 379.6L899.0 367.4M899.0 367.4l7.4 5.7M870.5 369.7L899.6 359.0M899.6 359.0l7.0 6.1M870.5 359.8L898.4 346.2M898.4 346.2l7.6 5.3M870.5 349.9L896.5 332.9M892.6 335.5l4.1 2.2M870.5 340.0L895.4 321.5M895.4 321.5l8.5 3.9M870.5 330.0L897.1 314.1M897.1 314.1l8.0 4.7M870.5 320.1L883.0 291.8M883.0 291.8l9.3 -0.8M870.5 310.2L863.7 280.0M863.7 280.0l6.9 -6.2M870.5 300.3L851.5 275.8M851.5 275.8l3.7 -8.5M854.3 279.4l1.8 -4.3M870.5 290.4L842.1 278.0M842.1 278.0l-0.9 -9.3M846.3 279.9l-0.5 -4.6M870.5 280.4L841.2 270.4M841.2 270.4l-1.6 -9.2M845.5 271.9l-0.8 -4.6M870.5 270.5L840.7 262.1M840.7 262.1l-2.1 -9.1M845.1 263.4l-1.1 -4.5M870.5 260.6L840.2 253.8M840.2 253.8l-2.6 -8.9M844.7 254.8l-1.3 -4.5M870.5 250.7L840.4 243.1M840.4 243.1l-2.4 -9.0M844.9 244.2l-2.4 -9.0M870.5 240.8L839.8 236.8M839.8 236.8l-3.4 -8.6M844.3 237.4l-3.4 -8.6M870.5 230.8L840.1 224.8M840.1 224.8l-2.9 -8.9M844.6 225.7l-2.9 -8.9M870.5 220.9L840.9 211.8M840.9 211.8l-1.9 -9.1M845.3 213.2l-1.9 -9.1M849.7 214.5l-1.0 -4.5M870.5 211.0L840.4 203.8M840.4 203.8l-2.5 -9.0M844.8 204.9l-2.5 -9.0M849.3 205.9l-1.2 -4.5M870.5 201.1L840.1 195.0M840.1 195.0l-2.8 -8.9M844.6 195.9l-2.8 -8.9M849.1 196.8l-1.4 -4.4M870.5 191.2L841.0 181.5M841.0 181.5l-1.8 -9.1M845.4 183.0l-1.8 -9.1M849.8 184.4l-0.9 -4.6M870.5 181.2L842.2 168.7M842.2 168.7l-0.8 -9.3M846.4 170.5l-0.8 -9.3M850.6 172.4l-0.4 -4.6M870.5 171.3L841.6 160.2M841.6 160.2l-1.3 -9.2M845.9 161.8l-1.3 -9.2M850.2 163.5l-0.6 -4.6M870.5 161.4L841.5 150.4M841.5 150.4l-1.3 -9.2M845.8 152.1l-1.3 -9.2M850.1 153.7l-0.7 -4.6M870.5 151.5L843.8 135.8M843.8 135.8l0.2 -9.3M847.7 138.1l0.2 -9.3M851.7 140.5l0.1 -4.6M870.5 141.6L843.7 126.0M843.7 126.0l0.2 -9.3M847.6 128.4l0.2 -9.3M851.6 130.7l0.1 -4.6M870.5 131.6L844.6 114.6M844.6 114.6l0.7 -9.3M848.4 117.1l0.7 -9.3M852.3 119.7l0.4 -4.6M870.5 121.7L845.1 104.0M845.1 104.0l1.0 -9.3M848.9 106.6l1.0 -9.3M852.6 109.2l0.5 -4.6M870.5 111.8L846.3 92.5M846.3 92.5l1.6 -9.2M849.9 95.3l1.6 -9.2M853.5 98.2l0.8 -4.6M870.5 101.9L846.2 82.6M846.2 82.6l1.5 -9.2M849.8 85.5l1.5 -9.2M853.4 88.3l0.8 -4.6" fill="none" stroke="#000" stroke-width="0.74" stroke-opacity="0.93"/>
<path d="M819.2 333V409" stroke="#000" stroke-width="1.8"/>
</g>
<path d="M153.5 409.4v-10M153.5 102.3v10M166.3 409.4v-10M166.3 102.3v10M179.1 409.4v-10M179.1 102.3v10M191.9 409.4v-10M191.9 102.3v10M204.7 409.4v-10M204.7 102.3v10M217.5 409.4v-10M217.5 102.3v10M230.3 409.4v-10M230.3 102.3v10M243.1 409.4v-10M243.1 102.3v10M255.9 409.4v-10M255.9 102.3v10M268.7 409.4v-10M268.7 102.3v10M281.5 409.4v-10M281.5 102.3v10M294.3 409.4v-10M294.3 102.3v10M307.1 409.4v-10M307.1 102.3v10M319.9 409.4v-10M319.9 102.3v10M332.8 409.4v-10M332.8 102.3v10M345.6 409.4v-10M345.6 102.3v10M358.4 409.4v-10M358.4 102.3v10M371.2 409.4v-10M371.2 102.3v10M384.0 409.4v-10M384.0 102.3v10M396.8 409.4v-10M396.8 102.3v10M409.6 409.4v-10M409.6 102.3v10M422.4 409.4v-10M422.4 102.3v10M435.2 409.4v-10M435.2 102.3v10M448.0 409.4v-10M448.0 102.3v10M460.8 409.4v-10M460.8 102.3v10M473.6 409.4v-10M473.6 102.3v10M486.4 409.4v-10M486.4 102.3v10M499.2 409.4v-10M499.2 102.3v10M512.0 409.4v-10M512.0 102.3v10M524.8 409.4v-10M524.8 102.3v10M537.6 409.4v-10M537.6 102.3v10M550.4 409.4v-10M550.4 102.3v10M563.2 409.4v-10M563.2 102.3v10M576.0 409.4v-10M576.0 102.3v10M588.8 409.4v-10M588.8 102.3v10M601.6 409.4v-10M601.6 102.3v10M614.4 409.4v-10M614.4 102.3v10M627.2 409.4v-10M627.2 102.3v10M640.0 409.4v-10M640.0 102.3v10M652.8 409.4v-10M652.8 102.3v10M665.6 409.4v-10M665.6 102.3v10M678.4 409.4v-10M678.4 102.3v10M691.2 409.4v-10M691.2 102.3v10M704.1 409.4v-10M704.1 102.3v10M716.9 409.4v-10M716.9 102.3v10M729.7 409.4v-10M729.7 102.3v10M742.5 409.4v-10M742.5 102.3v10M755.3 409.4v-10M755.3 102.3v10M768.1 409.4v-10M768.1 102.3v10M780.9 409.4v-10M780.9 102.3v10M793.7 409.4v-10M793.7 102.3v10M806.5 409.4v-10M806.5 102.3v10M819.3 409.4v-10M819.3 102.3v10M832.1 409.4v-10M832.1 102.3v10M844.9 409.4v-10M844.9 102.3v10M857.7 409.4v-10M857.7 102.3v10M870.5 409.4v-10M870.5 102.3v10M153.5 409.4h24M870.5 409.4h-24M153.5 359.8h24M870.5 359.8h-24M153.5 310.2h24M870.5 310.2h-24M153.5 260.6h24M870.5 260.6h-24M153.5 211.0h24M870.5 211.0h-24M153.5 161.4h24M870.5 161.4h-24M153.5 111.8h24M870.5 111.8h-24" stroke="#000" stroke-width="1.25" fill="none"/>
<rect x="153.5" y="102.3" width="717.0" height="307.1" fill="none" stroke="#000" stroke-width="1.4"/>
<text x="143.9" y="414.9" font-size="14.2" text-anchor="end">0</text>
<text x="143.9" y="365.3" font-size="14.2" text-anchor="end">5</text>
<text x="143.9" y="315.7" font-size="14.2" text-anchor="end">10</text>
<text x="143.9" y="266.1" font-size="14.2" text-anchor="end">15</text>
<text x="143.9" y="216.5" font-size="14.2" text-anchor="end">20</text>
<text x="143.9" y="166.9" font-size="14.2" text-anchor="end">25</text>
<text x="143.9" y="117.3" font-size="14.2" text-anchor="end">30</text>
<text transform="translate(153.8 433.2) rotate(-45)" font-size="12" text-anchor="middle" dominant-baseline="central">23.00</text>
<text transform="translate(205.0 433.2) rotate(-45)" font-size="12" text-anchor="middle" dominant-baseline="central">23.12</text>
<text transform="translate(256.2 433.2) rotate(-45)" font-size="12" text-anchor="middle" dominant-baseline="central">24.00</text>
<text transform="translate(307.4 433.2) rotate(-45)" font-size="12" text-anchor="middle" dominant-baseline="central">24.12</text>
<text transform="translate(358.7 433.2) rotate(-45)" font-size="12" text-anchor="middle" dominant-baseline="central">25.00</text>
<text transform="translate(409.9 433.2) rotate(-45)" font-size="12" text-anchor="middle" dominant-baseline="central">25.12</text>
<text transform="translate(461.1 433.2) rotate(-45)" font-size="12" text-anchor="middle" dominant-baseline="central">26.00</text>
<text transform="translate(512.3 433.2) rotate(-45)" font-size="12" text-anchor="middle" dominant-baseline="central">26.12</text>
<text transform="translate(563.5 433.2) rotate(-45)" font-size="12" text-anchor="middle" dominant-baseline="central">27.00</text>
<text transform="translate(614.7 433.2) rotate(-45)" font-size="12" text-anchor="middle" dominant-baseline="central">27.12</text>
<text transform="translate(665.9 433.2) rotate(-45)" font-size="12" text-anchor="middle" dominant-baseline="central">28.00</text>
<text transform="translate(717.2 433.2) rotate(-45)" font-size="12" text-anchor="middle" dominant-baseline="central">28.12</text>
<text transform="translate(768.4 433.2) rotate(-45)" font-size="12" text-anchor="middle" dominant-baseline="central">29.00</text>
<text transform="translate(819.6 433.2) rotate(-45)" font-size="12" text-anchor="middle" dominant-baseline="central">29.12</text>
<text transform="translate(870.8 433.2) rotate(-45)" font-size="12" text-anchor="middle" dominant-baseline="central">30.00</text>
<g shape-rendering="crispEdges">
<rect x="889.3" y="113.00" width="19.6" height="3.25" fill="#f8afaf"/>
<rect x="889.3" y="115.95" width="19.6" height="3.25" fill="#f29e9e"/>
<rect x="889.3" y="118.89" width="19.6" height="3.25" fill="#ec8686"/>
<rect x="889.3" y="121.84" width="19.6" height="3.25" fill="#e56565"/>
<rect x="889.3" y="124.79" width="19.6" height="3.25" fill="#dd4747"/>
<rect x="889.3" y="127.73" width="19.6" height="3.25" fill="#d42c2c"/>
<rect x="889.3" y="130.68" width="19.6" height="3.25" fill="#cd1818"/>
<rect x="889.3" y="133.62" width="19.6" height="3.25" fill="#c60c0c"/>
<rect x="889.3" y="136.57" width="19.6" height="3.25" fill="#c00000"/>
<rect x="889.3" y="139.52" width="19.6" height="3.25" fill="#c70000"/>
<rect x="889.3" y="142.46" width="19.6" height="3.25" fill="#ce0000"/>
<rect x="889.3" y="145.41" width="19.6" height="3.25" fill="#d50000"/>
<rect x="889.3" y="148.36" width="19.6" height="3.25" fill="#db0000"/>
<rect x="889.3" y="151.30" width="19.6" height="3.25" fill="#e20000"/>
<rect x="889.3" y="154.25" width="19.6" height="3.25" fill="#e80000"/>
<rect x="889.3" y="157.20" width="19.6" height="3.25" fill="#ef0000"/>
<rect x="889.3" y="160.14" width="19.6" height="3.25" fill="#f40300"/>
<rect x="889.3" y="163.09" width="19.6" height="3.25" fill="#f80a00"/>
<rect x="889.3" y="166.04" width="19.6" height="3.25" fill="#fd1100"/>
<rect x="889.3" y="168.98" width="19.6" height="3.25" fill="#ff1b00"/>
<rect x="889.3" y="171.93" width="19.6" height="3.25" fill="#ff2a00"/>
<rect x="889.3" y="174.87" width="19.6" height="3.25" fill="#ff3900"/>
<rect x="889.3" y="177.82" width="19.6" height="3.25" fill="#ff4800"/>
<rect x="889.3" y="180.77" width="19.6" height="3.25" fill="#ff5800"/>
<rect x="889.3" y="183.71" width="19.6" height="3.25" fill="#ff6500"/>
<rect x="889.3" y="186.66" width="19.6" height="3.25" fill="#ff6f00"/>
<rect x="889.3" y="189.61" width="19.6" height="3.25" fill="#ff7900"/>
<rect x="889.3" y="192.55" width="19.6" height="3.25" fill="#ff8100"/>
<rect x="889.3" y="195.50" width="19.6" height="3.25" fill="#ff8800"/>
<rect x="889.3" y="198.45" width="19.6" height="3.25" fill="#ff8f00"/>
<rect x="889.3" y="201.39" width="19.6" height="3.25" fill="#ff9500"/>
<rect x="889.3" y="204.34" width="19.6" height="3.25" fill="#ff9b00"/>
<rect x="889.3" y="207.28" width="19.6" height="3.25" fill="#ffa100"/>
<rect x="889.3" y="210.23" width="19.6" height="3.25" fill="#ffa700"/>
<rect x="889.3" y="213.18" width="19.6" height="3.25" fill="#ffad03"/>
<rect x="889.3" y="216.12" width="19.6" height="3.25" fill="#ffb408"/>
<rect x="889.3" y="219.07" width="19.6" height="3.25" fill="#ffbb0d"/>
<rect x="889.3" y="222.02" width="19.6" height="3.25" fill="#ffc112"/>
<rect x="889.3" y="224.96" width="19.6" height="3.25" fill="#ffc717"/>
<rect x="889.3" y="227.91" width="19.6" height="3.25" fill="#ffcd1c"/>
<rect x="889.3" y="230.86" width="19.6" height="3.25" fill="#ffd422"/>
<rect x="889.3" y="233.80" width="19.6" height="3.25" fill="#ffdc28"/>
<rect x="889.3" y="236.75" width="19.6" height="3.25" fill="#ffe235"/>
<rect x="889.3" y="239.69" width="19.6" height="3.25" fill="#ffe847"/>
<rect x="889.3" y="242.64" width="19.6" height="3.25" fill="#ffec5a"/>
<rect x="889.3" y="245.59" width="19.6" height="3.25" fill="#fff16e"/>
<rect x="889.3" y="248.53" width="19.6" height="3.25" fill="#fff682"/>
<rect x="889.3" y="251.48" width="19.6" height="3.25" fill="#fff995"/>
<rect x="889.3" y="254.43" width="19.6" height="3.25" fill="#fffca8"/>
<rect x="889.3" y="257.37" width="19.6" height="3.25" fill="#fffebb"/>
<rect x="889.3" y="260.32" width="19.6" height="3.25" fill="#c8e6f7"/>
<rect x="889.3" y="263.27" width="19.6" height="3.25" fill="#bfe2f6"/>
<rect x="889.3" y="266.21" width="19.6" height="3.25" fill="#b6dff5"/>
<rect x="889.3" y="269.16" width="19.6" height="3.25" fill="#addbf3"/>
<rect x="889.3" y="272.11" width="19.6" height="3.25" fill="#a4d6f2"/>
<rect x="889.3" y="275.05" width="19.6" height="3.25" fill="#9bd2f1"/>
<rect x="889.3" y="278.00" width="19.6" height="3.25" fill="#90cef0"/>
<rect x="889.3" y="280.94" width="19.6" height="3.25" fill="#82c8f0"/>
<rect x="889.3" y="283.89" width="19.6" height="3.25" fill="#72c4f1"/>
<rect x="889.3" y="286.84" width="19.6" height="3.25" fill="#5ec1f4"/>
<rect x="889.3" y="289.78" width="19.6" height="3.25" fill="#4abef7"/>
<rect x="889.3" y="292.73" width="19.6" height="3.25" fill="#38bbf9"/>
<rect x="889.3" y="295.68" width="19.6" height="3.25" fill="#27bafc"/>
<rect x="889.3" y="298.62" width="19.6" height="3.25" fill="#16b9fe"/>
<rect x="889.3" y="301.57" width="19.6" height="3.25" fill="#07b6ff"/>
<rect x="889.3" y="304.52" width="19.6" height="3.25" fill="#02b1ff"/>
<rect x="889.3" y="307.46" width="19.6" height="3.25" fill="#07aaff"/>
<rect x="889.3" y="310.41" width="19.6" height="3.25" fill="#0ca3ff"/>
<rect x="889.3" y="313.35" width="19.6" height="3.25" fill="#109eff"/>
<rect x="889.3" y="316.30" width="19.6" height="3.25" fill="#149aff"/>
<rect x="889.3" y="319.25" width="19.6" height="3.25" fill="#1896ff"/>
<rect x="889.3" y="322.19" width="19.6" height="3.25" fill="#1c92ff"/>
<rect x="889.3" y="325.14" width="19.6" height="3.25" fill="#218dfc"/>
<rect x="889.3" y="328.09" width="19.6" height="3.25" fill="#2688f8"/>
<rect x="889.3" y="331.03" width="19.6" height="3.25" fill="#2b83f2"/>
<rect x="889.3" y="333.98" width="19.6" height="3.25" fill="#2f7eef"/>
<rect x="889.3" y="336.93" width="19.6" height="3.25" fill="#327aed"/>
<rect x="889.3" y="339.87" width="19.6" height="3.25" fill="#3476eb"/>
<rect x="889.3" y="342.82" width="19.6" height="3.25" fill="#3772e9"/>
<rect x="889.3" y="345.76" width="19.6" height="3.25" fill="#386de8"/>
<rect x="889.3" y="348.71" width="19.6" height="3.25" fill="#3868e8"/>
<rect x="889.3" y="351.66" width="19.6" height="3.25" fill="#3863e8"/>
<rect x="889.3" y="354.60" width="19.6" height="3.25" fill="#345be9"/>
<rect x="889.3" y="357.55" width="19.6" height="3.25" fill="#2c50ec"/>
<rect x="889.3" y="360.50" width="19.6" height="3.25" fill="#2445ef"/>
<rect x="889.3" y="363.44" width="19.6" height="3.25" fill="#1c39f1"/>
<rect x="889.3" y="366.39" width="19.6" height="3.25" fill="#142cf4"/>
<rect x="889.3" y="369.34" width="19.6" height="3.25" fill="#0c1ff7"/>
<rect x="889.3" y="372.28" width="19.6" height="3.25" fill="#0510fa"/>
<rect x="889.3" y="375.23" width="19.6" height="3.25" fill="#0000ff"/>
<rect x="889.3" y="378.18" width="19.6" height="3.25" fill="#1003fc"/>
<rect x="889.3" y="381.12" width="19.6" height="3.25" fill="#2006f9"/>
<rect x="889.3" y="384.07" width="19.6" height="3.25" fill="#320af6"/>
<rect x="889.3" y="387.01" width="19.6" height="3.25" fill="#460ef2"/>
<rect x="889.3" y="389.96" width="19.6" height="3.25" fill="#5b13f0"/>
<rect x="889.3" y="392.91" width="19.6" height="3.25" fill="#7119f0"/>
<rect x="889.3" y="395.85" width="19.6" height="3.25" fill="#811df0"/>
<path d="M889.3 115.95H908.9M889.3 118.89H908.9M889.3 121.84H908.9M889.3 124.79H908.9M889.3 127.73H908.9M889.3 130.68H908.9M889.3 133.62H908.9M889.3 136.57H908.9M889.3 139.52H908.9M889.3 142.46H908.9M889.3 145.41H908.9M889.3 148.36H908.9M889.3 151.30H908.9M889.3 154.25H908.9M889.3 157.20H908.9M889.3 160.14H908.9M889.3 163.09H908.9M889.3 166.04H908.9M889.3 168.98H908.9M889.3 171.93H908.9M889.3 174.87H908.9M889.3 177.82H908.9M889.3 180.77H908.9M889.3 183.71H908.9M889.3 186.66H908.9M889.3 189.61H908.9M889.3 192.55H908.9M889.3 195.50H908.9M889.3 198.45H908.9M889.3 201.39H908.9M889.3 204.34H908.9M889.3 207.28H908.9M889.3 210.23H908.9M889.3 213.18H908.9M889.3 216.12H908.9M889.3 219.07H908.9M889.3 222.02H908.9M889.3 224.96H908.9M889.3 227.91H908.9M889.3 230.86H908.9M889.3 233.80H908.9M889.3 236.75H908.9M889.3 239.69H908.9M889.3 242.64H908.9M889.3 245.59H908.9M889.3 248.53H908.9M889.3 251.48H908.9M889.3 254.43H908.9M889.3 257.37H908.9M889.3 260.32H908.9M889.3 263.27H908.9M889.3 266.21H908.9M889.3 269.16H908.9M889.3 272.11H908.9M889.3 275.05H908.9M889.3 278.00H908.9M889.3 280.94H908.9M889.3 283.89H908.9M889.3 286.84H908.9M889.3 289.78H908.9M889.3 292.73H908.9M889.3 295.68H908.9M889.3 298.62H908.9M889.3 301.57H908.9M889.3 304.52H908.9M889.3 307.46H908.9M889.3 310.41H908.9M889.3 313.35H908.9M889.3 316.30H908.9M889.3 319.25H908.9M889.3 322.19H908.9M889.3 325.14H908.9M889.3 328.09H908.9M889.3 331.03H908.9M889.3 333.98H908.9M889.3 336.93H908.9M889.3 339.87H908.9M889.3 342.82H908.9M889.3 345.76H908.9M889.3 348.71H908.9M889.3 351.66H908.9M889.3 354.60H908.9M889.3 357.55H908.9M889.3 360.50H908.9M889.3 363.44H908.9M889.3 366.39H908.9M889.3 369.34H908.9M889.3 372.28H908.9M889.3 375.23H908.9M889.3 378.18H908.9M889.3 381.12H908.9M889.3 384.07H908.9M889.3 387.01H908.9M889.3 389.96H908.9M889.3 392.91H908.9M889.3 395.85H908.9" stroke="#fff" stroke-opacity="0.28" stroke-width="0.7" fill="none"/>
</g>
<text x="927.6" y="121.7" font-size="16">35</text>
<text x="927.6" y="142.4" font-size="16">28</text>
<text x="927.6" y="163.0" font-size="16">21</text>
<text x="927.6" y="183.7" font-size="16">14</text>
<text x="927.6" y="204.4" font-size="16">7</text>
<text x="927.6" y="225.1" font-size="16">0</text>
<text x="927.6" y="245.7" font-size="16">-7</text>
<text x="927.6" y="266.4" font-size="16">-14</text>
<text x="927.6" y="287.1" font-size="16">-21</text>
<text x="927.6" y="307.7" font-size="16">-28</text>
<text x="927.6" y="328.4" font-size="16">-35</text>
<text x="927.6" y="349.1" font-size="16">-42</text>
<text x="927.6" y="369.7" font-size="16">-49</text>
<text x="927.6" y="390.4" font-size="16">-56</text>
<!--PMSL-->
<path d="M165.40 460.4V562.9M177.35 460.4V562.9M189.30 460.4V562.9M201.25 460.4V562.9M213.20 460.4V562.9M225.15 460.4V562.9M237.10 460.4V562.9M249.05 460.4V562.9M261.00 460.4V562.9M272.95 460.4V562.9M284.90 460.4V562.9M296.85 460.4V562.9M308.80 460.4V562.9M320.75 460.4V562.9M332.70 460.4V562.9M344.65 460.4V562.9M356.60 460.4V562.9M368.55 460.4V562.9M380.50 460.4V562.9M392.45 460.4V562.9M404.40 460.4V562.9M416.35 460.4V562.9M428.30 460.4V562.9M440.25 460.4V562.9M452.20 460.4V562.9M464.15 460.4V562.9M476.10 460.4V562.9M488.05 460.4V562.9M500.00 460.4V562.9M511.95 460.4V562.9M523.90 460.4V562.9M535.85 460.4V562.9M547.80 460.4V562.9M559.75 460.4V562.9M571.70 460.4V562.9M583.65 460.4V562.9M595.60 460.4V562.9M607.55 460.4V562.9M619.50 460.4V562.9M631.45 460.4V562.9M643.40 460.4V562.9M655.35 460.4V562.9M667.30 460.4V562.9M679.25 460.4V562.9M691.20 460.4V562.9M703.15 460.4V562.9M715.10 460.4V562.9M727.05 460.4V562.9M739.00 460.4V562.9M750.95 460.4V562.9M762.90 460.4V562.9M774.85 460.4V562.9M786.80 460.4V562.9M798.75 460.4V562.9M810.70 460.4V562.9M822.65 460.4V562.9M834.60 460.4V562.9" stroke="#333" stroke-width="0.8" stroke-dasharray="3.3 6.3" stroke-dashoffset="5.3" fill="none"/>
<path d="M153.7 545.82H870.5M153.7 528.73H870.5M153.7 511.65H870.5M153.7 494.57H870.5M153.7 477.48H870.5" stroke="#777" stroke-width="1.25" stroke-dasharray="3.3 6.2" stroke-dashoffset="0.6" fill="none"/>
<path d="M153.7 562.90h-14M870.5 562.90h14M153.7 545.82h-14M870.5 545.82h14M153.7 528.73h-14M870.5 528.73h14M153.7 511.65h-14M870.5 511.65h14M153.7 494.57h-14M870.5 494.57h14M153.7 477.48h-14M870.5 477.48h14M153.7 460.40h-14M870.5 460.40h14M165.40 562.9v13.6M177.35 562.9v13.6M189.30 562.9v13.6M201.25 562.9v13.6M213.20 562.9v13.6M225.15 562.9v13.6M237.10 562.9v13.6M249.05 562.9v13.6M261.00 562.9v13.6M272.95 562.9v13.6M284.90 562.9v13.6M296.85 562.9v13.6M308.80 562.9v13.6M320.75 562.9v13.6M332.70 562.9v13.6M344.65 562.9v13.6M356.60 562.9v13.6M368.55 562.9v13.6M380.50 562.9v13.6M392.45 562.9v13.6M404.40 562.9v13.6M416.35 562.9v13.6M428.30 562.9v13.6M440.25 562.9v13.6M452.20 562.9v13.6M464.15 562.9v13.6M476.10 562.9v13.6M488.05 562.9v13.6M500.00 562.9v13.6M511.95 562.9v13.6M523.90 562.9v13.6M535.85 562.9v13.6M547.80 562.9v13.6M559.75 562.9v13.6M571.70 562.9v13.6M583.65 562.9v13.6M595.60 562.9v13.6M607.55 562.9v13.6M619.50 562.9v13.6M631.45 562.9v13.6M643.40 562.9v13.6M655.35 562.9v13.6M667.30 562.9v13.6M679.25 562.9v13.6M691.20 562.9v13.6M703.15 562.9v13.6M715.10 562.9v13.6M727.05 562.9v13.6M739.00 562.9v13.6M750.95 562.9v13.6M762.90 562.9v13.6M774.85 562.9v13.6M786.80 562.9v13.6M798.75 562.9v13.6M810.70 562.9v13.6M822.65 562.9v13.6M834.60 562.9v13.6" stroke="#333" stroke-width="1.5" fill="none"/>
<path d="M153.7 557.21h-7.2M870.5 557.21h7.2M153.7 551.51h-7.2M870.5 551.51h7.2M153.7 540.12h-7.2M870.5 540.12h7.2M153.7 534.43h-7.2M870.5 534.43h7.2M153.7 523.04h-7.2M870.5 523.04h7.2M153.7 517.34h-7.2M870.5 517.34h7.2M153.7 505.96h-7.2M870.5 505.96h7.2M153.7 500.26h-7.2M870.5 500.26h7.2M153.7 488.87h-7.2M870.5 488.87h7.2M153.7 483.18h-7.2M870.5 483.18h7.2M153.7 471.79h-7.2M870.5 471.79h7.2M153.7 466.09h-7.2M870.5 466.09h7.2" stroke="#555" stroke-width="0.9" fill="none"/>
<rect x="153.7" y="460.4" width="716.8" height="102.5" fill="none" stroke="#000" stroke-width="1.15"/>
<text x="134.6" y="565.8" font-size="8" text-anchor="end" fill="#222">1011</text>
<text x="134.6" y="548.7" font-size="8" text-anchor="end" fill="#222">1014</text>
<text x="134.6" y="531.6" font-size="8" text-anchor="end" fill="#222">1017</text>
<text x="134.6" y="514.5" font-size="8" text-anchor="end" fill="#222">1020</text>
<text x="134.6" y="497.4" font-size="8" text-anchor="end" fill="#222">1023</text>
<text x="134.6" y="480.4" font-size="8" text-anchor="end" fill="#222">1026</text>
<text x="134.6" y="463.3" font-size="8" text-anchor="end" fill="#222">1029</text>
<polyline points="165.40,545.3 177.35,547.7 189.30,549.6 201.25,548.2 213.20,540.2 225.15,529.1 237.10,517.0 249.05,511.1 261.00,495.9 272.95,485.7 284.90,483.6 296.85,484.8 308.80,482.6 320.75,479.8 332.70,483.2 344.65,485.5 356.60,484.4 368.55,484.2 380.50,489.1 392.45,494.5 404.40,493.4 416.35,486.5 428.30,487.5 440.25,485.7 452.20,481.3 464.15,476.8 476.10,477.7 488.05,482.6 500.00,484.3 511.95,484.4 523.90,485.5 535.85,483.8 547.80,477.3 559.75,471.5 571.70,470.1 583.65,470.5 595.60,470.3 607.55,471.5 619.50,477.3 631.45,480.9 643.40,481.3 655.35,483.6 667.30,494.5 679.25,504.9 691.20,509.5 703.15,512.9 715.10,521.9 727.05,533.0 739.00,537.7 750.95,532.8 762.90,535.2 774.85,537.1 786.80,530.7 798.75,512.9 810.70,505.3 822.65,497.5 834.60,487.1" fill="none" stroke="#1414ff" stroke-width="1.15" stroke-linejoin="round"/>
<text transform="translate(168.8 589.8) rotate(-45)" font-size="11.6" text-anchor="middle" dominant-baseline="central">23.00</text>
<text transform="translate(216.6 589.8) rotate(-45)" font-size="11.6" text-anchor="middle" dominant-baseline="central">23.12</text>
<text transform="translate(264.4 589.8) rotate(-45)" font-size="11.6" text-anchor="middle" dominant-baseline="central">24.00</text>
<text transform="translate(312.2 589.8) rotate(-45)" font-size="11.6" text-anchor="middle" dominant-baseline="central">24.12</text>
<text transform="translate(360.0 589.8) rotate(-45)" font-size="11.6" text-anchor="middle" dominant-baseline="central">25.00</text>
<text transform="translate(407.8 589.8) rotate(-45)" font-size="11.6" text-anchor="middle" dominant-baseline="central">25.12</text>
<text transform="translate(455.6 589.8) rotate(-45)" font-size="11.6" text-anchor="middle" dominant-baseline="central">26.00</text>
<text transform="translate(503.4 589.8) rotate(-45)" font-size="11.6" text-anchor="middle" dominant-baseline="central">26.12</text>
<text transform="translate(551.2 589.8) rotate(-45)" font-size="11.6" text-anchor="middle" dominant-baseline="central">27.00</text>
<text transform="translate(599.0 589.8) rotate(-45)" font-size="11.6" text-anchor="middle" dominant-baseline="central">27.12</text>
<text transform="translate(646.8 589.8) rotate(-45)" font-size="11.6" text-anchor="middle" dominant-baseline="central">28.00</text>
<text transform="translate(694.6 589.8) rotate(-45)" font-size="11.6" text-anchor="middle" dominant-baseline="central">28.12</text>
<text transform="translate(742.4 589.8) rotate(-45)" font-size="11.6" text-anchor="middle" dominant-baseline="central">29.00</text>
<text transform="translate(790.2 589.8) rotate(-45)" font-size="11.6" text-anchor="middle" dominant-baseline="central">29.12</text>
<text transform="translate(838.0 589.8) rotate(-45)" font-size="11.6" text-anchor="middle" dominant-baseline="central">30.00</text>
<text transform="translate(99.2 512.3) rotate(-90)" font-size="25.4" text-anchor="middle" textLength="65.2" lengthAdjust="spacingAndGlyphs">PMSL</text>
<!--TEMP-->
<path d="M165.40 614.3V716.4M177.35 614.3V716.4M189.30 614.3V716.4M201.25 614.3V716.4M213.20 614.3V716.4M225.15 614.3V716.4M237.10 614.3V716.4M249.05 614.3V716.4M261.00 614.3V716.4M272.95 614.3V716.4M284.90 614.3V716.4M296.85 614.3V716.4M308.80 614.3V716.4M320.75 614.3V716.4M332.70 614.3V716.4M344.65 614.3V716.4M356.60 614.3V716.4M368.55 614.3V716.4M380.50 614.3V716.4M392.45 614.3V716.4M404.40 614.3V716.4M416.35 614.3V716.4M428.30 614.3V716.4M440.25 614.3V716.4M452.20 614.3V716.4M464.15 614.3V716.4M476.10 614.3V716.4M488.05 614.3V716.4M500.00 614.3V716.4M511.95 614.3V716.4M523.90 614.3V716.4M535.85 614.3V716.4M547.80 614.3V716.4M559.75 614.3V716.4M571.70 614.3V716.4M583.65 614.3V716.4M595.60 614.3V716.4M607.55 614.3V716.4M619.50 614.3V716.4M631.45 614.3V716.4M643.40 614.3V716.4M655.35 614.3V716.4M667.30 614.3V716.4M679.25 614.3V716.4M691.20 614.3V716.4M703.15 614.3V716.4M715.10 614.3V716.4M727.05 614.3V716.4M739.00 614.3V716.4M750.95 614.3V716.4M762.90 614.3V716.4M774.85 614.3V716.4M786.80 614.3V716.4M798.75 614.3V716.4M810.70 614.3V716.4M822.65 614.3V716.4M834.60 614.3V716.4" stroke="#333" stroke-width="0.8" stroke-dasharray="3.3 6.3" stroke-dashoffset="5.7" fill="none"/>
<path d="M153.7 699.38H870.5M153.7 682.37H870.5M153.7 665.35H870.5M153.7 648.33H870.5M153.7 631.32H870.5" stroke="#333" stroke-width="0.85" stroke-dasharray="3.3 6.2" stroke-dashoffset="0.6" fill="none"/>
<path d="M153.7 716.40h-14M870.5 716.40h14M153.7 699.38h-14M870.5 699.38h14M153.7 682.37h-14M870.5 682.37h14M153.7 665.35h-14M870.5 665.35h14M153.7 648.33h-14M870.5 648.33h14M153.7 631.32h-14M870.5 631.32h14M153.7 614.30h-14M870.5 614.30h14M165.40 716.4v13.6M177.35 716.4v13.6M189.30 716.4v13.6M201.25 716.4v13.6M213.20 716.4v13.6M225.15 716.4v13.6M237.10 716.4v13.6M249.05 716.4v13.6M261.00 716.4v13.6M272.95 716.4v13.6M284.90 716.4v13.6M296.85 716.4v13.6M308.80 716.4v13.6M320.75 716.4v13.6M332.70 716.4v13.6M344.65 716.4v13.6M356.60 716.4v13.6M368.55 716.4v13.6M380.50 716.4v13.6M392.45 716.4v13.6M404.40 716.4v13.6M416.35 716.4v13.6M428.30 716.4v13.6M440.25 716.4v13.6M452.20 716.4v13.6M464.15 716.4v13.6M476.10 716.4v13.6M488.05 716.4v13.6M500.00 716.4v13.6M511.95 716.4v13.6M523.90 716.4v13.6M535.85 716.4v13.6M547.80 716.4v13.6M559.75 716.4v13.6M571.70 716.4v13.6M583.65 716.4v13.6M595.60 716.4v13.6M607.55 716.4v13.6M619.50 716.4v13.6M631.45 716.4v13.6M643.40 716.4v13.6M655.35 716.4v13.6M667.30 716.4v13.6M679.25 716.4v13.6M691.20 716.4v13.6M703.15 716.4v13.6M715.10 716.4v13.6M727.05 716.4v13.6M739.00 716.4v13.6M750.95 716.4v13.6M762.90 716.4v13.6M774.85 716.4v13.6M786.80 716.4v13.6M798.75 716.4v13.6M810.70 716.4v13.6M822.65 716.4v13.6M834.60 716.4v13.6" stroke="#000" stroke-width="1.05" fill="none"/>
<path d="M153.7 710.73h-7.2M870.5 710.73h7.2M153.7 705.06h-7.2M870.5 705.06h7.2M153.7 693.71h-7.2M870.5 693.71h7.2M153.7 688.04h-7.2M870.5 688.04h7.2M153.7 676.69h-7.2M870.5 676.69h7.2M153.7 671.02h-7.2M870.5 671.02h7.2M153.7 659.68h-7.2M870.5 659.68h7.2M153.7 654.01h-7.2M870.5 654.01h7.2M153.7 642.66h-7.2M870.5 642.66h7.2M153.7 636.99h-7.2M870.5 636.99h7.2M153.7 625.64h-7.2M870.5 625.64h7.2M153.7 619.97h-7.2M870.5 619.97h7.2" stroke="#555" stroke-width="0.9" fill="none"/>
<rect x="153.7" y="614.3" width="716.8" height="102.1" fill="none" stroke="#000" stroke-width="1.15"/>
<text x="134.6" y="719.3" font-size="8" text-anchor="end" fill="#222">-3</text>
<text x="134.6" y="702.3" font-size="8" text-anchor="end" fill="#222">0</text>
<text x="134.6" y="685.2" font-size="8" text-anchor="end" fill="#222">3</text>
<text x="134.6" y="668.2" font-size="8" text-anchor="end" fill="#222">6</text>
<text x="134.6" y="651.2" font-size="8" text-anchor="end" fill="#222">9</text>
<text x="134.6" y="634.2" font-size="8" text-anchor="end" fill="#222">12</text>
<text x="134.6" y="617.2" font-size="8" text-anchor="end" fill="#222">15</text>
<polyline points="165.40,703.5 177.35,708.4 189.30,698.6 201.25,695.1 213.20,695.7 225.15,696.1 237.10,700.6 249.05,697.7 261.00,699.0 272.95,712.3 284.90,694.7 296.85,689.3 308.80,691.4 320.75,703.1 332.70,710.9 344.65,711.9 356.60,712.5 368.55,705.1 380.50,685.9 392.45,674.4 404.40,678.5 416.35,701.2 428.30,694.7 440.25,694.9 452.20,694.9 464.15,691.0 476.10,682.0 488.05,670.3 500.00,675.8 511.95,687.9 523.90,701.2 535.85,702.7 547.80,694.9 559.75,690.8 571.70,678.5 583.65,674.0 595.60,675.2 607.55,686.9 619.50,691.8 631.45,693.6 643.40,694.9 655.35,691.0 667.30,682.0 679.25,662.9 691.20,652.8 703.15,677.1 715.10,685.9 727.05,691.4 739.00,693.8 750.95,679.1 762.90,640.0 774.85,622.9 786.80,625.4 798.75,664.1 810.70,676.2 822.65,691.8 834.60,703.5" fill="none" stroke="#ff1414" stroke-width="1.15" stroke-linejoin="round"/>
<text transform="translate(168.8 743.7) rotate(-45)" font-size="11.6" text-anchor="middle" dominant-baseline="central">23.00</text>
<text transform="translate(216.6 743.7) rotate(-45)" font-size="11.6" text-anchor="middle" dominant-baseline="central">23.12</text>
<text transform="translate(264.4 743.7) rotate(-45)" font-size="11.6" text-anchor="middle" dominant-baseline="central">24.00</text>
<text transform="translate(312.2 743.7) rotate(-45)" font-size="11.6" text-anchor="middle" dominant-baseline="central">24.12</text>
<text transform="translate(360.0 743.7) rotate(-45)" font-size="11.6" text-anchor="middle" dominant-baseline="central">25.00</text>
<text transform="translate(407.8 743.7) rotate(-45)" font-size="11.6" text-anchor="middle" dominant-baseline="central">25.12</text>
<text transform="translate(455.6 743.7) rotate(-45)" font-size="11.6" text-anchor="middle" dominant-baseline="central">26.00</text>
<text transform="translate(503.4 743.7) rotate(-45)" font-size="11.6" text-anchor="middle" dominant-baseline="central">26.12</text>
<text transform="translate(551.2 743.7) rotate(-45)" font-size="11.6" text-anchor="middle" dominant-baseline="central">27.00</text>
<text transform="translate(599.0 743.7) rotate(-45)" font-size="11.6" text-anchor="middle" dominant-baseline="central">27.12</text>
<text transform="translate(646.8 743.7) rotate(-45)" font-size="11.6" text-anchor="middle" dominant-baseline="central">28.00</text>
<text transform="translate(694.6 743.7) rotate(-45)" font-size="11.6" text-anchor="middle" dominant-baseline="central">28.12</text>
<text transform="translate(742.4 743.7) rotate(-45)" font-size="11.6" text-anchor="middle" dominant-baseline="central">29.00</text>
<text transform="translate(790.2 743.7) rotate(-45)" font-size="11.6" text-anchor="middle" dominant-baseline="central">29.12</text>
<text transform="translate(838.0 743.7) rotate(-45)" font-size="11.6" text-anchor="middle" dominant-baseline="central">30.00</text>
<text transform="translate(108 665) rotate(-90)" font-size="25.4" text-anchor="middle" textLength="138.6" lengthAdjust="spacingAndGlyphs">TEMP at 2 M</text>
<!--PRECIP-->
<clipPath id="pc"><rect x="153.7" y="819.1" width="716.8" height="132.9"/></clipPath>
<path d="M178.21 952.0h12.81v-122.05h-12.81zM190.82 952.0h12.81v-42.53h-12.81zM203.42 952.0h12.81v-112.97h-12.81zM216.03 952.0h12.81v-40.31h-12.81zM228.64 952.0h12.81v-2.21h-12.81zM241.25 952.0h12.81v-2.21h-12.81zM455.56 952.0h12.81v-4.43h-12.81zM480.78 952.0h12.81v-2.21h-12.81zM569.03 952.0h12.81v-2.21h-12.81zM632.06 952.0h12.81v-2.21h-12.81zM644.67 952.0h12.81v-2.21h-12.81zM833.77 952.0h12.81v-11.07h-12.81zM846.38 952.0h12.81v-8.86h-12.81zM858.99 952.0h12.81v-8.86h-12.81z" fill="#00ff00" clip-path="url(#pc)" shape-rendering="crispEdges"/>
<path d="M159.30 819.1V952.0M171.91 819.1V952.0M184.51 819.1V952.0M197.12 819.1V952.0M209.73 819.1V952.0M222.34 819.1V952.0M234.94 819.1V952.0M247.55 819.1V952.0M260.16 819.1V952.0M272.76 819.1V952.0M285.37 819.1V952.0M297.98 819.1V952.0M310.58 819.1V952.0M323.19 819.1V952.0M335.80 819.1V952.0M348.40 819.1V952.0M361.01 819.1V952.0M373.62 819.1V952.0M386.23 819.1V952.0M398.83 819.1V952.0M411.44 819.1V952.0M424.05 819.1V952.0M436.65 819.1V952.0M449.26 819.1V952.0M461.87 819.1V952.0M474.47 819.1V952.0M487.08 819.1V952.0M499.69 819.1V952.0M512.30 819.1V952.0M524.90 819.1V952.0M537.51 819.1V952.0M550.12 819.1V952.0M562.72 819.1V952.0M575.33 819.1V952.0M587.94 819.1V952.0M600.55 819.1V952.0M613.15 819.1V952.0M625.76 819.1V952.0M638.37 819.1V952.0M650.97 819.1V952.0M663.58 819.1V952.0M676.19 819.1V952.0M688.79 819.1V952.0M701.40 819.1V952.0M714.01 819.1V952.0M726.62 819.1V952.0M739.22 819.1V952.0M751.83 819.1V952.0M764.44 819.1V952.0M777.04 819.1V952.0M789.65 819.1V952.0M802.26 819.1V952.0M814.86 819.1V952.0M827.47 819.1V952.0M840.08 819.1V952.0M852.68 819.1V952.0M865.29 819.1V952.0" stroke="#333" stroke-width="0.8" stroke-dasharray="3.3 6.3" stroke-dashoffset="3.3" fill="none"/>
<path d="M153.7 929.85H870.5M153.7 907.70H870.5M153.7 885.55H870.5M153.7 863.40H870.5M153.7 841.25H870.5" stroke="#333" stroke-width="0.85" stroke-dasharray="3.3 6.2" stroke-dashoffset="0.6" fill="none"/>
<path d="M153.7 952.00h-14M870.5 952.00h14M153.7 929.85h-14M870.5 929.85h14M153.7 907.70h-14M870.5 907.70h14M153.7 885.55h-14M870.5 885.55h14M153.7 863.40h-14M870.5 863.40h14M153.7 841.25h-14M870.5 841.25h14M153.7 819.10h-14M870.5 819.10h14M159.30 952.0v13.6M171.91 952.0v13.6M184.51 952.0v13.6M197.12 952.0v13.6M209.73 952.0v13.6M222.34 952.0v13.6M234.94 952.0v13.6M247.55 952.0v13.6M260.16 952.0v13.6M272.76 952.0v13.6M285.37 952.0v13.6M297.98 952.0v13.6M310.58 952.0v13.6M323.19 952.0v13.6M335.80 952.0v13.6M348.40 952.0v13.6M361.01 952.0v13.6M373.62 952.0v13.6M386.23 952.0v13.6M398.83 952.0v13.6M411.44 952.0v13.6M424.05 952.0v13.6M436.65 952.0v13.6M449.26 952.0v13.6M461.87 952.0v13.6M474.47 952.0v13.6M487.08 952.0v13.6M499.69 952.0v13.6M512.30 952.0v13.6M524.90 952.0v13.6M537.51 952.0v13.6M550.12 952.0v13.6M562.72 952.0v13.6M575.33 952.0v13.6M587.94 952.0v13.6M600.55 952.0v13.6M613.15 952.0v13.6M625.76 952.0v13.6M638.37 952.0v13.6M650.97 952.0v13.6M663.58 952.0v13.6M676.19 952.0v13.6M688.79 952.0v13.6M701.40 952.0v13.6M714.01 952.0v13.6M726.62 952.0v13.6M739.22 952.0v13.6M751.83 952.0v13.6M764.44 952.0v13.6M777.04 952.0v13.6M789.65 952.0v13.6M802.26 952.0v13.6M814.86 952.0v13.6M827.47 952.0v13.6M840.08 952.0v13.6M852.68 952.0v13.6M865.29 952.0v13.6" stroke="#000" stroke-width="1.05" fill="none"/>
<path d="M153.7 947.57h-7.2M870.5 947.57h7.2M153.7 943.14h-7.2M870.5 943.14h7.2M153.7 938.71h-7.2M870.5 938.71h7.2M153.7 934.28h-7.2M870.5 934.28h7.2M153.7 925.42h-7.2M870.5 925.42h7.2M153.7 920.99h-7.2M870.5 920.99h7.2M153.7 916.56h-7.2M870.5 916.56h7.2M153.7 912.13h-7.2M870.5 912.13h7.2M153.7 903.27h-7.2M870.5 903.27h7.2M153.7 898.84h-7.2M870.5 898.84h7.2M153.7 894.41h-7.2M870.5 894.41h7.2M153.7 889.98h-7.2M870.5 889.98h7.2M153.7 881.12h-7.2M870.5 881.12h7.2M153.7 876.69h-7.2M870.5 876.69h7.2M153.7 872.26h-7.2M870.5 872.26h7.2M153.7 867.83h-7.2M870.5 867.83h7.2M153.7 858.97h-7.2M870.5 858.97h7.2M153.7 854.54h-7.2M870.5 854.54h7.2M153.7 850.11h-7.2M870.5 850.11h7.2M153.7 845.68h-7.2M870.5 845.68h7.2M153.7 836.82h-7.2M870.5 836.82h7.2M153.7 832.39h-7.2M870.5 832.39h7.2M153.7 827.96h-7.2M870.5 827.96h7.2M153.7 823.53h-7.2M870.5 823.53h7.2" stroke="#555" stroke-width="0.9" fill="none"/>
<rect x="153.7" y="819.1" width="716.8" height="132.9" fill="none" stroke="#000" stroke-width="1.15"/>
<text x="132.8" y="955.2" font-size="9" text-anchor="end" fill="#222">0.00</text>
<text x="132.8" y="933.1" font-size="9" text-anchor="end" fill="#222">0.10</text>
<text x="132.8" y="910.9" font-size="9" text-anchor="end" fill="#222">0.20</text>
<text x="132.8" y="888.8" font-size="9" text-anchor="end" fill="#222">0.30</text>
<text x="132.8" y="866.6" font-size="9" text-anchor="end" fill="#222">0.40</text>
<text x="132.8" y="844.5" font-size="9" text-anchor="end" fill="#222">0.50</text>
<text x="132.8" y="822.3" font-size="9" text-anchor="end" fill="#222">0.60</text>
<text transform="translate(162.7 979.0) rotate(-45)" font-size="11.6" text-anchor="middle" dominant-baseline="central">23.00</text>
<text transform="translate(213.1 979.0) rotate(-45)" font-size="11.6" text-anchor="middle" dominant-baseline="central">23.12</text>
<text transform="translate(263.6 979.0) rotate(-45)" font-size="11.6" text-anchor="middle" dominant-baseline="central">24.00</text>
<text transform="translate(314.0 979.0) rotate(-45)" font-size="11.6" text-anchor="middle" dominant-baseline="central">24.12</text>
<text transform="translate(364.4 979.0) rotate(-45)" font-size="11.6" text-anchor="middle" dominant-baseline="central">25.00</text>
<text transform="translate(414.8 979.0) rotate(-45)" font-size="11.6" text-anchor="middle" dominant-baseline="central">25.12</text>
<text transform="translate(465.3 979.0) rotate(-45)" font-size="11.6" text-anchor="middle" dominant-baseline="central">26.00</text>
<text transform="translate(515.7 979.0) rotate(-45)" font-size="11.6" text-anchor="middle" dominant-baseline="central">26.12</text>
<text transform="translate(566.1 979.0) rotate(-45)" font-size="11.6" text-anchor="middle" dominant-baseline="central">27.00</text>
<text transform="translate(616.6 979.0) rotate(-45)" font-size="11.6" text-anchor="middle" dominant-baseline="central">27.12</text>
<text transform="translate(667.0 979.0) rotate(-45)" font-size="11.6" text-anchor="middle" dominant-baseline="central">28.00</text>
<text transform="translate(717.4 979.0) rotate(-45)" font-size="11.6" text-anchor="middle" dominant-baseline="central">28.12</text>
<text transform="translate(767.8 979.0) rotate(-45)" font-size="11.6" text-anchor="middle" dominant-baseline="central">29.00</text>
<text transform="translate(818.3 979.0) rotate(-45)" font-size="11.6" text-anchor="middle" dominant-baseline="central">29.12</text>
<text transform="translate(868.7 979.0) rotate(-45)" font-size="11.6" text-anchor="middle" dominant-baseline="central">30.00</text>
<text transform="translate(96 885.6) rotate(-90)" font-size="25.4" text-anchor="middle" textLength="144.2" lengthAdjust="spacingAndGlyphs">PRECIP, mm</text>
</svg>
</body></html>
